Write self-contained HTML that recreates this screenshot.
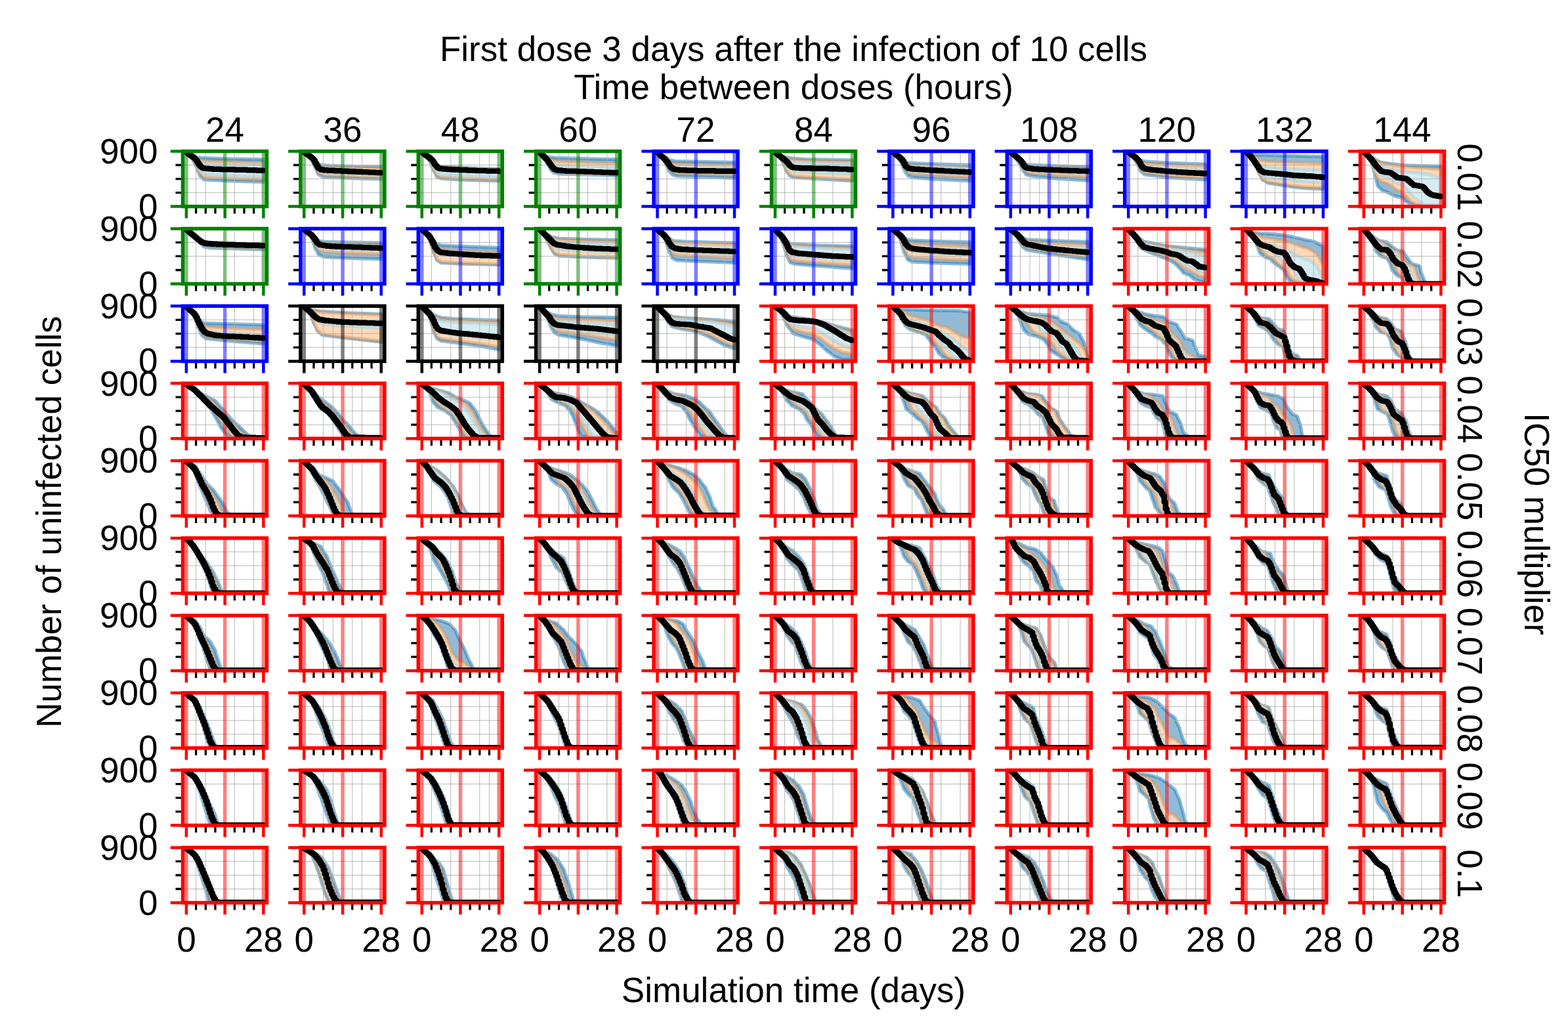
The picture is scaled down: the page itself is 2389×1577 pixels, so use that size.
<!DOCTYPE html>
<html><head><meta charset="utf-8"><title>First dose 3 days after the infection of 10 cells</title>
<style>html,body{margin:0;padding:0;background:#fff;overflow:hidden}svg{display:block}text{font-family:"Liberation Sans",sans-serif;font-size:53px;fill:#000}</style></head><body>
<svg width="2389" height="1577" viewBox="0 0 2389 1577">
<rect width="2389" height="1577" fill="#fff"/>
<g><clipPath id="c0_0"><rect x="278.5" y="230.5" width="128" height="84.1"/></clipPath><g clip-path="url(#c0_0)"><polygon points="283.9,231.5 288.1,235 290.2,236.5 292.3,237.3 293.4,237.6 294.4,238 299.7,239.5 302.8,239.8 303.9,240 304.9,240.1 309.1,240.5 310.2,240.6 311.2,240.6 353.2,242.1 401.4,242.8 401.4,277.3 353.2,275.9 311.2,274 310.2,273.3 309.1,272 304.9,268.5 303.9,266.6 302.8,263 299.7,255.7 294.4,244.1 293.4,242.5 292.3,241.5 290.2,238.1 288.1,235 283.9,231.5" fill="#8fbbd9" stroke="#1f77b4" stroke-opacity="0.5" stroke-width="5.2" stroke-linejoin="round"/><polygon points="283.9,231.5 288.1,235 291.3,237 292.3,237.5 294.4,238.4 300.7,241.5 302.8,242.7 303.9,243.2 304.9,243.6 308.1,244.8 310.2,245.1 311.2,245.3 351.1,246.8 401.4,247.8 401.4,273.5 351.1,272 311.2,270.2 310.2,269.6 308.1,267.7 304.9,265 303.9,263.1 302.8,260 300.7,255.4 294.4,243.1 292.3,240.7 291.3,239.3 288.1,235 283.9,231.5" fill="#ffd9b7" stroke="#dc985d" stroke-opacity="0.5" stroke-width="5.2" stroke-linejoin="round"/><polygon points="283.9,231.5 289.2,235.9 292.3,237.7 294.4,238.7 299.7,242.3 302.8,245.2 303.9,246 304.9,246.8 307,248.4 311.2,249.4 341.6,250.9 401.4,252.2 401.4,269 341.6,267.3 311.2,265.6 307,262.9 304.9,260.7 303.9,259.1 302.8,256.6 299.7,250.3 294.4,241.8 292.3,239.8 289.2,236.2 283.9,231.5" fill="#d6ecf3" stroke="#a5cfde" stroke-opacity="0.5" stroke-width="5.2" stroke-linejoin="round"/><path d="M298.6 230.5V314.6M313.3 230.5V314.6M357.4 230.5V314.6M386.7 230.5V314.6M278.5 293.6H406.5M278.5 272.6H406.5M278.5 251.5H406.5" stroke="#b0b0b0" stroke-width="0.9" fill="none"/><path d="M283.9 230.5V314.6M342.7 230.5V314.6M401.4 230.5V314.6" stroke="#008000" stroke-opacity="0.5" stroke-width="5.5" fill="none"/><path d="M283.9 232.4H286V234.2H288.1V235.9H290.2V237.3H292.3V238.7H294.4V240.1H296.5V242.1H298.6V244.6H300.7V248H302.8V251H304.9V253.6H307V255.4H309.1V256.2H311.2V256.8H317.5V257.3H323.8V257.8H336.4V258.2H357.4V258.7H376.2V259.2H390.9V259.7H401.4V259.9" fill="none" stroke="#000" stroke-width="8.4" stroke-linejoin="round" stroke-linecap="round"/></g><path d="M298.6 314.6v11M313.3 314.6v11M328 314.6v11M357.4 314.6v11M372 314.6v11M386.7 314.6v11M278.5 293.6h-11M278.5 272.6h-11M278.5 251.5h-11" stroke="#000" stroke-width="3.3" fill="none"/><path d="M283.9 314.6v18M342.7 314.6v18M401.4 314.6v18M278.5 314.6h-18.7M278.5 230.5h-18.7" stroke="#008000" stroke-width="4.5" fill="none"/><rect x="278.5" y="230.5" width="128" height="84.1" fill="none" stroke="#008000" stroke-width="5.5"/></g>
<g><clipPath id="c0_1"><rect x="457.9" y="230.5" width="128" height="84.1"/></clipPath><g clip-path="url(#c0_1)"><polygon points="463.3,231.5 467.5,234.5 469.6,236.1 472.8,237.9 473.8,238.5 474.9,239.6 478,242.3 480.1,244.1 483.3,247.4 484.3,248.4 485.4,249.5 486.4,250.5 487.5,251 492.7,251.5 502.2,252.4 545.2,253.5 580.8,254.1 580.8,272.8 545.2,271.9 502.2,270.3 492.7,269.8 487.5,267.3 486.4,266.7 485.4,266.2 484.3,264.7 483.3,261.3 480.1,255.6 478,250.8 474.9,243.8 473.8,242.7 472.8,242 469.6,237.8 467.5,234.5 463.3,231.5" fill="#8fbbd9" stroke="#1f77b4" stroke-opacity="0.5" stroke-width="5.2" stroke-linejoin="round"/><polygon points="463.3,231.5 467.5,234.5 470.7,236.9 472.8,238 474.9,239.7 478,242.5 481.2,246.1 483.3,248.6 484.3,249.9 485.4,251.1 487.5,252.6 492.7,253.4 502.2,254.3 579.8,256.4 580.8,256.4 580.8,270.5 579.8,270.5 502.2,267.7 492.7,267.1 487.5,264.8 485.4,263.7 484.3,262.1 483.3,259.1 481.2,255.4 478,248.8 474.9,242.9 472.8,241.1 470.7,238.6 467.5,234.5 463.3,231.5" fill="#ffd9b7" stroke="#dc985d" stroke-opacity="0.5" stroke-width="5.2" stroke-linejoin="round"/><polygon points="463.3,231.5 467.5,234.5 472.8,238.3 474.9,239.9 478,242.8 479.1,244.1 482.2,249.4 483.3,250.9 484.3,252.5 485.4,254 488.5,255.8 491.7,256.7 504.3,257.7 580.8,260.6 580.8,267.2 504.3,264.2 491.7,263.1 488.5,261.9 485.4,260.1 484.3,258.4 483.3,256 482.2,254.2 479.1,248 478,246.1 474.9,241.5 472.8,239.9 467.5,234.5 463.3,231.5" fill="#d6ecf3" stroke="#a5cfde" stroke-opacity="0.5" stroke-width="5.2" stroke-linejoin="round"/><path d="M492.7 230.5V314.6M507.4 230.5V314.6M536.8 230.5V314.6M551.4 230.5V314.6M457.9 293.6H585.9M457.9 272.6H585.9M457.9 251.5H585.9" stroke="#b0b0b0" stroke-width="0.9" fill="none"/><path d="M463.3 230.5V314.6M522.1 230.5V314.6M580.8 230.5V314.6" stroke="#008000" stroke-opacity="0.5" stroke-width="5.5" fill="none"/><path d="M463.3 232.3H465.4V233.8H467.5V235.3H469.6V236.9H471.7V238.4H473.8V240H475.9V241.9H478V244.5H480.1V248.8H482.2V252.4H484.3V256H486.4V257.3H488.5V258.5H492.7V259.2H499V259.8H509.5V260.2H520V260.7H530.5V261.2H541V261.7H551.4V262.1H561.9V262.6H572.4V263.1H580.8V263.4" fill="none" stroke="#000" stroke-width="8.4" stroke-linejoin="round" stroke-linecap="round"/></g><path d="M478 314.6v11M492.7 314.6v11M507.4 314.6v11M536.8 314.6v11M551.4 314.6v11M566.1 314.6v11M457.9 293.6h-11M457.9 272.6h-11M457.9 251.5h-11" stroke="#000" stroke-width="3.3" fill="none"/><path d="M463.3 314.6v18M522.1 314.6v18M580.8 314.6v18M457.9 314.6h-18.7M457.9 230.5h-18.7" stroke="#008000" stroke-width="4.5" fill="none"/><rect x="457.9" y="230.5" width="128" height="84.1" fill="none" stroke="#008000" stroke-width="5.5"/></g>
<g><clipPath id="c0_2"><rect x="637.3" y="230.5" width="128" height="84.1"/></clipPath><g clip-path="url(#c0_2)"><polygon points="642.8,231.5 646.9,234.8 650.1,237.2 652.2,238.3 653.2,238.9 654.3,240.1 656.4,242 658.5,243.9 659.5,245.1 660.6,246.4 663.7,250.4 664.8,251.7 665.8,252.4 669,252.9 672.1,253.7 706.7,255.5 760.2,257.6 760.2,275.6 706.7,274.1 672.1,272.1 669,270.8 665.8,269.4 664.8,267.7 663.7,265 660.6,260 659.5,257.6 658.5,254.3 656.4,249.1 654.3,244.4 653.2,243.4 652.2,242.4 650.1,239.2 646.9,234.8 642.8,231.5" fill="#8fbbd9" stroke="#1f77b4" stroke-opacity="0.5" stroke-width="5.2" stroke-linejoin="round"/><polygon points="642.8,231.5 646.9,234.8 651.1,237.9 652.2,238.4 654.3,240.1 656.4,242 658.5,243.9 659.5,245.1 660.6,246.5 663.7,250.6 664.8,251.9 665.8,252.7 672.1,254.4 707.8,256.3 760.2,258.3 760.2,273.8 707.8,272.4 672.1,270.3 665.8,267.5 664.8,265.9 663.7,263.4 660.6,258.5 659.5,256.1 658.5,253.1 656.4,248.2 654.3,243.9 652.2,241.9 651.1,240.5 646.9,234.8 642.8,231.5" fill="#ffd9b7" stroke="#dc985d" stroke-opacity="0.5" stroke-width="5.2" stroke-linejoin="round"/><polygon points="642.8,231.5 648,235.7 652.2,238.6 654.3,240.2 657.4,243 659.5,245.1 661.6,248.4 663.7,251.3 664.8,252.5 665.8,253.6 667.9,255.2 672.1,256.5 703.6,258.4 760.2,260.4 760.2,269.8 703.6,268.1 672.1,266.1 667.9,264.5 665.8,263.2 664.8,261.7 663.7,259.6 661.6,256.4 659.5,252.6 657.4,248.2 654.3,242.8 652.2,240.9 648,235.9 642.8,231.5" fill="#d6ecf3" stroke="#a5cfde" stroke-opacity="0.5" stroke-width="5.2" stroke-linejoin="round"/><path d="M657.4 230.5V314.6M686.8 230.5V314.6M730.8 230.5V314.6M745.5 230.5V314.6M637.3 293.6H765.3M637.3 272.6H765.3M637.3 251.5H765.3" stroke="#b0b0b0" stroke-width="0.9" fill="none"/><path d="M642.8 230.5V314.6M701.5 230.5V314.6M760.2 230.5V314.6" stroke="#008000" stroke-opacity="0.5" stroke-width="5.5" fill="none"/><path d="M642.8 232.4H644.8V234H646.9V235.7H649V237.2H651.1V238.7H653.2V240.2H655.3V242H657.4V243.9H659.5V246.8H661.6V250.3H663.7V252.7H665.8V255.2H667.9V256.2H670V257H674.2V257.5H680.5V258H688.9V258.5H699.4V259H712V259.6H724.6V260.1H741.3V260.6H760.2V261.1" fill="none" stroke="#000" stroke-width="8.4" stroke-linejoin="round" stroke-linecap="round"/></g><path d="M657.4 314.6v11M672.1 314.6v11M686.8 314.6v11M716.2 314.6v11M730.8 314.6v11M745.5 314.6v11M637.3 293.6h-11M637.3 272.6h-11M637.3 251.5h-11" stroke="#000" stroke-width="3.3" fill="none"/><path d="M642.8 314.6v18M701.5 314.6v18M760.2 314.6v18M637.3 314.6h-18.7M637.3 230.5h-18.7" stroke="#008000" stroke-width="4.5" fill="none"/><rect x="637.3" y="230.5" width="128" height="84.1" fill="none" stroke="#008000" stroke-width="5.5"/></g>
<g><clipPath id="c0_3"><rect x="816.7" y="230.5" width="128" height="84.1"/></clipPath><g clip-path="url(#c0_3)"><polygon points="822.2,231.5 826.3,236 832.6,238.4 836.8,239.1 838.9,239.5 844.2,240.1 850.5,240.4 895.6,241.9 939.6,242.8 939.6,267.6 895.6,266.1 850.5,264.8 844.2,263.5 838.9,258.7 836.8,253.9 832.6,246.5 826.3,236.2 822.2,231.5" fill="#8fbbd9" stroke="#1f77b4" stroke-opacity="0.5" stroke-width="5.2" stroke-linejoin="round"/><polygon points="822.2,231.5 826.3,236 834.7,240.5 836.8,241.7 838.9,242.8 844.2,245.1 850.5,245.9 898.7,247.7 939.6,248.8 939.6,265.9 898.7,264.5 850.5,262.7 844.2,261 838.9,255.6 836.8,251.5 834.7,248.1 826.3,236.2 822.2,231.5" fill="#ffd9b7" stroke="#dc985d" stroke-opacity="0.5" stroke-width="5.2" stroke-linejoin="round"/><polygon points="822.2,231.5 826.3,236.1 833.7,241.7 838.9,246.6 844.2,250.8 850.5,252.3 874.6,253.5 939.6,255.6 939.6,264.7 874.6,262.3 850.5,261.1 844.2,259.2 838.9,253.2 833.7,245 826.3,236.2 822.2,231.5" fill="#d6ecf3" stroke="#a5cfde" stroke-opacity="0.5" stroke-width="5.2" stroke-linejoin="round"/><path d="M851.5 230.5V314.6M866.2 230.5V314.6M895.6 230.5V314.6M924.9 230.5V314.6M816.7 293.6H944.7M816.7 272.6H944.7M816.7 251.5H944.7" stroke="#b0b0b0" stroke-width="0.9" fill="none"/><path d="M822.2 230.5V314.6M880.9 230.5V314.6M939.6 230.5V314.6" stroke="#008000" stroke-opacity="0.5" stroke-width="5.5" fill="none"/><path d="M822.2 232.7H824.2V235H826.3V237.3H828.4V239.4H830.5V241.5H832.6V243.6H834.7V246.5H836.8V249.4H838.9V252.3H841V254.9H843.1V257.3H845.2V258.2H847.3V259H849.4V259.5H855.7V260.1H862V260.6H878.8V261.1H891.4V261.6H904V262.1H916.5V262.6H929.1V263H939.6V263.4" fill="none" stroke="#000" stroke-width="8.4" stroke-linejoin="round" stroke-linecap="round"/></g><path d="M836.8 314.6v11M851.5 314.6v11M866.2 314.6v11M895.6 314.6v11M910.2 314.6v11M924.9 314.6v11M816.7 293.6h-11M816.7 272.6h-11M816.7 251.5h-11" stroke="#000" stroke-width="3.3" fill="none"/><path d="M822.2 314.6v18M880.9 314.6v18M939.6 314.6v18M816.7 314.6h-18.7M816.7 230.5h-18.7" stroke="#008000" stroke-width="4.5" fill="none"/><rect x="816.7" y="230.5" width="128" height="84.1" fill="none" stroke="#008000" stroke-width="5.5"/></g>
<g><clipPath id="c0_4"><rect x="996.1" y="230.5" width="128" height="84.1"/></clipPath><g clip-path="url(#c0_4)"><polygon points="1001.6,231.5 1005.7,235.9 1011,238 1013.1,239.4 1016.2,241.5 1018.3,242.8 1019.4,243.2 1022.5,244 1023.6,244.3 1026.7,245.3 1030.9,245.6 1093.8,246.8 1119,247.3 1119,271.3 1093.8,270.3 1030.9,268.3 1026.7,267 1023.6,265.6 1022.5,264.1 1019.4,260.8 1018.3,259.3 1016.2,254 1013.1,247.7 1011,244.6 1005.7,236 1001.6,231.5" fill="#8fbbd9" stroke="#1f77b4" stroke-opacity="0.5" stroke-width="5.2" stroke-linejoin="round"/><polygon points="1001.6,231.5 1005.7,236 1012,239.4 1014.1,241.2 1017.3,243.8 1018.3,244.7 1022.5,247.3 1024.6,248.1 1028.8,249.4 1036.2,249.8 1119,251.4 1119,266.7 1036.2,264.3 1028.8,263.5 1024.6,261.8 1022.5,260 1018.3,254.7 1017.3,252.6 1014.1,247 1012,243.9 1005.7,236 1001.6,231.5" fill="#ffd9b7" stroke="#dc985d" stroke-opacity="0.5" stroke-width="5.2" stroke-linejoin="round"/><polygon points="1001.6,231.5 1005.7,236 1013.1,241.3 1017.3,245.7 1021.5,250.2 1022.5,251.2 1027.8,253.8 1037.2,254.7 1119,256.2 1119,263.6 1037.2,261.7 1027.8,260.5 1022.5,257.4 1021.5,256 1017.3,249.8 1013.1,243.7 1005.7,236 1001.6,231.5" fill="#d6ecf3" stroke="#a5cfde" stroke-opacity="0.5" stroke-width="5.2" stroke-linejoin="round"/><path d="M1016.2 230.5V314.6M1045.6 230.5V314.6M1104.3 230.5V314.6M996.1 293.6H1124.1M996.1 272.6H1124.1M996.1 251.5H1124.1" stroke="#b0b0b0" stroke-width="0.9" fill="none"/><path d="M1001.6 230.5V314.6M1060.3 230.5V314.6M1119 230.5V314.6" stroke="#0000ff" stroke-opacity="0.5" stroke-width="5.5" fill="none"/><path d="M1001.6 232.7H1003.6V234.9H1005.7V237.1H1007.8V238.8H1009.9V240.6H1012V242.3H1014.1V244.9H1016.2V247.5H1018.3V250.6H1020.4V253.7H1022.5V255.7H1024.6V257H1026.7V258.2H1030.9V258.8H1035.1V259.3H1045.6V259.8H1060.3V260.3H1089.6V260.7H1119V261.1" fill="none" stroke="#000" stroke-width="8.4" stroke-linejoin="round" stroke-linecap="round"/></g><path d="M1016.2 314.6v11M1030.9 314.6v11M1045.6 314.6v11M1075 314.6v11M1089.6 314.6v11M1104.3 314.6v11M996.1 293.6h-11M996.1 272.6h-11M996.1 251.5h-11" stroke="#000" stroke-width="3.3" fill="none"/><path d="M1001.6 314.6v18M1060.3 314.6v18M1119 314.6v18M996.1 314.6h-18.7M996.1 230.5h-18.7" stroke="#0000ff" stroke-width="4.5" fill="none"/><rect x="996.1" y="230.5" width="128" height="84.1" fill="none" stroke="#0000ff" stroke-width="5.5"/></g>
<g><clipPath id="c0_5"><rect x="1175.5" y="230.5" width="128" height="84.1"/></clipPath><g clip-path="url(#c0_5)"><polygon points="1181,231.5 1185.1,235.3 1186.2,235.9 1192.5,237.9 1195.6,238.7 1197.7,239.2 1198.8,239.5 1201.9,240.2 1203,240.5 1204,240.7 1210.3,241.4 1227.1,242.5 1298.4,243.9 1298.4,275.6 1227.1,271.5 1210.3,270.5 1204,268.4 1203,267.5 1201.9,265.5 1198.8,261.7 1197.7,259.8 1195.6,254 1192.5,247.2 1186.2,236.3 1185.1,235.3 1181,231.5" fill="#8fbbd9" stroke="#1f77b4" stroke-opacity="0.5" stroke-width="5.2" stroke-linejoin="round"/><polygon points="1181,231.5 1185.1,235.3 1186.2,236 1192.5,238.4 1195.6,239.5 1197.7,240.1 1198.8,240.5 1201.9,241.7 1203,242.1 1204,242.5 1210.3,243.5 1227.1,244.6 1298.4,246.1 1298.4,273.5 1227.1,269.7 1210.3,268.7 1204,266.5 1203,265.6 1201.9,263.6 1198.8,259.8 1197.7,258 1195.6,252.8 1192.5,246.5 1186.2,236.3 1185.1,235.3 1181,231.5" fill="#ffd9b7" stroke="#dc985d" stroke-opacity="0.5" stroke-width="5.2" stroke-linejoin="round"/><polygon points="1181,231.5 1186.2,236.1 1193.5,239.7 1198.8,242.2 1203,244.9 1207.2,246.6 1212.4,247.2 1229.2,248.1 1298.4,249.7 1298.4,265.2 1229.2,262.5 1212.4,261.6 1207.2,260.6 1203,257.9 1198.8,252.4 1193.5,244.9 1186.2,236.3 1181,231.5" fill="#d6ecf3" stroke="#a5cfde" stroke-opacity="0.5" stroke-width="5.2" stroke-linejoin="round"/><path d="M1195.6 230.5V314.6M1210.3 230.5V314.6M1269 230.5V314.6M1175.5 293.6H1303.5M1175.5 272.6H1303.5M1175.5 251.5H1303.5" stroke="#b0b0b0" stroke-width="0.9" fill="none"/><path d="M1181 230.5V314.6M1239.7 230.5V314.6M1298.4 230.5V314.6" stroke="#008000" stroke-opacity="0.5" stroke-width="5.5" fill="none"/><path d="M1181 232.5H1183V234.4H1185.1V236.3H1187.2V237.9H1189.3V239.5H1191.4V241.1H1193.5V242.8H1195.6V244.4H1197.7V246.2H1199.8V248.8H1201.9V251.5H1204V253.1H1206.1V254.7H1208.2V255.2H1212.4V255.7H1218.7V256.2H1235.5V256.7H1262.8V257.2H1277.4V257.6H1292.1V258.2H1298.4V258.3" fill="none" stroke="#000" stroke-width="8.4" stroke-linejoin="round" stroke-linecap="round"/></g><path d="M1195.6 314.6v11M1210.3 314.6v11M1225 314.6v11M1254.4 314.6v11M1269 314.6v11M1283.7 314.6v11M1175.5 293.6h-11M1175.5 272.6h-11M1175.5 251.5h-11" stroke="#000" stroke-width="3.3" fill="none"/><path d="M1181 314.6v18M1239.7 314.6v18M1298.4 314.6v18M1175.5 314.6h-18.7M1175.5 230.5h-18.7" stroke="#008000" stroke-width="4.5" fill="none"/><rect x="1175.5" y="230.5" width="128" height="84.1" fill="none" stroke="#008000" stroke-width="5.5"/></g>
<g><clipPath id="c0_6"><rect x="1354.9" y="230.5" width="128" height="84.1"/></clipPath><g clip-path="url(#c0_6)"><polygon points="1360.4,231.5 1364.5,234.9 1365.6,235.8 1367.7,237.4 1370.8,238.7 1371.9,239.2 1372.9,240.1 1375,242.6 1376.1,243.7 1377.1,244.7 1378.2,245.8 1379.2,246.5 1382.4,247.2 1383.4,247.6 1387.6,248.5 1392.9,248.7 1424.3,249.8 1477.8,251.4 1477.8,275.6 1424.3,273.1 1392.9,270.7 1387.6,269.5 1383.4,268 1382.4,266.3 1379.2,262.2 1378.2,260.7 1377.1,258.1 1376.1,254.9 1375,252.6 1372.9,248 1371.9,246.2 1370.8,245 1367.7,239.8 1365.6,236.3 1364.5,234.9 1360.4,231.5" fill="#8fbbd9" stroke="#1f77b4" stroke-opacity="0.5" stroke-width="5.2" stroke-linejoin="round"/><polygon points="1360.4,231.5 1365.6,235.8 1368.7,238 1372.9,240.5 1376.1,244.3 1378.2,247 1379.2,248.1 1383.4,250.1 1385.5,250.8 1393.9,251.5 1430.6,253.1 1477.8,254.7 1477.8,269.7 1430.6,267.4 1393.9,265 1385.5,263.4 1383.4,262.5 1379.2,257.5 1378.2,255.7 1376.1,250.7 1372.9,245.1 1368.7,240.1 1365.6,236 1360.4,231.5" fill="#ffd9b7" stroke="#dc985d" stroke-opacity="0.5" stroke-width="5.2" stroke-linejoin="round"/><polygon points="1360.4,231.5 1365.6,235.8 1370.8,239.3 1372.9,240.8 1376.1,244.6 1379.2,249.1 1383.4,251.7 1384.5,252.3 1396,253.4 1445.3,255.7 1477.8,256.9 1477.8,265.7 1445.3,264.2 1396,261.3 1384.5,259.6 1383.4,258.9 1379.2,254.4 1376.1,247.9 1372.9,243.1 1370.8,241.1 1365.6,235.9 1360.4,231.5" fill="#d6ecf3" stroke="#a5cfde" stroke-opacity="0.5" stroke-width="5.2" stroke-linejoin="round"/><path d="M1389.7 230.5V314.6M1433.8 230.5V314.6M1463.1 230.5V314.6M1354.9 293.6H1482.9M1354.9 272.6H1482.9M1354.9 251.5H1482.9" stroke="#b0b0b0" stroke-width="0.9" fill="none"/><path d="M1360.4 230.5V314.6M1419.1 230.5V314.6M1477.8 230.5V314.6" stroke="#0000ff" stroke-opacity="0.5" stroke-width="5.5" fill="none"/><path d="M1360.4 232.3H1362.4V234H1364.5V235.8H1366.6V237.4H1368.7V239H1370.8V240.6H1372.9V242.8H1375V245.6H1377.1V249.7H1379.2V253.2H1381.3V255H1383.4V256.6H1387.6V257.2H1391.8V257.8H1400.2V258.4H1408.6V258.9H1417V259.5H1427.5V260H1438V260.6H1448.4V261.1H1458.9V261.6H1469.4V262.1H1477.8V262.5" fill="none" stroke="#000" stroke-width="8.4" stroke-linejoin="round" stroke-linecap="round"/></g><path d="M1375 314.6v11M1389.7 314.6v11M1404.4 314.6v11M1433.8 314.6v11M1448.4 314.6v11M1463.1 314.6v11M1354.9 293.6h-11M1354.9 272.6h-11M1354.9 251.5h-11" stroke="#000" stroke-width="3.3" fill="none"/><path d="M1360.4 314.6v18M1419.1 314.6v18M1477.8 314.6v18M1354.9 314.6h-18.7M1354.9 230.5h-18.7" stroke="#0000ff" stroke-width="4.5" fill="none"/><rect x="1354.9" y="230.5" width="128" height="84.1" fill="none" stroke="#0000ff" stroke-width="5.5"/></g>
<g><clipPath id="c0_7"><rect x="1534.3" y="230.5" width="128" height="84.1"/></clipPath><g clip-path="url(#c0_7)"><polygon points="1539.8,231.5 1543.9,234.8 1545,235.7 1548.1,238.2 1550.2,239.2 1551.3,240 1553.4,242.6 1555.5,244.7 1557.6,246.7 1559.7,248 1561.8,248.9 1562.8,249.5 1564.9,250.5 1570.2,251 1602.7,252.5 1657.2,254.1 1657.2,275.1 1602.7,271.6 1570.2,268.1 1564.9,266.6 1562.8,265.6 1561.8,263.7 1559.7,261.1 1557.6,258.3 1555.5,253.8 1553.4,250 1551.3,246.4 1550.2,244.8 1548.1,241.4 1545,236.1 1543.9,234.8 1539.8,231.5" fill="#8fbbd9" stroke="#1f77b4" stroke-opacity="0.5" stroke-width="5.2" stroke-linejoin="round"/><polygon points="1539.8,231.5 1545,235.7 1549.2,238.9 1551.3,240.4 1555.5,244.8 1558.6,248.4 1561.8,250.8 1562.8,251.5 1564.9,252.8 1574.4,253.7 1606.9,255.3 1657.2,256.9 1657.2,269.5 1606.9,266.8 1574.4,264.2 1564.9,262.4 1562.8,261.2 1561.8,259.7 1558.6,255.7 1555.5,250.3 1551.3,244.3 1549.2,241.6 1545,235.9 1539.8,231.5" fill="#ffd9b7" stroke="#dc985d" stroke-opacity="0.5" stroke-width="5.2" stroke-linejoin="round"/><polygon points="1539.8,231.5 1545,235.7 1552.3,241.8 1556.5,246 1559.7,250.4 1561.8,252.3 1564.9,254.4 1577.5,255.9 1626.8,258 1657.2,259 1657.2,264.6 1626.8,263.3 1577.5,260.6 1564.9,258.7 1561.8,256.2 1559.7,253.9 1556.5,248.7 1552.3,243.5 1545,235.8 1539.8,231.5" fill="#d6ecf3" stroke="#a5cfde" stroke-opacity="0.5" stroke-width="5.2" stroke-linejoin="round"/><path d="M1554.4 230.5V314.6M1569.1 230.5V314.6M1583.8 230.5V314.6M1613.2 230.5V314.6M1627.8 230.5V314.6M1534.3 293.6H1662.3M1534.3 272.6H1662.3M1534.3 251.5H1662.3" stroke="#b0b0b0" stroke-width="0.9" fill="none"/><path d="M1539.8 230.5V314.6M1598.5 230.5V314.6M1657.2 230.5V314.6" stroke="#0000ff" stroke-opacity="0.5" stroke-width="5.5" fill="none"/><path d="M1539.8 232.3H1541.8V234H1543.9V235.7H1546V237.4H1548.1V239.2H1550.2V241.1H1552.3V243H1554.4V245.1H1556.5V247.8H1558.6V251.5H1560.7V253.7H1562.8V255.3H1564.9V256.3H1569.1V256.9H1573.3V257.6H1581.7V258.1H1592.2V258.6H1602.7V259.1H1615.3V259.6H1627.8V260.1H1642.5V260.6H1657.2V261.1" fill="none" stroke="#000" stroke-width="8.4" stroke-linejoin="round" stroke-linecap="round"/></g><path d="M1554.4 314.6v11M1569.1 314.6v11M1583.8 314.6v11M1613.2 314.6v11M1627.8 314.6v11M1642.5 314.6v11M1534.3 293.6h-11M1534.3 272.6h-11M1534.3 251.5h-11" stroke="#000" stroke-width="3.3" fill="none"/><path d="M1539.8 314.6v18M1598.5 314.6v18M1657.2 314.6v18M1534.3 314.6h-18.7M1534.3 230.5h-18.7" stroke="#0000ff" stroke-width="4.5" fill="none"/><rect x="1534.3" y="230.5" width="128" height="84.1" fill="none" stroke="#0000ff" stroke-width="5.5"/></g>
<g><clipPath id="c0_8"><rect x="1713.7" y="230.5" width="128" height="84.1"/></clipPath><g clip-path="url(#c0_8)"><polygon points="1719.2,231.5 1724.4,235.6 1726.5,237.2 1729.6,238.5 1731.7,239.8 1734.9,241.9 1737,243.3 1738,243.9 1742.2,245.2 1743.3,245.6 1746.4,246.2 1781,248.2 1836.6,250 1836.6,274 1781,270.7 1746.4,266.4 1743.3,265.7 1742.2,264.4 1738,260.8 1737,259.4 1734.9,253.9 1731.7,247.7 1729.6,244.6 1726.5,239.4 1724.4,235.8 1719.2,231.5" fill="#8fbbd9" stroke="#1f77b4" stroke-opacity="0.5" stroke-width="5.2" stroke-linejoin="round"/><polygon points="1719.2,231.5 1724.4,235.6 1727.5,237.7 1731.7,240.1 1734.9,242.5 1737,244.2 1739.1,245.9 1743.3,247.7 1745.4,248.4 1781,250.8 1836.6,252.9 1836.6,271.1 1781,267.9 1745.4,263.6 1743.3,262.9 1739.1,258.9 1737,256 1734.9,251.3 1731.7,245.7 1727.5,240.2 1724.4,235.7 1719.2,231.5" fill="#ffd9b7" stroke="#dc985d" stroke-opacity="0.5" stroke-width="5.2" stroke-linejoin="round"/><polygon points="1719.2,231.5 1724.4,235.6 1731.7,240.7 1735.9,244.9 1739.1,249.1 1740.1,250.2 1744.3,252.7 1764.2,254.8 1787.3,256.4 1836.6,258.7 1836.6,267.3 1787.3,264.5 1764.2,262.5 1744.3,259.9 1740.1,256.6 1739.1,255.1 1735.9,249.5 1731.7,243.1 1724.4,235.6 1719.2,231.5" fill="#d6ecf3" stroke="#a5cfde" stroke-opacity="0.5" stroke-width="5.2" stroke-linejoin="round"/><path d="M1733.8 230.5V314.6M1763.2 230.5V314.6M1807.2 230.5V314.6M1821.9 230.5V314.6M1713.7 293.6H1841.7M1713.7 272.6H1841.7M1713.7 251.5H1841.7" stroke="#b0b0b0" stroke-width="0.9" fill="none"/><path d="M1719.2 230.5V314.6M1777.9 230.5V314.6M1836.6 230.5V314.6" stroke="#0000ff" stroke-opacity="0.5" stroke-width="5.5" fill="none"/><path d="M1719.2 232.3H1721.2V233.9H1723.3V235.6H1725.4V237.2H1727.5V238.8H1729.6V240.4H1731.7V242.4H1733.8V245.1H1735.9V248.1H1738V252.3H1740.1V254.8H1742.2V256.4H1744.3V257.4H1748.5V258H1752.7V258.7H1756.9V259.1H1763.2V259.8H1769.5V260.4H1775.8V261H1784.2V261.6H1792.6V262.2H1801V262.7H1809.3V263.2H1819.8V263.7H1830.3V264.3H1836.6V264.5" fill="none" stroke="#000" stroke-width="8.4" stroke-linejoin="round" stroke-linecap="round"/></g><path d="M1733.8 314.6v11M1748.5 314.6v11M1763.2 314.6v11M1792.6 314.6v11M1807.2 314.6v11M1821.9 314.6v11M1713.7 293.6h-11M1713.7 272.6h-11M1713.7 251.5h-11" stroke="#000" stroke-width="3.3" fill="none"/><path d="M1719.2 314.6v18M1777.9 314.6v18M1836.6 314.6v18M1713.7 314.6h-18.7M1713.7 230.5h-18.7" stroke="#0000ff" stroke-width="4.5" fill="none"/><rect x="1713.7" y="230.5" width="128" height="84.1" fill="none" stroke="#0000ff" stroke-width="5.5"/></g>
<g><clipPath id="c0_9"><rect x="1893.1" y="230.5" width="128" height="84.1"/></clipPath><g clip-path="url(#c0_9)"><polygon points="1898.6,231.5 1899.6,231.9 1901.7,234 1903.8,234.7 1909,235.2 1910.1,235.4 1912.2,235.6 1913.2,235.7 1915.3,235.9 1916.4,236 1917.4,236 1921.6,236.2 1922.7,236.2 1923.7,236.2 1932.1,236.4 1951,237 1973,237.6 1990.8,238 2016,238.7 2016,288.1 1990.8,287 1973,285.4 1951,281.9 1932.1,278.9 1923.7,274.1 1922.7,272.5 1921.6,269.6 1917.4,262.6 1916.4,260 1915.3,255.9 1913.2,249.3 1912.2,247 1910.1,244.4 1909,242.7 1903.8,236 1901.7,234 1899.6,231.9 1898.6,231.5" fill="#8fbbd9" stroke="#1f77b4" stroke-opacity="0.5" stroke-width="5.2" stroke-linejoin="round"/><polygon points="1898.6,231.5 1899.6,231.9 1901.7,234 1903.8,234.7 1905.9,235 1912.2,238.5 1913.2,239.3 1915.3,240.9 1916.4,241.6 1917.4,242.4 1920.6,244.7 1921.6,244.8 1922.7,244.9 1923.7,245 1932.1,245.9 1944.7,246.7 1969.9,247.4 1990.8,248.1 2016,248.8 2016,286.3 1990.8,285.2 1969.9,283.2 1944.7,279.1 1932.1,277.3 1923.7,272.8 1922.7,271.3 1921.6,268.7 1920.6,267 1917.4,261.9 1916.4,259.4 1915.3,255.5 1913.2,249.2 1912.2,247 1905.9,238.5 1903.8,236 1901.7,234 1899.6,231.9 1898.6,231.5" fill="#ffd9b7" stroke="#dc985d" stroke-opacity="0.5" stroke-width="5.2" stroke-linejoin="round"/><polygon points="1898.6,231.5 1899.6,231.9 1904.8,236.7 1912.2,243.4 1914.3,245.3 1916.4,247.4 1918.5,249.6 1920.6,251.7 1921.6,252.7 1922.7,253.8 1924.8,254.1 1929,254.7 1933.2,255.3 1945.7,256.5 1976.2,258 2016,259.5 2016,278.3 1976.2,275.8 1945.7,271.9 1933.2,270.5 1929,269.4 1924.8,267.8 1922.7,266.1 1921.6,264.4 1920.6,263.3 1918.5,260 1916.4,256.3 1914.3,251.2 1912.2,247 1904.8,237.2 1899.6,231.9 1898.6,231.5" fill="#d6ecf3" stroke="#a5cfde" stroke-opacity="0.5" stroke-width="5.2" stroke-linejoin="round"/><path d="M1927.9 230.5V314.6M1942.6 230.5V314.6M1972 230.5V314.6M2001.3 230.5V314.6M1893.1 293.6H2021.1M1893.1 272.6H2021.1M1893.1 251.5H2021.1" stroke="#b0b0b0" stroke-width="0.9" fill="none"/><path d="M1898.6 230.5V314.6M1957.3 230.5V314.6M2016 230.5V314.6" stroke="#0000ff" stroke-opacity="0.5" stroke-width="5.5" fill="none"/><path d="M1898.6 231.9H1900.6V234H1902.7V236H1904.8V238.5H1906.9V241.3H1909V244.1H1911.1V247H1913.2V250.2H1915.3V253.3H1917.4V256.5H1919.5V259.5H1921.6V260.8H1923.7V262.1H1925.8V263H1932.1V263.6H1938.4V264.1H1944.7V264.7H1951V265.2H1957.3V265.8H1961.5V266.3H1965.7V266.8H1969.9V267.3H1978.3V267.8H1988.7V268.3H1999.2V268.9H2005.5V269.4H2011.8V270H2016V270.2" fill="none" stroke="#000" stroke-width="8.4" stroke-linejoin="round" stroke-linecap="round"/></g><path d="M1913.2 314.6v11M1927.9 314.6v11M1942.6 314.6v11M1972 314.6v11M1986.6 314.6v11M2001.3 314.6v11M1893.1 293.6h-11M1893.1 272.6h-11M1893.1 251.5h-11" stroke="#000" stroke-width="3.3" fill="none"/><path d="M1898.6 314.6v18M1957.3 314.6v18M2016 314.6v18M1893.1 314.6h-18.7M1893.1 230.5h-18.7" stroke="#0000ff" stroke-width="4.5" fill="none"/><rect x="1893.1" y="230.5" width="128" height="84.1" fill="none" stroke="#0000ff" stroke-width="5.5"/></g>
<g><clipPath id="c0_10"><rect x="2072.5" y="230.5" width="128" height="84.1"/></clipPath><g clip-path="url(#c0_10)"><polygon points="2077.9,231.5 2083.2,236 2085.3,238 2087.4,239 2088.4,239.6 2089.5,240.1 2093.7,242.2 2096.8,243.7 2097.9,244.3 2098.9,244.8 2103.1,246.9 2105.2,247.5 2113.6,248.7 2126.2,250.3 2134.6,251.3 2135.6,251.4 2136.7,251.5 2139.8,251.6 2140.9,251.7 2143,251.8 2148.2,252 2168.1,252.6 2195.4,253 2195.4,311.9 2168.1,311.9 2148.2,310.3 2143,307.6 2140.9,306.1 2139.8,304.5 2136.7,301.1 2135.6,300.8 2134.6,300.9 2126.2,299.1 2113.6,292.9 2105.2,289.8 2103.1,287.3 2098.9,283.1 2097.9,279.2 2096.8,274.2 2093.7,261.6 2089.5,246.7 2088.4,244.1 2087.4,243.8 2085.3,239.9 2083.2,236 2077.9,231.5" fill="#8fbbd9" stroke="#1f77b4" stroke-opacity="0.5" stroke-width="5.2" stroke-linejoin="round"/><polygon points="2077.9,231.5 2083.2,236 2085.3,238 2087.4,239.2 2088.4,239.8 2089.5,240.4 2092.6,242.2 2097.9,245.2 2104.2,248.6 2111.5,249.8 2115.7,250.3 2125.1,251.9 2129.3,252.7 2135.6,253.4 2146.1,254.3 2150.3,254.8 2157.7,255.4 2169.2,255.9 2184.9,257.3 2195.4,257.6 2195.4,311.9 2184.9,311.9 2169.2,311.9 2157.7,311.1 2150.3,307.4 2146.1,302.7 2135.6,291.3 2129.3,290.1 2125.1,287.2 2115.7,279.9 2111.5,278.6 2104.2,276.2 2097.9,269.9 2092.6,257.7 2089.5,246.7 2088.4,244.1 2087.4,243.8 2085.3,239.9 2083.2,236 2077.9,231.5" fill="#ffd9b7" stroke="#dc985d" stroke-opacity="0.5" stroke-width="5.2" stroke-linejoin="round"/><polygon points="2077.9,231.5 2083.2,236 2085.3,238 2086.3,239 2087.4,239.9 2088.4,240.9 2089.5,241.8 2090.5,242.8 2094.7,246.6 2095.8,247.5 2097.9,249.3 2104.2,252.5 2111.5,256.1 2115.7,257.1 2125.1,259.3 2135.6,261.8 2143,262.2 2152.4,262.8 2163.9,264 2170.2,264.6 2176.5,265.6 2194.4,270.9 2195.4,270.9 2195.4,311.9 2194.4,311.9 2176.5,311.9 2170.2,311.7 2163.9,307.7 2152.4,299.4 2143,287.7 2135.6,281 2125.1,277.7 2115.7,270.8 2111.5,269.5 2104.2,267.1 2097.9,262.5 2095.8,260.9 2094.7,259.1 2090.5,250.2 2089.5,246.7 2088.4,244.1 2087.4,243.5 2086.3,241.3 2085.3,239.9 2083.2,236 2077.9,231.5" fill="#d6ecf3" stroke="#a5cfde" stroke-opacity="0.5" stroke-width="5.2" stroke-linejoin="round"/><path d="M2092.6 230.5V314.6M2122 230.5V314.6M2166 230.5V314.6M2072.5 293.6H2200.5M2072.5 272.6H2200.5M2072.5 251.5H2200.5" stroke="#b0b0b0" stroke-width="0.9" fill="none"/><path d="M2077.9 230.5V314.6M2136.7 230.5V314.6M2195.4 230.5V314.6" stroke="#ff0000" stroke-opacity="0.5" stroke-width="5.5" fill="none"/><path d="M2077.9 232.3H2080V234.1H2082.1V236H2084.2V238.1H2086.3V240.6H2088.4V243H2090.5V245.6H2092.6V248.4H2094.7V251.2H2096.8V254H2098.9V256.1H2101V258.2H2103.1V260.3H2105.2V261.1H2107.3V261.7H2109.4V262.2H2113.6V262.7H2117.8V263.4H2119.9V264.7H2122V266.1H2124.1V267.5H2126.2V269.1H2128.3V270.7H2132.5V271.3H2136.7V271.8H2140.9V272.3H2143V273.2H2145.1V275.2H2147.2V277.1H2149.3V279H2151.4V280.6H2153.5V282.2H2157.7V282.9H2161.8V283.6H2166V284.3H2168.1V285.7H2170.2V288.1H2172.3V290.6H2174.4V292.8H2176.5V294.4H2178.6V295.9H2180.7V296.6H2182.8V297.3H2184.9V298H2189.1V298.7H2193.3V299.3H2195.4" fill="none" stroke="#000" stroke-width="8.4" stroke-linejoin="round" stroke-linecap="round"/></g><path d="M2092.6 314.6v11M2107.3 314.6v11M2122 314.6v11M2151.4 314.6v11M2166 314.6v11M2180.7 314.6v11M2072.5 293.6h-11M2072.5 272.6h-11M2072.5 251.5h-11" stroke="#000" stroke-width="3.3" fill="none"/><path d="M2077.9 314.6v18M2136.7 314.6v18M2195.4 314.6v18M2072.5 314.6h-18.7M2072.5 230.5h-18.7" stroke="#ff0000" stroke-width="4.5" fill="none"/><rect x="2072.5" y="230.5" width="128" height="84.1" fill="none" stroke="#ff0000" stroke-width="5.5"/></g>
<g><clipPath id="c1_0"><rect x="278.5" y="348.4" width="128" height="84.1"/></clipPath><g clip-path="url(#c1_0)"><polygon points="283.9,349.3 289.2,354.1 292.3,355.7 299.7,361.5 306,366.3 308.1,367.6 311.2,368 319.6,369.3 349,370.9 401.4,372.3 401.4,380.4 349,378.7 319.6,377.8 311.2,376.3 308.1,373.4 306,371.7 299.7,365.5 292.3,357.4 289.2,354.1 283.9,349.3" fill="#8fbbd9" stroke="#1f77b4" stroke-opacity="0.5" stroke-width="5.2" stroke-linejoin="round"/><polygon points="283.9,349.3 290.2,354.8 294.4,357.9 304.9,366 307,367.6 311.2,368.8 319.6,370.1 351.1,371.7 401.4,373 401.4,378 351.1,376.6 319.6,375.4 311.2,374 307,371 304.9,369.3 294.4,359.3 290.2,355 283.9,349.3" fill="#ffd9b7" stroke="#dc985d" stroke-opacity="0.5" stroke-width="5.2" stroke-linejoin="round"/><polygon points="283.9,349.3 290.2,354.9 304.9,366.5 307,368.1 312.3,369.9 326.9,371.4 380.4,373.2 401.4,373.7 401.4,376.1 380.4,375.6 326.9,373.8 312.3,372.5 307,369.7 304.9,368.1 290.2,355 283.9,349.3" fill="#d6ecf3" stroke="#a5cfde" stroke-opacity="0.5" stroke-width="5.2" stroke-linejoin="round"/><path d="M298.6 348.4V432.5M313.3 348.4V432.5M357.4 348.4V432.5M386.7 348.4V432.5M278.5 390.4H406.5M278.5 369.4H406.5" stroke="#b0b0b0" stroke-width="0.9" fill="none"/><path d="M283.9 348.4V432.5M342.7 348.4V432.5M401.4 348.4V432.5" stroke="#008000" stroke-opacity="0.5" stroke-width="5.5" fill="none"/><path d="M283.9 350.3H286V352.2H288.1V354.1H290.2V355.8H292.3V357.6H294.4V359.3H296.5V361H298.6V362.7H300.7V364.4H302.8V366.1H304.9V367.7H307V369H309.1V369.8H311.2V370.7H315.4V371.2H321.7V371.7H330.1V372.2H340.6V372.7H357.4V373.2H374.1V373.7H395.1V374.2H401.4V374.3" fill="none" stroke="#000" stroke-width="8.4" stroke-linejoin="round" stroke-linecap="round"/></g><path d="M298.6 432.5v11M313.3 432.5v11M328 432.5v11M357.4 432.5v11M372 432.5v11M386.7 432.5v11M278.5 411.5h-11M278.5 390.4h-11M278.5 369.4h-11" stroke="#000" stroke-width="3.3" fill="none"/><path d="M283.9 432.5v18M342.7 432.5v18M401.4 432.5v18M278.5 432.5h-18.7M278.5 348.4h-18.7" stroke="#008000" stroke-width="4.5" fill="none"/><rect x="278.5" y="348.4" width="128" height="84.1" fill="none" stroke="#008000" stroke-width="5.5"/></g>
<g><clipPath id="c1_1"><rect x="457.9" y="348.4" width="128" height="84.1"/></clipPath><g clip-path="url(#c1_1)"><polygon points="463.3,349.3 468.6,353.5 471.7,355.6 472.8,356.1 473.8,356.6 474.9,357.4 478,359.6 479.1,360.3 480.1,361 483.3,364.4 484.3,365.5 485.4,366.5 486.4,367 490.6,367.5 492.7,368 504.3,368.5 531.5,369.1 580.8,370 580.8,394.8 531.5,393.5 504.3,392.2 492.7,391.5 490.6,390.3 486.4,388.3 485.4,387.8 484.3,386.4 483.3,383.6 480.1,378.5 479.1,375.9 478,371.7 474.9,362 473.8,360.8 472.8,360.2 471.7,358.5 468.6,353.5 463.3,349.3" fill="#8fbbd9" stroke="#1f77b4" stroke-opacity="0.5" stroke-width="5.2" stroke-linejoin="round"/><polygon points="463.3,349.3 468.6,353.5 472.8,356.3 474.9,357.7 478,360.5 479.1,361.4 481.2,363.8 483.3,366.6 484.3,367.5 485.4,368.5 487.5,369.3 493.8,370.5 524.2,371.9 580.8,373.3 580.8,387.1 524.2,385.5 493.8,383.5 487.5,381.5 485.4,380.2 484.3,379.1 483.3,377.2 481.2,373.8 479.1,370.1 478,367.2 474.9,360.2 472.8,358.5 468.6,353.5 463.3,349.3" fill="#ffd9b7" stroke="#dc985d" stroke-opacity="0.5" stroke-width="5.2" stroke-linejoin="round"/><polygon points="463.3,349.3 469.6,354.2 473.8,357.1 474.9,357.9 478,361.2 481.2,365.1 483.3,368.2 485.4,369.9 487.5,371.1 494.8,372.5 511.6,373.5 580.8,375.7 580.8,382.3 511.6,379.9 494.8,378.6 487.5,376.9 485.4,375.5 483.3,373.2 481.2,369.8 478,364.3 474.9,359.1 473.8,358.2 469.6,354.4 463.3,349.3" fill="#d6ecf3" stroke="#a5cfde" stroke-opacity="0.5" stroke-width="5.2" stroke-linejoin="round"/><path d="M492.7 348.4V432.5M507.4 348.4V432.5M536.8 348.4V432.5M551.4 348.4V432.5M457.9 390.4H585.9M457.9 369.4H585.9" stroke="#b0b0b0" stroke-width="0.9" fill="none"/><path d="M463.3 348.4V432.5M522.1 348.4V432.5M580.8 348.4V432.5" stroke="#0000ff" stroke-opacity="0.5" stroke-width="5.5" fill="none"/><path d="M463.3 350.1H465.4V351.8H467.5V353.5H469.6V355H471.7V356.6H473.8V358.1H475.9V360.6H478V363.2H480.1V366.4H482.2V369.7H484.3V371.4H486.4V373H488.5V373.4H492.7V374.1H496.9V374.7H503.2V375.2H511.6V375.7H520V376.1H536.8V376.6H551.4V377.1H564V377.6H576.6V378H580.8V378.1" fill="none" stroke="#000" stroke-width="8.4" stroke-linejoin="round" stroke-linecap="round"/></g><path d="M478 432.5v11M492.7 432.5v11M507.4 432.5v11M536.8 432.5v11M551.4 432.5v11M566.1 432.5v11M457.9 411.5h-11M457.9 390.4h-11M457.9 369.4h-11" stroke="#000" stroke-width="3.3" fill="none"/><path d="M463.3 432.5v18M522.1 432.5v18M580.8 432.5v18M457.9 432.5h-18.7M457.9 348.4h-18.7" stroke="#0000ff" stroke-width="4.5" fill="none"/><rect x="457.9" y="348.4" width="128" height="84.1" fill="none" stroke="#0000ff" stroke-width="5.5"/></g>
<g><clipPath id="c1_2"><rect x="637.3" y="348.4" width="128" height="84.1"/></clipPath><g clip-path="url(#c1_2)"><polygon points="642.8,349.3 648,353.8 650.1,355.1 652.2,356 653.2,356.7 654.3,358.2 658.5,363.4 659.5,364.7 660.6,365.9 663.7,369.7 664.8,371 665.8,371.7 669,372.5 672.1,373.6 699.4,375.2 760.2,377.3 760.2,403.5 699.4,401.9 672.1,400.5 669,398.5 665.8,396.5 664.8,394.2 663.7,390.9 660.6,384.6 659.5,381.4 658.5,377.4 654.3,363.9 653.2,362.6 652.2,361.6 650.1,357.8 648,354 642.8,349.3" fill="#8fbbd9" stroke="#1f77b4" stroke-opacity="0.5" stroke-width="5.2" stroke-linejoin="round"/><polygon points="642.8,349.3 648,353.8 652.2,357.1 654.3,359.3 658.5,365.4 659.5,367.1 660.6,369 662.7,372.8 663.7,374.1 664.8,375.4 665.8,376.5 670,378.8 672.1,379.6 697.3,381.7 757.1,384.3 760.2,384.4 760.2,402.5 757.1,402.4 697.3,400.6 672.1,399.2 670,397.9 665.8,395.2 664.8,393 663.7,389.8 662.7,387.8 660.6,383.6 659.5,380.4 658.5,376.6 654.3,363.6 652.2,361.3 648,354 642.8,349.3" fill="#ffd9b7" stroke="#dc985d" stroke-opacity="0.5" stroke-width="5.2" stroke-linejoin="round"/><polygon points="642.8,349.3 648,353.8 654.3,359.7 658.5,366.4 660.6,370.4 662.7,374.7 665.8,378.6 667.9,380.4 672.1,382.4 696.2,384.6 743.4,387 760.2,387.6 760.2,392.8 743.4,392.3 696.2,389.9 672.1,387.8 667.9,385.6 665.8,383.6 662.7,378.8 660.6,374.1 658.5,369.2 654.3,360.9 648,353.9 642.8,349.3" fill="#d6ecf3" stroke="#a5cfde" stroke-opacity="0.5" stroke-width="5.2" stroke-linejoin="round"/><path d="M657.4 348.4V432.5M686.8 348.4V432.5M730.8 348.4V432.5M745.5 348.4V432.5M637.3 390.4H765.3M637.3 369.4H765.3" stroke="#b0b0b0" stroke-width="0.9" fill="none"/><path d="M642.8 348.4V432.5M701.5 348.4V432.5M760.2 348.4V432.5" stroke="#0000ff" stroke-opacity="0.5" stroke-width="5.5" fill="none"/><path d="M642.8 350.2H644.8V352H646.9V353.8H649V355.9H651.1V358H653.2V360.1H655.3V363.4H657.4V367.1H659.5V371.5H661.6V376.3H663.7V379H665.8V381.7H667.9V383.1H670V384.2H672.1V384.7H676.3V385.2H680.5V385.7H684.7V386.2H691V386.6H697.3V387.1H705.7V387.7H714.1V388.2H722.5V388.7H732.9V389.2H747.6V389.7H760.2V390.1" fill="none" stroke="#000" stroke-width="8.4" stroke-linejoin="round" stroke-linecap="round"/></g><path d="M657.4 432.5v11M672.1 432.5v11M686.8 432.5v11M716.2 432.5v11M730.8 432.5v11M745.5 432.5v11M637.3 411.5h-11M637.3 390.4h-11M637.3 369.4h-11" stroke="#000" stroke-width="3.3" fill="none"/><path d="M642.8 432.5v18M701.5 432.5v18M760.2 432.5v18M637.3 432.5h-18.7M637.3 348.4h-18.7" stroke="#0000ff" stroke-width="4.5" fill="none"/><rect x="637.3" y="348.4" width="128" height="84.1" fill="none" stroke="#0000ff" stroke-width="5.5"/></g>
<g><clipPath id="c1_3"><rect x="816.7" y="348.4" width="128" height="84.1"/></clipPath><g clip-path="url(#c1_3)"><polygon points="822.2,349.3 826.3,353.3 827.4,354.3 834.7,357.8 836.8,358.9 838.9,359.9 842.1,361.2 844.2,361.7 845.2,361.9 851.5,363.3 891.4,364.6 939.6,365.5 939.6,393.2 891.4,391.8 851.5,389.9 845.2,386.8 844.2,385.7 842.1,382 838.9,377.3 836.8,372.4 834.7,368.2 827.4,354.8 826.3,353.3 822.2,349.3" fill="#8fbbd9" stroke="#1f77b4" stroke-opacity="0.5" stroke-width="5.2" stroke-linejoin="round"/><polygon points="822.2,349.3 826.3,353.3 828.4,354.9 834.7,358.4 836.8,359.6 838.9,360.8 843.1,362.7 844.2,363.1 846.3,363.6 851.5,364.8 889.3,366.5 939.6,367.6 939.6,391.9 889.3,390.4 851.5,388.3 846.3,385.8 844.2,384.3 843.1,382.3 838.9,376.2 836.8,371.6 834.7,367.6 828.4,356.6 826.3,353.3 822.2,349.3" fill="#ffd9b7" stroke="#dc985d" stroke-opacity="0.5" stroke-width="5.2" stroke-linejoin="round"/><polygon points="822.2,349.3 827.4,354.3 836.8,361.3 840,363.7 844.2,366.3 850.5,368.2 876.7,370.5 931.2,372.5 939.6,372.7 939.6,384.6 931.2,384.3 876.7,381.8 850.5,379 844.2,376.2 840,371.2 836.8,366.8 827.4,354.5 822.2,349.3" fill="#d6ecf3" stroke="#a5cfde" stroke-opacity="0.5" stroke-width="5.2" stroke-linejoin="round"/><path d="M851.5 348.4V432.5M866.2 348.4V432.5M895.6 348.4V432.5M924.9 348.4V432.5M816.7 390.4H944.7M816.7 369.4H944.7" stroke="#b0b0b0" stroke-width="0.9" fill="none"/><path d="M822.2 348.4V432.5M880.9 348.4V432.5M939.6 348.4V432.5" stroke="#008000" stroke-opacity="0.5" stroke-width="5.5" fill="none"/><path d="M822.2 350.3H824.2V352.3H826.3V354.3H828.4V356.4H830.5V358.5H832.6V360.6H834.7V362.7H836.8V364.8H838.9V366.9H841V369H843.1V371H845.2V371.8H847.3V372.7H849.4V373.3H853.6V373.9H857.8V374.5H862V375.2H866.2V375.7H870.4V376.1H874.6V376.6H880.9V377.1H889.3V377.7H897.7V378.2H906.1V378.7H916.5V379.1H929.1V379.6H939.6V380" fill="none" stroke="#000" stroke-width="8.4" stroke-linejoin="round" stroke-linecap="round"/></g><path d="M836.8 432.5v11M851.5 432.5v11M866.2 432.5v11M895.6 432.5v11M910.2 432.5v11M924.9 432.5v11M816.7 411.5h-11M816.7 390.4h-11M816.7 369.4h-11" stroke="#000" stroke-width="3.3" fill="none"/><path d="M822.2 432.5v18M880.9 432.5v18M939.6 432.5v18M816.7 432.5h-18.7M816.7 348.4h-18.7" stroke="#008000" stroke-width="4.5" fill="none"/><rect x="816.7" y="348.4" width="128" height="84.1" fill="none" stroke="#008000" stroke-width="5.5"/></g>
<g><clipPath id="c1_4"><rect x="996.1" y="348.4" width="128" height="84.1"/></clipPath><g clip-path="url(#c1_4)"><polygon points="1001.6,349.3 1005.7,353.2 1006.8,354.1 1011,356.1 1012,356.8 1013.1,358 1016.2,360.6 1018.3,362.3 1019.4,363 1022.5,365 1023.6,365.7 1024.6,366.4 1027.8,366.9 1030.9,367.2 1044.5,368 1119,370 1119,400.5 1044.5,397.5 1030.9,396.7 1027.8,395.1 1024.6,393.5 1023.6,392.1 1022.5,389 1019.4,383.2 1018.3,380.7 1016.2,373.5 1013.1,364.7 1012,363.1 1011,362.2 1006.8,354.6 1005.7,353.2 1001.6,349.3" fill="#8fbbd9" stroke="#1f77b4" stroke-opacity="0.5" stroke-width="5.2" stroke-linejoin="round"/><polygon points="1001.6,349.3 1006.8,354.1 1011,356.3 1012,357 1013.1,358.2 1016.2,361.1 1018.3,363.1 1020.4,364.8 1022.5,366.4 1023.6,367.2 1024.6,368 1030.9,369 1043.5,369.8 1119,372 1119,392.8 1043.5,389.7 1030.9,388.7 1024.6,385.9 1023.6,384.5 1022.5,382.2 1020.4,378.9 1018.3,374.8 1016.2,369 1013.1,362.4 1012,360.9 1011,360.1 1006.8,354.4 1001.6,349.3" fill="#ffd9b7" stroke="#dc985d" stroke-opacity="0.5" stroke-width="5.2" stroke-linejoin="round"/><polygon points="1001.6,349.3 1007.8,354.9 1012,357.6 1015.2,361.1 1016.2,362.2 1019.4,366.6 1021.5,368.9 1024.6,372 1030.9,373.7 1041.4,374.7 1119,377.4 1119,387.6 1041.4,384.5 1030.9,383.4 1024.6,380.8 1021.5,376.2 1019.4,373 1016.2,366 1015.2,364.3 1012,359.5 1007.8,355.3 1001.6,349.3" fill="#d6ecf3" stroke="#a5cfde" stroke-opacity="0.5" stroke-width="5.2" stroke-linejoin="round"/><path d="M1016.2 348.4V432.5M1045.6 348.4V432.5M1104.3 348.4V432.5M996.1 390.4H1124.1M996.1 369.4H1124.1" stroke="#b0b0b0" stroke-width="0.9" fill="none"/><path d="M1001.6 348.4V432.5M1060.3 348.4V432.5M1119 348.4V432.5" stroke="#0000ff" stroke-opacity="0.5" stroke-width="5.5" fill="none"/><path d="M1001.6 350.3H1003.6V352.2H1005.7V354.1H1007.8V355.8H1009.9V357.5H1012V359.6H1014.1V362.2H1016.2V365.3H1018.3V369.6H1020.4V372.6H1022.5V375.2H1024.6V376.9H1026.7V377.8H1028.8V378.7H1033V379.5H1037.2V380H1047.7V380.6H1058.2V381.1H1070.8V381.6H1083.4V382.1H1095.9V382.6H1110.6V383.1H1119V383.3" fill="none" stroke="#000" stroke-width="8.4" stroke-linejoin="round" stroke-linecap="round"/></g><path d="M1016.2 432.5v11M1030.9 432.5v11M1045.6 432.5v11M1075 432.5v11M1089.6 432.5v11M1104.3 432.5v11M996.1 411.5h-11M996.1 390.4h-11M996.1 369.4h-11" stroke="#000" stroke-width="3.3" fill="none"/><path d="M1001.6 432.5v18M1060.3 432.5v18M1119 432.5v18M996.1 432.5h-18.7M996.1 348.4h-18.7" stroke="#0000ff" stroke-width="4.5" fill="none"/><rect x="996.1" y="348.4" width="128" height="84.1" fill="none" stroke="#0000ff" stroke-width="5.5"/></g>
<g><clipPath id="c1_5"><rect x="1175.5" y="348.4" width="128" height="84.1"/></clipPath><g clip-path="url(#c1_5)"><polygon points="1181,349.3 1186.2,355 1190.4,357.2 1191.4,358.1 1192.5,359.8 1196.7,364.8 1197.7,365.9 1198.8,366.7 1201.9,369.1 1203,370 1204,370.9 1205.1,371.3 1211.4,371.8 1244.9,373.7 1298.4,375.1 1298.4,409.1 1244.9,405.2 1211.4,402.4 1205.1,400.6 1204,400.2 1203,398.7 1201.9,395.4 1198.8,389.7 1197.7,386.8 1196.7,382.5 1192.5,369.1 1191.4,366.3 1190.4,364.7 1186.2,355.1 1181,349.3" fill="#8fbbd9" stroke="#1f77b4" stroke-opacity="0.5" stroke-width="5.2" stroke-linejoin="round"/><polygon points="1181,349.3 1186.2,355 1190.4,357.5 1191.4,358.5 1193.5,361.5 1196.7,365.3 1197.7,366.6 1198.8,367.6 1201.9,370.6 1203,371.7 1204,372.5 1206.1,373.1 1210.3,373.7 1236.5,375.6 1298.4,377.6 1298.4,403.9 1236.5,399.5 1210.3,397.1 1206.1,395.7 1204,394.7 1203,393.4 1201.9,390.4 1198.8,384.6 1197.7,381.9 1196.7,378.3 1193.5,369.8 1191.4,364.6 1190.4,363.1 1186.2,355.1 1181,349.3" fill="#ffd9b7" stroke="#dc985d" stroke-opacity="0.5" stroke-width="5.2" stroke-linejoin="round"/><polygon points="1181,349.3 1186.2,355 1191.4,358.8 1196.7,365.9 1198.8,368.5 1201.9,372.1 1203,373.3 1205.1,374.7 1208.2,375.4 1220.8,376.7 1263.8,378.9 1298.4,380.1 1298.4,397 1263.8,394.9 1220.8,391.5 1208.2,389.8 1205.1,388 1203,386.3 1201.9,383.8 1198.8,377.7 1196.7,372.7 1191.4,362.2 1186.2,355.1 1181,349.3" fill="#d6ecf3" stroke="#a5cfde" stroke-opacity="0.5" stroke-width="5.2" stroke-linejoin="round"/><path d="M1195.6 348.4V432.5M1210.3 348.4V432.5M1269 348.4V432.5M1175.5 390.4H1303.5M1175.5 369.4H1303.5" stroke="#b0b0b0" stroke-width="0.9" fill="none"/><path d="M1181 348.4V432.5M1239.7 348.4V432.5M1298.4 348.4V432.5" stroke="#0000ff" stroke-opacity="0.5" stroke-width="5.5" fill="none"/><path d="M1181 350.5H1183V352.8H1185.1V355.1H1187.2V357.2H1189.3V359.4H1191.4V361.9H1193.5V365H1195.6V368.4H1197.7V372.6H1199.8V376.8H1201.9V381H1204V382.7H1206.1V384.3H1208.2V384.8H1212.4V385.6H1216.6V386.2H1222.9V386.7H1229.2V387.3H1235.5V387.8H1241.8V388.3H1248.1V388.8H1254.4V389.3H1260.7V389.8H1266.9V390.2H1277.4V390.7H1287.9V391.3H1298.4V391.7" fill="none" stroke="#000" stroke-width="8.4" stroke-linejoin="round" stroke-linecap="round"/></g><path d="M1195.6 432.5v11M1210.3 432.5v11M1225 432.5v11M1254.4 432.5v11M1269 432.5v11M1283.7 432.5v11M1175.5 411.5h-11M1175.5 390.4h-11M1175.5 369.4h-11" stroke="#000" stroke-width="3.3" fill="none"/><path d="M1181 432.5v18M1239.7 432.5v18M1298.4 432.5v18M1175.5 432.5h-18.7M1175.5 348.4h-18.7" stroke="#0000ff" stroke-width="4.5" fill="none"/><rect x="1175.5" y="348.4" width="128" height="84.1" fill="none" stroke="#0000ff" stroke-width="5.5"/></g>
<g><clipPath id="c1_6"><rect x="1354.9" y="348.4" width="128" height="84.1"/></clipPath><g clip-path="url(#c1_6)"><polygon points="1360.4,349.3 1364.5,352.6 1365.6,353.5 1368.7,355.9 1369.8,356.4 1370.8,356.9 1372.9,358.1 1375,360.1 1377.1,361.9 1379.2,363.5 1380.3,363.8 1382.4,364.5 1383.4,364.9 1386.6,366 1388.7,366 1428.5,367.6 1477.8,368.9 1477.8,402.3 1428.5,400.9 1388.7,398.8 1386.6,397.5 1383.4,395.9 1382.4,394.9 1380.3,389.8 1379.2,387.9 1377.1,383.9 1375,376.2 1372.9,369.5 1370.8,363 1369.8,362 1368.7,360.3 1365.6,354 1364.5,352.6 1360.4,349.3" fill="#8fbbd9" stroke="#1f77b4" stroke-opacity="0.5" stroke-width="5.2" stroke-linejoin="round"/><polygon points="1360.4,349.3 1364.5,352.6 1365.6,353.5 1369.8,356.6 1370.8,357.2 1372.9,358.7 1376.1,362.2 1377.1,363.5 1379.2,366.1 1382.4,368.4 1384.5,369.8 1389.7,371.2 1428.5,373.6 1477.8,375.4 1477.8,396.3 1428.5,394.4 1389.7,391.9 1384.5,389.5 1382.4,387.7 1379.2,381.7 1377.1,377.6 1376.1,374.4 1372.9,366.1 1370.8,361.2 1369.8,360.2 1365.6,353.8 1364.5,352.6 1360.4,349.3" fill="#ffd9b7" stroke="#dc985d" stroke-opacity="0.5" stroke-width="5.2" stroke-linejoin="round"/><polygon points="1360.4,349.3 1365.6,353.5 1371.9,358.4 1372.9,359.2 1376.1,363.1 1379.2,368.4 1382.4,371.8 1384.5,373.8 1389.7,375.6 1414.9,377.9 1468.4,380.7 1477.8,381.1 1477.8,388.6 1468.4,388.2 1414.9,385.3 1389.7,382.8 1384.5,380.6 1382.4,378.4 1379.2,373.6 1376.1,367.1 1372.9,361.6 1371.9,360.2 1365.6,353.6 1360.4,349.3" fill="#d6ecf3" stroke="#a5cfde" stroke-opacity="0.5" stroke-width="5.2" stroke-linejoin="round"/><path d="M1389.7 348.4V432.5M1433.8 348.4V432.5M1463.1 348.4V432.5M1354.9 390.4H1482.9M1354.9 369.4H1482.9" stroke="#b0b0b0" stroke-width="0.9" fill="none"/><path d="M1360.4 348.4V432.5M1419.1 348.4V432.5M1477.8 348.4V432.5" stroke="#0000ff" stroke-opacity="0.5" stroke-width="5.5" fill="none"/><path d="M1360.4 350.1H1362.4V351.8H1364.5V353.5H1366.6V355.2H1368.7V356.9H1370.8V358.7H1372.9V361H1375V363.9H1377.1V368H1379.2V371.7H1381.3V374.3H1383.4V376.6H1385.5V377.5H1387.6V378.3H1389.7V379H1393.9V379.5H1398.1V380H1402.3V380.5H1408.6V381H1414.9V381.6H1421.2V382H1429.6V382.6H1438V383.2H1446.3V383.8H1456.8V384.3H1467.3V384.8H1477.8V385.2" fill="none" stroke="#000" stroke-width="8.4" stroke-linejoin="round" stroke-linecap="round"/></g><path d="M1375 432.5v11M1389.7 432.5v11M1404.4 432.5v11M1433.8 432.5v11M1448.4 432.5v11M1463.1 432.5v11M1354.9 411.5h-11M1354.9 390.4h-11M1354.9 369.4h-11" stroke="#000" stroke-width="3.3" fill="none"/><path d="M1360.4 432.5v18M1419.1 432.5v18M1477.8 432.5v18M1354.9 432.5h-18.7M1354.9 348.4h-18.7" stroke="#0000ff" stroke-width="4.5" fill="none"/><rect x="1354.9" y="348.4" width="128" height="84.1" fill="none" stroke="#0000ff" stroke-width="5.5"/></g>
<g><clipPath id="c1_7"><rect x="1534.3" y="348.4" width="128" height="84.1"/></clipPath><g clip-path="url(#c1_7)"><polygon points="1539.8,349.3 1543.9,352.6 1547.1,355 1551.3,356.8 1555.5,360 1557.6,361.5 1563.9,364.4 1566,365.2 1613.2,367.1 1657.2,368.3 1657.2,395.5 1613.2,389 1566,381.1 1563.9,380.6 1557.6,375.9 1555.5,371.6 1551.3,364.8 1547.1,357.8 1543.9,352.6 1539.8,349.3" fill="#8fbbd9" stroke="#1f77b4" stroke-opacity="0.5" stroke-width="5.2" stroke-linejoin="round"/><polygon points="1539.8,349.3 1543.9,352.6 1548.1,355.6 1551.3,357.3 1555.5,361 1557.6,362.9 1560.7,365.1 1564.9,367 1572.3,367.9 1603.7,370.6 1648.8,372.8 1657.2,373.2 1657.2,391.1 1648.8,390.1 1603.7,384.3 1572.3,378.8 1564.9,377.3 1560.7,374.9 1557.6,372 1555.5,368.3 1551.3,362.3 1548.1,358.1 1543.9,352.6 1539.8,349.3" fill="#ffd9b7" stroke="#dc985d" stroke-opacity="0.5" stroke-width="5.2" stroke-linejoin="round"/><polygon points="1539.8,349.3 1545,353.4 1552.3,358.9 1558.6,365.6 1560.7,367.5 1566,369.9 1600.6,374.8 1650.9,378.4 1657.2,378.8 1657.2,387.8 1650.9,387.2 1600.6,381.5 1566,375.1 1560.7,372.4 1558.6,370.3 1552.3,361.6 1545,353.6 1539.8,349.3" fill="#d6ecf3" stroke="#a5cfde" stroke-opacity="0.5" stroke-width="5.2" stroke-linejoin="round"/><path d="M1554.4 348.4V432.5M1569.1 348.4V432.5M1583.8 348.4V432.5M1613.2 348.4V432.5M1627.8 348.4V432.5M1534.3 390.4H1662.3M1534.3 369.4H1662.3" stroke="#b0b0b0" stroke-width="0.9" fill="none"/><path d="M1539.8 348.4V432.5M1598.5 348.4V432.5M1657.2 348.4V432.5" stroke="#0000ff" stroke-opacity="0.5" stroke-width="5.5" fill="none"/><path d="M1539.8 350.1H1541.8V351.7H1543.9V353.4H1546V355.1H1548.1V356.8H1550.2V358.6H1552.3V360.8H1554.4V363.4H1556.5V366.1H1558.6V368.8H1560.7V370.4H1562.8V371.4H1564.9V372.5H1567V372.9H1571.2V373.8H1575.4V374.7H1579.6V375.6H1583.8V376.4H1588V377.2H1592.2V378H1596.4V378.8H1602.7V379.5H1609V380.2H1615.3V380.8H1621.6V381.5H1627.8V382.1H1634.1V382.6H1640.4V383.2H1646.7V383.7H1653V384.3H1657.2V384.5" fill="none" stroke="#000" stroke-width="8.4" stroke-linejoin="round" stroke-linecap="round"/></g><path d="M1554.4 432.5v11M1569.1 432.5v11M1583.8 432.5v11M1613.2 432.5v11M1627.8 432.5v11M1642.5 432.5v11M1534.3 411.5h-11M1534.3 390.4h-11M1534.3 369.4h-11" stroke="#000" stroke-width="3.3" fill="none"/><path d="M1539.8 432.5v18M1598.5 432.5v18M1657.2 432.5v18M1534.3 432.5h-18.7M1534.3 348.4h-18.7" stroke="#0000ff" stroke-width="4.5" fill="none"/><rect x="1534.3" y="348.4" width="128" height="84.1" fill="none" stroke="#0000ff" stroke-width="5.5"/></g>
<g><clipPath id="c1_8"><rect x="1713.7" y="348.4" width="128" height="84.1"/></clipPath><g clip-path="url(#c1_8)"><polygon points="1719.2,349.3 1724.4,354.2 1726.5,356.2 1731.7,359.1 1734.9,361.8 1737,363.5 1738,364.3 1742.2,367.7 1752.7,369.8 1767.4,372.8 1778.9,374.8 1789.4,375.8 1797.8,376.7 1801,377 1803.1,377.2 1810.4,377.9 1812.5,378.1 1818.8,378.7 1828.2,379.6 1836.6,380.3 1836.6,429.9 1828.2,428.6 1818.8,425 1812.5,419.5 1810.4,418.8 1803.1,415.9 1801,412.9 1797.8,409.3 1789.4,400.9 1778.9,394.9 1767.4,390.7 1752.7,384.9 1742.2,379.9 1738,377.8 1737,376.8 1734.9,371.7 1731.7,366.1 1726.5,357.5 1724.4,354.2 1719.2,349.3" fill="#8fbbd9" stroke="#1f77b4" stroke-opacity="0.5" stroke-width="5.2" stroke-linejoin="round"/><polygon points="1719.2,349.3 1724.4,354.2 1727.5,356.9 1731.7,359.7 1734.9,362.6 1737,364.5 1739.1,366.3 1742.2,368.9 1743.3,369.4 1759,372.5 1778.9,376.2 1787.3,377.4 1790.5,377.7 1796.8,378.6 1801,379.3 1803.1,379.7 1810.4,380.8 1812.5,381 1816.7,381.5 1819.8,382.1 1828.2,383.6 1836.6,384.4 1836.6,422.1 1828.2,420.9 1819.8,416.8 1816.7,414.4 1812.5,411.9 1810.4,411.4 1803.1,408.2 1801,405.8 1796.8,401.7 1790.5,397 1787.3,395.5 1778.9,391.2 1759,384.9 1743.3,379.1 1742.2,378.4 1739.1,376.3 1737,374.4 1734.9,370.1 1731.7,364.9 1727.5,358.7 1724.4,354.2 1719.2,349.3" fill="#ffd9b7" stroke="#dc985d" stroke-opacity="0.5" stroke-width="5.2" stroke-linejoin="round"/><polygon points="1719.2,349.3 1725.4,355.3 1731.7,360.4 1735.9,364.7 1737,365.8 1740.1,368.6 1743.3,371.1 1761.1,374.7 1777.9,378 1786.3,379.6 1791.5,380.3 1795.7,380.9 1803.1,383.1 1809.3,384.7 1814.6,385.2 1816.7,385.5 1820.9,386.7 1827.2,388.9 1836.6,389.9 1836.6,415.5 1827.2,414 1820.9,409.9 1816.7,407.1 1814.6,406.1 1809.3,404.8 1803.1,401.6 1795.7,395.4 1791.5,393.4 1786.3,391.4 1777.9,387.6 1761.1,383.3 1743.3,377.9 1740.1,375.3 1737,372.4 1735.9,370.6 1731.7,363.9 1725.4,355.5 1719.2,349.3" fill="#d6ecf3" stroke="#a5cfde" stroke-opacity="0.5" stroke-width="5.2" stroke-linejoin="round"/><path d="M1733.8 348.4V432.5M1763.2 348.4V432.5M1807.2 348.4V432.5M1821.9 348.4V432.5M1713.7 390.4H1841.7M1713.7 369.4H1841.7" stroke="#b0b0b0" stroke-width="0.9" fill="none"/><path d="M1719.2 348.4V432.5M1777.9 348.4V432.5M1836.6 348.4V432.5" stroke="#ff0000" stroke-opacity="0.5" stroke-width="5.5" fill="none"/><path d="M1719.2 350.3H1721.2V352.3H1723.3V354.2H1725.4V356.5H1727.5V359H1729.6V361.4H1731.7V364.1H1733.8V367.1H1735.9V370H1738V372.4H1740.1V374.4H1742.2V376.5H1744.3V377H1746.4V377.5H1748.5V378.1H1750.6V378.6H1752.7V379.1H1756.9V379.9H1761.1V380.7H1765.3V381.4H1769.5V382.2H1771.6V382.7H1773.7V383.2H1775.8V383.7H1777.9V384.5H1780V385.4H1782.1V386.3H1784.2V387H1788.4V387.8H1792.6V388.6H1794.7V389.1H1796.8V390.5H1798.9V391.9H1801V393.4H1803.1V394.6H1805.1V395.7H1807.2V396.9H1809.3V397.6H1815.6V398.5H1817.7V399.9H1819.8V401.4H1821.9V402.8H1824V404.6H1826.1V406.3H1830.3V407H1834.5V407.6H1836.6V407.7" fill="none" stroke="#000" stroke-width="8.4" stroke-linejoin="round" stroke-linecap="round"/></g><path d="M1733.8 432.5v11M1748.5 432.5v11M1763.2 432.5v11M1792.6 432.5v11M1807.2 432.5v11M1821.9 432.5v11M1713.7 411.5h-11M1713.7 390.4h-11M1713.7 369.4h-11" stroke="#000" stroke-width="3.3" fill="none"/><path d="M1719.2 432.5v18M1777.9 432.5v18M1836.6 432.5v18M1713.7 432.5h-18.7M1713.7 348.4h-18.7" stroke="#ff0000" stroke-width="4.5" fill="none"/><rect x="1713.7" y="348.4" width="128" height="84.1" fill="none" stroke="#ff0000" stroke-width="5.5"/></g>
<g><clipPath id="c1_9"><rect x="1893.1" y="348.4" width="128" height="84.1"/></clipPath><g clip-path="url(#c1_9)"><polygon points="1898.6,349.3 1899.6,349.7 1902.7,352.7 1906.9,353.5 1909,353.9 1912.2,354.6 1916.4,355.3 1917.4,355.4 1918.5,355.4 1919.5,355.5 1927.9,355.9 1933.2,356.1 1934.2,356.2 1935.3,356.2 1941.5,356.7 1949.9,357.6 1953.1,357.9 1955.2,358.1 1956.2,358.3 1958.3,358.7 1959.4,358.9 1960.4,359.1 1962.5,359.5 1963.6,359.7 1964.6,359.9 1970.9,361.2 1989.8,365.5 2002.4,368 2010.8,372.6 2015,374.6 2016,374.6 2016,431.5 2015,431.5 2010.8,430.1 2002.4,429.9 1989.8,429.9 1970.9,429.9 1964.6,427.5 1963.6,426.4 1962.5,424.4 1960.4,421.7 1959.4,419.6 1958.3,416.4 1956.2,411.5 1955.2,409.8 1953.1,409.4 1949.9,406.8 1941.5,401 1935.3,394.4 1934.2,393.9 1933.2,393.9 1927.9,392.1 1919.5,385.7 1918.5,383.8 1917.4,380.1 1916.4,377.1 1912.2,367.4 1909,361.5 1906.9,357.7 1902.7,353 1899.6,349.7 1898.6,349.3" fill="#8fbbd9" stroke="#1f77b4" stroke-opacity="0.5" stroke-width="5.2" stroke-linejoin="round"/><polygon points="1898.6,349.3 1899.6,349.7 1902.7,352.7 1906.9,353.5 1910.1,354.5 1915.3,357.2 1917.4,358.5 1919.5,359.8 1922.7,361.7 1924.8,362 1932.1,363.1 1935.3,363.6 1940.5,364.4 1946.8,365.6 1957.3,367.6 1960.4,368.4 1962.5,368.9 1964.6,369.4 1965.7,369.7 1967.8,370.2 1969.9,370.8 1973,372 1978.3,374.1 1985.6,376.9 1992.9,378.8 2004.5,385.6 2010.8,393.9 2011.8,395.7 2015,403.1 2016,403.8 2016,431.5 2015,431.5 2011.8,430.4 2010.8,430.1 2004.5,429.9 1992.9,429.9 1985.6,429.8 1978.3,429.7 1973,427.9 1969.9,426.4 1967.8,424.3 1965.7,421.5 1964.6,419.4 1962.5,414.3 1960.4,410.3 1957.3,408.8 1946.8,401.3 1940.5,394.3 1935.3,392.5 1932.1,389.9 1924.8,384.1 1922.7,381.5 1919.5,376.3 1917.4,374.5 1915.3,371.8 1910.1,362.9 1906.9,357.7 1902.7,353 1899.6,349.7 1898.6,349.3" fill="#ffd9b7" stroke="#dc985d" stroke-opacity="0.5" stroke-width="5.2" stroke-linejoin="round"/><polygon points="1898.6,349.3 1899.6,349.7 1906.9,356.7 1916.4,365.6 1921.6,370.2 1924.8,372.9 1926.9,373.4 1932.1,374 1936.3,374.5 1941.5,375.4 1947.8,376.8 1951,377.6 1956.2,378.8 1964.6,383.4 1969.9,386.4 1972,387.5 1976.2,389.6 1978.3,390.7 1984.5,393.7 1995,396.8 2004.5,403.7 2010.8,414.1 2012.9,418.6 2015,423.6 2016,424.3 2016,431.5 2015,431.5 2012.9,430.8 2010.8,430.1 2004.5,429.9 1995,429.8 1984.5,427 1978.3,424.3 1976.2,421.1 1972,413.1 1969.9,409.8 1964.6,407.6 1956.2,401.2 1951,393.9 1947.8,392.1 1941.5,385.3 1936.3,383.9 1932.1,381.4 1926.9,376.5 1924.8,375.7 1921.6,374.5 1916.4,370.8 1906.9,357.7 1899.6,349.7 1898.6,349.3" fill="#d6ecf3" stroke="#a5cfde" stroke-opacity="0.5" stroke-width="5.2" stroke-linejoin="round"/><path d="M1927.9 348.4V432.5M1942.6 348.4V432.5M1972 348.4V432.5M2001.3 348.4V432.5M1893.1 390.4H2021.1M1893.1 369.4H2021.1" stroke="#b0b0b0" stroke-width="0.9" fill="none"/><path d="M1898.6 348.4V432.5M1957.3 348.4V432.5M2016 348.4V432.5" stroke="#ff0000" stroke-opacity="0.5" stroke-width="5.5" fill="none"/><path d="M1898.6 349.7H1900.6V351.9H1902.7V354.1H1904.8V356.5H1906.9V358.9H1909V361.4H1911.1V363.8H1913.2V366.3H1915.3V368.8H1917.4V371H1919.5V372.1H1921.6V373.1H1923.7V374.1H1925.8V374.7H1927.9V375.2H1930V375.8H1932.1V376.3H1934.2V377.3H1936.3V378.7H1938.4V380.1H1940.5V381.3H1942.6V382.2H1944.7V383H1946.8V383.8H1951V384.5H1955.2V385.1H1957.3V387.8H1959.4V391H1961.5V394.8H1963.6V398.9H1965.7V402.2H1967.8V404H1969.9V405.7H1972V407.3H1974.1V408H1976.2V408.7H1978.3V409.4H1980.4V412.3H1982.5V415.4H1984.5V418.9H1986.6V422.6H1988.7V424.6H1990.8V425.3H1992.9V426H1995V426.6H1999.2V427.5H2003.4V428.4H2007.6V429.4H2009.7V430.1H2011.8V430.8H2013.9V431.5H2016V431.5" fill="none" stroke="#000" stroke-width="8.4" stroke-linejoin="round" stroke-linecap="round"/></g><path d="M1913.2 432.5v11M1927.9 432.5v11M1942.6 432.5v11M1972 432.5v11M1986.6 432.5v11M2001.3 432.5v11M1893.1 411.5h-11M1893.1 390.4h-11M1893.1 369.4h-11" stroke="#000" stroke-width="3.3" fill="none"/><path d="M1898.6 432.5v18M1957.3 432.5v18M2016 432.5v18M1893.1 432.5h-18.7M1893.1 348.4h-18.7" stroke="#ff0000" stroke-width="4.5" fill="none"/><rect x="1893.1" y="348.4" width="128" height="84.1" fill="none" stroke="#ff0000" stroke-width="5.5"/></g>
<g><clipPath id="c1_10"><rect x="2072.5" y="348.4" width="128" height="84.1"/></clipPath><g clip-path="url(#c1_10)"><polygon points="2077.9,349.3 2084.2,356 2087.4,357.9 2089.5,359.2 2093.7,361.8 2094.7,362.4 2095.8,363.1 2096.8,363.7 2101,366.4 2102.1,366.8 2103.1,366.9 2110.5,368.3 2111.5,368.5 2112.6,368.8 2113.6,369.2 2114.7,370.5 2116.8,372.3 2118.9,374 2120.9,375.7 2122,376.4 2126.2,379.6 2127.2,380.4 2129.3,381.6 2132.5,381.8 2134.6,382.1 2135.6,382.2 2137.7,382.5 2138.8,383.6 2139.8,386.4 2146.1,395.4 2148.2,398.2 2149.3,399.6 2151.4,402.3 2152.4,402.6 2153.5,402.4 2161.8,404.8 2162.9,405.5 2163.9,409 2165,414 2168.1,422.4 2171.3,429.8 2172.3,431.3 2173.4,431.1 2174.4,431.4 2175.5,432.4 2195.4,432.5 2195.4,432.5 2175.5,432.5 2174.4,432.5 2173.4,432.5 2172.3,432.5 2171.3,432.5 2168.1,432.5 2165,432.5 2163.9,432.5 2162.9,432.5 2161.8,432.5 2153.5,432.2 2152.4,432 2151.4,431.7 2149.3,431.2 2148.2,429.9 2146.1,429.9 2139.8,429.9 2138.8,429.3 2137.7,426.4 2135.6,422.9 2134.6,421.9 2132.5,421.7 2129.3,420.1 2127.2,418.7 2126.2,417.2 2122,413 2120.9,411.1 2118.9,404.1 2116.8,399.1 2114.7,396.3 2113.6,394.5 2112.6,392.7 2111.5,392.1 2110.5,392.7 2103.1,390 2102.1,389 2101,387.5 2096.8,383.3 2095.8,381.3 2094.7,377.7 2093.7,374.8 2089.5,365.2 2087.4,362 2084.2,356.3 2077.9,349.3" fill="#8fbbd9" stroke="#1f77b4" stroke-opacity="0.5" stroke-width="5.2" stroke-linejoin="round"/><polygon points="2077.9,349.3 2084.2,356.1 2090.5,360.8 2095.8,364.8 2097.9,366.4 2098.9,366.8 2102.1,367.7 2104.2,368.3 2106.3,369 2108.4,371.1 2110.5,373.1 2114.7,376.6 2115.7,377.4 2117.8,379.1 2119.9,380.2 2122,380.8 2125.1,381.7 2128.3,382.2 2129.3,382.4 2130.4,383.1 2131.4,384.6 2133.5,388.3 2136.7,393.4 2137.7,394.9 2138.8,396.1 2140.9,398.6 2141.9,399.9 2143,401.1 2145.1,402.5 2148.2,403.1 2149.3,403.4 2153.5,405.1 2154.5,406.7 2155.6,409.1 2157.7,416 2159.8,421.7 2162.9,429.1 2163.9,430.8 2168.1,432.3 2195.4,432.5 2195.4,432.5 2168.1,432.5 2163.9,432.5 2162.9,432.5 2159.8,432.5 2157.7,432.5 2155.6,432.5 2154.5,432.5 2153.5,432.2 2149.3,431.2 2148.2,429.9 2145.1,429.9 2143,429.8 2141.9,429.1 2140.9,426.5 2138.8,422.7 2137.7,421.9 2136.7,421.6 2133.5,419.3 2131.4,416.3 2130.4,415 2129.3,413.6 2128.3,411.8 2125.1,404.3 2122,401.5 2119.9,398.5 2117.8,396 2115.7,392.7 2114.7,392.5 2110.5,390.7 2108.4,389.1 2106.3,386.2 2104.2,384 2102.1,381.3 2098.9,380.1 2097.9,378.8 2095.8,375.5 2090.5,366.2 2084.2,356.3 2077.9,349.3" fill="#ffd9b7" stroke="#dc985d" stroke-opacity="0.5" stroke-width="5.2" stroke-linejoin="round"/><polygon points="2077.9,349.3 2084.2,356.2 2093.7,365.1 2095.8,366.8 2098.9,368.2 2101,369.5 2102.1,370.8 2106.3,375.1 2108.4,376.8 2112.6,379.9 2114.7,380.4 2117.8,380.9 2118.9,381.2 2120.9,381.9 2123,382.6 2125.1,385 2126.2,386.8 2130.4,394.1 2131.4,395.5 2134.6,398.9 2136.7,401.2 2138.8,402.3 2140.9,402.8 2141.9,403.1 2145.1,404.4 2146.1,405.2 2148.2,408.9 2149.3,411.2 2151.4,417.7 2153.5,423.5 2156.6,430.2 2157.7,431.3 2162.9,432.3 2195.4,432.5 2195.4,432.5 2162.9,432.5 2157.7,432.5 2156.6,432.5 2153.5,432.2 2151.4,431.7 2149.3,431.2 2148.2,429.9 2146.1,429.8 2145.1,428.9 2141.9,422.4 2140.9,421.5 2138.8,418.8 2136.7,414.7 2134.6,410.1 2131.4,404.4 2130.4,403.5 2126.2,401.5 2125.1,400.5 2123,398 2120.9,395.8 2118.9,392.6 2117.8,392.3 2114.7,389.2 2112.6,385.9 2108.4,381.2 2106.3,380.7 2102.1,379.9 2101,379.1 2098.9,376.9 2095.8,373.2 2093.7,370 2084.2,356.3 2077.9,349.3" fill="#d6ecf3" stroke="#a5cfde" stroke-opacity="0.5" stroke-width="5.2" stroke-linejoin="round"/><path d="M2092.6 348.4V432.5M2122 348.4V432.5M2166 348.4V432.5M2072.5 390.4H2200.5M2072.5 369.4H2200.5" stroke="#b0b0b0" stroke-width="0.9" fill="none"/><path d="M2077.9 348.4V432.5M2136.7 348.4V432.5M2195.4 348.4V432.5" stroke="#ff0000" stroke-opacity="0.5" stroke-width="5.5" fill="none"/><path d="M2077.9 350.4H2080V352.7H2082.1V355.1H2084.2V357.7H2086.3V360.5H2088.4V363.3H2090.5V366.1H2092.6V368.9H2094.7V371.7H2096.8V374.4H2098.9V376.1H2101V377.9H2103.1V379.6H2105.2V380.2H2109.4V380.7H2113.6V382.1H2115.7V384.2H2117.8V387H2119.9V391.2H2122V395H2124.1V397.1H2126.2V399.2H2128.3V401.3H2130.4V402.2H2132.5V402.9H2134.6V403.5H2136.7V405.8H2138.8V409H2140.9V413.6H2143V419.9H2145.1V425.5H2147.2V429.7H2149.3V431.4H2151.4V432H2153.5V432.5H2195.4" fill="none" stroke="#000" stroke-width="8.4" stroke-linejoin="round" stroke-linecap="round"/></g><path d="M2092.6 432.5v11M2107.3 432.5v11M2122 432.5v11M2151.4 432.5v11M2166 432.5v11M2180.7 432.5v11M2072.5 411.5h-11M2072.5 390.4h-11M2072.5 369.4h-11" stroke="#000" stroke-width="3.3" fill="none"/><path d="M2077.9 432.5v18M2136.7 432.5v18M2195.4 432.5v18M2072.5 432.5h-18.7M2072.5 348.4h-18.7" stroke="#ff0000" stroke-width="4.5" fill="none"/><rect x="2072.5" y="348.4" width="128" height="84.1" fill="none" stroke="#ff0000" stroke-width="5.5"/></g>
<g><clipPath id="c2_0"><rect x="278.5" y="466.3" width="128" height="84.1"/></clipPath><g clip-path="url(#c2_0)"><polygon points="283.9,467 289.2,471.9 292.3,474 293.4,475.2 294.4,476.1 295.5,477 298.6,479.7 299.7,480.9 300.7,483 301.8,485.1 304.9,490.1 306,490.6 307,490.3 311.2,492.3 313.3,492.4 356.3,493.7 401.4,495 401.4,523.9 356.3,520.2 313.3,516 311.2,513.9 307,510.4 306,508.5 304.9,505.2 301.8,498.9 300.7,496.3 299.7,492.8 298.6,489.3 295.5,480.6 294.4,479.2 293.4,478.6 292.3,476.9 289.2,471.9 283.9,467" fill="#8fbbd9" stroke="#1f77b4" stroke-opacity="0.5" stroke-width="5.2" stroke-linejoin="round"/><polygon points="283.9,467 289.2,471.9 292.3,474.2 293.4,475.3 294.4,476.3 295.5,477.2 298.6,480.4 299.7,481.9 300.7,484 302.8,488.2 304.9,491.8 306,492.9 307,493.4 311.2,496.8 313.3,497.3 319.6,498.4 344.8,500 401.4,502.1 401.4,520.4 344.8,516.5 319.6,513.7 313.3,512.2 311.2,510.4 307,505.9 306,503.9 304.9,501.1 302.8,496.9 300.7,492.2 299.7,489.1 298.6,486.2 295.5,479.3 294.4,478.1 293.4,477.4 292.3,476 289.2,471.9 283.9,467" fill="#ffd9b7" stroke="#dc985d" stroke-opacity="0.5" stroke-width="5.2" stroke-linejoin="round"/><polygon points="283.9,467 290.2,472.8 293.4,475.5 295.5,477.4 298.6,481.1 299.7,482.9 301.8,487.6 304.9,493.7 307,496.9 311.2,501.9 313.3,503 318.6,504.9 332.2,506.7 352.1,507.9 401.4,510.2 401.4,517.8 352.1,514.9 332.2,513.3 318.6,511.3 313.3,509.4 311.2,507.7 307,502.5 304.9,498 301.8,491.6 299.7,486.3 298.6,483.9 295.5,478.4 293.4,476.5 290.2,473 283.9,467" fill="#d6ecf3" stroke="#a5cfde" stroke-opacity="0.5" stroke-width="5.2" stroke-linejoin="round"/><path d="M298.6 466.3V550.4M313.3 466.3V550.4M357.4 466.3V550.4M386.7 466.3V550.4M278.5 529.3H406.5M278.5 508.3H406.5M278.5 487.3H406.5" stroke="#b0b0b0" stroke-width="0.9" fill="none"/><path d="M283.9 466.3V550.4M342.7 466.3V550.4M401.4 466.3V550.4" stroke="#0000ff" stroke-opacity="0.5" stroke-width="5.5" fill="none"/><path d="M283.9 468H286V469.9H288.1V471.9H290.2V473.7H292.3V475.6H294.4V477.5H296.5V480.2H298.6V483.6H300.7V488.4H302.8V492.9H304.9V497.1H307V500.7H309.1V503.6H311.2V506H313.3V507.1H315.4V508.3H317.5V509H321.7V509.9H325.9V510.7H330.1V511.2H334.3V511.6H338.5V512.1H346.9V512.5H357.4V513H367.9V513.5H378.3V514.1H386.7V514.5H395.1V515H401.4V515.2" fill="none" stroke="#000" stroke-width="8.4" stroke-linejoin="round" stroke-linecap="round"/></g><path d="M298.6 550.4v11M313.3 550.4v11M328 550.4v11M357.4 550.4v11M372 550.4v11M386.7 550.4v11M278.5 529.3h-11M278.5 508.3h-11M278.5 487.3h-11" stroke="#000" stroke-width="3.3" fill="none"/><path d="M283.9 550.4v18M342.7 550.4v18M401.4 550.4v18M278.5 550.4h-18.7M278.5 466.3h-18.7" stroke="#0000ff" stroke-width="4.5" fill="none"/><rect x="278.5" y="466.3" width="128" height="84.1" fill="none" stroke="#0000ff" stroke-width="5.5"/></g>
<g><clipPath id="c2_1"><rect x="457.9" y="466.3" width="128" height="84.1"/></clipPath><g clip-path="url(#c2_1)"><polygon points="463.3,467 467.5,470.5 468.6,470.8 469.6,471 471.7,471.4 473.8,471.8 475.9,472.3 478,472.6 480.1,473 482.2,473.3 483.3,473.5 484.3,473.7 488.5,474.3 490.6,474.6 532.6,476.9 580.8,478.7 580.8,521.2 532.6,515.7 490.6,510.3 488.5,508.2 484.3,504.7 483.3,503 482.2,500.2 480.1,496.3 478,492.1 475.9,486 473.8,480.9 471.7,477.4 469.6,473.2 468.6,471.7 467.5,470.8 463.3,467" fill="#8fbbd9" stroke="#1f77b4" stroke-opacity="0.5" stroke-width="5.2" stroke-linejoin="round"/><polygon points="463.3,467 467.5,470.6 468.6,470.8 469.6,471.1 471.7,471.7 473.8,472.2 475.9,472.8 478,473.2 480.1,473.7 482.2,474.2 483.3,474.4 484.3,474.6 490.6,475.6 531.5,478 580.8,479.8 580.8,519.8 531.5,514.4 490.6,509.1 484.3,503.8 483.3,502.1 482.2,499.4 480.1,495.6 478,491.6 475.9,485.7 473.8,480.7 471.7,477.2 469.6,473.2 468.6,471.7 467.5,470.8 463.3,467" fill="#ffd9b7" stroke="#dc985d" stroke-opacity="0.5" stroke-width="5.2" stroke-linejoin="round"/><polygon points="463.3,467 469.6,472.4 474.9,476.6 480.1,481.1 484.3,483.7 487.5,485.1 491.7,485.9 510.5,487.7 532.6,489 580.8,490.8 580.8,500 532.6,497.3 510.5,495.6 491.7,493.5 487.5,492.1 484.3,490.3 480.1,486 474.9,478.9 469.6,472.8 463.3,467" fill="#d6ecf3" stroke="#a5cfde" stroke-opacity="0.5" stroke-width="5.2" stroke-linejoin="round"/><path d="M492.7 466.3V550.4M507.4 466.3V550.4M536.8 466.3V550.4M551.4 466.3V550.4M457.9 529.3H585.9M457.9 508.3H585.9M457.9 487.3H585.9" stroke="#b0b0b0" stroke-width="0.9" fill="none"/><path d="M463.3 466.3V550.4M522.1 466.3V550.4M580.8 466.3V550.4" stroke="#000000" stroke-opacity="0.5" stroke-width="5.5" fill="none"/><path d="M463.3 468H465.4V469.8H467.5V471.7H469.6V473.6H471.7V475.5H473.8V477.4H475.9V479.4H478V481.5H480.1V483.5H482.2V484.8H484.3V486.1H486.4V487H490.6V487.8H494.8V488.5H501.1V489.1H507.4V489.6H513.7V490.2H520V490.7H532.6V491.2H545.2V491.7H557.7V492.1H570.3V492.6H580.8V492.9" fill="none" stroke="#000" stroke-width="8.4" stroke-linejoin="round" stroke-linecap="round"/></g><path d="M478 550.4v11M492.7 550.4v11M507.4 550.4v11M536.8 550.4v11M551.4 550.4v11M566.1 550.4v11M457.9 529.3h-11M457.9 508.3h-11M457.9 487.3h-11" stroke="#000" stroke-width="3.3" fill="none"/><path d="M463.3 550.4v18M522.1 550.4v18M580.8 550.4v18M457.9 550.4h-18.7M457.9 466.3h-18.7" stroke="#000000" stroke-width="4.5" fill="none"/><rect x="457.9" y="466.3" width="128" height="84.1" fill="none" stroke="#000000" stroke-width="5.5"/></g>
<g><clipPath id="c2_2"><rect x="637.3" y="466.3" width="128" height="84.1"/></clipPath><g clip-path="url(#c2_2)"><polygon points="642.8,467 648,471.6 649,472 652.2,473.1 653.2,473.6 654.3,474.4 658.5,477.7 659.5,478.5 660.6,479.3 662.7,480.6 663.7,480.8 664.8,481.2 665.8,481.6 672.1,483.8 689.9,485.5 732.9,487.2 760.2,488.2 760.2,532.6 732.9,527.4 689.9,521.6 672.1,519.4 665.8,515.9 664.8,513.9 663.7,510.9 662.7,509.1 660.6,505.3 659.5,501.7 658.5,497.6 654.3,482.4 653.2,480.1 652.2,479.2 649,472.9 648,471.6 642.8,467" fill="#8fbbd9" stroke="#1f77b4" stroke-opacity="0.5" stroke-width="5.2" stroke-linejoin="round"/><polygon points="642.8,467 648,471.6 649,472 652.2,473.4 653.2,473.9 654.3,474.8 658.5,478.4 660.6,480.2 662.7,481.9 663.7,482.3 664.8,482.8 665.8,483.4 672.1,485.8 689.9,487.6 734,489.6 760.2,490.8 760.2,528.9 734,524.3 689.9,518.6 672.1,516.3 665.8,512.6 664.8,510.6 663.7,507.9 662.7,505.9 660.6,502 658.5,494.9 654.3,481.6 653.2,479.5 652.2,478.6 649,472.9 648,471.6 642.8,467" fill="#ffd9b7" stroke="#dc985d" stroke-opacity="0.5" stroke-width="5.2" stroke-linejoin="round"/><polygon points="642.8,467 648,471.6 653.2,474.5 654.3,475.4 659.5,480.4 662.7,483.8 665.8,486.1 667.9,487.2 672.1,488.8 691,490.9 755,494.4 760.2,494.7 760.2,517.7 755,517.1 691,509.8 672.1,507 667.9,504.6 665.8,502.9 662.7,496.5 659.5,489.2 654.3,479.1 653.2,477.7 648,471.6 642.8,467" fill="#d6ecf3" stroke="#a5cfde" stroke-opacity="0.5" stroke-width="5.2" stroke-linejoin="round"/><path d="M657.4 466.3V550.4M686.8 466.3V550.4M730.8 466.3V550.4M745.5 466.3V550.4M637.3 529.3H765.3M637.3 508.3H765.3M637.3 487.3H765.3" stroke="#b0b0b0" stroke-width="0.9" fill="none"/><path d="M642.8 466.3V550.4M701.5 466.3V550.4M760.2 466.3V550.4" stroke="#000000" stroke-opacity="0.5" stroke-width="5.5" fill="none"/><path d="M642.8 467.9H644.8V469.8H646.9V471.6H649V473.8H651.1V476H653.2V478.3H655.3V481.2H657.4V484.3H659.5V488.5H661.6V493.4H663.7V497.6H665.8V500.8H667.9V502.1H670V503.4H672.1V504H676.3V504.7H680.5V505.4H684.7V506.1H688.9V506.6H693.1V507.2H697.3V507.7H701.5V508.2H707.8V508.8H714.1V509.4H720.4V510H726.6V510.6H732.9V511.2H739.2V511.9H745.5V512.6H751.8V513.2H758.1V513.9H760.2V514" fill="none" stroke="#000" stroke-width="8.4" stroke-linejoin="round" stroke-linecap="round"/></g><path d="M657.4 550.4v11M672.1 550.4v11M686.8 550.4v11M716.2 550.4v11M730.8 550.4v11M745.5 550.4v11M637.3 529.3h-11M637.3 508.3h-11M637.3 487.3h-11" stroke="#000" stroke-width="3.3" fill="none"/><path d="M642.8 550.4v18M701.5 550.4v18M760.2 550.4v18M637.3 550.4h-18.7M637.3 466.3h-18.7" stroke="#000000" stroke-width="4.5" fill="none"/><rect x="637.3" y="466.3" width="128" height="84.1" fill="none" stroke="#000000" stroke-width="5.5"/></g>
<g><clipPath id="c2_3"><rect x="816.7" y="466.3" width="128" height="84.1"/></clipPath><g clip-path="url(#c2_3)"><polygon points="822.2,467 826.3,471.4 827.4,472.4 831.6,474.4 832.6,474.9 833.7,475.4 836.8,477 838.9,478.1 841,479.1 843.1,479.6 844.2,479.8 845.2,480.1 851.5,481.4 884,482.7 917.6,483.3 938.6,483.7 939.6,483.7 939.6,526.6 938.6,526.5 917.6,523.1 884,515.9 851.5,510.4 845.2,507.3 844.2,506.3 843.1,504.2 841,501 838.9,497.7 836.8,491.4 833.7,483.9 832.6,482 831.6,480.7 827.4,473 826.3,471.4 822.2,467" fill="#8fbbd9" stroke="#1f77b4" stroke-opacity="0.5" stroke-width="5.2" stroke-linejoin="round"/><polygon points="822.2,467 826.3,471.4 829.5,473.8 833.7,476.6 836.8,478.5 838.9,480.2 841,481.7 844.2,483 845.2,483.5 851.5,485 891.4,487 939.6,489 939.6,518 891.4,510.4 851.5,504.5 845.2,501.8 844.2,500.8 841,496.4 838.9,493.2 836.8,488.1 833.7,482.3 829.5,476.1 826.3,471.4 822.2,467" fill="#ffd9b7" stroke="#dc985d" stroke-opacity="0.5" stroke-width="5.2" stroke-linejoin="round"/><polygon points="822.2,467 827.4,472.5 836.8,480.4 840,483.9 844.2,486.9 845.2,487.5 850.5,489.1 888.2,492 929.1,494.4 939.6,495.4 939.6,511.5 929.1,509.9 888.2,504.7 850.5,499.8 845.2,497.7 844.2,496.7 840,491.6 836.8,485.6 827.4,472.7 822.2,467" fill="#d6ecf3" stroke="#a5cfde" stroke-opacity="0.5" stroke-width="5.2" stroke-linejoin="round"/><path d="M851.5 466.3V550.4M866.2 466.3V550.4M895.6 466.3V550.4M924.9 466.3V550.4M816.7 529.3H944.7M816.7 508.3H944.7M816.7 487.3H944.7" stroke="#b0b0b0" stroke-width="0.9" fill="none"/><path d="M822.2 466.3V550.4M880.9 466.3V550.4M939.6 466.3V550.4" stroke="#000000" stroke-opacity="0.5" stroke-width="5.5" fill="none"/><path d="M822.2 468.1H824.2V470.3H826.3V472.6H828.4V475.1H830.5V477.6H832.6V479.9H834.7V482H836.8V484.7H838.9V488.2H841V490.6H843.1V492.7H845.2V494H847.3V494.9H849.4V495.5H853.6V496H857.8V496.4H862V496.9H866.2V497.3H870.4V497.9H874.6V498.4H878.8V498.8H885.1V499.3H891.4V499.8H897.7V500.3H904V500.7H910.2V501.3H914.4V501.8H918.6V502.2H922.8V502.7H927V503.2H931.2V503.8H935.4V504.5H939.6V504.9" fill="none" stroke="#000" stroke-width="8.4" stroke-linejoin="round" stroke-linecap="round"/></g><path d="M836.8 550.4v11M851.5 550.4v11M866.2 550.4v11M895.6 550.4v11M910.2 550.4v11M924.9 550.4v11M816.7 529.3h-11M816.7 508.3h-11M816.7 487.3h-11" stroke="#000" stroke-width="3.3" fill="none"/><path d="M822.2 550.4v18M880.9 550.4v18M939.6 550.4v18M816.7 550.4h-18.7M816.7 466.3h-18.7" stroke="#000000" stroke-width="4.5" fill="none"/><rect x="816.7" y="466.3" width="128" height="84.1" fill="none" stroke="#000000" stroke-width="5.5"/></g>
<g><clipPath id="c2_4"><rect x="996.1" y="466.3" width="128" height="84.1"/></clipPath><g clip-path="url(#c2_4)"><polygon points="1001.6,467 1005.7,471.3 1006.8,472.3 1012,474.9 1016.2,477.9 1018.3,479.2 1022.5,481.3 1023.6,481.8 1025.7,482.7 1040.4,484 1059.2,485.4 1076,486.4 1091.7,487.4 1104.3,488.4 1119,490.6 1119,531.1 1104.3,526.5 1091.7,519.4 1076,511.3 1059.2,504.7 1040.4,501.7 1025.7,498.2 1023.6,497.4 1022.5,495.9 1018.3,491.4 1016.2,487.3 1012,480.7 1006.8,473 1005.7,471.3 1001.6,467" fill="#8fbbd9" stroke="#1f77b4" stroke-opacity="0.5" stroke-width="5.2" stroke-linejoin="round"/><polygon points="1001.6,467 1005.7,471.3 1006.8,472.3 1012,475.2 1016.2,478.3 1018.3,479.8 1020.4,481 1023.6,482.7 1025.7,483.6 1039.3,484.9 1059.2,486.4 1078.1,487.8 1087.5,488.7 1104.3,490.7 1116.9,492.9 1119,493.3 1119,527 1116.9,526.4 1104.3,521.9 1087.5,512.8 1078.1,508.5 1059.2,502.1 1039.3,499.3 1025.7,496.4 1023.6,495.5 1020.4,492.1 1018.3,489.5 1016.2,485.7 1012,479.8 1006.8,472.8 1005.7,471.3 1001.6,467" fill="#ffd9b7" stroke="#dc985d" stroke-opacity="0.5" stroke-width="5.2" stroke-linejoin="round"/><polygon points="1001.6,467 1006.8,472.3 1013.1,476.5 1016.2,478.9 1019.4,481.5 1021.5,482.9 1024.6,484.7 1032,485.8 1055,487.6 1064.5,488.6 1083.4,490.3 1106.4,494.7 1112.7,496.2 1119,497.3 1119,520.9 1112.7,519.1 1106.4,516.2 1083.4,504.3 1064.5,499.5 1055,497.5 1032,495.2 1024.6,493.5 1021.5,490.6 1019.4,488.3 1016.2,483.2 1013.1,479.5 1006.8,472.5 1001.6,467" fill="#d6ecf3" stroke="#a5cfde" stroke-opacity="0.5" stroke-width="5.2" stroke-linejoin="round"/><path d="M1016.2 466.3V550.4M1045.6 466.3V550.4M1104.3 466.3V550.4M996.1 529.3H1124.1M996.1 508.3H1124.1M996.1 487.3H1124.1" stroke="#b0b0b0" stroke-width="0.9" fill="none"/><path d="M1001.6 466.3V550.4M1060.3 466.3V550.4M1119 466.3V550.4" stroke="#000000" stroke-opacity="0.5" stroke-width="5.5" fill="none"/><path d="M1001.6 468.1H1003.6V470.2H1005.7V472.3H1007.8V474.4H1009.9V476.5H1012V478.6H1014.1V480.8H1016.2V483.3H1018.3V486.8H1020.4V489.2H1022.5V491H1024.6V492.3H1026.7V492.8H1028.8V493.4H1035.1V493.9H1043.5V494.4H1051.9V495.1H1056.1V495.7H1060.3V496.5H1062.4V496.9H1064.5V497.4H1066.6V497.8H1070.8V498.6H1075V499.3H1079.2V500H1083.4V501.3H1085.5V502.4H1087.5V503.4H1089.6V504.5H1091.7V505.5H1093.8V506.6H1095.9V507.6H1098V508.7H1100.1V509.7H1102.2V510.8H1104.3V511.9H1106.4V513.1H1108.5V514.2H1110.6V515.4H1112.7V516.1H1114.8V516.6H1116.9V517.2H1119V517.5" fill="none" stroke="#000" stroke-width="8.4" stroke-linejoin="round" stroke-linecap="round"/></g><path d="M1016.2 550.4v11M1030.9 550.4v11M1045.6 550.4v11M1075 550.4v11M1089.6 550.4v11M1104.3 550.4v11M996.1 529.3h-11M996.1 508.3h-11M996.1 487.3h-11" stroke="#000" stroke-width="3.3" fill="none"/><path d="M1001.6 550.4v18M1060.3 550.4v18M1119 550.4v18M996.1 550.4h-18.7M996.1 466.3h-18.7" stroke="#000000" stroke-width="4.5" fill="none"/><rect x="996.1" y="466.3" width="128" height="84.1" fill="none" stroke="#000000" stroke-width="5.5"/></g>
<g><clipPath id="c2_5"><rect x="1175.5" y="466.3" width="128" height="84.1"/></clipPath><g clip-path="url(#c2_5)"><polygon points="1181,467 1185.1,469.6 1190.4,473.4 1192.5,474.2 1197.7,477.8 1198.8,478.6 1199.8,479.3 1204,482.3 1206.1,482.8 1207.2,482.9 1208.2,483 1225,485.4 1238.6,487.3 1250.2,489.9 1259.6,492.5 1272.2,496.5 1282.7,499.1 1298.4,503 1298.4,547.8 1282.7,547.7 1272.2,543.5 1259.6,534.4 1250.2,525.7 1238.6,517.1 1225,513.6 1208.2,508 1207.2,506.6 1206.1,504.7 1204,502 1199.8,496.8 1198.8,494.9 1197.7,492.2 1192.5,481.6 1190.4,478.5 1185.1,469.6 1181,467" fill="#8fbbd9" stroke="#1f77b4" stroke-opacity="0.5" stroke-width="5.2" stroke-linejoin="round"/><polygon points="1181,467 1185.1,469.6 1191.4,473.9 1194.6,475.9 1197.7,478.5 1198.8,479.3 1199.8,480.2 1204,483.2 1206.1,483.6 1208.2,483.9 1225,486.1 1238.6,487.8 1250.2,490.5 1258.6,493.1 1262.8,494.7 1272.2,498.1 1282.7,501.5 1294.2,505 1298.4,506.2 1298.4,539 1294.2,538.5 1282.7,536.7 1272.2,531.8 1262.8,525.5 1258.6,522.3 1250.2,515.8 1238.6,508.9 1225,506.2 1208.2,501.8 1206.1,499.4 1204,497.4 1199.8,492.8 1198.8,491.1 1197.7,488.9 1194.6,483.2 1191.4,478.3 1185.1,469.6 1181,467" fill="#ffd9b7" stroke="#dc985d" stroke-opacity="0.5" stroke-width="5.2" stroke-linejoin="round"/><polygon points="1181,467 1185.1,469.6 1191.4,474.1 1194.6,476.3 1199.8,481 1204,484.1 1208.2,484.8 1223.9,486.7 1238.6,488.3 1249.1,490.8 1257.5,493.5 1265.9,497.1 1276.4,501.4 1283.7,504.3 1291.1,507.1 1298.4,509.3 1298.4,530.3 1291.1,528.6 1283.7,526.1 1276.4,522.3 1265.9,516.1 1257.5,510.6 1249.1,505.4 1238.6,500.7 1223.9,498.6 1208.2,495.6 1204,492.8 1199.8,488.8 1194.6,480.7 1191.4,476.6 1185.1,469.6 1181,467" fill="#d6ecf3" stroke="#a5cfde" stroke-opacity="0.5" stroke-width="5.2" stroke-linejoin="round"/><path d="M1195.6 466.3V550.4M1210.3 466.3V550.4M1269 466.3V550.4M1175.5 529.3H1303.5M1175.5 508.3H1303.5M1175.5 487.3H1303.5" stroke="#b0b0b0" stroke-width="0.9" fill="none"/><path d="M1181 466.3V550.4M1239.7 466.3V550.4M1298.4 466.3V550.4" stroke="#ff0000" stroke-opacity="0.5" stroke-width="5.5" fill="none"/><path d="M1181 467.7H1183V469H1185.1V470.3H1187.2V471.8H1189.3V473.6H1191.4V475.3H1193.5V477.3H1195.6V479.8H1197.7V482.4H1199.8V484.3H1201.9V485.9H1204V486.9H1208.2V487.5H1212.4V488H1216.6V488.5H1225V489H1233.4V489.5H1239.7V490.2H1243.9V491.1H1246V491.6H1248.1V492.4H1250.2V493.2H1252.3V494H1254.4V494.8H1256.5V496.1H1258.6V497.3H1260.7V498.5H1262.8V499.7H1264.9V500.9H1266.9V502H1269V503.2H1271.1V504.5H1273.2V505.8H1275.3V507.1H1277.4V508.4H1279.5V509.7H1281.6V511H1283.7V512.3H1285.8V513.6H1287.9V515H1290V515.9H1292.1V516.6H1294.2V517.4H1296.3V518.2H1298.4V518.6" fill="none" stroke="#000" stroke-width="8.4" stroke-linejoin="round" stroke-linecap="round"/></g><path d="M1195.6 550.4v11M1210.3 550.4v11M1225 550.4v11M1254.4 550.4v11M1269 550.4v11M1283.7 550.4v11M1175.5 529.3h-11M1175.5 508.3h-11M1175.5 487.3h-11" stroke="#000" stroke-width="3.3" fill="none"/><path d="M1181 550.4v18M1239.7 550.4v18M1298.4 550.4v18M1175.5 550.4h-18.7M1175.5 466.3h-18.7" stroke="#ff0000" stroke-width="4.5" fill="none"/><rect x="1175.5" y="466.3" width="128" height="84.1" fill="none" stroke="#ff0000" stroke-width="5.5"/></g>
<g><clipPath id="c2_6"><rect x="1354.9" y="466.3" width="128" height="84.1"/></clipPath><g clip-path="url(#c2_6)"><polygon points="1360.4,467 1363.5,469.7 1365.6,470.3 1369.8,470.8 1374,471.2 1377.1,471.3 1379.2,471.4 1386.6,471.7 1402.3,472.2 1408.6,472.5 1409.6,472.5 1410.7,472.5 1425.4,472.9 1428.5,472.9 1429.6,473 1430.6,473 1436.9,473.1 1446.3,473.2 1463.1,473.7 1473.6,475.2 1477.8,475.8 1477.8,549.2 1473.6,548 1463.1,547.8 1446.3,547.8 1436.9,544.2 1430.6,538.7 1429.6,537.1 1428.5,534.9 1425.4,530.3 1410.7,510.6 1409.6,509.7 1408.6,509.5 1402.3,506.9 1386.6,502.1 1379.2,496.3 1377.1,491.9 1374,486.7 1369.8,479 1365.6,471.6 1363.5,469.7 1360.4,467" fill="#8fbbd9" stroke="#1f77b4" stroke-opacity="0.5" stroke-width="5.2" stroke-linejoin="round"/><polygon points="1360.4,467 1363.5,469.7 1365.6,470.3 1370.8,471 1375,473 1378.2,475 1380.3,476.7 1384.5,480.1 1395,483 1407.5,486 1411.7,487 1414.9,488.6 1426.4,494.3 1430.6,496.1 1435.9,497.4 1439,498.2 1443.2,499.2 1445.3,500.4 1452.6,504.7 1466.3,512.9 1473.6,514.7 1477.8,515.6 1477.8,549.2 1473.6,548 1466.3,547.8 1452.6,547.7 1445.3,544.6 1443.2,542.8 1439,538.9 1435.9,534.4 1430.6,528.1 1426.4,522.8 1414.9,509.8 1411.7,508.6 1407.5,506.4 1395,502.5 1384.5,496.7 1380.3,493.7 1378.2,491.5 1375,487 1370.8,479.5 1365.6,471.6 1363.5,469.7 1360.4,467" fill="#ffd9b7" stroke="#dc985d" stroke-opacity="0.5" stroke-width="5.2" stroke-linejoin="round"/><polygon points="1360.4,467 1363.5,469.7 1366.6,470.8 1370.8,473.5 1372.9,475.9 1376.1,479.4 1380.3,483.8 1386.6,487.7 1388.7,489 1399.2,491.6 1405.4,493.2 1413.8,496 1419.1,498.1 1421.2,499.3 1430.6,504.3 1433.8,505.9 1439,508.5 1444.3,511.4 1449.5,515.3 1453.7,518.4 1458.9,522.6 1462.1,525.3 1467.3,529.6 1473.6,533.3 1477.8,535.6 1477.8,549.2 1473.6,548 1467.3,547.8 1462.1,547.7 1458.9,547.1 1453.7,544 1449.5,539.7 1444.3,533.3 1439,528.4 1433.8,522.2 1430.6,519.4 1421.2,510.1 1419.1,509 1413.8,505.8 1405.4,503 1399.2,500.3 1388.7,496.1 1386.6,495.3 1380.3,492.1 1376.1,487 1372.9,481.6 1370.8,478.1 1366.6,472.8 1363.5,469.7 1360.4,467" fill="#d6ecf3" stroke="#a5cfde" stroke-opacity="0.5" stroke-width="5.2" stroke-linejoin="round"/><path d="M1389.7 466.3V550.4M1433.8 466.3V550.4M1463.1 466.3V550.4M1354.9 529.3H1482.9M1354.9 508.3H1482.9M1354.9 487.3H1482.9" stroke="#b0b0b0" stroke-width="0.9" fill="none"/><path d="M1360.4 466.3V550.4M1419.1 466.3V550.4M1477.8 466.3V550.4" stroke="#ff0000" stroke-opacity="0.5" stroke-width="5.5" fill="none"/><path d="M1360.4 467.9H1362.4V469.7H1364.5V471.6H1366.6V473.6H1368.7V475.7H1370.8V477.8H1372.9V480.8H1375V484.5H1377.1V487.6H1379.2V489.7H1381.3V491.8H1383.4V492.8H1385.5V493.5H1387.6V494.1H1389.7V494.7H1391.8V495.2H1393.9V495.8H1396V496.3H1398.1V496.8H1400.2V497.3H1402.3V497.9H1404.4V498.4H1406.5V499H1408.6V499.8H1410.7V500.5H1412.8V501.3H1414.9V502H1417V502.8H1419.1V503.4H1421.2V504.1H1423.3V504.7H1425.4V506.3H1427.5V508.4H1429.6V510.5H1431.7V512.4H1433.8V514.2H1435.9V515.9H1438V517.6H1440.1V519.1H1442.2V520.5H1444.3V521.9H1446.3V524.3H1448.4V526.9H1450.5V528.6H1452.6V530.1H1454.7V531.5H1456.8V533.2H1458.9V535.3H1461V537.4H1463.1V540H1465.2V542.7H1467.3V544.8H1469.4V546.9H1471.5V547.7H1473.6V548.3H1475.7V549H1477.8V549.2" fill="none" stroke="#000" stroke-width="8.4" stroke-linejoin="round" stroke-linecap="round"/></g><path d="M1375 550.4v11M1389.7 550.4v11M1404.4 550.4v11M1433.8 550.4v11M1448.4 550.4v11M1463.1 550.4v11M1354.9 529.3h-11M1354.9 508.3h-11M1354.9 487.3h-11" stroke="#000" stroke-width="3.3" fill="none"/><path d="M1360.4 550.4v18M1419.1 550.4v18M1477.8 550.4v18M1354.9 550.4h-18.7M1354.9 466.3h-18.7" stroke="#ff0000" stroke-width="4.5" fill="none"/><rect x="1354.9" y="466.3" width="128" height="84.1" fill="none" stroke="#ff0000" stroke-width="5.5"/></g>
<g><clipPath id="c2_7"><rect x="1534.3" y="466.3" width="128" height="84.1"/></clipPath><g clip-path="url(#c2_7)"><polygon points="1539.8,467 1543.9,470.3 1546,471.8 1549.2,472.9 1550.2,473.2 1551.3,473.6 1553.4,474.3 1555.5,474.9 1557.6,475.6 1559.7,476.2 1560.7,476.5 1564.9,477.8 1566,478.1 1570.2,478.4 1580.7,479.2 1588,479.7 1589,479.7 1590.1,479.8 1594.3,480.1 1596.4,480.2 1598.5,480.6 1600.6,481.1 1601.6,481.4 1611.1,483.9 1614.2,487.5 1617.4,490.6 1619.5,491.1 1625.7,493.5 1626.8,494 1632,499.6 1636.2,503.5 1640.4,505.9 1643.6,507.9 1644.6,508.6 1645.7,510.4 1646.7,513.1 1650.9,520.1 1652,523.5 1656.2,540.4 1657.2,543.4 1657.2,550.4 1656.2,550.3 1652,550 1650.9,549.9 1646.7,549.5 1645.7,549.4 1644.6,549.3 1643.6,549.3 1640.4,547.8 1636.2,547.8 1632,547.8 1626.8,547.8 1625.7,547.8 1619.5,545.8 1617.4,544.5 1614.2,542.5 1611.1,540.5 1601.6,534.7 1600.6,533.5 1598.5,528.7 1596.4,525.1 1594.3,522.8 1590.1,517.2 1589,516.4 1588,516.3 1580.7,512.8 1570.2,510.1 1566,508.8 1564.9,507.5 1560.7,503.9 1559.7,502.5 1557.6,497.1 1555.5,492.8 1553.4,486.8 1551.3,481.5 1550.2,479.8 1549.2,478.9 1546,473.9 1543.9,470.3 1539.8,467" fill="#8fbbd9" stroke="#1f77b4" stroke-opacity="0.5" stroke-width="5.2" stroke-linejoin="round"/><polygon points="1539.8,467 1543.9,470.3 1546,471.8 1550.2,473.2 1552.3,474 1555.5,475.7 1557.6,476.8 1563.9,479.3 1567,480.6 1572.3,481.6 1574.4,481.9 1577.5,482.3 1579.6,482.5 1586.9,483.6 1591.1,485.3 1596.4,487.5 1597.4,488 1602.7,491 1604.8,492.2 1606.9,493.4 1609,494.6 1610,495.5 1620.5,504.4 1624.7,507.5 1629.9,511.8 1639.4,519.6 1641.5,521.2 1643.6,522.8 1645.7,524.5 1652,532.8 1653,534.9 1656.2,542.9 1657.2,544.8 1657.2,550.4 1656.2,550.3 1653,550 1652,550 1645.7,549.4 1643.6,549.3 1641.5,548.3 1639.4,547.8 1629.9,547.7 1624.7,545.6 1620.5,542.4 1610,534.1 1609,532.4 1606.9,528.1 1604.8,524.6 1602.7,522.6 1597.4,516.6 1596.4,516.3 1591.1,513.2 1586.9,511.6 1579.6,508.9 1577.5,506.9 1574.4,505.1 1572.3,503.2 1567,494.6 1563.9,491 1557.6,487.1 1555.5,484.9 1552.3,480.7 1550.2,478.5 1546,473 1543.9,470.3 1539.8,467" fill="#ffd9b7" stroke="#dc985d" stroke-opacity="0.5" stroke-width="5.2" stroke-linejoin="round"/><polygon points="1539.8,467 1545,471.2 1552.3,475.4 1557.6,478.5 1561.8,480.8 1573.3,483.6 1575.4,484.5 1579.6,486.5 1585.9,488.6 1588,489.3 1593.2,490.8 1595.3,491.6 1600.6,494.7 1602.7,496.7 1606.9,500.7 1609,502.6 1612.1,505.1 1614.2,506 1615.3,506.5 1617.4,507.8 1620.5,510.8 1628.9,519.7 1632,522 1635.2,524.3 1640.4,532 1643.6,538 1646.7,543.9 1648.8,546.6 1652,548.9 1657.2,550 1657.2,550.4 1652,550 1648.8,549.7 1646.7,549.5 1643.6,549.3 1640.4,547.8 1635.2,547.7 1632,546.1 1628.9,543.2 1620.5,534.3 1617.4,528.6 1615.3,525 1614.2,523.8 1612.1,522.2 1609,519.5 1606.9,516.7 1602.7,513.3 1600.6,512 1595.3,509.2 1593.2,507.1 1588,504.7 1585.9,502.7 1579.6,494.7 1575.4,491.4 1573.3,490.7 1561.8,486.9 1557.6,484 1552.3,479 1545,471.4 1539.8,467" fill="#d6ecf3" stroke="#a5cfde" stroke-opacity="0.5" stroke-width="5.2" stroke-linejoin="round"/><path d="M1554.4 466.3V550.4M1569.1 466.3V550.4M1583.8 466.3V550.4M1613.2 466.3V550.4M1627.8 466.3V550.4M1534.3 529.3H1662.3M1534.3 508.3H1662.3M1534.3 487.3H1662.3" stroke="#b0b0b0" stroke-width="0.9" fill="none"/><path d="M1539.8 466.3V550.4M1598.5 466.3V550.4M1657.2 466.3V550.4" stroke="#ff0000" stroke-opacity="0.5" stroke-width="5.5" fill="none"/><path d="M1539.8 467.8H1541.8V469.5H1543.9V471.2H1546V473H1548.1V474.8H1550.2V476.7H1552.3V478.5H1554.4V480.2H1556.5V482H1558.6V483.6H1560.7V484.7H1562.8V485.7H1564.9V486.8H1567V487.3H1569.1V487.8H1571.2V488.4H1573.3V488.9H1575.4V489.3H1579.6V490.2H1583.8V491H1585.9V491.6H1588V492.9H1590.1V494.1H1592.2V495.9H1594.3V498.2H1596.4V500.4H1598.5V502.3H1600.6V504.3H1602.7V505.4H1604.8V506.1H1606.9V506.8H1609V508.2H1611.1V510.8H1613.2V513.6H1615.3V516.7H1617.4V519.8H1619.5V521.2H1621.6V522.6H1623.7V524H1625.7V527.2H1627.8V530.9H1629.9V534.6H1632V538.3H1634.1V541.7H1636.2V544.8H1638.3V547.3H1640.4V548.3H1642.5V549.3H1648.8V549.8H1655.1V550.3H1657.2V550.4" fill="none" stroke="#000" stroke-width="8.4" stroke-linejoin="round" stroke-linecap="round"/></g><path d="M1554.4 550.4v11M1569.1 550.4v11M1583.8 550.4v11M1613.2 550.4v11M1627.8 550.4v11M1642.5 550.4v11M1534.3 529.3h-11M1534.3 508.3h-11M1534.3 487.3h-11" stroke="#000" stroke-width="3.3" fill="none"/><path d="M1539.8 550.4v18M1598.5 550.4v18M1657.2 550.4v18M1534.3 550.4h-18.7M1534.3 466.3h-18.7" stroke="#ff0000" stroke-width="4.5" fill="none"/><rect x="1534.3" y="466.3" width="128" height="84.1" fill="none" stroke="#ff0000" stroke-width="5.5"/></g>
<g><clipPath id="c2_8"><rect x="1713.7" y="466.3" width="128" height="84.1"/></clipPath><g clip-path="url(#c2_8)"><polygon points="1719.2,467 1723.3,470.2 1725.4,471.8 1733.8,474.6 1735.9,475.4 1738,476.2 1744.3,478.3 1753.8,480 1760.1,481.1 1767.4,482 1768.4,482.1 1769.5,482.2 1772.6,482.8 1773.7,484.1 1775.8,486 1776.8,486.9 1778.9,488.8 1780,489.7 1781,490.5 1783.1,491 1784.2,491.3 1785.2,491.6 1791.5,493.5 1792.6,494 1793.6,495.7 1794.7,498.1 1799.9,506.1 1801,508 1805.1,515 1806.2,516.3 1808.3,516 1816.7,518.6 1817.7,519.5 1819.8,526.2 1821.9,530.9 1826.1,541.8 1827.2,542.4 1828.2,541.3 1836.6,544 1836.6,550.4 1828.2,550.4 1827.2,550.4 1826.1,550.4 1821.9,550.4 1819.8,550.4 1817.7,550.4 1816.7,550.4 1808.3,550.4 1806.2,550.1 1805.1,549.7 1801,547.8 1799.9,547.8 1794.7,547.8 1793.6,547.8 1792.6,547.8 1791.5,547.7 1785.2,544.6 1784.2,543.2 1783.1,540.7 1781,537.6 1780,535.2 1778.9,531.7 1776.8,526.1 1775.8,523.9 1773.7,522.6 1772.6,521.2 1769.5,517 1768.4,516.3 1767.4,516.3 1760.1,512.7 1753.8,507.3 1744.3,501.4 1738,495.9 1735.9,493.7 1733.8,489 1725.4,473.6 1723.3,470.2 1719.2,467" fill="#8fbbd9" stroke="#1f77b4" stroke-opacity="0.5" stroke-width="5.2" stroke-linejoin="round"/><polygon points="1719.2,467 1723.3,470.2 1725.4,471.8 1728.6,473.4 1733.8,477 1738,479.4 1741.2,480.7 1744.3,481.9 1753.8,485.2 1762.1,487.7 1766.3,488.9 1770.5,490.2 1772.6,491.6 1776.8,494.4 1777.9,495.6 1780,499.1 1782.1,502.5 1784.2,506 1785.2,507.1 1786.3,508.1 1788.4,510.2 1789.4,511.3 1790.5,512.3 1794.7,516.5 1797.8,519.7 1801,527.5 1802,530.2 1803.1,531.8 1807.2,536 1810.4,538.7 1816.7,542.7 1828.2,547.2 1836.6,549.2 1836.6,550.4 1828.2,550.4 1816.7,550.4 1810.4,550.4 1807.2,550.4 1803.1,548.8 1802,548.4 1801,547.8 1797.8,547.8 1794.7,547.6 1790.5,544.7 1789.4,543.4 1788.4,541.1 1786.3,537.4 1785.2,535 1784.2,532 1782.1,527 1780,524 1777.9,522.4 1776.8,521.2 1772.6,516.4 1770.5,515.4 1766.3,512.4 1762.1,507.7 1753.8,500.7 1744.3,495 1741.2,491.2 1738,489.1 1733.8,484.9 1728.6,476.9 1725.4,472.7 1723.3,470.2 1719.2,467" fill="#ffd9b7" stroke="#dc985d" stroke-opacity="0.5" stroke-width="5.2" stroke-linejoin="round"/><polygon points="1719.2,467 1725.4,471.8 1731.7,476.4 1737,480.2 1742.2,483.3 1747.5,485.8 1752.7,487.8 1762.1,490.9 1764.2,492.4 1769.5,496.4 1773.7,498.7 1775.8,499.8 1776.8,500.5 1780,505.8 1783.1,510.1 1786.3,514.7 1787.3,516.2 1789.4,518.7 1791.5,521.3 1794.7,525.2 1795.7,526.6 1797.8,530.9 1801,535.4 1804.1,539.3 1807.2,542.4 1814.6,547.2 1821.9,550.1 1836.6,550.4 1836.6,550.4 1821.9,550.4 1814.6,550.4 1807.2,550.4 1804.1,549.2 1801,547.8 1797.8,547.4 1795.7,545.1 1794.7,543.6 1791.5,537.2 1789.4,532.2 1787.3,527.6 1786.3,526 1783.1,523.1 1780,520.2 1776.8,516.4 1775.8,515.6 1773.7,513.2 1769.5,506.8 1764.2,500.9 1762.1,499.6 1752.7,495.7 1747.5,491.1 1742.2,489.1 1737,485.8 1731.7,479.1 1725.4,472.2 1719.2,467" fill="#d6ecf3" stroke="#a5cfde" stroke-opacity="0.5" stroke-width="5.2" stroke-linejoin="round"/><path d="M1733.8 466.3V550.4M1763.2 466.3V550.4M1807.2 466.3V550.4M1821.9 466.3V550.4M1713.7 529.3H1841.7M1713.7 508.3H1841.7M1713.7 487.3H1841.7" stroke="#b0b0b0" stroke-width="0.9" fill="none"/><path d="M1719.2 466.3V550.4M1777.9 466.3V550.4M1836.6 466.3V550.4" stroke="#ff0000" stroke-opacity="0.5" stroke-width="5.5" fill="none"/><path d="M1719.2 467.8H1721.2V469.4H1723.3V471H1725.4V472.8H1727.5V474.7H1729.6V476.6H1731.7V478.7H1733.8V481.1H1735.9V483.6H1738V485.8H1740.1V486.8H1742.2V487.9H1744.3V489H1746.4V489.5H1748.5V490H1750.6V490.5H1752.7V491.7H1754.8V493.3H1756.9V494.9H1759V496.2H1761.1V496.9H1763.2V497.5H1765.3V498.2H1767.4V498.9H1769.5V499.6H1771.6V500.3H1773.7V503.7H1775.8V507.4H1777.9V512.5H1780V517.7H1782.1V519.8H1784.2V521.9H1786.3V523.6H1788.4V525.3H1790.5V527.5H1792.6V531.8H1794.7V536.4H1796.8V541.2H1798.9V545.4H1801V548.4H1803.1V549.2H1805.1V550.1H1836.6V550.4" fill="none" stroke="#000" stroke-width="8.4" stroke-linejoin="round" stroke-linecap="round"/></g><path d="M1733.8 550.4v11M1748.5 550.4v11M1763.2 550.4v11M1792.6 550.4v11M1807.2 550.4v11M1821.9 550.4v11M1713.7 529.3h-11M1713.7 508.3h-11M1713.7 487.3h-11" stroke="#000" stroke-width="3.3" fill="none"/><path d="M1719.2 550.4v18M1777.9 550.4v18M1836.6 550.4v18M1713.7 550.4h-18.7M1713.7 466.3h-18.7" stroke="#ff0000" stroke-width="4.5" fill="none"/><rect x="1713.7" y="466.3" width="128" height="84.1" fill="none" stroke="#ff0000" stroke-width="5.5"/></g>
<g><clipPath id="c2_9"><rect x="1893.1" y="466.3" width="128" height="84.1"/></clipPath><g clip-path="url(#c2_9)"><polygon points="1898.6,467 1899.6,467.4 1903.8,471.3 1904.8,472.3 1905.9,473.3 1913.2,477.1 1914.3,478.2 1916.4,480.1 1917.4,481 1921.6,484.7 1922.7,485.1 1925.8,485.2 1931.1,485.7 1932.1,485.8 1933.2,485.9 1934.2,486.5 1935.3,488.2 1937.4,490.3 1939.5,492.4 1945.7,499.8 1946.8,500.9 1947.8,501.4 1949.9,501.8 1951,502.2 1952,502.6 1953.1,503 1955.2,503.8 1956.2,505.2 1957.3,509 1958.3,512.3 1959.4,514.8 1960.4,517.3 1961.5,520.7 1964.6,530.4 1965.7,533.3 1966.7,535 1968.8,539.5 1969.9,540.9 1972,540 1975.1,541.1 1977.2,542.2 1978.3,544.1 1982.5,549.1 1983.5,550 1989.8,550.4 2016,550.4 2016,550.4 1989.8,550.4 1983.5,550.4 1982.5,550.4 1978.3,550.4 1977.2,550.4 1975.1,550.4 1972,549.1 1969.9,548.2 1968.8,547.8 1966.7,547.8 1965.7,547.8 1964.6,547.8 1961.5,547.8 1960.4,547.2 1959.4,544.2 1958.3,542.2 1957.3,539.5 1956.2,535 1955.2,531.6 1953.1,524.8 1952,525.1 1951,526.4 1949.9,525.9 1947.8,524.8 1946.8,524.3 1945.7,523.5 1939.5,516.7 1937.4,512.5 1935.3,509.1 1934.2,507.3 1933.2,505.6 1932.1,504.5 1931.1,504.2 1925.8,500 1922.7,498.6 1921.6,498.1 1917.4,496 1916.4,494.9 1914.3,489.8 1913.2,487.9 1905.9,474.5 1904.8,472.6 1903.8,471.3 1899.6,467.4 1898.6,467" fill="#8fbbd9" stroke="#1f77b4" stroke-opacity="0.5" stroke-width="5.2" stroke-linejoin="round"/><polygon points="1898.6,467 1899.6,467.4 1904.8,472.3 1906.9,474 1910.1,475.9 1913.2,478.5 1916.4,481.8 1919.5,484.9 1921.6,485.2 1925.8,485.8 1926.9,486.2 1930,490 1931.1,491.1 1935.3,493.1 1937.4,494.8 1942.6,500.2 1943.6,501.2 1944.7,501.5 1948.9,503.6 1949.9,504.7 1952,507.9 1953.1,509 1954.1,510.1 1955.2,511.2 1956.2,512.2 1957.3,513.2 1958.3,514.9 1959.4,517.6 1962.5,527.9 1963.6,531.4 1966.7,539.6 1967.8,540.9 1969.9,541.1 1970.9,541.2 1972,542 1975.1,546.7 1979.3,549.7 1981.4,550.2 2016,550.4 2016,550.4 1981.4,550.4 1979.3,550.4 1975.1,550.4 1972,549.1 1970.9,548.6 1969.9,548.2 1967.8,547.8 1966.7,547.8 1963.6,547.7 1962.5,547.1 1959.4,540.1 1958.3,536.1 1957.3,532.3 1956.2,528.7 1955.2,526.6 1954.1,526.4 1953.1,524.8 1952,525.1 1949.9,523.6 1948.9,522.1 1944.7,516.4 1943.6,514.3 1942.6,512.9 1937.4,507.7 1935.3,505.1 1931.1,501.7 1930,500.8 1926.9,498.8 1925.8,498.2 1921.6,495.7 1919.5,493.3 1916.4,490.9 1913.2,485.8 1910.1,480.4 1906.9,475.5 1904.8,472.5 1899.6,467.4 1898.6,467" fill="#ffd9b7" stroke="#dc985d" stroke-opacity="0.5" stroke-width="5.2" stroke-linejoin="round"/><polygon points="1898.6,467 1899.6,467.4 1904.8,472.3 1910.1,476.5 1913.2,479.8 1917.4,484.9 1918.5,485.2 1921.6,486.2 1924.8,490.1 1925.8,491.2 1933.2,493.9 1939.5,499.7 1940.5,500.9 1944.7,503.8 1947.8,507.6 1949.9,509 1954.1,511.9 1955.2,512.6 1957.3,514.4 1958.3,517 1961.5,527.6 1962.5,531.4 1964.6,538 1965.7,540.7 1967.8,541.3 1969.9,544.9 1970.9,546.5 1973,548 1975.1,549.1 1977.2,550.1 2016,550.4 2016,550.4 1977.2,550.4 1975.1,550.4 1973,549.5 1970.9,548.6 1969.9,548.2 1967.8,547.8 1965.7,547.5 1964.6,546.6 1962.5,542.4 1961.5,540 1958.3,528 1957.3,526.5 1955.2,524.4 1954.1,522.5 1949.9,514.1 1947.8,512.4 1944.7,510.3 1940.5,507.5 1939.5,506.5 1933.2,500.1 1925.8,494.7 1924.8,493.7 1921.6,492.4 1918.5,491.2 1917.4,489.7 1913.2,483.5 1910.1,478.6 1904.8,472.4 1899.6,467.4 1898.6,467" fill="#d6ecf3" stroke="#a5cfde" stroke-opacity="0.5" stroke-width="5.2" stroke-linejoin="round"/><path d="M1927.9 466.3V550.4M1942.6 466.3V550.4M1972 466.3V550.4M2001.3 466.3V550.4M1893.1 529.3H2021.1M1893.1 508.3H2021.1M1893.1 487.3H2021.1" stroke="#b0b0b0" stroke-width="0.9" fill="none"/><path d="M1898.6 466.3V550.4M1957.3 466.3V550.4M2016 466.3V550.4" stroke="#ff0000" stroke-opacity="0.5" stroke-width="5.5" fill="none"/><path d="M1898.6 467.4H1900.6V469.3H1902.7V471.3H1904.8V473.3H1906.9V475.4H1909V477.5H1911.1V480H1913.2V483.1H1915.3V486.2H1917.4V488.8H1919.5V491.3H1921.6V491.9H1923.7V492.4H1925.8V492.9H1927.9V493.4H1930V494.8H1932.1V496.6H1934.2V498.3H1936.3V500.4H1938.4V502.8H1940.5V505.3H1942.6V507.4H1944.7V508.5H1946.8V509.5H1948.9V510.6H1951V511.7H1953.1V512.7H1955.2V513.8H1957.3V519.9H1959.4V527.2H1961.5V535.6H1963.6V542.1H1965.7V546.3H1967.8V547.7H1969.9V548.6H1972V549.5H1974.1V550.4H2016" fill="none" stroke="#000" stroke-width="8.4" stroke-linejoin="round" stroke-linecap="round"/></g><path d="M1913.2 550.4v11M1927.9 550.4v11M1942.6 550.4v11M1972 550.4v11M1986.6 550.4v11M2001.3 550.4v11M1893.1 529.3h-11M1893.1 508.3h-11M1893.1 487.3h-11" stroke="#000" stroke-width="3.3" fill="none"/><path d="M1898.6 550.4v18M1957.3 550.4v18M2016 550.4v18M1893.1 550.4h-18.7M1893.1 466.3h-18.7" stroke="#ff0000" stroke-width="4.5" fill="none"/><rect x="1893.1" y="466.3" width="128" height="84.1" fill="none" stroke="#ff0000" stroke-width="5.5"/></g>
<g><clipPath id="c2_10"><rect x="2072.5" y="466.3" width="128" height="84.1"/></clipPath><g clip-path="url(#c2_10)"><polygon points="2077.9,467 2083.2,471.2 2086.3,473.9 2089.5,475.4 2093.7,477.8 2094.7,478.7 2095.8,479.5 2096.8,480.3 2101,483.4 2102.1,483.9 2103.1,484 2110.5,485.4 2111.5,485.6 2112.6,485.8 2113.6,486.4 2114.7,488 2115.7,489.1 2116.8,490.1 2118.9,492.2 2119.9,493.4 2120.9,494.9 2122,496.5 2126.2,502.1 2127.2,502.6 2128.3,502.4 2134.6,504.8 2135.6,505.5 2136.7,508.2 2137.7,512 2138.8,514.3 2140.9,518.9 2146.1,537.6 2147.2,541.3 2148.2,543.4 2149.3,544.5 2151.4,548.5 2152.4,548.6 2153.5,547.8 2162.9,550.4 2195.4,550.4 2195.4,550.4 2162.9,550.4 2153.5,550.4 2152.4,550.4 2151.4,550.4 2149.3,550.4 2148.2,549.5 2147.2,548.3 2146.1,547.8 2140.9,547.8 2138.8,547.6 2137.7,546.5 2136.7,545.7 2135.6,544.9 2134.6,544.1 2128.3,539.9 2127.2,538.7 2126.2,536.6 2122,531 2120.9,528.6 2119.9,524.3 2118.9,520.7 2116.8,514.4 2115.7,512.5 2114.7,511.4 2113.6,509.3 2112.6,507.2 2111.5,506.8 2110.5,507.7 2103.1,505.9 2102.1,505 2101,503.5 2096.8,499.2 2095.8,497.4 2094.7,494.1 2093.7,491.5 2089.5,482.5 2086.3,477.1 2083.2,471.3 2077.9,467" fill="#8fbbd9" stroke="#1f77b4" stroke-opacity="0.5" stroke-width="5.2" stroke-linejoin="round"/><polygon points="2077.9,467 2083.2,471.2 2086.3,473.9 2091.6,477.1 2095.8,480.8 2096.8,481.7 2097.9,482.6 2098.9,483.4 2100,483.9 2101,484.1 2106.3,485.6 2107.3,486 2110.5,489.2 2111.5,490.1 2113.6,492.1 2114.7,492.6 2116.8,493.2 2117.8,493.6 2118.9,495 2120.9,497.9 2123,500.9 2124.1,502.3 2125.1,502.7 2129.3,504.6 2130.4,505.5 2131.4,508.1 2132.5,511.2 2136.7,518.9 2138.8,521.7 2139.8,522.9 2140.9,525.5 2144,535.1 2146.1,542 2147.2,544 2149.3,547.4 2150.3,548.5 2153.5,548.8 2157.7,550.2 2195.4,550.4 2195.4,550.4 2157.7,550.4 2153.5,550.4 2150.3,550.4 2149.3,550.4 2147.2,548.3 2146.1,547.8 2144,547.8 2140.9,547.7 2139.8,547 2138.8,546 2136.7,544.3 2132.5,541 2131.4,540.1 2130.4,538.8 2129.3,536.7 2125.1,530 2124.1,527.1 2123,523.6 2120.9,520 2118.9,515.2 2117.8,513.2 2116.8,511.8 2114.7,508.2 2113.6,507.7 2111.5,506.8 2110.5,507.1 2107.3,506.1 2106.3,505.5 2101,499.2 2100,497.4 2098.9,494.9 2097.9,493.3 2096.8,492.8 2095.8,491.8 2091.6,484.6 2086.3,476.2 2083.2,471.3 2077.9,467" fill="#ffd9b7" stroke="#dc985d" stroke-opacity="0.5" stroke-width="5.2" stroke-linejoin="round"/><polygon points="2077.9,467 2083.2,471.2 2088.4,475.6 2092.6,479.1 2095.8,482.2 2097.9,483.9 2100,484.8 2103.1,486.4 2105.2,488.5 2109.4,492.2 2112.6,493 2115.7,493.6 2117.8,496.1 2119.9,498.8 2122,502.4 2124.1,503.7 2125.1,504.6 2126.2,506.2 2128.3,511.4 2129.3,513.1 2131.4,516.3 2133.5,519.5 2135.6,521.2 2136.7,521.9 2137.7,522.7 2138.8,524.2 2141.9,532.3 2143,535.6 2145.1,542.5 2146.1,544.5 2147.2,546.3 2148.2,547.7 2149.3,548.6 2151.4,549.1 2153.5,550.2 2195.4,550.4 2195.4,550.4 2153.5,550.4 2151.4,550.4 2149.3,550.4 2148.2,549.5 2147.2,548.3 2146.1,547.8 2145.1,547.8 2143,547.5 2141.9,546.3 2138.8,542.9 2137.7,541.6 2136.7,540.4 2135.6,538.6 2133.5,534.1 2131.4,530.1 2129.3,524.6 2128.3,522.7 2126.2,521 2125.1,520.1 2124.1,518.8 2122,515.1 2119.9,512 2117.8,508.2 2115.7,507.3 2112.6,505.5 2109.4,500.5 2105.2,493.9 2103.1,493.1 2100,492.4 2097.9,490.2 2095.8,487.8 2092.6,483.4 2088.4,477.7 2083.2,471.3 2077.9,467" fill="#d6ecf3" stroke="#a5cfde" stroke-opacity="0.5" stroke-width="5.2" stroke-linejoin="round"/><path d="M2092.6 466.3V550.4M2122 466.3V550.4M2166 466.3V550.4M2072.5 529.3H2200.5M2072.5 508.3H2200.5M2072.5 487.3H2200.5" stroke="#b0b0b0" stroke-width="0.9" fill="none"/><path d="M2077.9 466.3V550.4M2136.7 466.3V550.4M2195.4 466.3V550.4" stroke="#ff0000" stroke-opacity="0.5" stroke-width="5.5" fill="none"/><path d="M2077.9 467.8H2080V469.5H2082.1V471.2H2084.2V473.1H2086.3V475.2H2088.4V477.3H2090.5V479.6H2092.6V482H2094.7V484.5H2096.8V486.9H2098.9V488.7H2101V490.4H2103.1V492.1H2105.2V492.6H2109.4V493.2H2113.6V494.8H2115.7V497.5H2117.8V500.9H2119.9V506.1H2122V511H2124.1V513.8H2126.2V516.6H2128.3V519.4H2130.4V520.7H2132.5V521.7H2134.6V522.8H2136.7V526.2H2138.8V530.9H2140.9V536.7H2143V543.8H2145.1V547H2147.2V549.5H2149.3V550.4H2195.4" fill="none" stroke="#000" stroke-width="8.4" stroke-linejoin="round" stroke-linecap="round"/></g><path d="M2092.6 550.4v11M2107.3 550.4v11M2122 550.4v11M2151.4 550.4v11M2166 550.4v11M2180.7 550.4v11M2072.5 529.3h-11M2072.5 508.3h-11M2072.5 487.3h-11" stroke="#000" stroke-width="3.3" fill="none"/><path d="M2077.9 550.4v18M2136.7 550.4v18M2195.4 550.4v18M2072.5 550.4h-18.7M2072.5 466.3h-18.7" stroke="#ff0000" stroke-width="4.5" fill="none"/><rect x="2072.5" y="466.3" width="128" height="84.1" fill="none" stroke="#ff0000" stroke-width="5.5"/></g>
<g><clipPath id="c3_0"><rect x="278.5" y="584.1" width="128" height="84.1"/></clipPath><g clip-path="url(#c3_0)"><polygon points="283.9,585.1 293.4,591.9 297.6,594.9 311.2,602 318.6,605.6 319.6,606.2 320.7,606.7 328,610.5 332.2,615.5 334.3,617.8 336.4,620.1 341.6,625.9 342.7,627.2 345.8,630.9 346.9,632.2 353.2,639.5 365.8,650.9 369.9,655.1 376.2,661.1 384.6,666.9 401.4,667.4 401.4,667.4 384.6,666.9 376.2,666.7 369.9,666.5 365.8,664.8 353.2,664.8 346.9,664.6 345.8,663.1 342.7,660.1 341.6,658.4 336.4,651.3 334.3,646.8 332.2,642.9 328,635.4 320.7,622.7 319.6,621.4 318.6,620.7 311.2,611.9 297.6,595.7 293.4,592.3 283.9,585.1" fill="#8fbbd9" stroke="#1f77b4" stroke-opacity="0.5" stroke-width="5.2" stroke-linejoin="round"/><polygon points="283.9,585.1 294.4,592.6 298.6,595.7 320.7,609.5 322.8,611.3 334.3,623.4 343.7,633.2 350,640.1 354.2,644.3 365.8,656.7 369.9,661 374.1,664.2 378.3,666.4 400.4,667.4 401.4,667.4 401.4,667.4 400.4,667.4 378.3,666.7 374.1,666.6 369.9,666.5 365.8,664.8 354.2,664.5 350,660.6 343.7,652.4 334.3,637.3 322.8,622.7 320.7,620.8 298.6,596.4 294.4,592.9 283.9,585.1" fill="#ffd9b7" stroke="#dc985d" stroke-opacity="0.5" stroke-width="5.2" stroke-linejoin="round"/><polygon points="283.9,585.1 294.4,592.6 297.6,594.9 317.5,610.4 329,622 337.4,630 344.8,637.3 350,643.4 356.3,650.7 358.4,653.3 360.5,655.8 365.8,661.5 367.9,663.4 371,665.1 374.1,666.4 401.4,667.4 401.4,667.4 374.1,666.6 371,666.5 367.9,665.7 365.8,664.8 360.5,664.7 358.4,663.8 356.3,661.9 350,654.2 344.8,646.7 337.4,636.4 329,627.6 317.5,616.1 297.6,595.2 294.4,592.7 283.9,585.1" fill="#d6ecf3" stroke="#a5cfde" stroke-opacity="0.5" stroke-width="5.2" stroke-linejoin="round"/><path d="M298.6 584.1V668.2M313.3 584.1V668.2M357.4 584.1V668.2M386.7 584.1V668.2M278.5 647.2H406.5M278.5 626.2H406.5M278.5 605.2H406.5" stroke="#b0b0b0" stroke-width="0.9" fill="none"/><path d="M283.9 584.1V668.2M342.7 584.1V668.2M401.4 584.1V668.2" stroke="#ff0000" stroke-opacity="0.5" stroke-width="5.5" fill="none"/><path d="M283.9 585.9H286V587.4H288.1V589H290.2V590.5H292.3V591.9H294.4V593.3H296.5V594.9H298.6V597H300.7V599.1H302.8V601.2H304.9V603.3H307V605.4H309.1V607.5H311.2V609.7H313.3V611.7H315.4V613.8H317.5V615.9H319.6V618H321.7V620H323.8V621.8H325.9V623.6H328V625.5H330.1V627.3H332.2V629.2H334.3V631H336.4V632.9H338.5V634.7H340.6V636.8H342.7V639.5H344.8V642.2H346.9V644.9H349V647.7H351.1V650.5H353.2V653.3H355.3V656H357.4V658.4H359.5V660.9H361.6V663.3H363.7V664.3H365.8V665.3H367.9V666.2H374.1V666.6H388.8V667.1H401.4V667.4" fill="none" stroke="#000" stroke-width="8.4" stroke-linejoin="round" stroke-linecap="round"/></g><path d="M298.6 668.2v11M313.3 668.2v11M328 668.2v11M357.4 668.2v11M372 668.2v11M386.7 668.2v11M278.5 647.2h-11M278.5 626.2h-11M278.5 605.2h-11" stroke="#000" stroke-width="3.3" fill="none"/><path d="M283.9 668.2v18M342.7 668.2v18M401.4 668.2v18M278.5 668.2h-18.7M278.5 584.1h-18.7" stroke="#ff0000" stroke-width="4.5" fill="none"/><rect x="278.5" y="584.1" width="128" height="84.1" fill="none" stroke="#ff0000" stroke-width="5.5"/></g>
<g><clipPath id="c3_1"><rect x="457.9" y="584.1" width="128" height="84.1"/></clipPath><g clip-path="url(#c3_1)"><polygon points="463.3,585.1 469.6,590.9 472.8,593.7 474.9,594.9 478,596.9 480.1,599.3 481.2,600.4 483.3,602.5 486.4,605.7 487.5,606.6 488.5,607.2 495.9,612.6 498,614.2 505.3,619.8 514.7,629.6 518.9,635.1 522.1,639 523.1,640.3 525.2,642.2 530.5,647.4 533.6,651 541,660.3 543.1,661.7 549.3,666.3 551.4,666.8 580.8,667.4 580.8,667.4 551.4,666.8 549.3,666.8 543.1,666.7 541,666.6 533.6,666.5 530.5,664.8 525.2,664.8 523.1,664.4 522.1,662.2 518.9,658 514.7,651.6 505.3,637.4 498,629 495.9,627.7 488.5,622.1 487.5,620.4 486.4,618.2 483.3,613.4 481.2,609.9 480.1,607.3 478,603 474.9,596.9 472.8,595.1 469.6,591 463.3,585.1" fill="#8fbbd9" stroke="#1f77b4" stroke-opacity="0.5" stroke-width="5.2" stroke-linejoin="round"/><polygon points="463.3,585.1 469.6,590.9 472.8,593.8 474.9,595.3 477,596.9 483.3,604.5 489.6,610.6 491.7,612.6 500.1,620.3 506.3,625.9 511.6,631.6 518.9,640.8 523.1,645.3 526.3,648.8 530.5,654.3 533.6,658.6 535.7,661.2 543.1,666.4 580.8,667.4 580.8,667.4 543.1,666.7 535.7,666.5 533.6,666.5 530.5,664.8 526.3,664.5 523.1,660.8 518.9,654.8 511.6,644.1 506.3,636.6 500.1,629.5 491.7,623.1 489.6,621.1 483.3,611.8 477,600.2 474.9,596.7 472.8,594.6 469.6,591 463.3,585.1" fill="#ffd9b7" stroke="#dc985d" stroke-opacity="0.5" stroke-width="5.2" stroke-linejoin="round"/><polygon points="463.3,585.1 470.7,591.9 474.9,595.6 477,597.9 483.3,606.5 486.4,610.1 491.7,616.1 498,622.4 503.2,626.4 508.4,631.9 518.9,645 525.2,653 528.4,657.5 530.5,660.5 533.6,663.1 537.8,666.2 557.7,667 580.8,667.4 580.8,667.4 557.7,667 537.8,666.6 533.6,666.5 530.5,664.8 528.4,664.5 525.2,661.5 518.9,652.3 508.4,637.8 503.2,631.5 498,626.5 491.7,621.9 486.4,615.4 483.3,610.5 477,599.7 474.9,596.4 470.7,592 463.3,585.1" fill="#d6ecf3" stroke="#a5cfde" stroke-opacity="0.5" stroke-width="5.2" stroke-linejoin="round"/><path d="M492.7 584.1V668.2M507.4 584.1V668.2M536.8 584.1V668.2M551.4 584.1V668.2M457.9 647.2H585.9M457.9 626.2H585.9M457.9 605.2H585.9" stroke="#b0b0b0" stroke-width="0.9" fill="none"/><path d="M463.3 584.1V668.2M522.1 584.1V668.2M580.8 584.1V668.2" stroke="#ff0000" stroke-opacity="0.5" stroke-width="5.5" fill="none"/><path d="M463.3 586H465.4V587.9H467.5V589.8H469.6V591.9H471.7V594H473.8V596.1H475.9V599.3H478V602.6H480.1V605.9H482.2V609.3H484.3V612.7H486.4V615.7H488.5V618.2H490.6V620.7H492.7V622.4H494.8V623.8H496.9V625.2H499V627H501.1V629.1H503.2V631.2H505.3V633.4H507.4V636.2H509.5V639H511.6V641.8H513.7V644.6H515.8V647.3H517.9V650.1H520V653H522.1V656.2H524.2V659.5H526.3V662H528.4V663.6H530.5V665.2H532.6V666.5H555.6V666.9H578.7V667.4H580.8" fill="none" stroke="#000" stroke-width="8.4" stroke-linejoin="round" stroke-linecap="round"/></g><path d="M478 668.2v11M492.7 668.2v11M507.4 668.2v11M536.8 668.2v11M551.4 668.2v11M566.1 668.2v11M457.9 647.2h-11M457.9 626.2h-11M457.9 605.2h-11" stroke="#000" stroke-width="3.3" fill="none"/><path d="M463.3 668.2v18M522.1 668.2v18M580.8 668.2v18M457.9 668.2h-18.7M457.9 584.1h-18.7" stroke="#ff0000" stroke-width="4.5" fill="none"/><rect x="457.9" y="584.1" width="128" height="84.1" fill="none" stroke="#ff0000" stroke-width="5.5"/></g>
<g><clipPath id="c3_2"><rect x="637.3" y="584.1" width="128" height="84.1"/></clipPath><g clip-path="url(#c3_2)"><polygon points="642.8,585.1 648,588.9 652.2,590.2 654.3,590.7 656.4,591.3 657.4,591.6 658.5,591.8 659.5,592.1 663.7,593.3 664.8,593.6 665.8,594 677.4,597.1 684.7,599 685.7,599.6 686.8,600.4 694.1,604.9 698.3,606.5 700.4,607.3 702.5,608.1 703.6,608.5 704.6,608.9 716.2,614.7 717.2,615.7 718.3,617.7 724.6,625.6 725.6,627.1 727.7,632.2 728.7,634.3 735,646.6 740.3,655 742.4,658.1 745.5,661.9 748.7,665.9 750.8,667.3 760.2,667.4 760.2,667.4 750.8,667.3 748.7,667.2 745.5,667.2 742.4,667.1 740.3,667.1 735,667 728.7,666.9 727.7,666.4 725.6,665.4 724.6,664.9 718.3,664.8 717.2,664.8 716.2,664.8 704.6,664.8 703.6,663.3 702.5,659 700.4,654.5 698.3,651.3 694.1,644.5 686.8,632.3 685.7,631.2 684.7,631 677.4,625.7 665.8,619.9 664.8,618.7 663.7,617 659.5,612.2 658.5,609.9 657.4,606.2 656.4,603.1 654.3,598.3 652.2,595.8 648,588.9 642.8,585.1" fill="#8fbbd9" stroke="#1f77b4" stroke-opacity="0.5" stroke-width="5.2" stroke-linejoin="round"/><polygon points="642.8,585.1 648,588.9 656.4,591.6 662.7,593.6 664.8,594.3 673.2,597 680.5,599.4 683.7,601.6 688.9,605 689.9,605.4 692,606.3 701.5,610.8 704.6,612.4 706.7,613.5 708.8,614.6 709.9,615.5 710.9,616.8 719.3,626.6 724.6,636.9 728.7,645 737.1,657.8 742.4,664.1 745.5,666.6 752.9,667.3 760.2,667.4 760.2,667.4 752.9,667.3 745.5,667.2 742.4,667.1 737.1,667.1 728.7,666.9 724.6,664.9 719.3,664.8 710.9,664.7 709.9,664.1 708.8,662.9 706.7,658.2 704.6,654.6 701.5,650 692,634.6 689.9,631.5 688.9,631 683.7,626.6 680.5,624.5 673.2,620.4 664.8,612.4 662.7,609.6 656.4,598.9 648,588.9 642.8,585.1" fill="#ffd9b7" stroke="#dc985d" stroke-opacity="0.5" stroke-width="5.2" stroke-linejoin="round"/><polygon points="642.8,585.1 649,589.4 657.4,592.4 664.8,595.3 670,597.1 675.3,599.1 680.5,603 684.7,605.6 687.8,607.2 694.1,610.4 701.5,614.6 705.7,618.4 712,624.7 714.1,627.6 716.2,631.7 724.6,646.9 728.7,653.1 731.9,657.5 737.1,663.8 741.3,666.7 760.2,667.4 760.2,667.4 741.3,667.1 737.1,667.1 731.9,667 728.7,666.9 724.6,664.9 716.2,664.6 714.1,662.7 712,659.2 705.7,650.2 701.5,643.8 694.1,631.9 687.8,625.6 684.7,623.5 680.5,620.9 675.3,616.6 670,612.6 664.8,607.2 657.4,598 649,589.8 642.8,585.1" fill="#d6ecf3" stroke="#a5cfde" stroke-opacity="0.5" stroke-width="5.2" stroke-linejoin="round"/><path d="M657.4 584.1V668.2M686.8 584.1V668.2M730.8 584.1V668.2M745.5 584.1V668.2M637.3 647.2H765.3M637.3 626.2H765.3M637.3 605.2H765.3" stroke="#b0b0b0" stroke-width="0.9" fill="none"/><path d="M642.8 584.1V668.2M701.5 584.1V668.2M760.2 584.1V668.2" stroke="#ff0000" stroke-opacity="0.5" stroke-width="5.5" fill="none"/><path d="M642.8 585.8H644.8V587.3H646.9V588.9H649V590.4H651.1V592H653.2V593.6H655.3V595.1H657.4V596.8H659.5V598.9H661.6V600.9H663.7V603H665.8V605.1H667.9V606.8H670V608.4H672.1V609.9H674.2V611.5H676.3V613H678.4V614.3H680.5V615.6H682.6V616.9H684.7V618.3H686.8V619.9H688.9V621.4H691V623H693.1V624.6H695.2V627.4H697.3V630.5H699.4V633.6H701.5V637H703.6V640.5H705.7V644H707.8V647.3H709.9V650.1H712V652.9H714.1V655.6H716.2V658.1H718.3V660.5H720.4V663H722.5V664.3H724.6V665.4H726.6V666.4H728.7V666.9H760.2V667.4" fill="none" stroke="#000" stroke-width="8.4" stroke-linejoin="round" stroke-linecap="round"/></g><path d="M657.4 668.2v11M672.1 668.2v11M686.8 668.2v11M716.2 668.2v11M730.8 668.2v11M745.5 668.2v11M637.3 647.2h-11M637.3 626.2h-11M637.3 605.2h-11" stroke="#000" stroke-width="3.3" fill="none"/><path d="M642.8 668.2v18M701.5 668.2v18M760.2 668.2v18M637.3 668.2h-18.7M637.3 584.1h-18.7" stroke="#ff0000" stroke-width="4.5" fill="none"/><rect x="637.3" y="584.1" width="128" height="84.1" fill="none" stroke="#ff0000" stroke-width="5.5"/></g>
<g><clipPath id="c3_3"><rect x="816.7" y="584.1" width="128" height="84.1"/></clipPath><g clip-path="url(#c3_3)"><polygon points="822.2,585.1 828.4,590 830.5,591.8 837.9,595.2 840,596.3 844.2,598.4 847.3,599.3 858.9,601.2 859.9,601.4 861,601.8 865.1,603.1 867.2,603.7 869.3,604.3 872.5,605.7 878.8,608.8 880.9,610 881.9,610.7 884,611.9 885.1,612.6 886.1,613.2 895.6,618.4 902.9,622.5 909.2,626.5 919.7,636.1 923.9,640.3 926,642.4 933.3,650.9 934.4,652.5 937.5,658.7 938.6,659 939.6,658.2 939.6,667.4 938.6,667.4 937.5,667.3 934.4,667.1 933.3,667 926,666.5 923.9,665 919.7,664.8 909.2,664.8 902.9,664.8 895.6,664.8 886.1,664.5 885.1,663.8 884,661.4 881.9,657.9 880.9,655.8 878.8,649.3 872.5,633.7 869.3,627.8 867.2,624 865.1,622.5 861,617.6 859.9,617.1 858.9,617.1 847.3,612.3 844.2,610.7 840,608.3 837.9,604.3 830.5,593.3 828.4,590.1 822.2,585.1" fill="#8fbbd9" stroke="#1f77b4" stroke-opacity="0.5" stroke-width="5.2" stroke-linejoin="round"/><polygon points="822.2,585.1 828.4,590 831.6,592.3 838.9,596.3 841,597.5 844.2,599.1 855.7,601.6 867.2,605.8 871.4,606.9 873.5,607.8 878.8,610.2 888.2,616 891.4,617.9 895.6,620.3 896.6,621 897.7,621.8 905,627.3 915.5,637.6 922.8,645.4 923.9,646.7 926,649.2 928.1,651.7 932.3,658.6 934.4,659.4 939.6,664.2 939.6,667.4 934.4,667.1 932.3,666.9 928.1,666.6 926,666.5 923.9,665 922.8,664.8 915.5,664.8 905,664.8 897.7,664.7 896.6,664.1 895.6,662.8 891.4,656.6 888.2,650.3 878.8,632.7 873.5,624.5 871.4,622.6 867.2,617.8 855.7,612.3 844.2,606.3 841,605.1 838.9,603 831.6,593.9 828.4,590.1 822.2,585.1" fill="#ffd9b7" stroke="#dc985d" stroke-opacity="0.5" stroke-width="5.2" stroke-linejoin="round"/><polygon points="822.2,585.1 828.4,590 836.8,596.3 840,598.8 843.1,600.3 850.5,603.7 855.7,605.7 865.1,607.1 871.4,609 877.7,612.2 880.9,614.2 887.2,619.8 895.6,628 898.7,631.4 902.9,636.1 905,638.4 917.6,653.1 921.8,658.5 922.8,659.2 923.9,660.3 926,662.3 931.2,666.4 939.6,667.2 939.6,667.4 931.2,666.9 926,666.5 923.9,665 922.8,664.8 921.8,664.8 917.6,664.8 905,664.7 902.9,662.9 898.7,657.5 895.6,652.4 887.2,638.9 880.9,629.3 877.7,624.8 871.4,617.8 865.1,614.3 855.7,609.4 850.5,607.1 843.1,605.3 840,602.9 836.8,599.5 828.4,590.1 822.2,585.1" fill="#d6ecf3" stroke="#a5cfde" stroke-opacity="0.5" stroke-width="5.2" stroke-linejoin="round"/><path d="M851.5 584.1V668.2M866.2 584.1V668.2M895.6 584.1V668.2M924.9 584.1V668.2M816.7 647.2H944.7M816.7 626.2H944.7M816.7 605.2H944.7" stroke="#b0b0b0" stroke-width="0.9" fill="none"/><path d="M822.2 584.1V668.2M880.9 584.1V668.2M939.6 584.1V668.2" stroke="#ff0000" stroke-opacity="0.5" stroke-width="5.5" fill="none"/><path d="M822.2 585.9H824.2V587.5H826.3V589.2H828.4V590.9H830.5V592.6H832.6V594.4H834.7V596.3H836.8V598.4H838.9V600.5H841V602.4H843.1V603.4H845.2V604.5H847.3V605.5H853.6V606.2H859.9V607H862V607.5H864.1V608H866.2V608.6H868.3V609.2H870.4V610.2H872.5V611.3H874.6V612.3H876.7V613.3H878.8V615.6H880.9V618H883V620.5H885.1V622.9H887.2V625.4H889.3V627.8H891.4V630.3H893.5V632.7H895.6V635.2H897.7V637.7H899.8V640.1H901.9V642.6H904V645H906.1V647.5H908.1V649.9H910.2V652.4H912.3V654.8H914.4V657.2H916.5V659.7H918.6V661.8H920.7V663.4H922.8V665H924.9V666.5H931.2V666.9H937.5V667.4H939.6" fill="none" stroke="#000" stroke-width="8.4" stroke-linejoin="round" stroke-linecap="round"/></g><path d="M836.8 668.2v11M851.5 668.2v11M866.2 668.2v11M895.6 668.2v11M910.2 668.2v11M924.9 668.2v11M816.7 647.2h-11M816.7 626.2h-11M816.7 605.2h-11" stroke="#000" stroke-width="3.3" fill="none"/><path d="M822.2 668.2v18M880.9 668.2v18M939.6 668.2v18M816.7 668.2h-18.7M816.7 584.1h-18.7" stroke="#ff0000" stroke-width="4.5" fill="none"/><rect x="816.7" y="584.1" width="128" height="84.1" fill="none" stroke="#ff0000" stroke-width="5.5"/></g>
<g><clipPath id="c3_4"><rect x="996.1" y="584.1" width="128" height="84.1"/></clipPath><g clip-path="url(#c3_4)"><polygon points="1001.6,585.1 1007.8,591.1 1017.3,596.1 1019.4,596.9 1021.5,597.8 1027.8,600.2 1036.2,601.4 1037.2,601.5 1038.3,601.7 1042.5,602.3 1044.5,602.8 1046.6,603.5 1049.8,604.6 1057.1,607.1 1064.5,611.8 1065.5,612.5 1066.6,613.4 1067.6,614.7 1073.9,620.9 1081.3,627.2 1082.3,628.5 1084.4,632.3 1089.6,639.9 1095.9,648.4 1099.1,653.2 1102.2,657.8 1104.3,659.9 1110.6,667.1 1119,667.4 1119,667.4 1110.6,667.2 1104.3,667 1102.2,666.5 1099.1,664.9 1095.9,664.8 1089.6,664.8 1084.4,664.8 1082.3,664.8 1081.3,664.8 1073.9,664.8 1067.6,664.8 1066.6,664.1 1065.5,661.5 1064.5,660 1057.1,649.1 1049.8,636.8 1046.6,630.2 1044.5,626.3 1042.5,624.2 1038.3,618.6 1037.2,618 1036.2,618.3 1027.8,615 1021.5,610.9 1019.4,609.2 1017.3,605.2 1007.8,591.1 1001.6,585.1" fill="#8fbbd9" stroke="#1f77b4" stroke-opacity="0.5" stroke-width="5.2" stroke-linejoin="round"/><polygon points="1001.6,585.1 1007.8,591.1 1015.2,596.1 1019.4,598.3 1022.5,600 1029.9,601.7 1034.1,602.8 1042.5,606.4 1043.5,606.7 1049.8,609.6 1051.9,610.3 1056.1,612 1065.5,618.9 1072.9,625.3 1076,628.8 1077.1,630.4 1084.4,640.6 1098,658.3 1100.1,660.4 1103.3,663.8 1107.5,666.8 1119,667.4 1119,667.4 1107.5,667.1 1103.3,666.9 1100.1,665.5 1098,664.8 1084.4,664.8 1077.1,664.7 1076,664.2 1072.9,659.9 1065.5,650 1056.1,635.8 1051.9,628.5 1049.8,625.6 1043.5,618.6 1042.5,618.2 1034.1,614.9 1029.9,612.4 1022.5,608.9 1019.4,606.2 1015.2,601.1 1007.8,591.1 1001.6,585.1" fill="#ffd9b7" stroke="#dc985d" stroke-opacity="0.5" stroke-width="5.2" stroke-linejoin="round"/><polygon points="1001.6,585.1 1007.8,591.1 1015.2,597.2 1019.4,600.2 1025.7,602.4 1032,606 1036.2,607.7 1041.4,609.5 1048.7,611.5 1056.1,615.8 1061.3,619.2 1067.6,624.8 1071.8,629.6 1080.2,640.8 1084.4,645.9 1086.5,648.5 1093.8,657.6 1099.1,663 1103.3,665.7 1105.4,666.8 1119,667.4 1119,667.4 1105.4,667 1103.3,666.9 1099.1,664.9 1093.8,664.8 1086.5,664.7 1084.4,663.5 1080.2,658.6 1071.8,648.1 1067.6,642.5 1061.3,633.3 1056.1,626 1048.7,618.5 1041.4,615.4 1036.2,612.5 1032,610.7 1025.7,608.9 1019.4,605.1 1015.2,600.3 1007.8,591.1 1001.6,585.1" fill="#d6ecf3" stroke="#a5cfde" stroke-opacity="0.5" stroke-width="5.2" stroke-linejoin="round"/><path d="M1016.2 584.1V668.2M1045.6 584.1V668.2M1104.3 584.1V668.2M996.1 647.2H1124.1M996.1 626.2H1124.1M996.1 605.2H1124.1" stroke="#b0b0b0" stroke-width="0.9" fill="none"/><path d="M1001.6 584.1V668.2M1060.3 584.1V668.2M1119 584.1V668.2" stroke="#ff0000" stroke-opacity="0.5" stroke-width="5.5" fill="none"/><path d="M1001.6 586.1H1003.6V588.1H1005.7V590.1H1007.8V592.3H1009.9V594.8H1012V597.2H1014.1V599.5H1016.2V601.6H1018.3V603.7H1020.4V605.7H1022.5V606.4H1024.6V607.2H1026.7V608H1028.8V608.8H1030.9V609.3H1035.1V610.2H1039.3V611H1041.4V611.6H1043.5V612.7H1045.6V613.7H1047.7V614.8H1049.8V615.8H1051.9V616.9H1054V617.9H1056.1V619.6H1058.2V621.3H1060.3V623.1H1062.4V625.3H1064.5V627.7H1066.6V630.2H1068.7V632.8H1070.8V635.5H1072.9V638.3H1075V641.1H1077.1V643.5H1079.2V646H1081.3V648.4H1083.4V650.9H1085.5V653.3H1087.5V655.7H1089.6V658H1091.7V660.1H1093.8V662.2H1095.9V663.9H1098V664.9H1100.1V666H1102.2V666.9H1116.9V667.4H1119" fill="none" stroke="#000" stroke-width="8.4" stroke-linejoin="round" stroke-linecap="round"/></g><path d="M1016.2 668.2v11M1030.9 668.2v11M1045.6 668.2v11M1075 668.2v11M1089.6 668.2v11M1104.3 668.2v11M996.1 647.2h-11M996.1 626.2h-11M996.1 605.2h-11" stroke="#000" stroke-width="3.3" fill="none"/><path d="M1001.6 668.2v18M1060.3 668.2v18M1119 668.2v18M996.1 668.2h-18.7M996.1 584.1h-18.7" stroke="#ff0000" stroke-width="4.5" fill="none"/><rect x="996.1" y="584.1" width="128" height="84.1" fill="none" stroke="#ff0000" stroke-width="5.5"/></g>
<g><clipPath id="c3_5"><rect x="1175.5" y="584.1" width="128" height="84.1"/></clipPath><g clip-path="url(#c3_5)"><polygon points="1181,585.1 1186.2,589 1188.3,590.7 1192.5,592.4 1195.6,593.6 1197.7,594.4 1198.8,594.7 1204,596.3 1206.1,596.9 1213.5,598.6 1217.7,599.3 1221.9,600 1222.9,600.3 1223.9,601.6 1225,603.4 1227.1,605.8 1228.1,607 1229.2,608.3 1233.4,612.3 1235.5,614.4 1238.6,618.1 1240.7,620.6 1242.8,623 1243.9,624 1244.9,624.6 1252.3,631.2 1256.5,637.2 1265.9,649.9 1271.1,659 1273.2,662.6 1275.3,666.3 1298.4,667.4 1298.4,667.4 1275.3,666.5 1273.2,666.3 1271.1,665.1 1265.9,664.8 1256.5,664.8 1252.3,664.8 1244.9,664.8 1243.9,663.9 1242.8,660.7 1240.7,657.3 1238.6,653 1235.5,646.9 1233.4,644.8 1229.2,639.1 1228.1,637.1 1227.1,634.3 1225,630 1223.9,628.6 1222.9,628.1 1221.9,627.5 1217.7,623.4 1213.5,621.5 1206.1,617.8 1204,615.4 1198.8,610.1 1197.7,608.6 1195.6,604 1192.5,598.4 1188.3,592.4 1186.2,589.2 1181,585.1" fill="#8fbbd9" stroke="#1f77b4" stroke-opacity="0.5" stroke-width="5.2" stroke-linejoin="round"/><polygon points="1181,585.1 1186.2,589 1189.3,591.2 1198.8,595.7 1206.1,598.4 1212.4,599.9 1213.5,600.2 1217.7,604.4 1223.9,608.4 1227.1,610.2 1229.2,611.6 1231.3,613.3 1233.4,615.1 1234.4,616.1 1239.7,621.5 1240.7,622.8 1247,629.8 1249.1,632.8 1251.2,636.2 1252.3,637.9 1255.4,642 1260.7,648.3 1266.9,657.6 1271.1,663 1273.2,665.1 1274.3,666.1 1279.5,666.7 1298.4,667.4 1298.4,667.4 1279.5,666.7 1274.3,666.5 1273.2,666.3 1271.1,665.1 1266.9,664.8 1260.7,664.8 1255.4,664.7 1252.3,664.5 1251.2,663.6 1249.1,660.2 1247,657.4 1240.7,646.8 1239.7,645.6 1234.4,639.4 1233.4,637.5 1231.3,632.8 1229.2,628.9 1227.1,627.2 1223.9,623.5 1217.7,619.8 1213.5,617.2 1212.4,616.1 1206.1,610.7 1198.8,604.5 1189.3,593 1186.2,589.1 1181,585.1" fill="#ffd9b7" stroke="#dc985d" stroke-opacity="0.5" stroke-width="5.2" stroke-linejoin="round"/><polygon points="1181,585.1 1187.2,589.8 1193.5,593.9 1200.9,597.8 1207.2,599.9 1212.4,604.3 1219.8,607.9 1227.1,611.6 1229.2,613.2 1232.3,615.6 1233.4,616.6 1236.5,619.5 1238.6,621.6 1246,631.9 1250.2,639.2 1256.5,646.3 1258.6,649 1263.8,656.4 1269,662.4 1271.1,664.1 1273.2,665.8 1274.3,666.4 1298.4,667.4 1298.4,667.4 1274.3,666.5 1273.2,666.3 1271.1,665.1 1269,664.8 1263.8,664.8 1258.6,664.4 1256.5,662.6 1250.2,654.5 1246,647.9 1238.6,639.4 1236.5,635.2 1233.4,629 1232.3,627.9 1229.2,623.8 1227.1,622 1219.8,616.9 1212.4,611 1207.2,608 1200.9,604.2 1193.5,596.8 1187.2,590.1 1181,585.1" fill="#d6ecf3" stroke="#a5cfde" stroke-opacity="0.5" stroke-width="5.2" stroke-linejoin="round"/><path d="M1195.6 584.1V668.2M1210.3 584.1V668.2M1269 584.1V668.2M1175.5 647.2H1303.5M1175.5 626.2H1303.5M1175.5 605.2H1303.5" stroke="#b0b0b0" stroke-width="0.9" fill="none"/><path d="M1181 584.1V668.2M1239.7 584.1V668.2M1298.4 584.1V668.2" stroke="#ff0000" stroke-opacity="0.5" stroke-width="5.5" fill="none"/><path d="M1181 585.9H1183V587.4H1185.1V589H1187.2V590.7H1189.3V592.5H1191.4V594.4H1193.5V596.2H1195.6V598H1197.7V599.5H1199.8V601.1H1201.9V602.7H1204V604.3H1206.1V605.1H1208.2V605.9H1210.3V606.7H1212.4V607.4H1214.5V608.2H1216.6V609H1218.7V609.8H1220.8V610.6H1222.9V611.5H1225V613H1227.1V614.4H1229.2V615.8H1231.3V617.5H1233.4V619.2H1235.5V620.9H1237.6V624.5H1239.7V628.7H1241.8V632.9H1243.9V637.1H1246V640.5H1248.1V642.6H1250.2V644.7H1252.3V646.9H1254.4V649.7H1256.5V652.5H1258.6V655.3H1260.7V657.4H1262.8V659.5H1264.9V661.6H1266.9V663.2H1269V664.4H1271.1V665.7H1273.2V666.5H1285.8V667H1298.4V667.4" fill="none" stroke="#000" stroke-width="8.4" stroke-linejoin="round" stroke-linecap="round"/></g><path d="M1195.6 668.2v11M1210.3 668.2v11M1225 668.2v11M1254.4 668.2v11M1269 668.2v11M1283.7 668.2v11M1175.5 647.2h-11M1175.5 626.2h-11M1175.5 605.2h-11" stroke="#000" stroke-width="3.3" fill="none"/><path d="M1181 668.2v18M1239.7 668.2v18M1298.4 668.2v18M1175.5 668.2h-18.7M1175.5 584.1h-18.7" stroke="#ff0000" stroke-width="4.5" fill="none"/><rect x="1175.5" y="584.1" width="128" height="84.1" fill="none" stroke="#ff0000" stroke-width="5.5"/></g>
<g><clipPath id="c3_6"><rect x="1354.9" y="584.1" width="128" height="84.1"/></clipPath><g clip-path="url(#c3_6)"><polygon points="1360.4,585.1 1366.6,590.3 1368.7,591.1 1369.8,591.5 1370.8,591.9 1371.9,592.3 1376.1,594.2 1378.2,595.2 1380.3,596.3 1381.3,596.8 1386.6,599.2 1390.8,600 1397.1,601.2 1401.3,602.2 1402.3,602.5 1403.3,602.8 1406.5,603.7 1407.5,605 1410.7,608.4 1412.8,610.5 1414.9,612.1 1415.9,613 1417,613.9 1421.2,617.1 1426.4,620.6 1427.5,622.1 1428.5,624.4 1432.7,630.7 1433.8,632 1436.9,634.6 1440.1,637.8 1441.1,639.6 1442.2,642 1444.3,645.6 1447.4,650.6 1450.5,654.4 1454.7,659.8 1461,667 1463.1,667.4 1477.8,667.4 1477.8,667.4 1463.1,667.4 1461,667.4 1454.7,667.4 1450.5,667.4 1447.4,666.5 1444.3,664.8 1442.2,664.8 1441.1,664.8 1440.1,664.8 1436.9,664.8 1433.8,664.8 1432.7,664.8 1428.5,664.8 1427.5,664.8 1426.4,664.8 1421.2,664.8 1417,664.8 1415.9,663.8 1414.9,660.7 1412.8,657.3 1410.7,652.9 1407.5,646.7 1406.5,645.4 1403.3,641.1 1402.3,640.4 1401.3,640.3 1397.1,637.5 1390.8,631.2 1386.6,627.9 1381.3,624 1380.3,622.6 1378.2,615.3 1376.1,609.9 1371.9,597.2 1370.8,595 1369.8,594.7 1368.7,593.6 1366.6,590.4 1360.4,585.1" fill="#8fbbd9" stroke="#1f77b4" stroke-opacity="0.5" stroke-width="5.2" stroke-linejoin="round"/><polygon points="1360.4,585.1 1366.6,590.3 1369.8,591.7 1370.8,592.1 1372.9,593.1 1376.1,594.8 1378.2,596 1383.4,598.9 1384.5,599.2 1385.5,599.4 1388.7,600.2 1390.8,600.6 1398.1,602.6 1401.3,603.7 1404.4,606.9 1407.5,609.2 1408.6,609.8 1412.8,612.2 1417,615.8 1421.2,618.8 1423.3,620.4 1424.3,621.8 1426.4,625.6 1430.6,631.6 1435.9,636.5 1436.9,637.7 1438,639.6 1439,642 1444.3,650.9 1447.4,654.8 1450.5,658.5 1457.9,666.4 1458.9,667.1 1472.6,667.4 1477.8,667.4 1477.8,667.4 1472.6,667.4 1458.9,667.4 1457.9,667.4 1450.5,667.4 1447.4,666.5 1444.3,664.8 1439,664.8 1438,664.8 1436.9,664.8 1435.9,664.8 1430.6,664.8 1426.4,664.7 1424.3,664.7 1423.3,664.2 1421.2,660.5 1417,654.6 1412.8,646.7 1408.6,640.7 1407.5,640.3 1404.4,637.9 1401.3,634.6 1398.1,631.5 1390.8,625.1 1388.7,622.9 1385.5,615.3 1384.5,613.4 1383.4,612 1378.2,607.8 1376.1,604.4 1372.9,598.4 1370.8,594.9 1369.8,594.4 1366.6,590.4 1360.4,585.1" fill="#ffd9b7" stroke="#dc985d" stroke-opacity="0.5" stroke-width="5.2" stroke-linejoin="round"/><polygon points="1360.4,585.1 1366.6,590.3 1369.8,592.4 1371.9,593.9 1377.1,598 1381.3,600.3 1388.7,604.1 1391.8,606.5 1393.9,607.9 1396,608.6 1398.1,609.3 1400.2,610 1407.5,612.3 1414.9,619.3 1415.9,620.4 1420.1,626.9 1422.2,630 1426.4,634.3 1428.5,636.6 1429.6,638.4 1431.7,643.1 1433.8,647.2 1436.9,652.7 1444.3,659.9 1447.4,663.2 1449.5,665.4 1452.6,667 1475.7,667.4 1477.8,667.4 1477.8,667.4 1475.7,667.4 1452.6,667.4 1449.5,667.2 1447.4,666.5 1444.3,664.8 1436.9,664.8 1433.8,664.7 1431.7,664.3 1429.6,661.6 1428.5,660.2 1426.4,657.8 1422.2,652.8 1420.1,648.6 1415.9,641.2 1414.9,640.3 1407.5,632.5 1400.2,625 1398.1,622.3 1396,618.1 1393.9,614.7 1391.8,612.2 1388.7,610.9 1381.3,607.6 1377.1,603.3 1371.9,596 1369.8,594 1366.6,590.3 1360.4,585.1" fill="#d6ecf3" stroke="#a5cfde" stroke-opacity="0.5" stroke-width="5.2" stroke-linejoin="round"/><path d="M1389.7 584.1V668.2M1433.8 584.1V668.2M1463.1 584.1V668.2M1354.9 647.2H1482.9M1354.9 626.2H1482.9M1354.9 605.2H1482.9" stroke="#b0b0b0" stroke-width="0.9" fill="none"/><path d="M1360.4 584.1V668.2M1419.1 584.1V668.2M1477.8 584.1V668.2" stroke="#ff0000" stroke-opacity="0.5" stroke-width="5.5" fill="none"/><path d="M1360.4 585.9H1362.4V587.6H1364.5V589.3H1366.6V591.3H1368.7V593.4H1370.8V595.5H1372.9V597.6H1375V599.7H1377.1V601.8H1379.2V603.7H1381.3V605.1H1383.4V606.5H1385.5V607.8H1387.6V608.3H1389.7V608.9H1391.8V609.4H1393.9V610H1396V610.5H1398.1V611H1400.2V611.5H1402.3V612H1404.4V613.2H1406.5V615.3H1408.6V617.6H1410.7V620.8H1412.8V623.9H1414.9V627H1417V630.2H1419.1V632.4H1421.2V634.5H1423.3V637H1425.4V641.9H1427.5V646.5H1429.6V650.7H1431.7V654H1433.8V655.7H1435.9V657.5H1438V659.2H1440.1V661.3H1442.2V663.5H1444.3V665.6H1446.3V666.5H1448.4V667.2H1477.8V667.4" fill="none" stroke="#000" stroke-width="8.4" stroke-linejoin="round" stroke-linecap="round"/></g><path d="M1375 668.2v11M1389.7 668.2v11M1404.4 668.2v11M1433.8 668.2v11M1448.4 668.2v11M1463.1 668.2v11M1354.9 647.2h-11M1354.9 626.2h-11M1354.9 605.2h-11" stroke="#000" stroke-width="3.3" fill="none"/><path d="M1360.4 668.2v18M1419.1 668.2v18M1477.8 668.2v18M1354.9 668.2h-18.7M1354.9 584.1h-18.7" stroke="#ff0000" stroke-width="4.5" fill="none"/><rect x="1354.9" y="584.1" width="128" height="84.1" fill="none" stroke="#ff0000" stroke-width="5.5"/></g>
<g><clipPath id="c3_7"><rect x="1534.3" y="584.1" width="128" height="84.1"/></clipPath><g clip-path="url(#c3_7)"><polygon points="1539.8,585.1 1546,591.4 1555.5,596.2 1556.5,596.6 1557.6,597 1562.8,599.1 1566,600.3 1574.4,600.9 1578.6,601.2 1580.7,601.6 1584.8,602.7 1585.9,602.9 1586.9,603.2 1588,603.6 1589,604.9 1590.1,607.1 1592.2,610 1594.3,612.8 1595.3,614.2 1596.4,615.6 1600.6,621.1 1601.6,622.3 1604.8,623.7 1610,627 1611.1,628.5 1613.2,635.1 1615.3,639.6 1616.3,641.1 1617.4,642.4 1618.4,644.1 1622.6,650.8 1627.8,657.5 1628.9,659.1 1631,664 1632,666.1 1633.1,666.8 1657.2,667.4 1657.2,667.4 1633.1,666.8 1632,666.8 1631,666.8 1628.9,666.7 1627.8,666.7 1622.6,666.6 1618.4,666.5 1617.4,665.4 1616.3,664.8 1615.3,664.8 1613.2,664.8 1611.1,664.8 1610,664.8 1604.8,664.8 1601.6,664.8 1600.6,664.7 1596.4,659.1 1595.3,656.2 1594.3,652.2 1592.2,647 1590.1,640.9 1589,638 1588,635.1 1586.9,633.5 1585.9,633.9 1584.8,633.8 1580.7,630.3 1578.6,627.6 1574.4,622.6 1566,616 1562.8,614.7 1557.6,611.7 1556.5,609.7 1555.5,607.2 1546,591.5 1539.8,585.1" fill="#8fbbd9" stroke="#1f77b4" stroke-opacity="0.5" stroke-width="5.2" stroke-linejoin="round"/><polygon points="1539.8,585.1 1546,591.4 1555.5,596.5 1557.6,597.5 1560.7,598.9 1563.9,600.2 1571.2,600.9 1577.5,601.8 1582.7,603.4 1583.8,604.2 1585.9,607.5 1589,610.7 1591.1,612.4 1593.2,615.1 1596.4,619.1 1599.5,622.4 1600.6,622.9 1602.7,624 1605.8,626.1 1606.9,626.8 1607.9,627.8 1609,630.2 1611.1,635.9 1613.2,640.1 1616.3,644.9 1617.4,646.7 1618.4,648.3 1624.7,656.5 1626.8,659.8 1628.9,664.3 1629.9,666.1 1633.1,666.8 1657.2,667.4 1657.2,667.4 1633.1,666.8 1629.9,666.8 1628.9,666.7 1626.8,666.7 1624.7,666.6 1618.4,666.5 1617.4,665.4 1616.3,664.8 1613.2,664.8 1611.1,664.8 1609,664.7 1607.9,664.7 1606.9,664.5 1605.8,663.2 1602.7,658.7 1600.6,653.8 1599.5,651.8 1596.4,646.8 1593.2,639.3 1591.1,634.6 1589,633.5 1585.9,630 1583.8,627.2 1582.7,626.2 1577.5,621.3 1571.2,616.3 1563.9,611.9 1560.7,610.3 1557.6,607.4 1555.5,604.8 1546,591.4 1539.8,585.1" fill="#ffd9b7" stroke="#dc985d" stroke-opacity="0.5" stroke-width="5.2" stroke-linejoin="round"/><polygon points="1539.8,585.1 1546,591.4 1554.4,598.1 1557.6,600.3 1562.8,601.8 1566,603.6 1569.1,607.1 1571.2,608.4 1575.4,610.6 1578.6,611.6 1580.7,612.5 1585.9,618.6 1589,621 1592.2,623.2 1593.2,623.9 1594.3,624.7 1598.5,628.2 1599.5,630.4 1603.7,639.4 1604.8,641.2 1607.9,646.8 1611.1,650.4 1612.1,651.5 1614.2,653.9 1616.3,657.2 1617.4,659 1618.4,660.8 1621.6,665.3 1622.6,666.4 1657.2,667.4 1657.2,667.4 1622.6,666.6 1621.6,666.5 1618.4,666.5 1617.4,665.4 1616.3,664.8 1614.2,664.8 1612.1,664.7 1611.1,663.7 1607.9,659.5 1604.8,653.3 1603.7,651.9 1599.5,646.8 1598.5,644.7 1594.3,635.5 1593.2,633.9 1592.2,633.1 1589,628.3 1585.9,625.4 1580.7,621 1578.6,619.6 1575.4,617 1571.2,613.4 1569.1,612.1 1566,611 1562.8,609.9 1557.6,606.1 1554.4,602.1 1546,591.4 1539.8,585.1" fill="#d6ecf3" stroke="#a5cfde" stroke-opacity="0.5" stroke-width="5.2" stroke-linejoin="round"/><path d="M1554.4 584.1V668.2M1569.1 584.1V668.2M1583.8 584.1V668.2M1613.2 584.1V668.2M1627.8 584.1V668.2M1534.3 647.2H1662.3M1534.3 626.2H1662.3M1534.3 605.2H1662.3" stroke="#b0b0b0" stroke-width="0.9" fill="none"/><path d="M1539.8 584.1V668.2M1598.5 584.1V668.2M1657.2 584.1V668.2" stroke="#ff0000" stroke-opacity="0.5" stroke-width="5.5" fill="none"/><path d="M1539.8 586.1H1541.8V588.2H1543.9V590.2H1546V592.6H1548.1V595H1550.2V597.5H1552.3V599.9H1554.4V602.3H1556.5V604.8H1558.6V606.9H1560.7V608H1562.8V609H1564.9V610.1H1567V610.6H1569.1V611.1H1571.2V611.7H1573.3V612.2H1575.4V614H1577.5V616.7H1579.6V618.7H1581.7V620.1H1583.8V621.5H1585.9V622.9H1588V624.7H1590.1V626.5H1592.2V628.2H1594.3V632.4H1596.4V636.6H1598.5V640.8H1600.6V645H1602.7V647.8H1604.8V649.9H1606.9V652H1609V654.7H1611.1V658.4H1613.2V661.8H1615.3V664.2H1617.4V666.5H1636.2V666.9H1655.1V667.4H1657.2" fill="none" stroke="#000" stroke-width="8.4" stroke-linejoin="round" stroke-linecap="round"/></g><path d="M1554.4 668.2v11M1569.1 668.2v11M1583.8 668.2v11M1613.2 668.2v11M1627.8 668.2v11M1642.5 668.2v11M1534.3 647.2h-11M1534.3 626.2h-11M1534.3 605.2h-11" stroke="#000" stroke-width="3.3" fill="none"/><path d="M1539.8 668.2v18M1598.5 668.2v18M1657.2 668.2v18M1534.3 668.2h-18.7M1534.3 584.1h-18.7" stroke="#ff0000" stroke-width="4.5" fill="none"/><rect x="1534.3" y="584.1" width="128" height="84.1" fill="none" stroke="#ff0000" stroke-width="5.5"/></g>
<g><clipPath id="c3_8"><rect x="1713.7" y="584.1" width="128" height="84.1"/></clipPath><g clip-path="url(#c3_8)"><polygon points="1719.2,585.1 1725.4,591.2 1727.5,593.2 1730.7,595.1 1733.8,596.9 1735.9,597.6 1737,598 1743.3,600.3 1750.6,600.7 1751.7,600.8 1752.7,600.9 1753.8,600.9 1755.9,601.1 1756.9,601.2 1758,601.2 1760.1,601.5 1762.1,601.8 1766.3,602.5 1767.4,602.7 1768.4,602.9 1769.5,603 1771.6,603.4 1772.6,604.7 1773.7,609.1 1774.7,612 1775.8,614.5 1776.8,617 1778.9,621.7 1781,624.6 1783.1,628.2 1784.2,628.8 1785.2,628.3 1786.3,628.8 1791.5,631.4 1792.6,632.2 1793.6,634.4 1794.7,637.3 1798.9,645 1799.9,648 1801,652.2 1803.1,658.5 1804.1,661 1806.2,660.8 1812.5,667.2 1836.6,667.4 1836.6,667.4 1812.5,667.2 1806.2,667.1 1804.1,667.1 1803.1,667.1 1801,667.1 1799.9,667.1 1798.9,667 1794.7,667 1793.6,667 1792.6,667 1791.5,667 1786.3,666.7 1785.2,665.7 1784.2,664.8 1783.1,664.8 1781,664.8 1778.9,664.8 1776.8,664.8 1775.8,664.3 1774.7,659.4 1773.7,654.6 1772.6,651 1771.6,647.3 1769.5,640.4 1768.4,638.5 1767.4,640.2 1766.3,639.8 1762.1,636.7 1760.1,632.8 1758,629.7 1756.9,627.6 1755.9,624.9 1753.8,620.7 1752.7,619.9 1751.7,620.4 1750.6,620.3 1743.3,617.3 1737,612.6 1735.9,611.4 1733.8,605.8 1730.7,599.6 1727.5,594.7 1725.4,591.2 1719.2,585.1" fill="#8fbbd9" stroke="#1f77b4" stroke-opacity="0.5" stroke-width="5.2" stroke-linejoin="round"/><polygon points="1719.2,585.1 1725.4,591.2 1728.6,594.1 1731.7,596.6 1735.9,599 1738,600.2 1743.3,600.9 1746.4,601.3 1749.6,602.2 1753.8,603.7 1755.9,607.3 1758,609.1 1760.1,610.5 1764.2,613.1 1765.3,614.1 1766.3,616.2 1768.4,620.3 1770.5,623.7 1771.6,625.2 1772.6,626.9 1773.7,628.3 1775.8,628.9 1777.9,630 1778.9,630.5 1780,631 1781,631.6 1782.1,632.9 1784.2,637.2 1786.3,641.5 1788.4,646.8 1791.5,657.3 1792.6,660.3 1794.7,662 1798.9,666.4 1801,666.9 1836.6,667.4 1836.6,667.4 1801,667.1 1798.9,667 1794.7,667 1792.6,667 1791.5,667 1788.4,666.9 1786.3,666.7 1784.2,664.8 1782.1,664.8 1781,664.8 1780,664.7 1778.9,664.1 1777.9,661.8 1775.8,653.7 1773.7,646.6 1772.6,643.1 1771.6,640.4 1770.5,640.1 1768.4,638.5 1766.3,636.2 1765.3,634.3 1764.2,632.4 1760.1,628.4 1758,624.6 1755.9,620.9 1753.8,620.2 1749.6,618 1746.4,615 1743.3,612.7 1738,609.2 1735.9,607.2 1731.7,600.1 1728.6,595.7 1725.4,591.2 1719.2,585.1" fill="#ffd9b7" stroke="#dc985d" stroke-opacity="0.5" stroke-width="5.2" stroke-linejoin="round"/><polygon points="1719.2,585.1 1725.4,591.2 1730.7,596.4 1735.9,600.3 1737,600.5 1738,600.8 1742.2,602.3 1744.3,603.3 1747.5,607.7 1749.6,608.8 1753.8,610.9 1755.9,611.8 1756.9,612.3 1760.1,613.9 1762.1,617.8 1765.3,623.2 1767.4,626.4 1768.4,627.9 1769.5,628.7 1772.6,630 1773.7,630.6 1775.8,631.7 1777.9,635.2 1780,639.1 1781,641.7 1782.1,644.5 1784.2,651.5 1786.3,658.3 1787.3,661 1792.6,666.6 1812.5,667.2 1836.6,667.4 1836.6,667.4 1812.5,667.2 1792.6,667 1787.3,666.9 1786.3,666.7 1784.2,664.8 1782.1,664.7 1781,663.8 1780,662.2 1777.9,654.9 1775.8,647.7 1773.7,640.9 1772.6,640 1769.5,635.8 1768.4,633.9 1767.4,632.1 1765.3,630.5 1762.1,628.5 1760.1,625.3 1756.9,620.4 1755.9,620 1753.8,618.3 1749.6,613.5 1747.5,612.6 1744.3,611.3 1742.2,610.2 1738,608.1 1737,607 1735.9,605.4 1730.7,597.8 1725.4,591.2 1719.2,585.1" fill="#d6ecf3" stroke="#a5cfde" stroke-opacity="0.5" stroke-width="5.2" stroke-linejoin="round"/><path d="M1733.8 584.1V668.2M1763.2 584.1V668.2M1807.2 584.1V668.2M1821.9 584.1V668.2M1713.7 647.2H1841.7M1713.7 626.2H1841.7M1713.7 605.2H1841.7" stroke="#b0b0b0" stroke-width="0.9" fill="none"/><path d="M1719.2 584.1V668.2M1777.9 584.1V668.2M1836.6 584.1V668.2" stroke="#ff0000" stroke-opacity="0.5" stroke-width="5.5" fill="none"/><path d="M1719.2 586.1H1721.2V588.1H1723.3V590.1H1725.4V592.4H1727.5V594.8H1729.6V597.3H1731.7V599.9H1733.8V602.7H1735.9V605.4H1738V607.9H1740.1V608.7H1742.2V609.5H1744.3V610.3H1746.4V611.1H1748.5V611.8H1750.6V612.5H1752.7V613.2H1754.8V615.6H1756.9V619.2H1759V622.7H1761.1V625.8H1763.2V628.5H1765.3V629.6H1767.4V630.6H1769.5V631.7H1771.6V635.3H1773.7V639H1775.8V645.4H1777.9V652.4H1780V659.4H1782.1V663.6H1784.2V665.7H1786.3V666.9H1834.5V667.4H1836.6" fill="none" stroke="#000" stroke-width="8.4" stroke-linejoin="round" stroke-linecap="round"/></g><path d="M1733.8 668.2v11M1748.5 668.2v11M1763.2 668.2v11M1792.6 668.2v11M1807.2 668.2v11M1821.9 668.2v11M1713.7 647.2h-11M1713.7 626.2h-11M1713.7 605.2h-11" stroke="#000" stroke-width="3.3" fill="none"/><path d="M1719.2 668.2v18M1777.9 668.2v18M1836.6 668.2v18M1713.7 668.2h-18.7M1713.7 584.1h-18.7" stroke="#ff0000" stroke-width="4.5" fill="none"/><rect x="1713.7" y="584.1" width="128" height="84.1" fill="none" stroke="#ff0000" stroke-width="5.5"/></g>
<g><clipPath id="c3_9"><rect x="1893.1" y="584.1" width="128" height="84.1"/></clipPath><g clip-path="url(#c3_9)"><polygon points="1898.6,585.1 1899.6,585.4 1905.9,591 1908,592.9 1909,593.4 1910.1,594 1912.2,595.2 1914.3,596.1 1915.3,596.4 1918.5,597.6 1919.5,598 1920.6,598.4 1924.8,599.4 1929,600.1 1933.2,600.8 1934.2,601 1935.3,601.2 1937.4,601.6 1939.5,602 1941.5,602.4 1943.6,602.8 1944.7,603 1947.8,603.8 1948.9,604.4 1949.9,605 1951,605.5 1952,606 1953.1,606.6 1955.2,607.6 1956.2,608.6 1958.3,614.4 1961.5,620.6 1962.5,622.7 1963.6,624.1 1964.6,624.9 1968.8,630.4 1969.9,631.4 1973,632.5 1976.2,634 1977.2,635.9 1978.3,640.1 1980.4,645 1981.4,648.7 1982.5,653.5 1983.5,659.8 1984.5,664.2 1985.6,664.3 1986.6,666.4 1987.7,667.4 2016,667.4 2016,667.4 1987.7,667.4 1986.6,667.4 1985.6,667.4 1984.5,667.4 1983.5,667.4 1982.5,667.4 1981.4,667.4 1980.4,667.4 1978.3,667.4 1977.2,667.4 1976.2,667.4 1973,667.4 1969.9,667.4 1968.8,667.4 1964.6,667.4 1963.6,667.3 1962.5,666.1 1961.5,664.9 1958.3,664.8 1956.2,664.8 1955.2,664.8 1953.1,664.7 1952,661.4 1951,655.9 1949.9,652.9 1948.9,652.4 1947.8,653.6 1944.7,651.2 1943.6,649.7 1941.5,644.2 1939.5,639.8 1937.4,633 1935.3,627.2 1934.2,626.6 1933.2,627.8 1929,625.1 1924.8,623.2 1920.6,621.5 1919.5,620.4 1918.5,617.7 1915.3,612.4 1914.3,610 1912.2,602.4 1910.1,596.1 1909,594.4 1908,594.3 1905.9,591 1899.6,585.4 1898.6,585.1" fill="#8fbbd9" stroke="#1f77b4" stroke-opacity="0.5" stroke-width="5.2" stroke-linejoin="round"/><polygon points="1898.6,585.1 1899.6,585.4 1905.9,591 1908,593 1910.1,594.5 1911.1,595.2 1916.4,598.6 1917.4,599.2 1920.6,600.2 1922.7,600.9 1924.8,601.7 1925.8,602.1 1926.9,602.5 1930,604 1933.2,606.7 1934.2,607.6 1935.3,609.1 1937.4,613.4 1940.5,615.9 1942.6,617.2 1945.7,618.1 1946.8,619.7 1948.9,623.1 1951,626 1953.1,629.6 1954.1,631.2 1955.2,631.9 1956.2,632.7 1957.3,633.6 1959.4,636.8 1961.5,640.5 1963.6,642.6 1964.6,643.5 1965.7,645.1 1967.8,651.4 1970.9,662.7 1974.1,667 1980.4,667.3 2016,667.4 2016,667.4 1980.4,667.4 1974.1,667.4 1970.9,667.4 1967.8,667.4 1965.7,667.4 1964.6,667.4 1963.6,667.3 1961.5,664.9 1959.4,664.8 1957.3,664.7 1956.2,664.4 1955.2,661.8 1954.1,657.8 1953.1,654.5 1951,653.1 1948.9,650.6 1946.8,645.6 1945.7,643.6 1942.6,640 1940.5,636 1937.4,628.3 1935.3,627.2 1934.2,626.4 1933.2,625.4 1930,623.3 1926.9,621.4 1925.8,620 1924.8,618.1 1922.7,617.3 1920.6,615.9 1917.4,612.8 1916.4,610.9 1911.1,597.6 1910.1,595.6 1908,593.7 1905.9,591 1899.6,585.4 1898.6,585.1" fill="#ffd9b7" stroke="#dc985d" stroke-opacity="0.5" stroke-width="5.2" stroke-linejoin="round"/><polygon points="1898.6,585.1 1899.6,585.4 1905.9,591 1910.1,594.8 1911.1,595.7 1915.3,599.5 1918.5,601.5 1919.5,602.2 1921.6,603.8 1924.8,607.7 1927.9,613.3 1929,614.1 1930,614.7 1931.1,615.3 1934.2,617 1936.3,617.5 1937.4,617.7 1938.4,617.9 1939.5,618.3 1941.5,621.6 1944.7,626.5 1945.7,628.6 1946.8,630.7 1948.9,633.3 1949.9,634.9 1952,638.1 1954.1,640.9 1955.2,641.7 1957.3,643.2 1958.3,643.9 1959.4,646 1961.5,652 1963.6,658.7 1964.6,661.9 1965.7,664.2 1967.8,666.6 1968.8,667.2 2016,667.4 2016,667.4 1968.8,667.4 1967.8,667.4 1965.7,667.4 1964.6,667.4 1963.6,667.3 1961.5,664.9 1959.4,664.7 1958.3,664 1957.3,661.3 1955.2,654.6 1954.1,653.5 1952,649.9 1949.9,644.7 1948.9,643.5 1946.8,641.9 1945.7,641 1944.7,639.7 1941.5,634.7 1939.5,629.8 1938.4,627.9 1937.4,627.1 1936.3,625.8 1934.2,623.6 1931.1,620.7 1930,619 1929,618 1927.9,617.7 1924.8,617 1921.6,615.1 1919.5,613.7 1918.5,612.3 1915.3,606.1 1911.1,596.8 1910.1,595.4 1905.9,591 1899.6,585.4 1898.6,585.1" fill="#d6ecf3" stroke="#a5cfde" stroke-opacity="0.5" stroke-width="5.2" stroke-linejoin="round"/><path d="M1927.9 584.1V668.2M1942.6 584.1V668.2M1972 584.1V668.2M2001.3 584.1V668.2M1893.1 647.2H2021.1M1893.1 626.2H2021.1M1893.1 605.2H2021.1" stroke="#b0b0b0" stroke-width="0.9" fill="none"/><path d="M1898.6 584.1V668.2M1957.3 584.1V668.2M2016 584.1V668.2" stroke="#ff0000" stroke-opacity="0.5" stroke-width="5.5" fill="none"/><path d="M1898.6 585.4H1900.6V587.2H1902.7V589H1904.8V591H1906.9V593.1H1909V595.2H1911.1V598.1H1913.2V602.3H1915.3V606.3H1917.4V610H1919.5V613.5H1921.6V614.6H1923.7V615.7H1925.8V616.7H1927.9V617.2H1932.1V617.9H1934.2V619.8H1936.3V622.9H1938.4V626.7H1940.5V631.4H1942.6V635.6H1944.7V638.3H1946.8V640.8H1948.9V642.1H1951V643.4H1953.1V646.1H1955.2V651.7H1957.3V657.8H1959.4V663.7H1961.5V666.1H1963.6V667.4H2016" fill="none" stroke="#000" stroke-width="8.4" stroke-linejoin="round" stroke-linecap="round"/></g><path d="M1913.2 668.2v11M1927.9 668.2v11M1942.6 668.2v11M1972 668.2v11M1986.6 668.2v11M2001.3 668.2v11M1893.1 647.2h-11M1893.1 626.2h-11M1893.1 605.2h-11" stroke="#000" stroke-width="3.3" fill="none"/><path d="M1898.6 668.2v18M1957.3 668.2v18M2016 668.2v18M1893.1 668.2h-18.7M1893.1 584.1h-18.7" stroke="#ff0000" stroke-width="4.5" fill="none"/><rect x="1893.1" y="584.1" width="128" height="84.1" fill="none" stroke="#ff0000" stroke-width="5.5"/></g>
<g><clipPath id="c3_10"><rect x="2072.5" y="584.1" width="128" height="84.1"/></clipPath><g clip-path="url(#c3_10)"><polygon points="2077.9,585.1 2082.1,588.2 2085.3,590.8 2087.4,592.9 2088.4,594 2089.5,595 2094.7,597.8 2096.8,598.9 2097.9,599.4 2098.9,599.9 2102.1,601.4 2110.5,603 2111.5,603.2 2112.6,603.4 2113.6,604 2114.7,605.6 2115.7,606.7 2118.9,609.8 2119.9,611.3 2120.9,613.9 2122,616.6 2124.1,620.9 2125.1,623 2126.2,625.1 2127.2,625.7 2128.3,625.2 2135.6,629.9 2136.7,631.6 2137.7,633.9 2141.9,640.2 2143,643.6 2144,648.1 2145.1,651.8 2146.1,655.4 2147.2,659 2148.2,661 2149.3,662.1 2151.4,666.2 2152.4,667.2 2195.4,667.4 2195.4,667.4 2152.4,667.4 2151.4,667.4 2149.3,667.4 2148.2,667.4 2147.2,667.4 2146.1,666.7 2145.1,665.1 2144,664.8 2143,664.8 2141.9,664.8 2137.7,664.8 2136.7,664.8 2135.6,664.8 2128.3,664.8 2127.2,664.8 2126.2,664.8 2125.1,664.2 2124.1,661.2 2122,657.6 2120.9,654.7 2119.9,650.3 2118.9,646.6 2115.7,635.9 2114.7,634 2113.6,631.4 2112.6,628.7 2111.5,628.2 2110.5,629.3 2102.1,625.3 2098.9,623.7 2097.9,621.6 2096.8,617 2094.7,611.5 2089.5,595.7 2088.4,594.9 2087.4,594.9 2085.3,592.1 2082.1,588.2 2077.9,585.1" fill="#8fbbd9" stroke="#1f77b4" stroke-opacity="0.5" stroke-width="5.2" stroke-linejoin="round"/><polygon points="2077.9,585.1 2083.2,589 2087.4,592.9 2089.5,595 2091.6,596.5 2094.7,598.6 2096.8,600 2098.9,601.3 2100,601.6 2101,601.9 2103.1,602.5 2104.2,602.9 2105.2,603.2 2106.3,603.6 2109.4,606.9 2113.6,610.3 2115.7,611.3 2117.8,612.7 2122,620.9 2123,623.1 2124.1,625.2 2126.2,626 2127.2,626.9 2128.3,627.9 2130.4,629.9 2131.4,631.4 2135.6,636.4 2138.8,639.6 2139.8,641.1 2140.9,644.2 2144,655.1 2145.1,658.7 2146.1,661.1 2147.2,662.7 2149.3,666.3 2150.3,667.2 2195.4,667.4 2195.4,667.4 2150.3,667.4 2149.3,667.4 2147.2,667.4 2146.1,666.7 2145.1,665.1 2144,664.8 2140.9,664.8 2139.8,664.8 2138.8,664.8 2135.6,664.8 2131.4,664.6 2130.4,662.9 2128.3,658.3 2127.2,655.6 2126.2,651.8 2124.1,644.6 2123,641.3 2122,639.3 2117.8,633.2 2115.7,629.8 2113.6,629.1 2109.4,626.5 2106.3,624.4 2105.2,623.6 2104.2,621.3 2103.1,617.9 2101,613.1 2100,611.9 2098.9,611.2 2096.8,609.4 2094.7,606.3 2091.6,599.7 2089.5,595.5 2087.4,594.2 2083.2,589.2 2077.9,585.1" fill="#ffd9b7" stroke="#dc985d" stroke-opacity="0.5" stroke-width="5.2" stroke-linejoin="round"/><polygon points="2077.9,585.1 2083.2,589 2088.4,594 2089.5,595 2091.6,596.7 2095.8,600 2098.9,601.9 2101,602.7 2103.1,603.7 2105.2,606.1 2107.3,607.7 2110.5,610.1 2112.6,610.9 2115.7,612.1 2116.8,613.1 2117.8,615 2118.9,616.9 2119.9,618.7 2123,625.3 2125.1,626.8 2127.2,629.2 2129.3,631.9 2130.4,633.1 2134.6,637.2 2136.7,639 2137.7,639.9 2138.8,641.3 2139.8,644.4 2144,658.5 2145.1,661.2 2146.1,663 2147.2,664.8 2148.2,666.4 2149.3,667.2 2195.4,667.4 2195.4,667.4 2149.3,667.4 2148.2,667.4 2147.2,667.4 2146.1,666.7 2145.1,665.1 2144,664.8 2139.8,664.8 2138.8,664.7 2137.7,664.2 2136.7,662.2 2134.6,656.8 2130.4,643.1 2129.3,640.6 2127.2,638.5 2125.1,636.6 2123,634.4 2119.9,631.1 2118.9,629.5 2117.8,629.1 2116.8,628 2115.7,626.9 2112.6,623.6 2110.5,618.4 2107.3,612.7 2105.2,611.7 2103.1,610.9 2101,610.1 2098.9,608.3 2095.8,605.1 2091.6,598.3 2089.5,595.3 2088.4,594.7 2083.2,589.1 2077.9,585.1" fill="#d6ecf3" stroke="#a5cfde" stroke-opacity="0.5" stroke-width="5.2" stroke-linejoin="round"/><path d="M2092.6 584.1V668.2M2122 584.1V668.2M2166 584.1V668.2M2072.5 647.2H2200.5M2072.5 626.2H2200.5M2072.5 605.2H2200.5" stroke="#b0b0b0" stroke-width="0.9" fill="none"/><path d="M2077.9 584.1V668.2M2136.7 584.1V668.2M2195.4 584.1V668.2" stroke="#ff0000" stroke-opacity="0.5" stroke-width="5.5" fill="none"/><path d="M2077.9 585.8H2080V587.4H2082.1V589H2084.2V590.8H2086.3V592.9H2088.4V595H2090.5V597.4H2092.6V600.1H2094.7V602.9H2096.8V605.6H2098.9V607H2101V608.4H2103.1V609.9H2105.2V610.5H2107.3V611.1H2109.4V611.6H2111.5V612.1H2113.6V613.9H2115.7V617H2117.8V620.9H2119.9V626.1H2122V630.8H2124.1V632.6H2126.2V634.3H2128.3V636H2130.4V637.5H2132.5V638.9H2134.6V640.3H2136.7V644.8H2138.8V651.2H2140.9V658.2H2143V663.6H2145.1V666.7H2147.2V667.4H2195.4" fill="none" stroke="#000" stroke-width="8.4" stroke-linejoin="round" stroke-linecap="round"/></g><path d="M2092.6 668.2v11M2107.3 668.2v11M2122 668.2v11M2151.4 668.2v11M2166 668.2v11M2180.7 668.2v11M2072.5 647.2h-11M2072.5 626.2h-11M2072.5 605.2h-11" stroke="#000" stroke-width="3.3" fill="none"/><path d="M2077.9 668.2v18M2136.7 668.2v18M2195.4 668.2v18M2072.5 668.2h-18.7M2072.5 584.1h-18.7" stroke="#ff0000" stroke-width="4.5" fill="none"/><rect x="2072.5" y="584.1" width="128" height="84.1" fill="none" stroke="#ff0000" stroke-width="5.5"/></g>
<g><clipPath id="c4_0"><rect x="278.5" y="702" width="128" height="84.1"/></clipPath><g clip-path="url(#c4_0)"><polygon points="283.9,702.6 288.1,706.2 289.2,707.1 293.4,708.6 294.4,709 295.5,709.3 297.6,710 298.6,710.8 300.7,714.9 304.9,721.2 316.5,738.4 318.6,740 319.6,741.1 320.7,742.1 321.7,743.2 322.8,744.2 323.8,745.3 325.9,747.6 330.1,753.4 335.3,760.8 340.6,768.6 343.7,775.6 345.8,779.8 346.9,780.9 347.9,781.3 351.1,784.9 352.1,785.6 401.4,785.6 401.4,785.6 352.1,785.6 351.1,785.6 347.9,785.6 346.9,785.6 345.8,785.6 343.7,785.6 340.6,785.6 335.3,785.5 330.1,783 325.9,783 323.8,782.9 322.8,782.2 321.7,780.2 320.7,779 319.6,776.8 318.6,773.3 316.5,768.6 304.9,741.7 300.7,731.6 298.6,725.1 297.6,722.2 295.5,716.5 294.4,715 293.4,714.4 289.2,707.4 288.1,706.2 283.9,702.6" fill="#8fbbd9" stroke="#1f77b4" stroke-opacity="0.5" stroke-width="5.2" stroke-linejoin="round"/><polygon points="283.9,702.6 289.2,707.1 294.4,709.7 295.5,710.3 296.5,711.4 299.7,716 303.9,723.1 308.1,730.3 312.3,737.6 316.5,742.6 320.7,748 322.8,751.3 324.9,754.6 325.9,756.2 330.1,763.4 332.2,767.3 335.3,774.6 337.4,778.8 338.5,780.5 339.5,781.4 340.6,782.8 344.8,785.5 401.4,785.6 401.4,785.6 344.8,785.6 340.6,785.6 339.5,785.6 338.5,785.6 337.4,785.6 335.3,785.5 332.2,784 330.1,783 325.9,782.6 324.9,781 322.8,777.4 320.7,772.1 316.5,761.8 312.3,752.5 308.1,743.8 303.9,735 299.7,724.3 296.5,716.8 295.5,715.1 294.4,714.1 289.2,707.3 283.9,702.6" fill="#ffd9b7" stroke="#dc985d" stroke-opacity="0.5" stroke-width="5.2" stroke-linejoin="round"/><polygon points="283.9,702.6 290.2,707.8 294.4,710.8 296.5,713.2 297.6,714.5 302.8,724 307,732.1 310.2,738.3 314.4,744.1 318.6,750.6 323.8,760.1 325.9,764.5 328,769.4 330.1,774.6 333.2,780.7 335.3,783.2 339.5,785.4 401.4,785.6 401.4,785.6 339.5,785.6 335.3,785.5 333.2,784.5 330.1,783 328,782.7 325.9,779.3 323.8,774.9 318.6,761.5 314.4,752.6 310.2,744.6 307,738.8 302.8,729.3 297.6,717.6 296.5,715.6 294.4,713 290.2,708.3 283.9,702.6" fill="#d6ecf3" stroke="#a5cfde" stroke-opacity="0.5" stroke-width="5.2" stroke-linejoin="round"/><path d="M298.6 702V786.1M313.3 702V786.1M357.4 702V786.1M386.7 702V786.1" stroke="#b0b0b0" stroke-width="0.9" fill="none"/><path d="M283.9 702V786.1M342.7 702V786.1M401.4 702V786.1" stroke="#ff0000" stroke-opacity="0.5" stroke-width="5.5" fill="none"/><path d="M283.9 703.5H286V705.3H288.1V707.1H290.2V709.1H292.3V711.2H294.4V713.3H296.5V716.1H298.6V720.3H300.7V724.5H302.8V729H304.9V733.6H307V738.2H309.1V741.8H311.2V745.2H313.3V748.7H315.4V752.7H317.5V757H319.6V761.2H321.7V766.9H323.8V772.7H325.9V777.1H328V781.3H330.1V783.5H332.2V784.5H334.3V785.5H401.4V785.6" fill="none" stroke="#000" stroke-width="8.4" stroke-linejoin="round" stroke-linecap="round"/></g><path d="M298.6 786.1v11M313.3 786.1v11M328 786.1v11M357.4 786.1v11M372 786.1v11M386.7 786.1v11M278.5 765.1h-11M278.5 744.1h-11M278.5 723h-11" stroke="#000" stroke-width="3.3" fill="none"/><path d="M283.9 786.1v18M342.7 786.1v18M401.4 786.1v18M278.5 786.1h-18.7M278.5 702h-18.7" stroke="#ff0000" stroke-width="4.5" fill="none"/><rect x="278.5" y="702" width="128" height="84.1" fill="none" stroke="#ff0000" stroke-width="5.5"/></g>
<g><clipPath id="c4_1"><rect x="457.9" y="702" width="128" height="84.1"/></clipPath><g clip-path="url(#c4_1)"><polygon points="463.3,702.6 468.6,708 471.7,709.6 472.8,710.1 473.8,710.6 477,712.1 478,712.8 479.1,714.3 480.1,716.1 484.3,721.4 486.4,724 487.5,724.7 489.6,725 501.1,729.9 504.3,731.5 506.3,732.5 507.4,733.1 508.4,734.4 509.5,736.3 512.6,740.3 515.8,744.2 520,750.6 529.4,764.8 530.5,767 532.6,773.5 535.7,780.9 537.8,785.4 580.8,785.6 580.8,785.6 537.8,785.6 535.7,785.6 532.6,785.6 530.5,785.6 529.4,785.6 520,785.6 515.8,784.5 512.6,783 509.5,783 508.4,783 507.4,782.6 506.3,780.3 504.3,776.5 501.1,769.7 489.6,746.6 487.5,742.4 486.4,740.3 484.3,737.2 480.1,730.3 479.1,728 478,725 477,722.1 473.8,714.7 472.8,713.4 471.7,712.7 468.6,708 463.3,702.6" fill="#8fbbd9" stroke="#1f77b4" stroke-opacity="0.5" stroke-width="5.2" stroke-linejoin="round"/><polygon points="463.3,702.6 468.6,708 472.8,710.8 473.8,711.5 475.9,713.1 482.2,721.8 484.3,724.5 489.6,727.4 496.9,732.5 499,734.9 505.3,743.5 506.3,745.2 509.5,750.7 510.5,752.5 512.6,756.4 515.8,762.3 517.9,766.5 521,774.9 524.2,781.4 525.2,783.4 527.3,784.9 529.4,785.5 580.8,785.6 580.8,785.6 529.4,785.6 527.3,785.6 525.2,785.6 524.2,785.6 521,785.6 517.9,785.1 515.8,784.5 512.6,783 510.5,782.8 509.5,782.3 506.3,776.4 505.3,774 499,760.1 496.9,755.6 489.6,740.9 484.3,733.2 482.2,730 475.9,717.7 473.8,714.1 472.8,713 468.6,708 463.3,702.6" fill="#ffd9b7" stroke="#dc985d" stroke-opacity="0.5" stroke-width="5.2" stroke-linejoin="round"/><polygon points="463.3,702.6 469.6,708.8 474.9,713.2 477,715.8 482.2,723.6 491.7,732 493.8,734.4 499,741.4 502.2,746.8 506.3,754.8 508.4,759.3 511.6,766.2 512.6,768.9 515.8,776.8 518.9,782.6 520,784 524.2,785.5 580.8,785.6 580.8,785.6 524.2,785.6 520,785.6 518.9,785.4 515.8,784.5 512.6,782.9 511.6,782.8 508.4,777.3 506.3,772.6 502.2,762.8 499,755.5 493.8,744.7 491.7,740.9 482.2,727.4 477,718.5 474.9,714.9 469.6,709.1 463.3,702.6" fill="#d6ecf3" stroke="#a5cfde" stroke-opacity="0.5" stroke-width="5.2" stroke-linejoin="round"/><path d="M492.7 702V786.1M507.4 702V786.1M536.8 702V786.1M551.4 702V786.1" stroke="#b0b0b0" stroke-width="0.9" fill="none"/><path d="M463.3 702V786.1M522.1 702V786.1M580.8 702V786.1" stroke="#ff0000" stroke-opacity="0.5" stroke-width="5.5" fill="none"/><path d="M463.3 703.7H465.4V705.8H467.5V708H469.6V710.1H471.7V712.2H473.8V714.3H475.9V717.4H478V720.8H480.1V724H482.2V726.9H484.3V729.7H486.4V732.5H488.5V735.3H490.6V738.1H492.7V740.9H494.8V744.5H496.9V748.7H499V752.9H501.1V758H503.2V763.3H505.3V768.5H507.4V773.8H509.5V778.2H511.6V781.8H513.7V784.2H515.8V784.8H517.9V785.4H580.8V785.6" fill="none" stroke="#000" stroke-width="8.4" stroke-linejoin="round" stroke-linecap="round"/></g><path d="M478 786.1v11M492.7 786.1v11M507.4 786.1v11M536.8 786.1v11M551.4 786.1v11M566.1 786.1v11M457.9 765.1h-11M457.9 744.1h-11M457.9 723h-11" stroke="#000" stroke-width="3.3" fill="none"/><path d="M463.3 786.1v18M522.1 786.1v18M580.8 786.1v18M457.9 786.1h-18.7M457.9 702h-18.7" stroke="#ff0000" stroke-width="4.5" fill="none"/><rect x="457.9" y="702" width="128" height="84.1" fill="none" stroke="#ff0000" stroke-width="5.5"/></g>
<g><clipPath id="c4_2"><rect x="637.3" y="702" width="128" height="84.1"/></clipPath><g clip-path="url(#c4_2)"><polygon points="642.8,702.6 648,707.6 649,708.1 657.4,711.6 658.5,712 659.5,712.5 660.6,713.1 669,719.2 671.1,720.7 675.3,724.6 676.3,725.6 677.4,726.5 680.5,729.4 682.6,731.4 685.7,735.6 686.8,737 687.8,738.3 688.9,739.6 689.9,740.9 691,742.2 698.3,755 700.4,760.9 703.6,768.5 708.8,778.6 709.9,780.3 712,781.8 715.1,785.4 760.2,785.6 760.2,785.6 715.1,785.6 712,785.6 709.9,785.6 708.8,785.6 703.6,785.5 700.4,784 698.3,783 691,783 689.9,781.4 688.9,777.1 687.8,774.8 686.8,771.8 685.7,767.9 682.6,758.6 680.5,755.7 677.4,749.4 676.3,748.1 675.3,747.4 671.1,741.8 669,740 660.6,732.7 659.5,730.9 658.5,727.8 657.4,725.5 649,708.9 648,707.8 642.8,702.6" fill="#8fbbd9" stroke="#1f77b4" stroke-opacity="0.5" stroke-width="5.2" stroke-linejoin="round"/><polygon points="642.8,702.6 648,707.6 649,708.1 658.5,712.6 660.6,714.3 663.7,716.7 670,721.7 674.2,725.8 678.4,729.7 679.5,730.6 683.7,735.5 684.7,736.8 686.8,739.3 689.9,743.4 692,747.2 693.1,749 694.1,750.7 696.2,754.4 698.3,759.7 702.5,769.7 704.6,773.7 707.8,780 713,785.1 715.1,785.5 760.2,785.6 760.2,785.6 715.1,785.6 713,785.6 707.8,785.6 704.6,785.6 702.5,785 698.3,783 696.2,782.9 694.1,782.8 693.1,781.6 692,778.4 689.9,772.7 686.8,763.6 684.7,758.4 683.7,756.8 679.5,749 678.4,747.8 674.2,742.1 670,738.2 663.7,732.6 660.6,728.7 658.5,725.1 649,708.9 648,707.8 642.8,702.6" fill="#ffd9b7" stroke="#dc985d" stroke-opacity="0.5" stroke-width="5.2" stroke-linejoin="round"/><polygon points="642.8,702.6 648,707.6 649,708.2 657.4,712.7 661.6,716.3 667.9,721.8 675.3,729.1 677.4,730.9 681.6,735.4 686.8,741.5 688.9,744.8 694.1,753.9 695.2,756.1 696.2,758.7 698.3,763.8 701.5,771 703.6,775.3 705.7,779.6 708.8,783.2 712,785.4 760.2,785.6 760.2,785.6 712,785.6 708.8,785.6 705.7,785.6 703.6,785.5 701.5,784.5 698.3,783 696.2,782.8 695.2,781.3 694.1,778.3 688.9,764.2 686.8,759.3 681.6,749.4 677.4,743.4 675.3,740.8 667.9,734.1 661.6,728.3 657.4,722.1 649,708.9 648,707.8 642.8,702.6" fill="#d6ecf3" stroke="#a5cfde" stroke-opacity="0.5" stroke-width="5.2" stroke-linejoin="round"/><path d="M657.4 702V786.1M686.8 702V786.1M730.8 702V786.1M745.5 702V786.1" stroke="#b0b0b0" stroke-width="0.9" fill="none"/><path d="M642.8 702V786.1M701.5 702V786.1M760.2 702V786.1" stroke="#ff0000" stroke-opacity="0.5" stroke-width="5.5" fill="none"/><path d="M642.8 703.6H644.8V705.7H646.9V707.8H649V710.4H651.1V713.6H653.2V716.8H655.3V719.8H657.4V722.6H659.5V725.4H661.6V728.2H663.7V729.8H665.8V731.4H667.9V733H670V734.5H672.1V736.4H674.2V738.5H676.3V740.6H678.4V743.2H680.5V746.6H682.6V749.9H684.7V753.8H686.8V758H688.9V762.2H691V767.4H693.1V772.6H695.2V778.2H697.3V783H699.4V784H701.5V785H703.6V785.6H760.2" fill="none" stroke="#000" stroke-width="8.4" stroke-linejoin="round" stroke-linecap="round"/></g><path d="M657.4 786.1v11M672.1 786.1v11M686.8 786.1v11M716.2 786.1v11M730.8 786.1v11M745.5 786.1v11M637.3 765.1h-11M637.3 744.1h-11M637.3 723h-11" stroke="#000" stroke-width="3.3" fill="none"/><path d="M642.8 786.1v18M701.5 786.1v18M760.2 786.1v18M637.3 786.1h-18.7M637.3 702h-18.7" stroke="#ff0000" stroke-width="4.5" fill="none"/><rect x="637.3" y="702" width="128" height="84.1" fill="none" stroke="#ff0000" stroke-width="5.5"/></g>
<g><clipPath id="c4_3"><rect x="816.7" y="702" width="128" height="84.1"/></clipPath><g clip-path="url(#c4_3)"><polygon points="822.2,702.6 828.4,708.1 831.6,709.5 832.6,710 833.7,710.4 836.8,711.8 837.9,712.2 838.9,712.7 840,713.1 847.3,715.9 854.7,718.1 855.7,718.4 856.8,718.7 861,720.1 862,720.5 863.1,720.9 867.2,722.5 869.3,723.7 872.5,726.3 873.5,727 874.6,727.8 875.6,728.6 876.7,729.4 877.7,730.3 887.2,738.9 895.6,748.8 897.7,753.4 901.9,761.1 909.2,775.8 912.3,779.9 915.5,784.7 916.5,785.6 939.6,785.6 939.6,785.6 916.5,785.6 915.5,785.6 912.3,785.6 909.2,785.6 901.9,785.5 897.7,783.5 895.6,783 887.2,783 877.7,782.9 876.7,781.8 875.6,779.1 874.6,777.6 873.5,775.5 872.5,772.8 869.3,766.5 867.2,761.4 863.1,751.2 862,749.8 861,749.1 856.8,742.8 855.7,741.8 854.7,741.6 847.3,737.3 840,730.9 838.9,729.5 837.9,726.4 836.8,722.7 833.7,715.2 832.6,713.6 831.6,713 828.4,708.3 822.2,702.6" fill="#8fbbd9" stroke="#1f77b4" stroke-opacity="0.5" stroke-width="5.2" stroke-linejoin="round"/><polygon points="822.2,702.6 828.4,708.2 832.6,710.4 834.7,711.6 837.9,713.2 846.3,717 848.4,717.8 856.8,721.5 861,723.3 862,723.8 864.1,725.1 866.2,726.3 868.3,727.4 872.5,730.4 875.6,733.2 880.9,738.2 881.9,739.5 883,740.7 884,742 888.2,747.5 890.3,751.4 896.6,763.8 901.9,774 904,777.2 908.1,783 911.3,785.5 939.6,785.6 939.6,785.6 911.3,785.6 908.1,785.6 904,785.6 901.9,785.5 896.6,783 890.3,782.9 888.2,782.9 884,782.6 883,781.2 881.9,779.2 880.9,777.6 875.6,767.5 872.5,760.6 868.3,751.2 866.2,748.5 864.1,745 862,741.9 861,741.5 856.8,738.6 848.4,731.2 846.3,728.7 837.9,720.9 834.7,715.9 832.6,713.3 828.4,708.3 822.2,702.6" fill="#ffd9b7" stroke="#dc985d" stroke-opacity="0.5" stroke-width="5.2" stroke-linejoin="round"/><polygon points="822.2,702.6 829.5,708.9 835.8,713 840,715.5 852.6,722.1 866.2,728.5 867.2,729.3 871.4,732.9 872.5,733.8 878.8,740.6 881.9,744.9 884,748.2 889.3,758.5 890.3,760.6 896.6,772.7 898.7,776.2 901.9,780.6 904,783.2 908.1,785.5 939.6,785.6 939.6,785.6 908.1,785.6 904,785.6 901.9,785.5 898.7,784 896.6,783 890.3,782.8 889.3,782.2 884,774 881.9,769.9 878.8,763.9 872.5,750.6 871.4,749.1 867.2,741.9 866.2,741.3 852.6,728.5 840,721.5 835.8,716.4 829.5,709.4 822.2,702.6" fill="#d6ecf3" stroke="#a5cfde" stroke-opacity="0.5" stroke-width="5.2" stroke-linejoin="round"/><path d="M851.5 702V786.1M866.2 702V786.1M895.6 702V786.1M924.9 702V786.1" stroke="#b0b0b0" stroke-width="0.9" fill="none"/><path d="M822.2 702V786.1M880.9 702V786.1M939.6 702V786.1" stroke="#ff0000" stroke-opacity="0.5" stroke-width="5.5" fill="none"/><path d="M822.2 703.5H824.2V705.4H826.3V707.3H828.4V709.3H830.5V711.4H832.6V713.5H834.7V715.6H836.8V717.7H838.9V719.8H841V721.6H843.1V722.4H845.2V723.2H847.3V723.9H849.4V724.7H851.5V725.5H853.6V726.3H855.7V727.1H857.8V727.9H859.9V729.2H862V731H864.1V732.7H866.2V734.7H868.3V737.1H870.4V739.6H872.5V742.1H874.6V746.2H876.7V750.4H878.8V754.6H880.9V758.8H883V763H885.1V767H887.2V770.7H889.3V774.5H891.4V777.6H893.5V780.5H895.6V783H897.7V784H899.8V785H901.9V785.6H939.6" fill="none" stroke="#000" stroke-width="8.4" stroke-linejoin="round" stroke-linecap="round"/></g><path d="M836.8 786.1v11M851.5 786.1v11M866.2 786.1v11M895.6 786.1v11M910.2 786.1v11M924.9 786.1v11M816.7 765.1h-11M816.7 744.1h-11M816.7 723h-11" stroke="#000" stroke-width="3.3" fill="none"/><path d="M822.2 786.1v18M880.9 786.1v18M939.6 786.1v18M816.7 786.1h-18.7M816.7 702h-18.7" stroke="#ff0000" stroke-width="4.5" fill="none"/><rect x="816.7" y="702" width="128" height="84.1" fill="none" stroke="#ff0000" stroke-width="5.5"/></g>
<g><clipPath id="c4_4"><rect x="996.1" y="702" width="128" height="84.1"/></clipPath><g clip-path="url(#c4_4)"><polygon points="1001.6,702.6 1004.7,705.9 1008.9,706.7 1011,707.1 1012,707.3 1013.1,707.5 1015.2,707.9 1017.3,708.4 1019.4,708.9 1022.5,709.7 1023.6,710 1024.6,710.2 1030.9,711.9 1033,712.6 1035.1,713.3 1038.3,714.4 1040.4,715.1 1045.6,717.3 1047.7,718.3 1049.8,719.4 1050.8,719.9 1051.9,720.4 1057.1,723.2 1065.5,730.7 1066.6,732 1068.7,735 1075,743 1077.1,748.1 1081.3,756.4 1082.3,759.4 1083.4,763.4 1086.5,772.6 1088.6,774.4 1094.9,784.8 1095.9,785.3 1119,785.6 1119,785.6 1095.9,785.3 1094.9,785.3 1088.6,785.3 1086.5,785.3 1083.4,785.2 1082.3,785.2 1081.3,785.2 1077.1,785.2 1075,785.1 1068.7,784.8 1066.6,783 1065.5,783 1057.1,783 1051.9,783 1050.8,782.3 1049.8,779.3 1047.7,775.8 1045.6,771.5 1040.4,760.8 1038.3,757.7 1035.1,752.4 1033,749.4 1030.9,747.9 1024.6,741.7 1023.6,740 1022.5,737.7 1019.4,732.3 1017.3,728.5 1015.2,722.1 1013.1,716.9 1012,715.1 1011,714 1008.9,710.5 1004.7,705.9 1001.6,702.6" fill="#8fbbd9" stroke="#1f77b4" stroke-opacity="0.5" stroke-width="5.2" stroke-linejoin="round"/><polygon points="1001.6,702.6 1004.7,705.9 1009.9,707.2 1014.1,708.4 1018.3,709.7 1024.6,711.9 1026.7,712.8 1030.9,714.6 1036.2,717.1 1038.3,718.4 1045.6,722.9 1050.8,727.4 1056.1,731.7 1057.1,732.9 1061.3,737.7 1065.5,743.3 1066.6,745.3 1068.7,749.7 1071.8,755.6 1073.9,760.9 1077.1,769.4 1078.1,771.9 1080.2,774.4 1084.4,781.2 1086.5,784.1 1087.5,785 1119,785.6 1119,785.6 1087.5,785.3 1086.5,785.3 1084.4,785.2 1080.2,785.2 1078.1,785.2 1077.1,785.2 1073.9,785.1 1071.8,785.1 1068.7,784.8 1066.6,783 1065.5,783 1061.3,782.9 1057.1,782.8 1056.1,782.1 1050.8,772.6 1045.6,762.1 1038.3,749.8 1036.2,747.8 1030.9,741.9 1026.7,735.2 1024.6,732.9 1018.3,725.4 1014.1,717.9 1009.9,711.9 1004.7,705.9 1001.6,702.6" fill="#ffd9b7" stroke="#dc985d" stroke-opacity="0.5" stroke-width="5.2" stroke-linejoin="round"/><polygon points="1001.6,702.6 1004.7,705.9 1009.9,708.6 1016.2,712.6 1019.4,714.8 1028.8,722.9 1030.9,725 1033,726.5 1036.2,728.6 1042.5,733.1 1045.6,735.8 1049.8,741.3 1052.9,746.2 1058.2,755.4 1060.3,759.9 1061.3,762.3 1065.5,771.1 1066.6,772.9 1068.7,776.1 1071.8,781 1075,784.5 1077.1,785.1 1119,785.6 1119,785.6 1077.1,785.2 1075,785.1 1071.8,785.1 1068.7,784.8 1066.6,783 1065.5,783 1061.3,782.7 1060.3,781.6 1058.2,778.2 1052.9,769 1049.8,762.7 1045.6,755 1042.5,749.8 1036.2,741.9 1033,737.3 1030.9,734.6 1028.8,732.8 1019.4,724.7 1016.2,720.2 1009.9,711.8 1004.7,705.9 1001.6,702.6" fill="#d6ecf3" stroke="#a5cfde" stroke-opacity="0.5" stroke-width="5.2" stroke-linejoin="round"/><path d="M1016.2 702V786.1M1045.6 702V786.1M1104.3 702V786.1" stroke="#b0b0b0" stroke-width="0.9" fill="none"/><path d="M1001.6 702V786.1M1060.3 702V786.1M1119 702V786.1" stroke="#ff0000" stroke-opacity="0.5" stroke-width="5.5" fill="none"/><path d="M1001.6 703.7H1003.6V705.9H1005.7V708.1H1007.8V710.5H1009.9V712.9H1012V715.4H1014.1V717.8H1016.2V720.3H1018.3V722.7H1020.4V725H1022.5V726.3H1024.6V727.6H1026.7V728.9H1028.8V730.3H1030.9V731.6H1033V733H1035.1V734.5H1037.2V736.6H1039.3V739.4H1041.4V742.2H1043.5V745.2H1045.6V748.7H1047.7V752.2H1049.8V755.7H1051.9V759.9H1054V764.2H1056.1V768.4H1058.2V772H1060.3V775.4H1062.4V778.9H1064.5V781.7H1066.6V783.8H1068.7V785.1H1116.9V785.6H1119" fill="none" stroke="#000" stroke-width="8.4" stroke-linejoin="round" stroke-linecap="round"/></g><path d="M1016.2 786.1v11M1030.9 786.1v11M1045.6 786.1v11M1075 786.1v11M1089.6 786.1v11M1104.3 786.1v11M996.1 765.1h-11M996.1 744.1h-11M996.1 723h-11" stroke="#000" stroke-width="3.3" fill="none"/><path d="M1001.6 786.1v18M1060.3 786.1v18M1119 786.1v18M996.1 786.1h-18.7M996.1 702h-18.7" stroke="#ff0000" stroke-width="4.5" fill="none"/><rect x="996.1" y="702" width="128" height="84.1" fill="none" stroke="#ff0000" stroke-width="5.5"/></g>
<g><clipPath id="c4_5"><rect x="1175.5" y="702" width="128" height="84.1"/></clipPath><g clip-path="url(#c4_5)"><polygon points="1181,702.6 1186.2,707 1189.3,710.3 1192.5,712 1195.6,713.8 1197.7,715 1198.8,715.6 1207.2,720.6 1213.5,721.7 1215.6,722 1216.6,722.2 1217.7,722.4 1220.8,723.1 1222.9,725.7 1223.9,726.8 1226,728.9 1227.1,730 1228.1,732 1229.2,734.8 1232.3,740.6 1233.4,742.5 1234.4,744.8 1235.5,747.6 1236.5,750.2 1240.7,760.2 1242.8,767.5 1243.9,771.2 1246,778.3 1247,778.1 1249.1,781 1251.2,784.1 1252.3,785.1 1254.4,785.6 1298.4,785.6 1298.4,785.6 1254.4,785.6 1252.3,785.6 1251.2,785.6 1249.1,785.6 1247,785 1246,784.7 1243.9,783.9 1242.8,783 1240.7,783 1236.5,782.9 1235.5,782.3 1234.4,781.1 1233.4,778.9 1232.3,776.1 1229.2,770.4 1228.1,767.8 1227.1,764.5 1226,761.8 1223.9,757 1222.9,755.5 1220.8,752 1217.7,746.3 1216.6,745.4 1215.6,745.1 1213.5,743 1207.2,737.1 1198.8,730.7 1197.7,729.2 1195.6,723.6 1192.5,717.4 1189.3,712.5 1186.2,707.2 1181,702.6" fill="#8fbbd9" stroke="#1f77b4" stroke-opacity="0.5" stroke-width="5.2" stroke-linejoin="round"/><polygon points="1181,702.6 1186.2,707 1189.3,710.3 1194.6,714 1197.7,716.4 1203,720.4 1211.4,722.7 1212.4,723.3 1214.5,725.6 1218.7,729 1220.8,731.1 1226,737.6 1228.1,740.9 1230.2,744.4 1232.3,748.8 1237.6,760.5 1238.6,763.3 1241.8,772.6 1242.8,775.7 1243.9,778.2 1244.9,778.8 1248.1,783.7 1251.2,785.4 1298.4,785.6 1298.4,785.6 1251.2,785.6 1248.1,785.4 1244.9,784.3 1243.9,783.9 1242.8,783 1241.8,782.9 1238.6,782.4 1237.6,781.1 1232.3,770.3 1230.2,764.8 1228.1,759.9 1226,755.9 1220.8,746.3 1218.7,744.5 1214.5,739.9 1212.4,737.7 1211.4,736.8 1203,730.4 1197.7,724.3 1194.6,719.1 1189.3,711.5 1186.2,707.1 1181,702.6" fill="#ffd9b7" stroke="#dc985d" stroke-opacity="0.5" stroke-width="5.2" stroke-linejoin="round"/><polygon points="1181,702.6 1187.2,708 1190.4,711.3 1195.6,716 1199.8,720.1 1205.1,722.6 1206.1,723.4 1207.2,724.8 1215.6,731 1222.9,738.1 1225,741.1 1228.1,745.9 1232.3,754.5 1235.5,761.2 1237.6,766.3 1240.7,774.8 1241.8,777.3 1242.8,778.6 1243.9,780.3 1246,783.8 1249.1,785.3 1260.7,785.6 1298.4,785.6 1298.4,785.6 1260.7,785.6 1249.1,785.6 1246,784.7 1243.9,783.9 1242.8,783 1241.8,782.9 1240.7,782.3 1237.6,776.7 1235.5,772.1 1232.3,764.3 1228.1,755.7 1225,749.7 1222.9,746 1215.6,737.5 1207.2,731.1 1206.1,730.3 1205.1,729.5 1199.8,725.2 1195.6,719.3 1190.4,712.2 1187.2,708.2 1181,702.6" fill="#d6ecf3" stroke="#a5cfde" stroke-opacity="0.5" stroke-width="5.2" stroke-linejoin="round"/><path d="M1195.6 702V786.1M1210.3 702V786.1M1269 702V786.1" stroke="#b0b0b0" stroke-width="0.9" fill="none"/><path d="M1181 702V786.1M1239.7 702V786.1M1298.4 702V786.1" stroke="#ff0000" stroke-opacity="0.5" stroke-width="5.5" fill="none"/><path d="M1181 703.5H1183V705.3H1185.1V707H1187.2V709.2H1189.3V711.6H1191.4V714.1H1193.5V716.6H1195.6V719.4H1197.7V722.2H1199.8V724.9H1201.9V726.2H1204V727.5H1206.1V728.9H1208.2V730.2H1210.3V731.7H1212.4V733.3H1214.5V734.8H1216.6V736.4H1218.7V738.5H1220.8V741.3H1222.9V744.1H1225V747.1H1227.1V751.3H1229.2V755.5H1231.3V759.7H1233.4V763.9H1235.5V768.9H1237.6V774.1H1239.7V778.4H1241.8V782.1H1243.9V784.3H1246V785H1248.1V785.6H1298.4" fill="none" stroke="#000" stroke-width="8.4" stroke-linejoin="round" stroke-linecap="round"/></g><path d="M1195.6 786.1v11M1210.3 786.1v11M1225 786.1v11M1254.4 786.1v11M1269 786.1v11M1283.7 786.1v11M1175.5 765.1h-11M1175.5 744.1h-11M1175.5 723h-11" stroke="#000" stroke-width="3.3" fill="none"/><path d="M1181 786.1v18M1239.7 786.1v18M1298.4 786.1v18M1175.5 786.1h-18.7M1175.5 702h-18.7" stroke="#ff0000" stroke-width="4.5" fill="none"/><rect x="1175.5" y="702" width="128" height="84.1" fill="none" stroke="#ff0000" stroke-width="5.5"/></g>
<g><clipPath id="c4_6"><rect x="1354.9" y="702" width="128" height="84.1"/></clipPath><g clip-path="url(#c4_6)"><polygon points="1360.4,702.6 1364.5,705.6 1369.8,709.8 1370.8,710.7 1371.9,711.4 1375,713 1376.1,713.5 1377.1,714 1380.3,714.8 1382.4,715.5 1384.5,716.1 1389.7,717.7 1390.8,718.1 1391.8,718.4 1393.9,719.1 1396,719.8 1398.1,720.5 1401.3,721.6 1402.3,722.5 1403.3,724.8 1405.4,727.6 1407.5,730.4 1409.6,733.2 1410.7,734.6 1411.7,736 1412.8,737.4 1423.3,750.6 1424.3,752.2 1425.4,755 1426.4,758.4 1428.5,763.3 1430.6,768.2 1431.7,769.7 1432.7,770.3 1436.9,775.6 1438,777.1 1440.1,782.2 1441.1,784.3 1442.2,785.6 1477.8,785.6 1477.8,785.6 1442.2,785.6 1441.1,785.6 1440.1,785.6 1438,785.6 1436.9,785.6 1432.7,785.6 1431.7,785.3 1430.6,784.4 1428.5,783 1426.4,783 1425.4,783 1424.3,783 1423.3,783 1412.8,783 1411.7,782.2 1410.7,778.5 1409.6,775.7 1407.5,771.1 1405.4,765.3 1403.3,760.1 1402.3,759 1401.3,758.8 1398.1,754.6 1396,751.5 1393.9,746.5 1391.8,742.7 1390.8,742.6 1389.7,742.9 1384.5,740.3 1382.4,738.8 1380.3,734.4 1377.1,729.2 1376.1,726.5 1375,723.2 1371.9,715.7 1370.8,713.9 1369.8,713.1 1364.5,705.6 1360.4,702.6" fill="#8fbbd9" stroke="#1f77b4" stroke-opacity="0.5" stroke-width="5.2" stroke-linejoin="round"/><polygon points="1360.4,702.6 1364.5,705.6 1371.9,711.4 1376.1,714 1381.3,716.2 1386.6,718.5 1388.7,719.5 1393.9,722 1396,724.1 1398.1,726 1401.3,728.8 1404.4,732.8 1406.5,735.4 1410.7,740.8 1414.9,746.3 1415.9,747.8 1417,749.2 1419.1,752.5 1422.2,760.1 1426.4,768.5 1428.5,770.9 1430.6,774 1431.7,775.6 1434.8,781.5 1436.9,784.3 1438,785.4 1477.8,785.6 1477.8,785.6 1438,785.6 1436.9,785.6 1434.8,785.6 1431.7,785.3 1430.6,784.4 1428.5,783 1426.4,783 1422.2,782.9 1419.1,782.8 1417,782.5 1415.9,780.8 1414.9,778.1 1410.7,768.8 1406.5,759.7 1404.4,757.7 1401.3,753 1398.1,746.7 1396,743.2 1393.9,742.6 1388.7,739.2 1386.6,735.9 1381.3,727.8 1376.1,721 1371.9,714 1364.5,705.6 1360.4,702.6" fill="#ffd9b7" stroke="#dc985d" stroke-opacity="0.5" stroke-width="5.2" stroke-linejoin="round"/><polygon points="1360.4,702.6 1365.6,706.4 1372.9,712.2 1377.1,715.2 1383.4,719.3 1386.6,721.1 1395,727 1397.1,728.4 1399.2,730.8 1400.2,732.1 1404.4,737.3 1408.6,742.6 1409.6,744.1 1414.9,752.1 1419.1,761.2 1420.1,763.2 1421.2,765.1 1422.2,766.9 1426.4,773.4 1428.5,777 1430.6,781 1431.7,782.1 1434.8,785.3 1477.8,785.6 1477.8,785.6 1434.8,785.6 1431.7,785.3 1430.6,784.4 1428.5,783 1426.4,782.9 1422.2,782.7 1421.2,781.7 1420.1,780.1 1419.1,777.7 1414.9,769.2 1409.6,759.2 1408.6,758.1 1404.4,750.8 1400.2,743.4 1399.2,743 1397.1,741.3 1395,739.6 1386.6,728.3 1383.4,725.8 1377.1,720 1372.9,714.1 1365.6,706.6 1360.4,702.6" fill="#d6ecf3" stroke="#a5cfde" stroke-opacity="0.5" stroke-width="5.2" stroke-linejoin="round"/><path d="M1389.7 702V786.1M1433.8 702V786.1M1463.1 702V786.1" stroke="#b0b0b0" stroke-width="0.9" fill="none"/><path d="M1360.4 702V786.1M1419.1 702V786.1M1477.8 702V786.1" stroke="#ff0000" stroke-opacity="0.5" stroke-width="5.5" fill="none"/><path d="M1360.4 703.3H1362.4V704.8H1364.5V706.4H1366.6V708.1H1368.7V709.8H1370.8V711.6H1372.9V713.7H1375V716.2H1377.1V718.6H1379.2V720.7H1381.3V722.1H1383.4V723.5H1385.5V724.9H1387.6V725.9H1389.7V727H1391.8V728.1H1393.9V730.3H1396V732.8H1398.1V735.3H1400.2V737.8H1402.3V740.4H1404.4V743.2H1406.5V746.6H1408.6V749.9H1410.7V753.8H1412.8V758H1414.9V762.2H1417V765.6H1419.1V769H1421.2V772.5H1423.3V776.7H1425.4V780.7H1427.5V782.5H1429.6V784.4H1431.7V785.6H1477.8" fill="none" stroke="#000" stroke-width="8.4" stroke-linejoin="round" stroke-linecap="round"/></g><path d="M1375 786.1v11M1389.7 786.1v11M1404.4 786.1v11M1433.8 786.1v11M1448.4 786.1v11M1463.1 786.1v11M1354.9 765.1h-11M1354.9 744.1h-11M1354.9 723h-11" stroke="#000" stroke-width="3.3" fill="none"/><path d="M1360.4 786.1v18M1419.1 786.1v18M1477.8 786.1v18M1354.9 786.1h-18.7M1354.9 702h-18.7" stroke="#ff0000" stroke-width="4.5" fill="none"/><rect x="1354.9" y="702" width="128" height="84.1" fill="none" stroke="#ff0000" stroke-width="5.5"/></g>
<g><clipPath id="c4_7"><rect x="1534.3" y="702" width="128" height="84.1"/></clipPath><g clip-path="url(#c4_7)"><polygon points="1539.8,702.6 1546,708.2 1549.2,710.2 1550.2,710.7 1551.3,711.3 1555.5,713 1557.6,713.7 1560.7,714.6 1564.9,715.9 1569.1,717.9 1571.2,719 1572.3,719.5 1574.4,720.6 1575.4,721.4 1577.5,723.4 1578.6,724.3 1579.6,725.2 1580.7,726 1582.7,727.1 1584.8,728.1 1585.9,728.6 1588,729.7 1589,730.2 1590.1,730.9 1591.1,734.3 1592.2,739.6 1598.5,758.5 1599.5,760.7 1601.6,759.7 1604.8,761.8 1605.8,762.4 1606.9,764.8 1607.9,769.5 1609,772.2 1614.2,785.4 1657.2,785.6 1657.2,785.6 1614.2,785.6 1609,785.4 1607.9,784.8 1606.9,784.3 1605.8,783.7 1604.8,783.1 1601.6,783 1599.5,783 1598.5,783 1592.2,783 1591.1,782.6 1590.1,780.5 1589,778.1 1588,774.4 1585.9,768.6 1584.8,766.5 1582.7,764.6 1580.7,761.4 1579.6,759.3 1578.6,756.6 1577.5,754.5 1575.4,749.9 1574.4,746.9 1572.3,741.5 1571.2,739.6 1569.1,740.1 1564.9,737.3 1560.7,733 1557.6,729.5 1555.5,724.2 1551.3,715.7 1550.2,714.1 1549.2,713.1 1546,708.4 1539.8,702.6" fill="#8fbbd9" stroke="#1f77b4" stroke-opacity="0.5" stroke-width="5.2" stroke-linejoin="round"/><polygon points="1539.8,702.6 1546,708.2 1552.3,712.1 1555.5,713.4 1560.7,715.5 1561.8,715.9 1562.8,716.4 1569.1,720.1 1573.3,723 1574.4,723.7 1575.4,724.5 1576.5,725.2 1583.8,729.6 1584.8,730.3 1585.9,731.8 1586.9,734.5 1588,737.1 1590.1,741.5 1592.2,746.8 1594.3,752.4 1595.3,755.6 1596.4,758.7 1597.4,760.7 1599.5,760.8 1601.6,762.3 1602.7,764.5 1603.7,768.1 1604.8,771.1 1606.9,776.2 1609,780.4 1610,782.2 1612.1,784.8 1613.2,785.5 1657.2,785.6 1657.2,785.6 1613.2,785.6 1612.1,785.6 1610,785.6 1609,785.4 1606.9,784.3 1604.8,783.1 1603.7,783 1602.7,783 1601.6,782.9 1599.5,782.9 1597.4,782.8 1596.4,782.8 1595.3,782.7 1594.3,781.8 1592.2,778.1 1590.1,772.5 1588,767.3 1586.9,765.7 1585.9,764.5 1584.8,762.7 1583.8,760.7 1576.5,743 1575.4,741.1 1574.4,740.2 1573.3,740 1569.1,737.1 1562.8,729.9 1561.8,727.8 1560.7,726.3 1555.5,720.6 1552.3,715.8 1546,708.3 1539.8,702.6" fill="#ffd9b7" stroke="#dc985d" stroke-opacity="0.5" stroke-width="5.2" stroke-linejoin="round"/><polygon points="1539.8,702.6 1548.1,709.9 1553.4,713.3 1556.5,715.1 1564.9,721 1566,721.6 1569.1,723.4 1572.3,725.2 1576.5,727.8 1578.6,729.8 1579.6,731.1 1581.7,735.3 1585.9,740.7 1586.9,742.3 1589,746.8 1590.1,749.2 1591.1,751.7 1593.2,758 1594.3,760.7 1595.3,760.9 1596.4,762.2 1598.5,767.9 1600.6,773.3 1601.6,775.7 1604.8,780.6 1605.8,782 1609,784.3 1611.1,785.5 1657.2,785.6 1657.2,785.6 1611.1,785.6 1609,785.4 1605.8,783.7 1604.8,783.1 1601.6,782.9 1600.6,782.8 1598.5,782.3 1596.4,779.7 1595.3,778.1 1594.3,776.2 1593.2,773.6 1591.1,768.3 1590.1,766.1 1589,764.5 1586.9,759.8 1585.9,756.9 1581.7,746.7 1579.6,742.3 1578.6,740.8 1576.5,739.6 1572.3,735.9 1569.1,731.8 1566,726.9 1564.9,726.1 1556.5,719.8 1553.4,715.9 1548.1,710.4 1539.8,702.6" fill="#d6ecf3" stroke="#a5cfde" stroke-opacity="0.5" stroke-width="5.2" stroke-linejoin="round"/><path d="M1554.4 702V786.1M1569.1 702V786.1M1583.8 702V786.1M1613.2 702V786.1M1627.8 702V786.1" stroke="#b0b0b0" stroke-width="0.9" fill="none"/><path d="M1539.8 702V786.1M1598.5 702V786.1M1657.2 702V786.1" stroke="#ff0000" stroke-opacity="0.5" stroke-width="5.5" fill="none"/><path d="M1539.8 703.5H1541.8V705.4H1543.9V707.3H1546V709.1H1548.1V710.9H1550.2V712.6H1552.3V714.5H1554.4V716.6H1556.5V718.7H1558.6V720.6H1560.7V721.6H1562.8V722.6H1564.9V723.7H1567V724.7H1569.1V725.8H1571.2V726.9H1573.3V729.8H1575.4V733.5H1577.5V736.3H1579.6V738.4H1581.7V740.5H1583.8V743.2H1585.9V747.4H1588V751.9H1590.1V758.2H1592.2V764.5H1594.3V769.8H1596.4V775H1598.5V778.1H1600.6V780.8H1602.7V782.5H1604.8V783.7H1606.9V784.8H1609V785.6H1657.2" fill="none" stroke="#000" stroke-width="8.4" stroke-linejoin="round" stroke-linecap="round"/></g><path d="M1554.4 786.1v11M1569.1 786.1v11M1583.8 786.1v11M1613.2 786.1v11M1627.8 786.1v11M1642.5 786.1v11M1534.3 765.1h-11M1534.3 744.1h-11M1534.3 723h-11" stroke="#000" stroke-width="3.3" fill="none"/><path d="M1539.8 786.1v18M1598.5 786.1v18M1657.2 786.1v18M1534.3 786.1h-18.7M1534.3 702h-18.7" stroke="#ff0000" stroke-width="4.5" fill="none"/><rect x="1534.3" y="702" width="128" height="84.1" fill="none" stroke="#ff0000" stroke-width="5.5"/></g>
<g><clipPath id="c4_8"><rect x="1713.7" y="702" width="128" height="84.1"/></clipPath><g clip-path="url(#c4_8)"><polygon points="1719.2,702.6 1725.4,709.1 1728.6,710.9 1729.6,711.5 1730.7,712.1 1733.8,713.9 1735.9,715 1737,715.4 1745.4,718.7 1748.5,719.7 1750.6,720.1 1751.7,720.3 1755.9,721.2 1758,721.6 1759,721.9 1760.1,722.5 1767.4,726.2 1768.4,727.6 1769.5,729.7 1773.7,735.3 1774.7,738.2 1775.8,743 1778.9,754 1780,756.4 1781,757.3 1783.1,761.4 1784.2,762.4 1785.2,762.5 1789.4,766.7 1790.5,768.5 1792.6,775.6 1794.7,780.6 1795.7,781.8 1796.8,782.2 1798.9,785.1 1801,785.6 1836.6,785.6 1836.6,785.6 1801,785.6 1798.9,785.6 1796.8,785.6 1795.7,785.6 1794.7,785.6 1792.6,785.6 1790.5,785.6 1789.4,785.6 1785.2,785.6 1784.2,785.6 1783.1,785.6 1781,785.6 1780,783.8 1778.9,783 1775.8,783 1774.7,783 1773.7,783 1769.5,783 1768.4,782.8 1767.4,781.8 1760.1,772.7 1759,769.8 1758,765.9 1755.9,760.7 1751.7,747.9 1750.6,745.5 1748.5,745.7 1745.4,742.6 1737,733 1735.9,731.3 1733.8,724.7 1730.7,717.2 1729.6,715.6 1728.6,714.6 1725.4,709.3 1719.2,702.6" fill="#8fbbd9" stroke="#1f77b4" stroke-opacity="0.5" stroke-width="5.2" stroke-linejoin="round"/><polygon points="1719.2,702.6 1725.4,709.2 1729.6,712 1731.7,713.5 1737,716.5 1741.2,718.6 1742.2,719.2 1744.3,719.9 1750.6,721.7 1754.8,724.1 1755.9,724.7 1756.9,725.2 1758,725.6 1760.1,726.8 1762.1,728.4 1764.2,731.4 1765.3,732.9 1766.3,734.3 1767.4,736.1 1770.5,742.9 1771.6,744.6 1772.6,746.2 1773.7,747.9 1776.8,755.5 1777.9,757.3 1778.9,760 1780,762.1 1781,762.8 1783.1,765.9 1784.2,767.8 1785.2,771.5 1786.3,775.5 1787.3,778.5 1788.4,780.9 1790.5,783.4 1791.5,784.9 1792.6,785.5 1836.6,785.6 1836.6,785.6 1792.6,785.6 1791.5,785.6 1790.5,785.6 1788.4,785.6 1787.3,785.6 1786.3,785.6 1785.2,785.6 1784.2,785.6 1783.1,785.6 1781,785.6 1780,783.8 1778.9,783 1777.9,783 1776.8,782.9 1773.7,782.8 1772.6,782.8 1771.6,782 1770.5,780.7 1767.4,775.6 1766.3,773.9 1765.3,771.3 1764.2,767.3 1762.1,760.6 1760.1,753.9 1758,748.9 1756.9,747 1755.9,745.9 1754.8,745.7 1750.6,741.9 1744.3,734.1 1742.2,730.9 1741.2,728.6 1737,724.6 1731.7,717.4 1729.6,714.9 1725.4,709.3 1719.2,702.6" fill="#ffd9b7" stroke="#dc985d" stroke-opacity="0.5" stroke-width="5.2" stroke-linejoin="round"/><polygon points="1719.2,702.6 1725.4,709.2 1734.9,716.5 1740.1,719.7 1745.4,722 1746.4,722.7 1749.6,724.7 1755.9,727.6 1756.9,728.1 1760.1,732.4 1761.1,733.9 1762.1,735.5 1764.2,739.2 1765.3,741.2 1766.3,742.6 1769.5,746.1 1770.5,747.3 1771.6,749 1773.7,753.3 1774.7,755.4 1775.8,758.2 1776.8,761.6 1777.9,763.3 1778.9,765.7 1780,768.6 1781,773.2 1782.1,777.2 1783.1,780.2 1786.3,785.2 1788.4,785.5 1836.6,785.6 1836.6,785.6 1788.4,785.6 1786.3,785.6 1783.1,785.6 1782.1,785.6 1781,785.6 1780,783.8 1778.9,783 1777.9,782.9 1776.8,782.9 1775.8,782.8 1774.7,781.5 1773.7,779.7 1771.6,775.2 1770.5,772.5 1769.5,768.2 1766.3,756 1765.3,753.5 1764.2,751.3 1762.1,747.4 1761.1,746.2 1760.1,745.7 1756.9,743.1 1755.9,742.1 1749.6,733.7 1746.4,728.7 1745.4,727.8 1740.1,724.9 1734.9,719.8 1725.4,709.3 1719.2,702.6" fill="#d6ecf3" stroke="#a5cfde" stroke-opacity="0.5" stroke-width="5.2" stroke-linejoin="round"/><path d="M1733.8 702V786.1M1763.2 702V786.1M1807.2 702V786.1M1821.9 702V786.1" stroke="#b0b0b0" stroke-width="0.9" fill="none"/><path d="M1719.2 702V786.1M1777.9 702V786.1M1836.6 702V786.1" stroke="#ff0000" stroke-opacity="0.5" stroke-width="5.5" fill="none"/><path d="M1719.2 703.7H1721.2V705.9H1723.3V708.2H1725.4V710.3H1727.5V712.4H1729.6V714.5H1731.7V716.6H1733.8V718.5H1735.9V720.1H1738V721.7H1740.1V723.2H1742.2V724.8H1744.3V725.6H1746.4V726.4H1748.5V727.2H1750.6V728H1752.7V730.4H1754.8V733.5H1756.9V736.7H1759V739.8H1761.1V742.5H1763.2V744.2H1765.3V746H1767.4V747.9H1769.5V751.6H1771.6V755.2H1773.7V765H1775.8V775.5H1777.9V781.6H1780V785.6H1836.6" fill="none" stroke="#000" stroke-width="8.4" stroke-linejoin="round" stroke-linecap="round"/></g><path d="M1733.8 786.1v11M1748.5 786.1v11M1763.2 786.1v11M1792.6 786.1v11M1807.2 786.1v11M1821.9 786.1v11M1713.7 765.1h-11M1713.7 744.1h-11M1713.7 723h-11" stroke="#000" stroke-width="3.3" fill="none"/><path d="M1719.2 786.1v18M1777.9 786.1v18M1836.6 786.1v18M1713.7 786.1h-18.7M1713.7 702h-18.7" stroke="#ff0000" stroke-width="4.5" fill="none"/><rect x="1713.7" y="702" width="128" height="84.1" fill="none" stroke="#ff0000" stroke-width="5.5"/></g>
<g><clipPath id="c4_9"><rect x="1893.1" y="702" width="128" height="84.1"/></clipPath><g clip-path="url(#c4_9)"><polygon points="1898.6,702.6 1899.6,703 1905.9,709.2 1908,710.9 1910.1,712.2 1914.3,714.9 1916.4,716.5 1917.4,717.3 1922.7,720.9 1927.9,722.3 1929,722.6 1930,722.9 1931.1,723.2 1933.2,723.9 1934.2,725.7 1935.3,729.6 1937.4,733.8 1939.5,738 1944.7,746.4 1945.7,748.2 1946.8,749.9 1947.8,751.3 1951,755.1 1953.1,757.9 1954.1,760.4 1955.2,764.8 1957.3,771.5 1958.3,774.6 1959.4,777.3 1961.5,782.1 1962.5,784.7 1963.6,785.6 2016,785.6 2016,785.6 1963.6,785.6 1962.5,785.6 1961.5,785.6 1959.4,784.4 1958.3,783.7 1957.3,783.1 1955.2,783 1954.1,783 1953.1,783 1951,783 1947.8,783 1946.8,782.1 1945.7,778 1944.7,775.4 1939.5,764.8 1937.4,758.9 1935.3,753.6 1934.2,750.5 1933.2,747.1 1931.1,740.9 1930,738.8 1929,739.4 1927.9,739.4 1922.7,735 1917.4,730.7 1916.4,729.3 1914.3,723.7 1910.1,715.4 1908,712.5 1905.9,709.2 1899.6,703 1898.6,702.6" fill="#8fbbd9" stroke="#1f77b4" stroke-opacity="0.5" stroke-width="5.2" stroke-linejoin="round"/><polygon points="1898.6,702.6 1899.6,703 1905.9,709.2 1911.1,713.4 1916.4,718.2 1918.5,720.2 1925.8,723.9 1930,728.3 1932.1,729.6 1933.2,730.2 1934.2,731.4 1936.3,735.6 1937.4,737.7 1940.5,743.9 1942.6,748.4 1944.7,752.2 1946.8,755 1947.8,756.2 1949.9,758.7 1951,760.4 1954.1,769.7 1957.3,777.9 1959.4,782.7 1961.5,784.9 1962.5,785.5 2016,785.6 2016,785.6 1962.5,785.6 1961.5,785.6 1959.4,784.4 1957.3,783.1 1954.1,782.9 1951,782.8 1949.9,782.3 1947.8,776.4 1946.8,774 1944.7,769.6 1942.6,765 1940.5,759.6 1937.4,754.1 1936.3,751.5 1934.2,745.1 1933.2,742 1932.1,739.8 1930,738.8 1925.8,734.8 1918.5,727.9 1916.4,725 1911.1,716.2 1905.9,709.2 1899.6,703 1898.6,702.6" fill="#ffd9b7" stroke="#dc985d" stroke-opacity="0.5" stroke-width="5.2" stroke-linejoin="round"/><polygon points="1898.6,702.6 1899.6,703 1906.9,710.2 1911.1,713.8 1916.4,719.5 1918.5,721.3 1921.6,723.5 1924.8,726 1927.9,728.4 1932.1,730.2 1933.2,731.2 1934.2,733.3 1937.4,739.6 1938.4,742.1 1941.5,749.9 1942.6,752.1 1943.6,753.8 1946.8,757.2 1948.9,759.6 1949.9,761.7 1952,767.5 1953.1,770.3 1957.3,780.9 1958.3,782.9 1961.5,785.2 1966.7,785.6 2016,785.6 2016,785.6 1966.7,785.6 1961.5,785.6 1958.3,783.7 1957.3,783.1 1953.1,782.8 1952,781.7 1949.9,775.9 1948.9,773.5 1946.8,768.8 1943.6,761.1 1942.6,759.1 1941.5,757.7 1938.4,753.1 1937.4,750.3 1934.2,740.9 1933.2,739.5 1932.1,738.9 1927.9,733.8 1924.8,730.3 1921.6,728.6 1918.5,725.8 1916.4,723.5 1911.1,715.4 1906.9,710.4 1899.6,703 1898.6,702.6" fill="#d6ecf3" stroke="#a5cfde" stroke-opacity="0.5" stroke-width="5.2" stroke-linejoin="round"/><path d="M1927.9 702V786.1M1942.6 702V786.1M1972 702V786.1M2001.3 702V786.1" stroke="#b0b0b0" stroke-width="0.9" fill="none"/><path d="M1898.6 702V786.1M1957.3 702V786.1M2016 702V786.1" stroke="#ff0000" stroke-opacity="0.5" stroke-width="5.5" fill="none"/><path d="M1898.6 703H1900.6V705H1902.7V707.1H1904.8V709.2H1906.9V711.2H1909V713.3H1911.1V715.7H1913.2V718.5H1915.3V721.3H1917.4V723.9H1919.5V725.3H1921.6V726.7H1923.7V728.1H1925.8V728.9H1927.9V729.6H1930V730.3H1932.1V733.2H1934.2V737.4H1936.3V742.6H1938.4V748.8H1940.5V753.9H1942.6V755.9H1944.7V758H1946.8V760.3H1948.9V765.5H1951V770.8H1953.1V776.1H1955.2V781.4H1957.3V783.7H1959.4V785H1961.5V785.6H2016" fill="none" stroke="#000" stroke-width="8.4" stroke-linejoin="round" stroke-linecap="round"/></g><path d="M1913.2 786.1v11M1927.9 786.1v11M1942.6 786.1v11M1972 786.1v11M1986.6 786.1v11M2001.3 786.1v11M1893.1 765.1h-11M1893.1 744.1h-11M1893.1 723h-11" stroke="#000" stroke-width="3.3" fill="none"/><path d="M1898.6 786.1v18M1957.3 786.1v18M2016 786.1v18M1893.1 786.1h-18.7M1893.1 702h-18.7" stroke="#ff0000" stroke-width="4.5" fill="none"/><rect x="1893.1" y="702" width="128" height="84.1" fill="none" stroke="#ff0000" stroke-width="5.5"/></g>
<g><clipPath id="c4_10"><rect x="2072.5" y="702" width="128" height="84.1"/></clipPath><g clip-path="url(#c4_10)"><polygon points="2077.9,702.6 2083.2,707 2086.3,710.4 2087.4,711 2088.4,711.6 2089.5,712.2 2091.6,714 2092.6,715 2093.7,715.9 2094.7,716.8 2098.9,720.5 2100,721 2101,721.1 2107.3,723.2 2108.4,723.5 2109.4,723.9 2110.5,724.2 2112.6,725 2113.6,727 2114.7,732 2116.8,737.3 2118.9,742.6 2119.9,745.3 2122,751.1 2123,753.9 2125.1,759.5 2126.2,762.3 2127.2,763.2 2128.3,762.5 2134.6,768.7 2135.6,770.2 2136.7,773.4 2137.7,777.3 2138.8,779.9 2139.8,782.6 2140.9,784.2 2143,785.4 2195.4,785.6 2195.4,785.6 2143,785.4 2140.9,784.2 2139.8,783.6 2138.8,783 2137.7,783 2136.7,783 2135.6,783 2134.6,783 2128.3,783 2127.2,783 2126.2,783 2125.1,782.8 2123,780.4 2122,777.8 2119.9,773.8 2118.9,771.5 2116.8,763.9 2114.7,757.6 2113.6,754.5 2112.6,751.3 2110.5,745 2109.4,743.6 2108.4,744.9 2107.3,744.9 2101,741.7 2100,740.6 2098.9,738.4 2094.7,732.8 2093.7,730.5 2092.6,726.2 2091.6,722.5 2089.5,716.2 2088.4,714.8 2087.4,714.3 2086.3,712.5 2083.2,707.2 2077.9,702.6" fill="#8fbbd9" stroke="#1f77b4" stroke-opacity="0.5" stroke-width="5.2" stroke-linejoin="round"/><polygon points="2077.9,702.6 2083.2,707 2086.3,710.5 2088.4,712.2 2089.5,713.2 2094.7,718.9 2096.8,720.9 2097.9,721.3 2101,723 2104.2,724.6 2106.3,726.9 2108.4,729.3 2110.5,731.2 2112.6,732.5 2113.6,733.8 2116.8,740.8 2118.9,746.7 2122,756.2 2123,758.9 2125.1,762.8 2127.2,764.3 2129.3,766.9 2130.4,768.2 2134.6,774.2 2138.8,781.9 2139.8,783.3 2143,785.4 2195.4,785.6 2195.4,785.6 2143,785.4 2139.8,783.6 2138.8,783 2134.6,782.9 2130.4,782.6 2129.3,781.4 2127.2,777.6 2125.1,774.4 2123,771.3 2122,769.4 2118.9,762 2116.8,756.8 2113.6,746.9 2112.6,745 2110.5,744.4 2108.4,742.8 2106.3,740.8 2104.2,737.1 2101,732.6 2097.9,730.3 2096.8,728.9 2094.7,726.1 2089.5,715.7 2088.4,714.6 2086.3,711.7 2083.2,707.1 2077.9,702.6" fill="#ffd9b7" stroke="#dc985d" stroke-opacity="0.5" stroke-width="5.2" stroke-linejoin="round"/><polygon points="2077.9,702.6 2083.2,707 2086.3,710.6 2090.5,715.3 2094.7,720.2 2096.8,721.9 2101,725.2 2103.1,727.3 2106.3,729.9 2109.4,731.6 2111.5,732.5 2112.6,733.4 2113.6,735.7 2114.7,737.9 2115.7,740.1 2116.8,742.6 2118.9,749.3 2120.9,756 2122,758.7 2124.1,762.5 2125.1,763.4 2129.3,769.3 2131.4,771.8 2133.5,774.3 2134.6,775.6 2138.8,782.5 2141.9,784.8 2143,785.4 2195.4,785.6 2195.4,785.6 2143,785.4 2141.9,784.8 2138.8,783 2134.6,782.8 2133.5,781.4 2131.4,778 2129.3,775 2125.1,769.9 2124.1,768.3 2122,764.1 2120.9,762 2118.9,757.7 2116.8,751.2 2115.7,747.7 2114.7,745 2113.6,744.5 2112.6,743.2 2111.5,741.9 2109.4,738.1 2106.3,732.9 2103.1,731.4 2101,730.3 2096.8,726.6 2094.7,723.6 2090.5,716.8 2086.3,711.2 2083.2,707.1 2077.9,702.6" fill="#d6ecf3" stroke="#a5cfde" stroke-opacity="0.5" stroke-width="5.2" stroke-linejoin="round"/><path d="M2092.6 702V786.1M2122 702V786.1M2166 702V786.1" stroke="#b0b0b0" stroke-width="0.9" fill="none"/><path d="M2077.9 702V786.1M2136.7 702V786.1M2195.4 702V786.1" stroke="#ff0000" stroke-opacity="0.5" stroke-width="5.5" fill="none"/><path d="M2077.9 703.4H2080V705.2H2082.1V707H2084.2V709.4H2086.3V712.2H2088.4V715H2090.5V717.8H2092.6V720.6H2094.7V723.4H2096.8V726.1H2098.9V727.5H2101V728.9H2103.1V730.3H2105.2V731.1H2107.3V731.8H2109.4V732.5H2111.5V735.2H2113.6V739.4H2115.7V744.8H2117.8V752.1H2119.9V758.6H2122V762.1H2124.1V765.6H2126.2V769.1H2128.3V771.3H2130.4V773.3H2132.5V775.4H2134.6V778.3H2136.7V781.5H2138.8V783.6H2140.9V784.8H2143V785.6H2195.4" fill="none" stroke="#000" stroke-width="8.4" stroke-linejoin="round" stroke-linecap="round"/></g><path d="M2092.6 786.1v11M2107.3 786.1v11M2122 786.1v11M2151.4 786.1v11M2166 786.1v11M2180.7 786.1v11M2072.5 765.1h-11M2072.5 744.1h-11M2072.5 723h-11" stroke="#000" stroke-width="3.3" fill="none"/><path d="M2077.9 786.1v18M2136.7 786.1v18M2195.4 786.1v18M2072.5 786.1h-18.7M2072.5 702h-18.7" stroke="#ff0000" stroke-width="4.5" fill="none"/><rect x="2072.5" y="702" width="128" height="84.1" fill="none" stroke="#ff0000" stroke-width="5.5"/></g>
<g><clipPath id="c5_0"><rect x="278.5" y="819.9" width="128" height="84.1"/></clipPath><g clip-path="url(#c5_0)"><polygon points="283.9,820.6 288.1,824.3 290.2,826.3 293.4,830.5 295.5,833.2 298.6,836 302.8,841.6 307,846.9 309.1,849.5 314.4,856 315.4,857.3 317.5,860.3 318.6,862.1 319.6,863.7 320.7,865.3 321.7,866.8 322.8,868.4 323.8,870 325.9,873.5 329,880.3 330.1,882.4 332.2,886.6 335.3,894.7 338.5,902.1 339.5,903.7 401.4,903.7 401.4,903.7 339.5,903.7 338.5,903.7 335.3,903.7 332.2,902.8 330.1,902.2 329,901.1 325.9,901.1 323.8,901.1 322.8,899 321.7,894.9 320.7,892.6 319.6,889.4 318.6,885.6 317.5,882.4 315.4,876.2 314.4,874.4 309.1,862.5 307,858.8 302.8,850.4 298.6,842 295.5,835.7 293.4,832.7 290.2,827.4 288.1,824.3 283.9,820.6" fill="#8fbbd9" stroke="#1f77b4" stroke-opacity="0.5" stroke-width="5.2" stroke-linejoin="round"/><polygon points="283.9,820.6 289.2,825.2 291.3,827.7 295.5,833.2 297.6,835.4 311.2,854.4 314.4,858.9 317.5,864.3 320.7,869.6 321.7,871.5 324.9,878.5 325.9,880.8 329,888.3 330.1,891.3 332.2,896.3 334.3,900.7 335.3,902.3 337.4,903.5 357.4,903.7 401.4,903.7 401.4,903.7 357.4,903.7 337.4,903.7 335.3,903.7 334.3,903.4 332.2,902.8 330.1,902.2 329,901.1 325.9,900.9 324.9,899 321.7,890.9 320.7,887.5 317.5,878.1 314.4,870.8 311.2,863.8 297.6,838.3 295.5,834.7 291.3,828.5 289.2,825.5 283.9,820.6" fill="#ffd9b7" stroke="#dc985d" stroke-opacity="0.5" stroke-width="5.2" stroke-linejoin="round"/><polygon points="283.9,820.6 289.2,825.2 291.3,827.7 296.5,834.5 307,850.2 312.3,858.2 315.4,863.9 319.6,871.9 323.8,882 326.9,890.6 328,893.5 329,895.8 330.1,897.8 332.2,901.6 333.2,902.4 336.4,903.6 401.4,903.7 401.4,903.7 336.4,903.7 333.2,903.1 332.2,902.8 330.1,902.2 329,901.1 328,901.1 326.9,899.9 323.8,893.4 319.6,880.7 315.4,870.4 312.3,863.7 307,853.8 296.5,835.5 291.3,828.1 289.2,825.3 283.9,820.6" fill="#d6ecf3" stroke="#a5cfde" stroke-opacity="0.5" stroke-width="5.2" stroke-linejoin="round"/><path d="M298.6 819.9V904M313.3 819.9V904M357.4 819.9V904M386.7 819.9V904M278.5 883H406.5M278.5 862H406.5M278.5 840.9H406.5" stroke="#b0b0b0" stroke-width="0.9" fill="none"/><path d="M283.9 819.9V904M342.7 819.9V904M401.4 819.9V904" stroke="#ff0000" stroke-opacity="0.5" stroke-width="5.5" fill="none"/><path d="M283.9 821.5H286V823.4H288.1V825.2H290.2V827.7H292.3V830.5H294.4V833.3H296.5V836.4H298.6V839.8H300.7V843.3H302.8V846.8H304.9V850.3H307V853.8H309.1V857.3H311.2V861.4H313.3V865.6H315.4V869.9H317.5V875.2H319.6V880.4H321.7V886.7H323.8V893.1H325.9V897.2H328V900.8H330.1V902.5H332.2V903.1H334.3V903.7H401.4" fill="none" stroke="#000" stroke-width="8.4" stroke-linejoin="round" stroke-linecap="round"/></g><path d="M298.6 904v11M313.3 904v11M328 904v11M357.4 904v11M372 904v11M386.7 904v11M278.5 883h-11M278.5 862h-11M278.5 840.9h-11" stroke="#000" stroke-width="3.3" fill="none"/><path d="M283.9 904v18M342.7 904v18M401.4 904v18M278.5 904h-18.7M278.5 819.9h-18.7" stroke="#ff0000" stroke-width="4.5" fill="none"/><rect x="278.5" y="819.9" width="128" height="84.1" fill="none" stroke="#ff0000" stroke-width="5.5"/></g>
<g><clipPath id="c5_1"><rect x="457.9" y="819.9" width="128" height="84.1"/></clipPath><g clip-path="url(#c5_1)"><polygon points="463.3,820.6 467.5,823.5 470.7,825.3 471.7,825.6 472.8,825.9 473.8,826.2 479.1,827.9 482.2,829.5 484.3,830.6 488.5,832.7 489.6,833.6 490.6,835.7 492.7,839.3 496.9,845.6 498,847.2 499,849.6 500.1,852.9 501.1,855.4 512.6,882.4 516.8,892.2 518.9,896.7 521,898.8 524.2,903.5 580.8,903.7 580.8,903.7 524.2,903.7 521,903.7 518.9,903.7 516.8,903.4 512.6,901.1 501.1,901.1 500.1,898.6 499,893.3 498,890.6 496.9,887.9 492.7,875.8 490.6,870.3 489.6,868.7 488.5,867.2 484.3,858.8 482.2,853.3 479.1,845.6 473.8,832.8 472.8,831.4 471.7,830.5 470.7,828.8 467.5,823.5 463.3,820.6" fill="#8fbbd9" stroke="#1f77b4" stroke-opacity="0.5" stroke-width="5.2" stroke-linejoin="round"/><polygon points="463.3,820.6 467.5,823.5 470.7,825.4 474.9,827.1 478,828.9 482.2,831.7 484.3,833.6 487.5,839.5 492.7,848 493.8,850.1 495.9,854.5 502.2,866.7 503.2,868.7 504.3,871.1 505.3,873.6 506.3,876.2 512.6,891.3 514.7,895.8 517.9,900.7 521,903.5 580.8,903.7 580.8,903.7 521,903.7 517.9,903.7 514.7,902.2 512.6,901.1 506.3,901.1 505.3,900 504.3,897.4 503.2,894.1 502.2,891.4 495.9,874.5 493.8,869.5 492.7,867.9 487.5,858.4 484.3,851.9 482.2,847.7 478,838.9 474.9,832.1 470.7,827.1 467.5,823.5 463.3,820.6" fill="#ffd9b7" stroke="#dc985d" stroke-opacity="0.5" stroke-width="5.2" stroke-linejoin="round"/><polygon points="463.3,820.6 468.6,824.2 474.9,827.8 475.9,828.6 479.1,831 481.2,833.3 486.4,843 490.6,849.8 496.9,861.1 501.1,868.5 505.3,878.5 508.4,886.3 509.5,888.8 512.6,895.8 515.8,901 517.9,902.6 518.9,903.4 538.9,903.7 580.8,903.7 580.8,903.7 538.9,903.7 518.9,903.7 517.9,903.7 515.8,902.8 512.6,901.1 509.5,901 508.4,899.4 505.3,891.9 501.1,881.1 496.9,870.4 490.6,859.6 486.4,852.1 481.2,842.8 479.1,838.4 475.9,832 474.9,830.6 468.6,824.4 463.3,820.6" fill="#d6ecf3" stroke="#a5cfde" stroke-opacity="0.5" stroke-width="5.2" stroke-linejoin="round"/><path d="M492.7 819.9V904M507.4 819.9V904M536.8 819.9V904M551.4 819.9V904M457.9 883H585.9M457.9 862H585.9M457.9 840.9H585.9" stroke="#b0b0b0" stroke-width="0.9" fill="none"/><path d="M463.3 819.9V904M522.1 819.9V904M580.8 819.9V904" stroke="#ff0000" stroke-opacity="0.5" stroke-width="5.5" fill="none"/><path d="M463.3 821.3H465.4V822.7H467.5V824.2H469.6V825.8H471.7V827.5H473.8V829.3H475.9V831.7H478V836H480.1V840.2H482.2V843.9H484.3V847.3H486.4V850.6H488.5V853.9H490.6V857.3H492.7V860.6H494.8V864H496.9V867.3H499V871.6H501.1V876.8H503.2V882H505.3V887.3H507.4V892.4H509.5V896.6H511.6V900.8H513.7V902.2H515.8V903.4H580.8V903.7" fill="none" stroke="#000" stroke-width="8.4" stroke-linejoin="round" stroke-linecap="round"/></g><path d="M478 904v11M492.7 904v11M507.4 904v11M536.8 904v11M551.4 904v11M566.1 904v11M457.9 883h-11M457.9 862h-11M457.9 840.9h-11" stroke="#000" stroke-width="3.3" fill="none"/><path d="M463.3 904v18M522.1 904v18M580.8 904v18M457.9 904h-18.7M457.9 819.9h-18.7" stroke="#ff0000" stroke-width="4.5" fill="none"/><rect x="457.9" y="819.9" width="128" height="84.1" fill="none" stroke="#ff0000" stroke-width="5.5"/></g>
<g><clipPath id="c5_2"><rect x="637.3" y="819.9" width="128" height="84.1"/></clipPath><g clip-path="url(#c5_2)"><polygon points="642.8,820.6 648,825 652.2,828.2 654.3,829.2 655.3,829.7 658.5,831.3 659.5,831.8 660.6,832.4 662.7,833.7 664.8,836.3 673.2,844.7 675.3,847.6 681.6,855.4 682.6,857 683.7,859.5 684.7,862.1 685.7,864.2 686.8,866.3 688.9,870.4 689.9,873.4 691,877.3 694.1,886.2 697.3,893.8 699.4,898.8 700.4,899.9 701.5,900.4 703.6,903.3 705.7,903.7 760.2,903.7 760.2,903.7 705.7,903.7 703.6,903.7 701.5,903.7 700.4,903.7 699.4,903.7 697.3,903.7 694.1,901.1 691,901.1 689.9,901.1 688.9,901.1 686.8,901.1 685.7,900.5 684.7,896.8 683.7,893.9 682.6,891.7 681.6,889.5 675.3,877.1 673.2,873.9 664.8,859.7 662.7,856.1 660.6,852.5 659.5,849.7 658.5,845.7 655.3,836.6 654.3,834.2 652.2,832.2 648,825.2 642.8,820.6" fill="#8fbbd9" stroke="#1f77b4" stroke-opacity="0.5" stroke-width="5.2" stroke-linejoin="round"/><polygon points="642.8,820.6 648,825 653.2,828.8 656.4,830.6 660.6,833.2 666.9,840.4 674.2,848.5 677.4,852.3 680.5,857.2 686.8,871.1 687.8,874.1 688.9,877.5 689.9,880.6 694.1,892.3 696.2,898 697.3,899.6 699.4,901.6 700.4,902.9 701.5,903.6 760.2,903.7 760.2,903.7 701.5,903.7 700.4,903.7 699.4,903.7 697.3,903.7 696.2,903.1 694.1,901.1 689.9,900.9 688.9,899.6 687.8,896.8 686.8,893.6 680.5,878.6 677.4,872.2 674.2,866 666.9,852.2 660.6,841.6 656.4,834.1 653.2,830.8 648,825.1 642.8,820.6" fill="#ffd9b7" stroke="#dc985d" stroke-opacity="0.5" stroke-width="5.2" stroke-linejoin="round"/><polygon points="642.8,820.6 651.1,827.5 657.4,831.7 659.5,833.2 663.7,838.4 669,844.3 670,845.4 675.3,851.1 678.4,856.4 682.6,865.4 685.7,873 688.9,882.4 689.9,885.5 691,888.6 692,891.7 694.1,898 695.2,899.6 696.2,900.6 697.3,901.8 698.3,903 699.4,903.6 760.2,903.7 760.2,903.7 699.4,903.7 698.3,903.7 697.3,903.7 696.2,903.1 695.2,901.9 694.1,901.1 692,901 691,899.9 689.9,897.9 688.9,894.5 685.7,885.8 682.6,877.6 678.4,868.2 675.3,861.4 670,851.3 669,849.9 663.7,843.2 659.5,836.9 657.4,833.8 651.1,828 642.8,820.6" fill="#d6ecf3" stroke="#a5cfde" stroke-opacity="0.5" stroke-width="5.2" stroke-linejoin="round"/><path d="M657.4 819.9V904M686.8 819.9V904M730.8 819.9V904M745.5 819.9V904M637.3 883H765.3M637.3 862H765.3M637.3 840.9H765.3" stroke="#b0b0b0" stroke-width="0.9" fill="none"/><path d="M642.8 819.9V904M701.5 819.9V904M760.2 819.9V904" stroke="#ff0000" stroke-opacity="0.5" stroke-width="5.5" fill="none"/><path d="M642.8 821.5H644.8V823.2H646.9V825H649V826.7H651.1V828.3H653.2V829.9H655.3V831.4H657.4V833.2H659.5V836H661.6V838.8H663.7V841.6H665.8V843.8H667.9V845.9H670V848H672.1V850.1H674.2V853.3H676.3V857.5H678.4V861.7H680.5V866.8H682.6V872H684.7V878H686.8V884.2H688.9V890.9H691V897.9H693.1V900.8H695.2V903.1H697.3V903.7H760.2" fill="none" stroke="#000" stroke-width="8.4" stroke-linejoin="round" stroke-linecap="round"/></g><path d="M657.4 904v11M672.1 904v11M686.8 904v11M716.2 904v11M730.8 904v11M745.5 904v11M637.3 883h-11M637.3 862h-11M637.3 840.9h-11" stroke="#000" stroke-width="3.3" fill="none"/><path d="M642.8 904v18M701.5 904v18M760.2 904v18M637.3 904h-18.7M637.3 819.9h-18.7" stroke="#ff0000" stroke-width="4.5" fill="none"/><rect x="637.3" y="819.9" width="128" height="84.1" fill="none" stroke="#ff0000" stroke-width="5.5"/></g>
<g><clipPath id="c5_3"><rect x="816.7" y="819.9" width="128" height="84.1"/></clipPath><g clip-path="url(#c5_3)"><polygon points="822.2,820.6 826.3,824.4 828.4,826.5 831.6,830.4 832.6,831.2 833.7,831.9 836.8,834.2 838.9,835.7 845.2,840.8 846.3,841.7 847.3,842.5 851.5,845.5 853.6,846.8 855.7,848.1 856.8,848.7 858.9,850.1 859.9,852.3 861,856.2 862,858.5 865.1,865.2 866.2,868 868.3,874.7 869.3,877.7 874.6,892.3 876.7,898.1 877.7,900.3 878.8,901.5 879.8,903.2 880.9,903.7 939.6,903.7 939.6,903.7 880.9,903.7 879.8,903.5 878.8,903 877.7,902.5 876.7,902 874.6,901.1 869.3,901 868.3,899.4 866.2,894.8 865.1,892.2 862,885.9 861,883.3 859.9,880.3 858.9,877.8 856.8,872.7 855.7,871.2 853.6,870.6 851.5,868.5 847.3,864.4 846.3,862.7 845.2,860.1 838.9,849 836.8,843.1 833.7,835.6 832.6,833.9 831.6,832.9 828.4,827.7 826.3,824.4 822.2,820.6" fill="#8fbbd9" stroke="#1f77b4" stroke-opacity="0.5" stroke-width="5.2" stroke-linejoin="round"/><polygon points="822.2,820.6 826.3,824.4 828.4,826.5 831.6,830.6 834.7,833.5 840,838.5 846.3,844.2 848.4,845.7 851.5,847.9 853.6,849.5 855.7,851.9 857.8,855.2 858.9,857.4 861,861.7 863.1,866.2 865.1,871.8 870.4,886.6 871.4,889.6 873.5,894.9 875.6,899.6 876.7,901.1 879.8,903.3 881.9,903.7 939.6,903.7 939.6,903.7 881.9,903.7 879.8,903.5 876.7,902 875.6,901.5 873.5,901.1 871.4,900.9 870.4,899.2 865.1,887.6 863.1,882.1 861,876.6 858.9,871.8 857.8,871 855.7,868.7 853.6,866 851.5,863 848.4,856.8 846.3,853.7 840,844.8 834.7,836.3 831.6,832 828.4,827.2 826.3,824.4 822.2,820.6" fill="#ffd9b7" stroke="#dc985d" stroke-opacity="0.5" stroke-width="5.2" stroke-linejoin="round"/><polygon points="822.2,820.6 827.4,825.4 833.7,833 841,840.8 845.2,844.7 851.5,849.6 855.7,854.3 856.8,855.9 859.9,862.2 861,864.4 863.1,869.2 867.2,880.4 870.4,889.7 871.4,892.5 872.5,894.8 873.5,897.1 875.6,901 879.8,903.4 884,903.7 939.6,903.7 939.6,903.7 884,903.7 879.8,903.5 875.6,901.5 873.5,901.1 872.5,900 871.4,898 870.4,895.8 867.2,888.5 863.1,877 861,871.9 859.9,870.7 856.8,865.6 855.7,863.9 851.5,855.8 845.2,848.3 841,843.9 833.7,834.1 827.4,825.5 822.2,820.6" fill="#d6ecf3" stroke="#a5cfde" stroke-opacity="0.5" stroke-width="5.2" stroke-linejoin="round"/><path d="M851.5 819.9V904M866.2 819.9V904M895.6 819.9V904M924.9 819.9V904M816.7 883H944.7M816.7 862H944.7M816.7 840.9H944.7" stroke="#b0b0b0" stroke-width="0.9" fill="none"/><path d="M822.2 819.9V904M880.9 819.9V904M939.6 819.9V904" stroke="#ff0000" stroke-opacity="0.5" stroke-width="5.5" fill="none"/><path d="M822.2 821.5H824.2V823.5H826.3V825.4H828.4V828H830.5V830.8H832.6V833.6H834.7V836.3H836.8V838.7H838.9V841.1H841V843.4H843.1V845.2H845.2V846.9H847.3V848.6H849.4V850.7H851.5V852.8H853.6V854.9H855.7V858.5H857.8V862.7H859.9V866.9H862V872.1H864.1V877.4H866.2V883.5H868.3V889.8H870.4V894.7H872.5V898.9H874.6V901.5H876.7V902.5H878.8V903.5H939.6V903.7" fill="none" stroke="#000" stroke-width="8.4" stroke-linejoin="round" stroke-linecap="round"/></g><path d="M836.8 904v11M851.5 904v11M866.2 904v11M895.6 904v11M910.2 904v11M924.9 904v11M816.7 883h-11M816.7 862h-11M816.7 840.9h-11" stroke="#000" stroke-width="3.3" fill="none"/><path d="M822.2 904v18M880.9 904v18M939.6 904v18M816.7 904h-18.7M816.7 819.9h-18.7" stroke="#ff0000" stroke-width="4.5" fill="none"/><rect x="816.7" y="819.9" width="128" height="84.1" fill="none" stroke="#ff0000" stroke-width="5.5"/></g>
<g><clipPath id="c5_4"><rect x="996.1" y="819.9" width="128" height="84.1"/></clipPath><g clip-path="url(#c5_4)"><polygon points="1001.6,820.6 1005.7,824.3 1006.8,825.2 1011,826.7 1013.1,827.5 1018.3,829.7 1022.5,831.8 1024.6,832.9 1028.8,835.2 1030.9,836.6 1035.1,839.2 1036.2,839.9 1037.2,841.2 1038.3,843.2 1040.4,846 1042.5,848.8 1043.5,850.6 1044.5,853.2 1046.6,857.7 1048.7,861.9 1050.8,866.5 1052.9,871.8 1054,874.2 1057.1,881.4 1060.3,887.2 1063.4,893.4 1066.6,897.6 1070.8,903.7 1119,903.7 1119,903.7 1070.8,903.7 1066.6,903.7 1063.4,903.7 1060.3,903.7 1057.1,902.8 1054,901.1 1052.9,901.1 1050.8,901.1 1048.7,901.1 1046.6,900.7 1044.5,894.2 1043.5,892 1042.5,889.7 1040.4,883.9 1038.3,878.6 1037.2,876.5 1036.2,875 1035.1,873 1030.9,864.9 1028.8,862.9 1024.6,857.3 1022.5,853.5 1018.3,846.4 1013.1,835.8 1011,832.7 1006.8,825.8 1005.7,824.3 1001.6,820.6" fill="#8fbbd9" stroke="#1f77b4" stroke-opacity="0.5" stroke-width="5.2" stroke-linejoin="round"/><polygon points="1001.6,820.6 1006.8,825.2 1014.1,829 1019.4,832.6 1024.6,836.5 1028.8,839.8 1032,844.3 1034.1,846.4 1038.3,851 1040.4,854.7 1043.5,860 1046.6,867.2 1049.8,874.9 1051.9,879.9 1054,884.3 1057.1,891.1 1058.2,893.3 1061.3,898.1 1063.4,901.5 1065.5,903.2 1067.6,903.6 1119,903.7 1119,903.7 1067.6,903.7 1065.5,903.7 1063.4,903.7 1061.3,903.7 1058.2,903.1 1057.1,902.8 1054,901.1 1051.9,901.1 1049.8,900.7 1046.6,893.3 1043.5,885.6 1040.4,877.7 1038.3,873.6 1034.1,864.8 1032,861.9 1028.8,857.4 1024.6,850.9 1019.4,844.9 1014.1,836.3 1006.8,825.6 1001.6,820.6" fill="#ffd9b7" stroke="#dc985d" stroke-opacity="0.5" stroke-width="5.2" stroke-linejoin="round"/><polygon points="1001.6,820.6 1006.8,825.2 1013.1,829.7 1020.4,836.1 1024.6,840.3 1027.8,844.5 1034.1,850.1 1036.2,852.9 1039.3,857.7 1041.4,861.3 1045.6,871.6 1048.7,879.2 1051.9,886.3 1052.9,888.7 1054,891.1 1055,893.5 1057.1,896.9 1060.3,901.9 1063.4,903.6 1119,903.7 1119,903.7 1063.4,903.7 1060.3,903.7 1057.1,902.8 1055,901.7 1054,901.1 1052.9,901.1 1051.9,900.2 1048.7,893.8 1045.6,886.1 1041.4,875.8 1039.3,871.1 1036.2,864.1 1034.1,860.2 1027.8,851.4 1024.6,848.4 1020.4,844.6 1013.1,834 1006.8,825.4 1001.6,820.6" fill="#d6ecf3" stroke="#a5cfde" stroke-opacity="0.5" stroke-width="5.2" stroke-linejoin="round"/><path d="M1016.2 819.9V904M1045.6 819.9V904M1104.3 819.9V904M996.1 883H1124.1M996.1 862H1124.1M996.1 840.9H1124.1" stroke="#b0b0b0" stroke-width="0.9" fill="none"/><path d="M1001.6 819.9V904M1060.3 819.9V904M1119 819.9V904" stroke="#ff0000" stroke-opacity="0.5" stroke-width="5.5" fill="none"/><path d="M1001.6 821.5H1003.6V823.4H1005.7V825.3H1007.8V827.8H1009.9V830.6H1012V833.4H1014.1V836.2H1016.2V839H1018.3V841.8H1020.4V844.4H1022.5V846H1024.6V847.6H1026.7V849.1H1028.8V850.7H1030.9V853.2H1033V856H1035.1V858.8H1037.2V862.9H1039.3V868.2H1041.4V873.5H1043.5V878.7H1045.6V883.9H1047.7V889.2H1049.8V894.3H1051.9V898H1054V901.7H1056.1V902.8H1058.2V903.5H1119V903.7" fill="none" stroke="#000" stroke-width="8.4" stroke-linejoin="round" stroke-linecap="round"/></g><path d="M1016.2 904v11M1030.9 904v11M1045.6 904v11M1075 904v11M1089.6 904v11M1104.3 904v11M996.1 883h-11M996.1 862h-11M996.1 840.9h-11" stroke="#000" stroke-width="3.3" fill="none"/><path d="M1001.6 904v18M1060.3 904v18M1119 904v18M996.1 904h-18.7M996.1 819.9h-18.7" stroke="#ff0000" stroke-width="4.5" fill="none"/><rect x="996.1" y="819.9" width="128" height="84.1" fill="none" stroke="#ff0000" stroke-width="5.5"/></g>
<g><clipPath id="c5_5"><rect x="1175.5" y="819.9" width="128" height="84.1"/></clipPath><g clip-path="url(#c5_5)"><polygon points="1181,820.6 1185.1,824.2 1186.2,825.2 1188.3,827.6 1190.4,828.9 1192.5,830.1 1195.6,831.9 1197.7,833.1 1198.8,833.7 1208.2,839.4 1210.3,841.4 1213.5,844.7 1214.5,845.7 1215.6,846.8 1218.7,850.1 1220.8,853.3 1223.9,857.4 1225,859.1 1226,862.1 1227.1,865.5 1228.1,868 1229.2,870.6 1231.3,876 1233.4,882.4 1236.5,891.3 1239.7,900.6 1240.7,903.3 1242.8,903.7 1298.4,903.7 1298.4,903.7 1242.8,903.7 1240.7,903.3 1239.7,902.8 1236.5,901.3 1233.4,901.1 1231.3,901.1 1229.2,901.1 1228.1,900.6 1227.1,898 1226,896.3 1225,893.6 1223.9,889.3 1220.8,879.6 1218.7,875.1 1215.6,867.5 1214.5,866.4 1213.5,866.7 1210.3,863.7 1208.2,861.6 1198.8,850.9 1197.7,848.9 1195.6,842.4 1192.5,835.1 1190.4,832.5 1188.3,829 1186.2,825.5 1185.1,824.2 1181,820.6" fill="#8fbbd9" stroke="#1f77b4" stroke-opacity="0.5" stroke-width="5.2" stroke-linejoin="round"/><polygon points="1181,820.6 1186.2,825.2 1189.3,828.5 1193.5,831.7 1198.8,835.9 1203,839.4 1208.2,845.4 1214.5,851.2 1217.7,854.6 1218.7,855.7 1219.8,856.8 1221.9,859.2 1223.9,863.3 1227.1,870 1229.2,876 1231.3,882.4 1232.3,885.2 1236.5,896.6 1237.6,899.6 1238.6,901.5 1240.7,903.3 1242.8,903.7 1298.4,903.7 1298.4,903.7 1242.8,903.7 1240.7,903.3 1238.6,902.3 1237.6,901.8 1236.5,901.3 1232.3,901 1231.3,899.8 1229.2,894.9 1227.1,888.6 1223.9,879.6 1221.9,874.2 1219.8,868.8 1218.7,867 1217.7,866.5 1214.5,862.9 1208.2,856 1203,850.9 1198.8,845.7 1193.5,835.8 1189.3,829.8 1186.2,825.3 1181,820.6" fill="#ffd9b7" stroke="#dc985d" stroke-opacity="0.5" stroke-width="5.2" stroke-linejoin="round"/><polygon points="1181,820.6 1187.2,826.1 1189.3,828.6 1194.6,833.7 1199.8,839 1205.1,845.6 1214.5,853.7 1219.8,858.9 1220.8,860.1 1221.9,861.9 1222.9,863.9 1225,867.7 1226,870 1228.1,876.3 1229.2,879.7 1231.3,885.4 1233.4,890.8 1234.4,893.6 1236.5,899.4 1237.6,901.3 1241.8,903.7 1298.4,903.7 1298.4,903.7 1241.8,903.7 1237.6,901.8 1236.5,901.3 1234.4,901.1 1233.4,900.1 1231.3,895.1 1229.2,889.2 1228.1,886.3 1226,880.8 1225,877.6 1222.9,871.5 1221.9,868.9 1220.8,867.1 1219.8,866.1 1214.5,859.4 1205.1,850.6 1199.8,845.6 1194.6,836.9 1189.3,829.4 1187.2,826.4 1181,820.6" fill="#d6ecf3" stroke="#a5cfde" stroke-opacity="0.5" stroke-width="5.2" stroke-linejoin="round"/><path d="M1195.6 819.9V904M1210.3 819.9V904M1269 819.9V904M1175.5 883H1303.5M1175.5 862H1303.5M1175.5 840.9H1303.5" stroke="#b0b0b0" stroke-width="0.9" fill="none"/><path d="M1181 819.9V904M1239.7 819.9V904M1298.4 819.9V904" stroke="#ff0000" stroke-opacity="0.5" stroke-width="5.5" fill="none"/><path d="M1181 821.5H1183V823.3H1185.1V825.2H1187.2V827.6H1189.3V830.4H1191.4V833.2H1193.5V836.1H1195.6V839.3H1197.7V842.4H1199.8V845.4H1201.9V847H1204V848.6H1206.1V850.1H1208.2V851.7H1210.3V853.5H1212.4V855.3H1214.5V857.2H1216.6V859H1218.7V861.4H1220.8V864.7H1222.9V868.1H1225V873.9H1227.1V880.9H1229.2V886.1H1231.3V891.4H1233.4V896.9H1235.5V901.3H1237.6V902.3H1239.7V903.3H1298.4V903.7" fill="none" stroke="#000" stroke-width="8.4" stroke-linejoin="round" stroke-linecap="round"/></g><path d="M1195.6 904v11M1210.3 904v11M1225 904v11M1254.4 904v11M1269 904v11M1283.7 904v11M1175.5 883h-11M1175.5 862h-11M1175.5 840.9h-11" stroke="#000" stroke-width="3.3" fill="none"/><path d="M1181 904v18M1239.7 904v18M1298.4 904v18M1175.5 904h-18.7M1175.5 819.9h-18.7" stroke="#ff0000" stroke-width="4.5" fill="none"/><rect x="1175.5" y="819.9" width="128" height="84.1" fill="none" stroke="#ff0000" stroke-width="5.5"/></g>
<g><clipPath id="c5_6"><rect x="1354.9" y="819.9" width="128" height="84.1"/></clipPath><g clip-path="url(#c5_6)"><polygon points="1360.4,820.6 1365.6,824.5 1366.6,825 1369.8,825.9 1370.8,826.2 1371.9,826.5 1375,827.4 1376.1,827.7 1377.1,828 1382.4,829.3 1387.6,830.7 1388.7,830.9 1389.7,831.2 1395,832.8 1401.3,835.1 1402.3,836.4 1403.3,839.4 1404.4,841.3 1405.4,843 1406.5,844.8 1407.5,846.5 1408.6,848.4 1413.8,859.3 1421.2,874 1422.2,876.5 1424.3,883.4 1427.5,892.1 1428.5,894.1 1429.6,895.3 1432.7,901.7 1433.8,903.4 1436.9,903.7 1477.8,903.7 1477.8,903.7 1436.9,903.7 1433.8,903.7 1432.7,903.7 1429.6,903.6 1428.5,902.5 1427.5,901.3 1424.3,901.1 1422.2,901.1 1421.2,901.1 1413.8,901.1 1408.6,901 1407.5,899.2 1406.5,896.9 1405.4,895.1 1404.4,892.1 1403.3,888.5 1402.3,885.8 1401.3,883.2 1395,868.5 1389.7,858.5 1388.7,858 1387.6,858.5 1382.4,854.8 1377.1,847.8 1376.1,845 1375,841.4 1371.9,833.8 1370.8,831.9 1369.8,830.8 1366.6,825.8 1365.6,824.5 1360.4,820.6" fill="#8fbbd9" stroke="#1f77b4" stroke-opacity="0.5" stroke-width="5.2" stroke-linejoin="round"/><polygon points="1360.4,820.6 1366.6,825.1 1379.2,829.5 1382.4,830.6 1384.5,831.3 1389.7,833.4 1392.9,834.6 1395,835.5 1396,836.1 1398.1,837.7 1401.3,841.8 1403.3,844.5 1407.5,851.9 1408.6,854 1410.7,858.6 1412.8,863.3 1413.8,865.6 1414.9,867.9 1419.1,877.5 1425.4,893 1427.5,897.1 1428.5,899.2 1429.6,900.7 1431.7,903.4 1447.4,903.7 1477.8,903.7 1477.8,903.7 1447.4,903.7 1431.7,903.7 1429.6,903.6 1428.5,902.5 1427.5,901.3 1425.4,901.1 1419.1,901.1 1414.9,901.1 1413.8,900.5 1412.8,898.9 1410.7,894.5 1408.6,888.3 1407.5,885.8 1403.3,876.3 1401.3,871.3 1398.1,864.7 1396,860.3 1395,858.6 1392.9,857.8 1389.7,854.9 1384.5,847.3 1382.4,842.7 1379.2,837.3 1366.6,825.5 1360.4,820.6" fill="#ffd9b7" stroke="#dc985d" stroke-opacity="0.5" stroke-width="5.2" stroke-linejoin="round"/><polygon points="1360.4,820.6 1366.6,825.1 1382.4,831.6 1386.6,833.4 1391.8,835.6 1395,837.1 1397.1,839.1 1399.2,841.4 1400.2,842.6 1401.3,843.8 1402.3,845.3 1406.5,852.3 1409.6,859.4 1414.9,871.7 1417,876.6 1419.1,881.3 1420.1,883.6 1421.2,885.9 1424.3,893.5 1426.4,898.1 1427.5,899.8 1429.6,902.3 1430.6,903.5 1477.8,903.7 1477.8,903.7 1430.6,903.7 1429.6,903.6 1427.5,901.3 1426.4,901.1 1424.3,901.1 1421.2,901.1 1420.1,900.3 1419.1,899 1417,894.3 1414.9,888.7 1409.6,877.3 1406.5,869.8 1402.3,860.3 1401.3,858.5 1400.2,857.8 1399.2,856.4 1397.1,853.1 1395,849.9 1391.8,844.6 1386.6,837.8 1382.4,835.3 1366.6,825.3 1360.4,820.6" fill="#d6ecf3" stroke="#a5cfde" stroke-opacity="0.5" stroke-width="5.2" stroke-linejoin="round"/><path d="M1389.7 819.9V904M1433.8 819.9V904M1463.1 819.9V904M1354.9 883H1482.9M1354.9 862H1482.9M1354.9 840.9H1482.9" stroke="#b0b0b0" stroke-width="0.9" fill="none"/><path d="M1360.4 819.9V904M1419.1 819.9V904M1477.8 819.9V904" stroke="#ff0000" stroke-opacity="0.5" stroke-width="5.5" fill="none"/><path d="M1360.4 821.3H1362.4V822.9H1364.5V824.5H1366.6V825.7H1368.7V826.8H1370.8V827.8H1372.9V828.9H1375V829.9H1377.1V830.9H1379.2V832H1381.3V833H1383.4V834H1385.5V834.8H1387.6V835.6H1389.7V836.4H1391.8V837.2H1393.9V839H1396V841.1H1398.1V843.2H1400.2V846H1402.3V849.4H1404.4V852.7H1406.5V857.7H1408.6V863H1410.7V868.2H1412.8V873.4H1414.9V878.1H1417V882.3H1419.1V886.5H1421.2V891.6H1423.3V896.8H1425.4V900.2H1427.5V902.5H1429.6V903.7H1477.8" fill="none" stroke="#000" stroke-width="8.4" stroke-linejoin="round" stroke-linecap="round"/></g><path d="M1375 904v11M1389.7 904v11M1404.4 904v11M1433.8 904v11M1448.4 904v11M1463.1 904v11M1354.9 883h-11M1354.9 862h-11M1354.9 840.9h-11" stroke="#000" stroke-width="3.3" fill="none"/><path d="M1360.4 904v18M1419.1 904v18M1477.8 904v18M1354.9 904h-18.7M1354.9 819.9h-18.7" stroke="#ff0000" stroke-width="4.5" fill="none"/><rect x="1354.9" y="819.9" width="128" height="84.1" fill="none" stroke="#ff0000" stroke-width="5.5"/></g>
<g><clipPath id="c5_7"><rect x="1534.3" y="819.9" width="128" height="84.1"/></clipPath><g clip-path="url(#c5_7)"><polygon points="1539.8,820.6 1541.8,823.8 1543.9,824.8 1548.1,826.4 1549.2,826.8 1551.3,827.5 1552.3,827.9 1553.4,828.3 1558.6,830.9 1559.7,831.4 1564.9,834 1566,834.4 1567,834.5 1571.2,835.4 1573.3,835.8 1574.4,836 1576.5,836.4 1577.5,836.8 1578.6,837.7 1581.7,839.7 1583.8,841 1585.9,842.5 1588,845.7 1589,847 1595.3,854.7 1600.6,859.7 1603.7,862.9 1604.8,865.1 1605.8,868.2 1610,876.6 1612.1,884.1 1614.2,892.5 1615.3,894.7 1616.3,894.6 1619.5,899.6 1622.6,903.3 1624.7,903.7 1657.2,903.7 1657.2,903.7 1624.7,903.7 1622.6,903.7 1619.5,903.7 1616.3,903.7 1615.3,903.7 1614.2,903.7 1612.1,903.7 1610,903.7 1605.8,903.7 1604.8,903.7 1603.7,903.7 1600.6,903.7 1595.3,901.1 1589,901.1 1588,900.6 1585.9,894.1 1583.8,890 1581.7,888.5 1578.6,884.7 1577.5,881.7 1576.5,876.8 1574.4,870.5 1573.3,868 1571.2,867.2 1567,861.7 1566,861 1564.9,860.8 1559.7,857 1558.6,855.3 1553.4,848 1552.3,845.4 1551.3,841.6 1549.2,836.6 1548.1,835.4 1543.9,827.3 1541.8,823.8 1539.8,820.6" fill="#8fbbd9" stroke="#1f77b4" stroke-opacity="0.5" stroke-width="5.2" stroke-linejoin="round"/><polygon points="1539.8,820.6 1541.8,823.8 1543.9,825.3 1548.1,827.8 1549.2,828.5 1555.5,833.5 1556.5,834.3 1560.7,835.7 1563.9,837.2 1567,839.7 1570.2,842.1 1571.2,843.1 1575.4,847.4 1576.5,848.1 1577.5,848.7 1579.6,849.8 1580.7,850.7 1582.7,852.8 1583.8,853.8 1585.9,855.8 1586.9,857.1 1588,858.5 1589,859.9 1591.1,862.8 1592.2,864.8 1595.3,870.6 1598.5,876.8 1600.6,882.4 1603.7,892.1 1604.8,894.6 1605.8,896.2 1607.9,900.5 1611.1,903.3 1614.2,903.6 1657.2,903.7 1657.2,903.7 1614.2,903.7 1611.1,903.7 1607.9,903.7 1605.8,903.7 1604.8,903.7 1603.7,903.7 1600.6,903.7 1598.5,902.8 1595.3,901.1 1592.2,901.1 1591.1,900.6 1589,894.1 1588,891.5 1586.9,889.6 1585.9,888.6 1583.8,885.5 1582.7,883.2 1580.7,876.9 1579.6,874.2 1577.5,869.5 1576.5,867.9 1575.4,867.3 1571.2,861.4 1570.2,860.8 1567,858 1563.9,853.8 1560.7,850.5 1556.5,847.5 1555.5,846.1 1549.2,836.5 1548.1,835.4 1543.9,827.3 1541.8,823.8 1539.8,820.6" fill="#ffd9b7" stroke="#dc985d" stroke-opacity="0.5" stroke-width="5.2" stroke-linejoin="round"/><polygon points="1539.8,820.6 1541.8,823.8 1543.9,825.8 1548.1,830 1552.3,834.5 1556.5,836.8 1559.7,839.7 1563.9,843.3 1569.1,847.8 1570.2,848.3 1573.3,849.6 1574.4,850.2 1577.5,853 1579.6,854.8 1580.7,855.9 1583.8,860.9 1586.9,866.5 1590.1,871.7 1591.1,873.7 1593.2,878 1594.3,880.5 1596.4,886.1 1600.6,897.6 1601.6,900.4 1602.7,901.6 1605.8,903.5 1657.2,903.7 1657.2,903.7 1605.8,903.7 1602.7,903.7 1601.6,903.7 1600.6,903.7 1596.4,901.5 1594.3,901.1 1593.2,900.4 1591.1,893.2 1590.1,890.5 1586.9,884.9 1583.8,876.9 1580.7,870.2 1579.6,868.5 1577.5,866.1 1574.4,861.1 1573.3,860.1 1570.2,855.6 1569.1,854.4 1563.9,849.7 1559.7,847.9 1556.5,845 1552.3,840.3 1548.1,835.4 1543.9,827.3 1541.8,823.8 1539.8,820.6" fill="#d6ecf3" stroke="#a5cfde" stroke-opacity="0.5" stroke-width="5.2" stroke-linejoin="round"/><path d="M1554.4 819.9V904M1569.1 819.9V904M1583.8 819.9V904M1613.2 819.9V904M1627.8 819.9V904M1534.3 883H1662.3M1534.3 862H1662.3M1534.3 840.9H1662.3" stroke="#b0b0b0" stroke-width="0.9" fill="none"/><path d="M1539.8 819.9V904M1598.5 819.9V904M1657.2 819.9V904" stroke="#ff0000" stroke-opacity="0.5" stroke-width="5.5" fill="none"/><path d="M1539.8 822.1H1541.8V825.4H1543.9V829.4H1546V833.6H1548.1V836.5H1550.2V838.6H1552.3V840.7H1554.4V842.6H1556.5V844.4H1558.6V846.1H1560.7V847.7H1562.8V848.4H1564.9V849.1H1567V849.8H1569.1V851.4H1571.2V853.2H1573.3V854.9H1575.4V858.2H1577.5V862.5H1579.6V866.2H1581.7V869.3H1583.8V872.7H1585.9V876.9H1588V881.3H1590.1V886.6H1592.2V891.8H1594.3V900.2H1596.4V902.1H1598.5V903.4H1657.2V903.7" fill="none" stroke="#000" stroke-width="8.4" stroke-linejoin="round" stroke-linecap="round"/></g><path d="M1554.4 904v11M1569.1 904v11M1583.8 904v11M1613.2 904v11M1627.8 904v11M1642.5 904v11M1534.3 883h-11M1534.3 862h-11M1534.3 840.9h-11" stroke="#000" stroke-width="3.3" fill="none"/><path d="M1539.8 904v18M1598.5 904v18M1657.2 904v18M1534.3 904h-18.7M1534.3 819.9h-18.7" stroke="#ff0000" stroke-width="4.5" fill="none"/><rect x="1534.3" y="819.9" width="128" height="84.1" fill="none" stroke="#ff0000" stroke-width="5.5"/></g>
<g><clipPath id="c5_8"><rect x="1713.7" y="819.9" width="128" height="84.1"/></clipPath><g clip-path="url(#c5_8)"><polygon points="1719.2,820.6 1723.3,824.3 1728.6,825.6 1730.7,826.1 1733.8,826.9 1735.9,827.4 1738,827.9 1744.3,829.2 1748.5,830.1 1749.6,830.4 1750.6,830.6 1751.7,830.8 1755.9,831.8 1758,832.4 1760.1,832.9 1764.2,833.9 1766.3,835 1767.4,836.2 1768.4,837.1 1769.5,838 1771.6,839.7 1772.6,842.8 1773.7,848.1 1778.9,866.5 1781,873.9 1782.1,875.2 1783.1,874 1787.3,878.2 1788.4,879.9 1790.5,885.3 1792.6,889.7 1795.7,898.1 1797.8,902.9 1798.9,903.7 1836.6,903.7 1836.6,903.7 1798.9,903.7 1797.8,903.7 1795.7,903.7 1792.6,903.7 1790.5,903.7 1788.4,903.7 1787.3,903.7 1783.1,903.7 1782.1,903.7 1781,903.7 1778.9,901.1 1773.7,901.1 1772.6,901.1 1771.6,901.1 1769.5,901.1 1768.4,900.6 1767.4,897.7 1766.3,895.7 1764.2,892.1 1760.1,883.1 1758,877.2 1755.9,872 1751.7,859.2 1750.6,857.1 1749.6,857.9 1748.5,858.2 1744.3,855.4 1738,849.9 1735.9,847.6 1733.8,842.2 1730.7,835.9 1728.6,832.8 1723.3,824.4 1719.2,820.6" fill="#8fbbd9" stroke="#1f77b4" stroke-opacity="0.5" stroke-width="5.2" stroke-linejoin="round"/><polygon points="1719.2,820.6 1723.3,824.3 1729.6,826.5 1735.9,828.5 1738,829.1 1740.1,829.8 1747.5,832.1 1749.6,832.8 1750.6,833.1 1751.7,833.5 1752.7,833.8 1753.8,834.2 1756.9,836.3 1760.1,838.1 1762.1,839.2 1763.2,840.2 1764.2,842.3 1767.4,850.8 1769.5,856.4 1770.5,859.2 1771.6,862.1 1773.7,867.1 1776.8,873.8 1777.9,875.2 1778.9,875.4 1781,878 1782.1,880.2 1786.3,891.8 1788.4,898.1 1789.4,900.5 1790.5,902.3 1791.5,903.5 1836.6,903.7 1836.6,903.7 1791.5,903.7 1790.5,903.7 1789.4,903.7 1788.4,903.7 1786.3,903.7 1782.1,903.7 1781,903.7 1778.9,901.1 1777.9,901.1 1776.8,901.1 1773.7,901.1 1771.6,901.1 1770.5,900.6 1769.5,898 1767.4,893.8 1764.2,886.6 1763.2,884.2 1762.1,881.5 1760.1,875.6 1756.9,868.1 1753.8,859.8 1752.7,858.3 1751.7,858.2 1750.6,857.1 1749.6,857.1 1747.5,855.6 1740.1,848.1 1738,843.6 1735.9,839.5 1729.6,832.7 1723.3,824.4 1719.2,820.6" fill="#ffd9b7" stroke="#dc985d" stroke-opacity="0.5" stroke-width="5.2" stroke-linejoin="round"/><polygon points="1719.2,820.6 1723.3,824.3 1730.7,827.8 1737,830.5 1739.1,831.5 1740.1,832 1744.3,833.7 1750.6,837.2 1752.7,838.1 1754.8,838.9 1755.9,839.4 1756.9,840.3 1760.1,846.1 1762.1,850.9 1765.3,858.1 1768.4,865.1 1772.6,872 1774.7,875.3 1775.8,876.8 1776.8,879 1778.9,885.3 1781,892.1 1782.1,895.8 1783.1,898.8 1785.2,902.5 1786.3,903.6 1836.6,903.7 1836.6,903.7 1786.3,903.7 1785.2,903.7 1783.1,903.7 1782.1,903.7 1781,903.7 1778.9,901.1 1776.8,901.1 1775.8,901.1 1774.7,901.1 1772.6,900.7 1768.4,891 1765.3,882.9 1762.1,873.8 1760.1,869.7 1756.9,863 1755.9,860.3 1754.8,858.4 1752.7,857.6 1750.6,855.7 1744.3,848.6 1740.1,840.6 1739.1,839.3 1737,837.9 1730.7,832.6 1723.3,824.4 1719.2,820.6" fill="#d6ecf3" stroke="#a5cfde" stroke-opacity="0.5" stroke-width="5.2" stroke-linejoin="round"/><path d="M1733.8 819.9V904M1763.2 819.9V904M1807.2 819.9V904M1821.9 819.9V904M1713.7 883H1841.7M1713.7 862H1841.7M1713.7 840.9H1841.7" stroke="#b0b0b0" stroke-width="0.9" fill="none"/><path d="M1719.2 819.9V904M1777.9 819.9V904M1836.6 819.9V904" stroke="#ff0000" stroke-opacity="0.5" stroke-width="5.5" fill="none"/><path d="M1719.2 821.5H1721.2V823.4H1723.3V825.3H1725.4V827H1727.5V828.6H1729.6V830.2H1731.7V831.7H1733.8V833.1H1735.9V834.2H1738V835.3H1740.1V836.3H1742.2V837.4H1744.3V838.1H1746.4V838.7H1748.5V839.4H1750.6V842H1752.7V845.1H1754.8V848.8H1756.9V853H1759V857.2H1761.1V861.4H1763.2V865.3H1765.3V868.1H1767.4V870.9H1769.5V873.7H1771.6V880.7H1773.7V888.2H1775.8V896.6H1777.9V901H1780V903.7H1836.6" fill="none" stroke="#000" stroke-width="8.4" stroke-linejoin="round" stroke-linecap="round"/></g><path d="M1733.8 904v11M1748.5 904v11M1763.2 904v11M1792.6 904v11M1807.2 904v11M1821.9 904v11M1713.7 883h-11M1713.7 862h-11M1713.7 840.9h-11" stroke="#000" stroke-width="3.3" fill="none"/><path d="M1719.2 904v18M1777.9 904v18M1836.6 904v18M1713.7 904h-18.7M1713.7 819.9h-18.7" stroke="#ff0000" stroke-width="4.5" fill="none"/><rect x="1713.7" y="819.9" width="128" height="84.1" fill="none" stroke="#ff0000" stroke-width="5.5"/></g>
<g><clipPath id="c5_9"><rect x="1893.1" y="819.9" width="128" height="84.1"/></clipPath><g clip-path="url(#c5_9)"><polygon points="1898.6,820.6 1899.6,820.9 1904.8,826.4 1906.9,827.7 1913.2,831.2 1914.3,832.4 1916.4,834.7 1917.4,835.7 1921.6,839.9 1922.7,840.4 1924.8,840.5 1927.9,841.3 1929,841.6 1930,841.8 1931.1,842.1 1935.3,843.1 1936.3,844.6 1937.4,848.9 1939.5,853.6 1942.6,860.2 1943.6,861.6 1945.7,864.8 1948.9,870.1 1949.9,871.2 1951,871.6 1955.2,875.8 1956.2,877.9 1957.3,883 1961.5,897.6 1962.5,899.5 1963.6,902.1 1964.6,903.7 2016,903.7 2016,903.7 1964.6,903.7 1963.6,903.7 1962.5,903.7 1961.5,903.7 1957.3,902.3 1956.2,901.1 1955.2,901.1 1951,901.1 1949.9,901.1 1948.9,901.1 1945.7,900.9 1943.6,897 1942.6,894.4 1939.5,887.4 1937.4,880.2 1936.3,877.1 1935.3,873.9 1931.1,860.6 1930,858.1 1929,859.4 1927.9,859.8 1924.8,858.2 1922.7,856.7 1921.6,855.3 1917.4,851.1 1916.4,849.5 1914.3,844.1 1913.2,842 1906.9,829.5 1904.8,826.4 1899.6,820.9 1898.6,820.6" fill="#8fbbd9" stroke="#1f77b4" stroke-opacity="0.5" stroke-width="5.2" stroke-linejoin="round"/><polygon points="1898.6,820.6 1899.6,820.9 1904.8,826.4 1909,829.5 1911.1,831.1 1916.4,837.2 1918.5,839.7 1919.5,840.4 1921.6,840.9 1924.8,842.1 1925.8,842.5 1927.9,843.6 1929,845.5 1930,847.5 1931.1,849.2 1932.1,850.6 1933.2,852 1936.3,854.2 1937.4,855.8 1938.4,857.9 1941.5,863.2 1944.7,869.6 1945.7,871.2 1947.8,873.6 1949.9,876.6 1951,878.6 1954.1,886 1956.2,891.6 1957.3,894.4 1958.3,897 1960.4,901.2 1961.5,902.5 1963.6,903.6 2016,903.7 2016,903.7 1963.6,903.7 1961.5,903.7 1960.4,903.4 1958.3,902.7 1957.3,902.3 1956.2,901.1 1954.1,901.1 1951,901.1 1949.9,900.9 1947.8,897.2 1945.7,892.7 1944.7,890.5 1941.5,883.4 1938.4,876.9 1937.4,874.2 1936.3,871.1 1933.2,861.5 1932.1,860 1931.1,859.8 1930,858.1 1929,858.5 1927.9,857.8 1925.8,855.2 1924.8,854.2 1921.6,852.4 1919.5,850.6 1918.5,849.4 1916.4,846.3 1911.1,836.4 1909,832.8 1904.8,826.4 1899.6,820.9 1898.6,820.6" fill="#ffd9b7" stroke="#dc985d" stroke-opacity="0.5" stroke-width="5.2" stroke-linejoin="round"/><polygon points="1898.6,820.6 1899.6,820.9 1904.8,826.4 1910.1,831.5 1916.4,839.8 1917.4,840.5 1921.6,843 1922.7,844.3 1923.7,846.2 1927.9,850.9 1929,851.9 1931.1,853 1934.2,854.6 1935.3,856.3 1938.4,861.8 1939.5,864.1 1941.5,869.1 1944.7,874.9 1951,885.6 1953.1,890.4 1956.2,897.2 1957.3,899.1 1958.3,901.1 1959.4,902.4 1962.5,903.6 2016,903.7 2016,903.7 1962.5,903.7 1959.4,903 1958.3,902.7 1957.3,902.3 1956.2,901.1 1953.1,900.9 1951,897.3 1944.7,884.5 1941.5,879.4 1939.5,875.7 1938.4,872.9 1935.3,863.3 1934.2,860.8 1931.1,858 1929,855.1 1927.9,854.2 1923.7,852.4 1922.7,851.8 1921.6,850.9 1917.4,846.5 1916.4,844.8 1910.1,833.9 1904.8,826.4 1899.6,820.9 1898.6,820.6" fill="#d6ecf3" stroke="#a5cfde" stroke-opacity="0.5" stroke-width="5.2" stroke-linejoin="round"/><path d="M1927.9 819.9V904M1942.6 819.9V904M1972 819.9V904M2001.3 819.9V904M1893.1 883H2021.1M1893.1 862H2021.1M1893.1 840.9H2021.1" stroke="#b0b0b0" stroke-width="0.9" fill="none"/><path d="M1898.6 819.9V904M1957.3 819.9V904M2016 819.9V904" stroke="#ff0000" stroke-opacity="0.5" stroke-width="5.5" fill="none"/><path d="M1898.6 820.9H1900.6V823.1H1902.7V825.2H1904.8V827.8H1906.9V830.6H1909V833.4H1911.1V836.5H1913.2V839.9H1915.3V843.4H1917.4V846.7H1919.5V848.4H1921.6V850.2H1923.7V851.9H1925.8V852.7H1927.9V853.4H1930V854.1H1932.1V856.7H1934.2V860.4H1936.3V865.2H1938.4V871.5H1940.5V876.8H1942.6V879.6H1944.7V882.4H1946.8V885.3H1948.9V889.5H1951V893.7H1953.1V897.4H1955.2V901.1H1957.3V902.7H1959.4V903.4H2016V903.7" fill="none" stroke="#000" stroke-width="8.4" stroke-linejoin="round" stroke-linecap="round"/></g><path d="M1913.2 904v11M1927.9 904v11M1942.6 904v11M1972 904v11M1986.6 904v11M2001.3 904v11M1893.1 883h-11M1893.1 862h-11M1893.1 840.9h-11" stroke="#000" stroke-width="3.3" fill="none"/><path d="M1898.6 904v18M1957.3 904v18M2016 904v18M1893.1 904h-18.7M1893.1 819.9h-18.7" stroke="#ff0000" stroke-width="4.5" fill="none"/><rect x="1893.1" y="819.9" width="128" height="84.1" fill="none" stroke="#ff0000" stroke-width="5.5"/></g>
<g><clipPath id="c5_10"><rect x="2072.5" y="819.9" width="128" height="84.1"/></clipPath><g clip-path="url(#c5_10)"><polygon points="2077.9,820.6 2082.1,824.2 2087.4,829.3 2089.5,831.2 2092.6,833.4 2094.7,835.8 2095.8,836.8 2097.9,838.9 2101,842 2102.1,842.7 2104.2,843.2 2110.5,845.7 2111.5,846.1 2112.6,846.6 2113.6,848.2 2114.7,851.9 2116.8,856.2 2118.9,860.4 2119.9,863.3 2122,870.9 2123,874.6 2124.1,878.3 2125.1,880.9 2126.2,880.8 2134.6,894.4 2136.7,897.9 2137.7,900.2 2138.8,902 2140.9,903.7 2195.4,903.7 2195.4,903.7 2140.9,903.7 2138.8,902 2137.7,901.2 2136.7,901.1 2134.6,901.1 2126.2,901.1 2125.1,900.8 2124.1,898.7 2123,895.6 2122,890.7 2119.9,883.8 2118.9,880 2116.8,871.5 2114.7,863.8 2113.6,860.1 2112.6,856.4 2111.5,854.3 2110.5,856.5 2104.2,853.5 2102.1,852 2101,850.6 2097.9,847.4 2095.8,844.8 2094.7,842.6 2092.6,838.9 2089.5,833.8 2087.4,831.4 2082.1,824.2 2077.9,820.6" fill="#8fbbd9" stroke="#1f77b4" stroke-opacity="0.5" stroke-width="5.2" stroke-linejoin="round"/><polygon points="2077.9,820.6 2083.2,825.1 2090.5,832.1 2094.7,836.7 2097.9,840.3 2100,842.4 2103.1,843.9 2107.3,846.2 2109.4,847.9 2110.5,848.6 2111.5,849.3 2112.6,850 2113.6,850.7 2114.7,852.7 2115.7,855 2117.8,859.7 2118.9,862.4 2122,874 2123,877.7 2124.1,880.8 2125.1,882 2127.2,886.6 2129.3,889.6 2131.4,892.1 2136.7,899.3 2137.7,900.8 2139.8,902.8 2140.9,903.7 2195.4,903.7 2195.4,903.7 2140.9,903.7 2139.8,902.8 2137.7,901.2 2136.7,901.1 2131.4,900.9 2129.3,897.8 2127.2,894.2 2125.1,890.7 2124.1,889 2123,887.4 2122,884 2118.9,872.4 2117.8,868.3 2115.7,860.8 2114.7,857.8 2113.6,856.5 2112.6,856.2 2111.5,854.3 2110.5,854.4 2109.4,853.5 2107.3,850.9 2103.1,848.6 2100,846.4 2097.9,844.1 2094.7,839.9 2090.5,833.8 2083.2,825.4 2077.9,820.6" fill="#ffd9b7" stroke="#dc985d" stroke-opacity="0.5" stroke-width="5.2" stroke-linejoin="round"/><polygon points="2077.9,820.6 2084.2,826.1 2091.6,833.3 2096.8,839.8 2098.9,842.2 2103.1,844.9 2108.4,848.3 2110.5,849.4 2112.6,850.4 2113.6,850.9 2114.7,853.1 2115.7,855.5 2116.8,858 2117.8,860.5 2118.9,863.7 2120.9,871.6 2123,879.2 2124.1,881.5 2126.2,886.9 2129.3,890.7 2134.6,896.9 2137.7,901 2140.9,903.7 2195.4,903.7 2195.4,903.7 2140.9,903.7 2137.7,901.2 2134.6,901 2129.3,893.9 2126.2,890 2124.1,887.4 2123,884.1 2120.9,876.9 2118.9,868.7 2117.8,864.7 2116.8,861.1 2115.7,858.3 2114.7,856.5 2113.6,855.5 2112.6,854.2 2110.5,851 2108.4,850 2103.1,847.6 2098.9,843.9 2096.8,841.8 2091.6,834.4 2084.2,826.3 2077.9,820.6" fill="#d6ecf3" stroke="#a5cfde" stroke-opacity="0.5" stroke-width="5.2" stroke-linejoin="round"/><path d="M2092.6 819.9V904M2122 819.9V904M2166 819.9V904M2072.5 883H2200.5M2072.5 862H2200.5M2072.5 840.9H2200.5" stroke="#b0b0b0" stroke-width="0.9" fill="none"/><path d="M2077.9 819.9V904M2136.7 819.9V904M2195.4 819.9V904" stroke="#ff0000" stroke-opacity="0.5" stroke-width="5.5" fill="none"/><path d="M2077.9 821.4H2080V823.3H2082.1V825.1H2084.2V827.2H2086.3V829.3H2088.4V831.4H2090.5V833.7H2092.6V836.5H2094.7V839.3H2096.8V842.1H2098.9V843.8H2101V845.5H2103.1V847.2H2105.2V848.2H2107.3V849H2109.4V849.8H2111.5V850.6H2113.6V853.5H2115.7V858.8H2117.8V865H2119.9V873.3H2122V880.8H2124.1V887.5H2126.2V889.6H2128.3V891.7H2130.4V893.8H2132.5V896.2H2134.6V898.8H2136.7V901.2H2138.8V902.8H2140.9V903.7H2195.4" fill="none" stroke="#000" stroke-width="8.4" stroke-linejoin="round" stroke-linecap="round"/></g><path d="M2092.6 904v11M2107.3 904v11M2122 904v11M2151.4 904v11M2166 904v11M2180.7 904v11M2072.5 883h-11M2072.5 862h-11M2072.5 840.9h-11" stroke="#000" stroke-width="3.3" fill="none"/><path d="M2077.9 904v18M2136.7 904v18M2195.4 904v18M2072.5 904h-18.7M2072.5 819.9h-18.7" stroke="#ff0000" stroke-width="4.5" fill="none"/><rect x="2072.5" y="819.9" width="128" height="84.1" fill="none" stroke="#ff0000" stroke-width="5.5"/></g>
<g><clipPath id="c6_0"><rect x="278.5" y="937.8" width="128" height="84.1"/></clipPath><g clip-path="url(#c6_0)"><polygon points="283.9,938.6 289.2,943 290.2,943.5 293.4,944.5 294.4,944.9 295.5,945.2 298.6,946.6 299.7,948.3 301.8,951.5 304.9,955.7 306,957.9 307,960.8 308.1,962.9 309.1,965 311.2,969.2 312.3,970.6 314.4,971.7 315.4,972.7 317.5,974.8 319.6,976.9 320.7,977.9 321.7,979.6 322.8,981.9 326.9,989 328,991.3 330.1,998.9 331.1,1002.1 336.4,1017.9 337.4,1020.7 338.5,1021.3 401.4,1021.3 401.4,1021.3 338.5,1021.3 337.4,1021.3 336.4,1021.3 331.1,1021.3 330.1,1020.6 328,1018.9 326.9,1018.7 322.8,1018.7 321.7,1018.7 320.7,1018.7 319.6,1018.2 317.5,1011.4 315.4,1006.7 314.4,1003.5 312.3,996.2 311.2,992.5 309.1,985.4 308.1,983.8 307,981.3 306,978.8 304.9,976.3 301.8,966.6 299.7,960.3 298.6,957.9 295.5,950.4 294.4,949.1 293.4,948.6 290.2,943.9 289.2,943 283.9,938.6" fill="#8fbbd9" stroke="#1f77b4" stroke-opacity="0.5" stroke-width="5.2" stroke-linejoin="round"/><polygon points="283.9,938.6 290.2,943.6 294.4,945.8 295.5,946.6 296.5,947.8 299.7,952.1 301.8,955.5 303.9,960 307,967.2 308.1,969.5 311.2,973.4 314.4,977.8 316.5,981.8 318.6,986 320.7,990.4 321.7,993.1 322.8,996.1 328,1010.3 330.1,1015.7 331.1,1017.8 333.2,1020.4 334.3,1021.2 401.4,1021.3 401.4,1021.3 334.3,1021.3 333.2,1021.3 331.1,1021.3 330.1,1020.6 328,1018.9 322.8,1018.2 321.7,1016.1 320.7,1013.3 318.6,1008.2 316.5,1002.6 314.4,996.3 311.2,987 308.1,980 307,977.7 303.9,969.7 301.8,963.9 299.7,958.5 296.5,951.6 295.5,949.8 294.4,948.8 290.2,943.9 283.9,938.6" fill="#ffd9b7" stroke="#dc985d" stroke-opacity="0.5" stroke-width="5.2" stroke-linejoin="round"/><polygon points="283.9,938.6 290.2,943.7 294.4,947 296.5,949.3 297.6,950.5 300.7,956.1 303.9,963.1 306,968.1 307,970.5 311.2,977.2 313.3,981.2 317.5,990.4 319.6,995.7 323.8,1006.7 324.9,1009.2 326.9,1014.2 328,1016.6 329,1018.2 331.1,1020.2 332.2,1021 345.8,1021.3 401.4,1021.3 401.4,1021.3 345.8,1021.3 332.2,1021.3 331.1,1021.3 329,1019.7 328,1018.9 326.9,1018.7 324.9,1018.1 323.8,1016.3 319.6,1006.3 317.5,1000.7 313.3,989.4 311.2,984.3 307,975.2 306,972.9 303.9,967.7 300.7,959.6 297.6,952.9 296.5,950.8 294.4,948.5 290.2,943.9 283.9,938.6" fill="#d6ecf3" stroke="#a5cfde" stroke-opacity="0.5" stroke-width="5.2" stroke-linejoin="round"/><path d="M298.6 937.8V1021.9M313.3 937.8V1021.9M357.4 937.8V1021.9M386.7 937.8V1021.9" stroke="#b0b0b0" stroke-width="0.9" fill="none"/><path d="M283.9 937.8V1021.9M342.7 937.8V1021.9M401.4 937.8V1021.9" stroke="#ff0000" stroke-opacity="0.5" stroke-width="5.5" fill="none"/><path d="M283.9 939.5H286V941.2H288.1V943H290.2V944.9H292.3V947H294.4V949.1H296.5V952H298.6V956.2H300.7V960.6H302.8V965.8H304.9V971H307V975.2H309.1V979.4H311.2V983.9H313.3V988.9H315.4V993.9H317.5V999.1H319.6V1004.3H321.7V1009.4H323.8V1014.1H325.9V1018H328V1019.7H330.1V1021.3H401.4" fill="none" stroke="#000" stroke-width="8.4" stroke-linejoin="round" stroke-linecap="round"/></g><path d="M298.6 1021.9v11M313.3 1021.9v11M328 1021.9v11M357.4 1021.9v11M372 1021.9v11M386.7 1021.9v11M278.5 1000.9h-11M278.5 979.8h-11M278.5 958.8h-11" stroke="#000" stroke-width="3.3" fill="none"/><path d="M283.9 1021.9v18M342.7 1021.9v18M401.4 1021.9v18M278.5 1021.9h-18.7M278.5 937.8h-18.7" stroke="#ff0000" stroke-width="4.5" fill="none"/><rect x="278.5" y="937.8" width="128" height="84.1" fill="none" stroke="#ff0000" stroke-width="5.5"/></g>
<g><clipPath id="c6_1"><rect x="457.9" y="937.8" width="128" height="84.1"/></clipPath><g clip-path="url(#c6_1)"><polygon points="463.3,938.6 468.6,942.9 470.7,944.2 474.9,945.9 475.9,946.7 478,950.8 480.1,954 483.3,958.7 484.3,960.3 485.4,961.4 486.4,962 490.6,966.1 492.7,968.2 495.9,972.1 498,974.7 500.1,977.3 502.2,980 503.2,981.5 506.3,987.3 509.5,992.6 512.6,999.2 514.7,1003.8 516.8,1009.7 518.9,1014.9 522.1,1021.3 580.8,1021.3 580.8,1021.3 522.1,1021.3 518.9,1021.3 516.8,1021.3 514.7,1021.3 512.6,1021.2 509.5,1018.7 506.3,1018.7 503.2,1018.6 502.2,1016.9 500.1,1008.6 498,1002.9 495.9,998.2 492.7,990.6 490.6,986.5 486.4,978.3 485.4,975.7 484.3,972.7 483.3,970.2 480.1,963 478,959.4 475.9,955.2 474.9,953.2 470.7,946.5 468.6,943 463.3,938.6" fill="#8fbbd9" stroke="#1f77b4" stroke-opacity="0.5" stroke-width="5.2" stroke-linejoin="round"/><polygon points="463.3,938.6 468.6,942.9 472.8,945.8 473.8,946.9 477,951.7 482.2,959.8 486.4,964.9 489.6,968.9 494.8,977 498,982.2 501.1,988.7 504.3,995.4 505.3,997.8 507.4,1002.6 509.5,1008 512.6,1015.4 513.7,1017.5 516.8,1021.1 580.8,1021.3 580.8,1021.3 516.8,1021.3 513.7,1021.3 512.6,1021.2 509.5,1018.7 507.4,1018.6 505.3,1018.1 504.3,1016.2 501.1,1007 498,999.1 494.8,991.6 489.6,980.6 486.4,973.7 482.2,964.9 477,955.6 473.8,950.6 472.8,949.1 468.6,943 463.3,938.6" fill="#ffd9b7" stroke="#dc985d" stroke-opacity="0.5" stroke-width="5.2" stroke-linejoin="round"/><polygon points="463.3,938.6 469.6,943.8 472.8,946.9 477,952.8 483.3,962.3 487.5,968.4 492.7,977.2 495.9,983.2 502.2,997.5 506.3,1007.8 507.4,1010.3 509.5,1015.1 510.5,1017.2 512.6,1019.5 514.7,1021.2 580.8,1021.3 580.8,1021.3 514.7,1021.3 512.6,1021.2 510.5,1019.5 509.5,1018.7 507.4,1018.4 506.3,1017 502.2,1006.5 495.9,991.1 492.7,984.1 487.5,973 483.3,965.2 477,954.6 472.8,948.5 469.6,944 463.3,938.6" fill="#d6ecf3" stroke="#a5cfde" stroke-opacity="0.5" stroke-width="5.2" stroke-linejoin="round"/><path d="M492.7 937.8V1021.9M507.4 937.8V1021.9M536.8 937.8V1021.9M551.4 937.8V1021.9" stroke="#b0b0b0" stroke-width="0.9" fill="none"/><path d="M463.3 937.8V1021.9M522.1 937.8V1021.9M580.8 937.8V1021.9" stroke="#ff0000" stroke-opacity="0.5" stroke-width="5.5" fill="none"/><path d="M463.3 939.5H465.4V941.2H467.5V942.9H469.6V945.2H471.7V947.9H473.8V950.7H475.9V953.7H478V957H480.1V960.4H482.2V963.8H484.3V967.2H486.4V970.5H488.5V974.6H490.6V978.8H492.7V983.1H494.8V988.1H496.9V993.2H499V998.3H501.1V1003.5H503.2V1008.6H505.3V1013.3H507.4V1017.7H509.5V1019.5H511.6V1021.2H580.8V1021.3" fill="none" stroke="#000" stroke-width="8.4" stroke-linejoin="round" stroke-linecap="round"/></g><path d="M478 1021.9v11M492.7 1021.9v11M507.4 1021.9v11M536.8 1021.9v11M551.4 1021.9v11M566.1 1021.9v11M457.9 1000.9h-11M457.9 979.8h-11M457.9 958.8h-11" stroke="#000" stroke-width="3.3" fill="none"/><path d="M463.3 1021.9v18M522.1 1021.9v18M580.8 1021.9v18M457.9 1021.9h-18.7M457.9 937.8h-18.7" stroke="#ff0000" stroke-width="4.5" fill="none"/><rect x="457.9" y="937.8" width="128" height="84.1" fill="none" stroke="#ff0000" stroke-width="5.5"/></g>
<g><clipPath id="c6_2"><rect x="637.3" y="937.8" width="128" height="84.1"/></clipPath><g clip-path="url(#c6_2)"><polygon points="642.8,938.6 645.9,941.1 648,941.7 653.2,942.2 655.3,942.4 659.5,942.7 661.6,943.2 665.8,944.3 667.9,944.8 672.1,945.8 678.4,948.2 679.5,948.6 680.5,949 681.6,949.4 682.6,949.8 684.7,950.7 688.9,955.3 692,958.5 693.1,959.5 694.1,961.2 696.2,966.5 707.8,989.7 712,999.9 714.1,1004.8 718.3,1012.8 721.4,1018.8 723.5,1021.3 760.2,1021.3 760.2,1021.3 723.5,1021.3 721.4,1021.3 718.3,1021.3 714.1,1021.3 712,1021.3 707.8,1021.3 696.2,1021.3 694.1,1021.3 693.1,1021.3 692,1021.1 688.9,1018.7 684.7,1018.7 682.6,1018.6 681.6,1016.3 680.5,1012 679.5,1008.1 678.4,1005.2 672.1,986.8 667.9,977.2 665.8,974.8 661.6,967.9 659.5,963.3 655.3,954.8 653.2,951.3 648,942.8 645.9,941.1 642.8,938.6" fill="#8fbbd9" stroke="#1f77b4" stroke-opacity="0.5" stroke-width="5.2" stroke-linejoin="round"/><polygon points="642.8,938.6 645.9,941.1 648,941.7 654.3,942.4 658.5,943.9 664.8,949.4 667.9,952.5 670,955.4 673.2,959.7 676.3,964 682.6,978.6 683.7,981.1 684.7,983.5 685.7,986 688.9,993.3 689.9,995.7 692,998.6 696.2,1004.2 697.3,1005.2 706.7,1010.1 715.1,1016.5 719.3,1021 725.6,1021.3 760.2,1021.3 760.2,1021.3 725.6,1021.3 719.3,1021.3 715.1,1021.3 706.7,1021.3 697.3,1021.3 696.2,1021.3 692,1021.1 689.9,1019.3 688.9,1018.7 685.7,1018.6 684.7,1017.9 683.7,1015.8 682.6,1012.5 676.3,995.1 673.2,985.9 670,978.5 667.9,975.2 664.8,969.9 658.5,958.4 654.3,951.5 648,942.8 645.9,941.1 642.8,938.6" fill="#ffd9b7" stroke="#dc985d" stroke-opacity="0.5" stroke-width="5.2" stroke-linejoin="round"/><polygon points="642.8,938.6 646.9,941.7 649,942.1 652.2,943.8 656.4,948.1 660.6,952.9 667.9,963.6 671.1,969.4 673.2,973.3 677.4,982.1 682.6,996.1 685.7,1002.3 686.8,1004.3 688.9,1006.9 692,1010.4 697.3,1017.6 701.5,1021.2 760.2,1021.3 760.2,1021.3 701.5,1021.3 697.3,1021.3 692,1021.1 688.9,1018.7 686.8,1018.2 685.7,1016.7 682.6,1008.8 677.4,995.1 673.2,983 671.1,978.4 667.9,972.9 660.6,960.2 656.4,953.4 652.2,947.9 649,943.8 646.9,942 642.8,938.6" fill="#d6ecf3" stroke="#a5cfde" stroke-opacity="0.5" stroke-width="5.2" stroke-linejoin="round"/><path d="M657.4 937.8V1021.9M686.8 937.8V1021.9M730.8 937.8V1021.9M745.5 937.8V1021.9" stroke="#b0b0b0" stroke-width="0.9" fill="none"/><path d="M642.8 937.8V1021.9M701.5 937.8V1021.9M760.2 937.8V1021.9" stroke="#ff0000" stroke-opacity="0.5" stroke-width="5.5" fill="none"/><path d="M642.8 939.5H644.8V941.1H646.9V942.8H649V944.8H651.1V947.3H653.2V949.7H655.3V952.3H657.4V955.4H659.5V958.5H661.6V961.7H663.7V965.2H665.8V968.7H667.9V972.2H670V976.2H672.1V980.4H674.2V985.8H676.3V992H678.4V997.9H680.5V1003.2H682.6V1008.3H684.7V1013H686.8V1017.6H688.9V1019.3H691V1021.1H760.2V1021.3" fill="none" stroke="#000" stroke-width="8.4" stroke-linejoin="round" stroke-linecap="round"/></g><path d="M657.4 1021.9v11M672.1 1021.9v11M686.8 1021.9v11M716.2 1021.9v11M730.8 1021.9v11M745.5 1021.9v11M637.3 1000.9h-11M637.3 979.8h-11M637.3 958.8h-11" stroke="#000" stroke-width="3.3" fill="none"/><path d="M642.8 1021.9v18M701.5 1021.9v18M760.2 1021.9v18M637.3 1021.9h-18.7M637.3 937.8h-18.7" stroke="#ff0000" stroke-width="4.5" fill="none"/><rect x="637.3" y="937.8" width="128" height="84.1" fill="none" stroke="#ff0000" stroke-width="5.5"/></g>
<g><clipPath id="c6_3"><rect x="816.7" y="937.8" width="128" height="84.1"/></clipPath><g clip-path="url(#c6_3)"><polygon points="822.2,938.6 827.4,943.1 829.5,943.8 831.6,944.6 833.7,945.3 836.8,946.3 838.9,946.9 842.1,947.9 845.2,948.8 848.4,950 849.4,951.4 850.5,952.4 855.7,957.1 857.8,959 858.9,960 859.9,961.3 862,964.2 863.1,965.5 864.1,966.8 868.3,971.9 872.5,975.8 873.5,976.9 877.7,981.2 886.1,992.1 887.2,994.9 888.2,998.9 894.5,1014.6 895.6,1016.9 898.7,1021.3 939.6,1021.3 939.6,1021.3 898.7,1021.3 895.6,1021.3 894.5,1021.3 888.2,1021.3 887.2,1021.3 886.1,1021.3 877.7,1021.2 873.5,1019.8 872.5,1018.7 868.3,1018.7 864.1,1018.7 863.1,1017.4 862,1014.5 859.9,1011.2 858.9,1008.6 857.8,1005 855.7,999.6 850.5,983.9 849.4,981.9 848.4,980.8 845.2,974.5 842.1,969.8 838.9,964.5 836.8,958.5 833.7,951.2 831.6,948.8 829.5,945.7 827.4,943.1 822.2,938.6" fill="#8fbbd9" stroke="#1f77b4" stroke-opacity="0.5" stroke-width="5.2" stroke-linejoin="round"/><polygon points="822.2,938.6 827.4,943.1 829.5,943.8 833.7,945.3 836.8,946.3 837.9,946.7 840,948.8 845.2,954 849.4,958.9 852.6,962.6 853.6,963.9 857.8,969 863.1,977.8 864.1,979.5 865.1,981.8 867.2,986.7 869.3,991.6 872.5,998.5 873.5,1000.6 877.7,1009 879.8,1010.7 895.6,1020.9 897.7,1021.3 939.6,1021.3 939.6,1021.3 897.7,1021.3 895.6,1021.3 879.8,1021.3 877.7,1021.2 873.5,1019.8 872.5,1018.7 869.3,1018.6 867.2,1018.2 865.1,1014.1 864.1,1012.4 863.1,1010.3 857.8,996.3 853.6,984.5 852.6,982.2 849.4,976.6 845.2,971.1 840,964.1 837.9,959.5 836.8,957.3 833.7,951.2 829.5,945.7 827.4,943.1 822.2,938.6" fill="#ffd9b7" stroke="#dc985d" stroke-opacity="0.5" stroke-width="5.2" stroke-linejoin="round"/><polygon points="822.2,938.6 827.4,943.1 830.5,944.9 833.7,947 837.9,951.9 841,956 847.3,964.8 852.6,970.6 855.7,974.4 857.8,976.9 858.9,978.5 863.1,988.4 866.2,996 869.3,1003.1 870.4,1005.5 872.5,1009.8 873.5,1011 878.8,1016.4 881.9,1019.7 886.1,1021.3 939.6,1021.3 939.6,1021.3 886.1,1021.3 881.9,1021.3 878.8,1021.3 873.5,1019.8 872.5,1018.7 870.4,1018.6 869.3,1017.3 866.2,1011.4 863.1,1003.4 858.9,992.5 857.8,989.8 855.7,984.3 852.6,977.6 847.3,971.6 841,964.4 837.9,958.6 833.7,951.2 830.5,947.1 827.4,943.1 822.2,938.6" fill="#d6ecf3" stroke="#a5cfde" stroke-opacity="0.5" stroke-width="5.2" stroke-linejoin="round"/><path d="M851.5 937.8V1021.9M866.2 937.8V1021.9M895.6 937.8V1021.9M924.9 937.8V1021.9" stroke="#b0b0b0" stroke-width="0.9" fill="none"/><path d="M822.2 937.8V1021.9M880.9 937.8V1021.9M939.6 937.8V1021.9" stroke="#ff0000" stroke-opacity="0.5" stroke-width="5.5" fill="none"/><path d="M822.2 939.5H824.2V941.3H826.3V943.1H828.4V945.6H830.5V948.4H832.6V951.2H834.7V954.3H836.8V957.8H838.9V961.3H841V964.6H843.1V966.7H845.2V968.8H847.3V970.9H849.4V972.9H851.5V975H853.6V977.1H855.7V981.4H857.8V986.7H859.9V991.9H862V997.1H864.1V1002.4H866.2V1007.6H868.3V1012.5H870.4V1016.2H872.5V1019.8H874.6V1020.5H876.7V1021.2H939.6V1021.3" fill="none" stroke="#000" stroke-width="8.4" stroke-linejoin="round" stroke-linecap="round"/></g><path d="M836.8 1021.9v11M851.5 1021.9v11M866.2 1021.9v11M895.6 1021.9v11M910.2 1021.9v11M924.9 1021.9v11M816.7 1000.9h-11M816.7 979.8h-11M816.7 958.8h-11" stroke="#000" stroke-width="3.3" fill="none"/><path d="M822.2 1021.9v18M880.9 1021.9v18M939.6 1021.9v18M816.7 1021.9h-18.7M816.7 937.8h-18.7" stroke="#ff0000" stroke-width="4.5" fill="none"/><rect x="816.7" y="937.8" width="128" height="84.1" fill="none" stroke="#ff0000" stroke-width="5.5"/></g>
<g><clipPath id="c6_4"><rect x="996.1" y="937.8" width="128" height="84.1"/></clipPath><g clip-path="url(#c6_4)"><polygon points="1001.6,938.6 1005.7,941.9 1006.8,942.1 1009.9,942.6 1011,942.7 1012,942.9 1014.1,943.2 1016.2,943.5 1017.3,943.7 1021.5,944.4 1022.5,944.6 1024.6,944.9 1026.7,945.3 1028.8,945.7 1033,946.7 1036.2,948.3 1038.3,949.4 1040.4,950.4 1041.4,951.6 1042.5,954.3 1043.5,956.3 1044.5,958.1 1048.7,964.8 1054,972.5 1056.1,975.7 1057.1,977.8 1059.2,983.7 1063.4,993.4 1067.6,1001.4 1070.8,1008.1 1073.9,1016.5 1075,1018.9 1077.1,1021.1 1091.7,1021.3 1119,1021.3 1119,1021.3 1091.7,1021.3 1077.1,1021.3 1075,1021.3 1073.9,1021.3 1070.8,1021.3 1067.6,1021.3 1063.4,1021.3 1059.2,1021.3 1057.1,1021 1056.1,1020.1 1054,1018.7 1048.7,1018.7 1044.5,1018.7 1043.5,1018.1 1042.5,1016.8 1041.4,1014.1 1040.4,1010.4 1038.3,1005.7 1036.2,1000.2 1033,992.6 1028.8,985.1 1026.7,983.5 1024.6,981 1022.5,978.1 1021.5,975.9 1017.3,968.8 1016.2,966.6 1014.1,959 1012,952.7 1011,950.3 1009.9,949.4 1006.8,943.1 1005.7,942.1 1001.6,938.6" fill="#8fbbd9" stroke="#1f77b4" stroke-opacity="0.5" stroke-width="5.2" stroke-linejoin="round"/><polygon points="1001.6,938.6 1005.7,941.9 1006.8,942.2 1011,943.1 1012,943.3 1017.3,944.5 1020.4,945.3 1023.6,946.1 1025.7,947.2 1028.8,949.1 1030.9,950.4 1032,951.7 1033,953.5 1034.1,955.3 1037.2,959.8 1040.4,963.3 1042.5,965.7 1044.5,968.3 1045.6,969.7 1046.6,971.1 1047.7,972.9 1049.8,976.7 1054,987.3 1056.1,992.3 1057.1,994.7 1059.2,999.1 1063.4,1009 1066.6,1016.8 1067.6,1018.5 1069.7,1020.7 1071.8,1021.3 1119,1021.3 1119,1021.3 1071.8,1021.3 1069.7,1021.3 1067.6,1021.3 1066.6,1021.3 1063.4,1021.3 1059.2,1021.3 1057.1,1021 1056.1,1020.1 1054,1018.7 1049.8,1018.6 1047.7,1018.2 1046.6,1016.9 1045.6,1014.5 1044.5,1011.5 1042.5,1006.5 1040.4,1000.8 1037.2,992.6 1034.1,986.2 1033,984.5 1032,983.4 1030.9,981.9 1028.8,978.5 1025.7,972.1 1023.6,969 1020.4,964 1017.3,959.9 1012,950.5 1011,949.4 1006.8,943.1 1005.7,942.1 1001.6,938.6" fill="#ffd9b7" stroke="#dc985d" stroke-opacity="0.5" stroke-width="5.2" stroke-linejoin="round"/><polygon points="1001.6,938.6 1005.7,942 1007.8,943 1014.1,946.2 1019.4,951.1 1024.6,957.8 1026.7,960.1 1029.9,962.5 1032,964.1 1035.1,967.4 1037.2,969.6 1038.3,970.9 1040.4,975.1 1045.6,988.1 1049.8,998.9 1050.8,1001.7 1054,1009.9 1056.1,1014.8 1057.1,1017.1 1059.2,1019.3 1061.3,1021 1075,1021.3 1119,1021.3 1119,1021.3 1075,1021.3 1061.3,1021.3 1059.2,1021.3 1057.1,1021 1056.1,1020.1 1054,1018.7 1050.8,1018.2 1049.8,1017.1 1045.6,1007.2 1040.4,992.6 1038.3,987.9 1037.2,985.5 1035.1,981.9 1032,975.4 1029.9,971.1 1026.7,967.2 1024.6,964.6 1019.4,959.8 1014.1,952.4 1007.8,944.2 1005.7,942.1 1001.6,938.6" fill="#d6ecf3" stroke="#a5cfde" stroke-opacity="0.5" stroke-width="5.2" stroke-linejoin="round"/><path d="M1016.2 937.8V1021.9M1045.6 937.8V1021.9M1104.3 937.8V1021.9" stroke="#b0b0b0" stroke-width="0.9" fill="none"/><path d="M1001.6 937.8V1021.9M1060.3 937.8V1021.9M1119 937.8V1021.9" stroke="#ff0000" stroke-opacity="0.5" stroke-width="5.5" fill="none"/><path d="M1001.6 939.5H1003.6V941.3H1005.7V943H1007.8V945.2H1009.9V947.7H1012V950.1H1014.1V952.5H1016.2V955H1018.3V957.4H1020.4V959.7H1022.5V961.2H1024.6V962.6H1026.7V964H1028.8V966H1030.9V968.1H1033V970.2H1035.1V974.3H1037.2V979.5H1039.3V984.7H1041.4V990H1043.5V995.6H1045.6V1001.9H1047.7V1008H1049.8V1012.6H1051.9V1017.3H1054V1019.2H1056.1V1021H1119V1021.3" fill="none" stroke="#000" stroke-width="8.4" stroke-linejoin="round" stroke-linecap="round"/></g><path d="M1016.2 1021.9v11M1030.9 1021.9v11M1045.6 1021.9v11M1075 1021.9v11M1089.6 1021.9v11M1104.3 1021.9v11M996.1 1000.9h-11M996.1 979.8h-11M996.1 958.8h-11" stroke="#000" stroke-width="3.3" fill="none"/><path d="M1001.6 1021.9v18M1060.3 1021.9v18M1119 1021.9v18M996.1 1021.9h-18.7M996.1 937.8h-18.7" stroke="#ff0000" stroke-width="4.5" fill="none"/><rect x="996.1" y="937.8" width="128" height="84.1" fill="none" stroke="#ff0000" stroke-width="5.5"/></g>
<g><clipPath id="c6_5"><rect x="1175.5" y="937.8" width="128" height="84.1"/></clipPath><g clip-path="url(#c6_5)"><polygon points="1181,938.6 1186.2,942.9 1189.3,946.1 1190.4,946.7 1192.5,947.9 1195.6,949.6 1197.7,950.7 1198.8,951.5 1207.2,958.1 1208.2,959.2 1210.3,961.4 1211.4,962.5 1213.5,964.6 1214.5,966.4 1215.6,968.8 1218.7,974.1 1219.8,975.9 1220.8,978.1 1222.9,983.8 1225,988.6 1227.1,993.6 1230.2,1003.6 1232.3,1009.8 1234.4,1014.4 1236.5,1019.4 1237.6,1021.3 1298.4,1021.3 1298.4,1021.3 1237.6,1021.3 1236.5,1021.3 1234.4,1020.4 1232.3,1019.2 1230.2,1018.7 1227.1,1018.7 1225,1018.4 1222.9,1013.8 1220.8,1010.2 1219.8,1007.3 1218.7,1004.1 1215.6,996.5 1214.5,993.4 1213.5,989.9 1211.4,983.7 1210.3,981.3 1208.2,980.8 1207.2,979.6 1198.8,968.5 1197.7,966.4 1195.6,960.1 1192.5,952.7 1190.4,950.1 1189.3,948.4 1186.2,943.1 1181,938.6" fill="#8fbbd9" stroke="#1f77b4" stroke-opacity="0.5" stroke-width="5.2" stroke-linejoin="round"/><polygon points="1181,938.6 1186.2,942.9 1190.4,947 1193.5,949.3 1196.7,951.9 1197.7,953 1203,958.4 1206.1,962.1 1210.3,965.7 1211.4,966.9 1212.4,968.6 1213.5,970.1 1215.6,973.1 1217.7,977.3 1221.9,987.8 1222.9,990.3 1223.9,992.9 1227.1,1002.2 1228.1,1005.3 1229.2,1008.4 1231.3,1013.1 1233.4,1017.7 1234.4,1019.2 1236.5,1021.1 1243.9,1021.3 1298.4,1021.3 1298.4,1021.3 1243.9,1021.3 1236.5,1021.3 1234.4,1020.4 1233.4,1019.8 1231.3,1018.7 1229.2,1018.6 1228.1,1018.6 1227.1,1017.5 1223.9,1011.3 1222.9,1009 1221.9,1005.9 1217.7,994.6 1215.6,988.6 1213.5,982.9 1212.4,981.3 1211.4,980.7 1210.3,979.1 1206.1,972.5 1203,968.5 1197.7,961.1 1196.7,959.1 1193.5,953.1 1190.4,948.8 1186.2,943 1181,938.6" fill="#ffd9b7" stroke="#dc985d" stroke-opacity="0.5" stroke-width="5.2" stroke-linejoin="round"/><polygon points="1181,938.6 1187.2,943.8 1190.4,947.2 1194.6,951 1198.8,956 1199.8,957.2 1203,961.4 1205.1,963.1 1209.3,966.5 1210.3,967.8 1213.5,971.9 1214.5,973.4 1215.6,975.6 1222.9,993.8 1225,999.9 1228.1,1009.2 1229.2,1011.5 1230.2,1013.7 1232.3,1018.1 1234.4,1019.9 1236.5,1021.2 1298.4,1021.3 1298.4,1021.3 1236.5,1021.3 1234.4,1020.4 1232.3,1019.2 1230.2,1018.6 1229.2,1017.9 1228.1,1015.8 1225,1009.5 1222.9,1003.4 1215.6,983.5 1214.5,981.3 1213.5,980 1210.3,973.9 1209.3,972.4 1205.1,967 1203,964.9 1199.8,962.2 1198.8,960.7 1194.6,953.7 1190.4,948.1 1187.2,944.1 1181,938.6" fill="#d6ecf3" stroke="#a5cfde" stroke-opacity="0.5" stroke-width="5.2" stroke-linejoin="round"/><path d="M1195.6 937.8V1021.9M1210.3 937.8V1021.9M1269 937.8V1021.9" stroke="#b0b0b0" stroke-width="0.9" fill="none"/><path d="M1181 937.8V1021.9M1239.7 937.8V1021.9M1298.4 937.8V1021.9" stroke="#ff0000" stroke-opacity="0.5" stroke-width="5.5" fill="none"/><path d="M1181 939.5H1183V941.2H1185.1V942.9H1187.2V945H1189.3V947.5H1191.4V949.9H1193.5V952.6H1195.6V955.7H1197.7V958.9H1199.8V961.9H1201.9V963.3H1204V964.7H1206.1V966.1H1208.2V968.4H1210.3V970.9H1212.4V973.7H1214.5V979H1216.6V984.2H1218.7V989.5H1220.8V994.7H1222.9V1000.8H1225V1007H1227.1V1012.1H1229.2V1016.3H1231.3V1019.2H1233.4V1020.4H1235.5V1021.3H1298.4" fill="none" stroke="#000" stroke-width="8.4" stroke-linejoin="round" stroke-linecap="round"/></g><path d="M1195.6 1021.9v11M1210.3 1021.9v11M1225 1021.9v11M1254.4 1021.9v11M1269 1021.9v11M1283.7 1021.9v11M1175.5 1000.9h-11M1175.5 979.8h-11M1175.5 958.8h-11" stroke="#000" stroke-width="3.3" fill="none"/><path d="M1181 1021.9v18M1239.7 1021.9v18M1298.4 1021.9v18M1175.5 1021.9h-18.7M1175.5 937.8h-18.7" stroke="#ff0000" stroke-width="4.5" fill="none"/><rect x="1175.5" y="937.8" width="128" height="84.1" fill="none" stroke="#ff0000" stroke-width="5.5"/></g>
<g><clipPath id="c6_6"><rect x="1354.9" y="937.8" width="128" height="84.1"/></clipPath><g clip-path="url(#c6_6)"><polygon points="1360.4,938.6 1366.6,944.3 1369.8,946.2 1370.8,946.7 1371.9,947.2 1375,948.8 1377.1,949.9 1380.3,951.9 1382.4,953.2 1383.4,953.9 1387.6,956.2 1388.7,956.7 1389.7,957.3 1393.9,959.4 1395,960.3 1397.1,964.8 1400.2,970 1402.3,973.5 1404.4,977.1 1405.4,978.8 1407.5,982.4 1408.6,984.7 1410.7,991.9 1412.8,997.8 1413.8,1000.7 1417,1007.7 1420.1,1015 1423.3,1020.7 1424.3,1021.3 1477.8,1021.3 1477.8,1021.3 1424.3,1021.3 1423.3,1021.3 1420.1,1021.3 1417,1020.9 1413.8,1019.8 1412.8,1018.7 1410.7,1018.7 1408.6,1018.7 1407.5,1018.7 1405.4,1018.7 1404.4,1017.4 1402.3,1010.6 1400.2,1005.9 1397.1,997.7 1395,992.8 1393.9,991 1389.7,983.1 1388.7,982.2 1387.6,982 1383.4,977.9 1382.4,976.3 1380.3,970.9 1377.1,964.5 1375,959 1371.9,951.4 1370.8,949.7 1369.8,948.9 1366.6,944.4 1360.4,938.6" fill="#8fbbd9" stroke="#1f77b4" stroke-opacity="0.5" stroke-width="5.2" stroke-linejoin="round"/><polygon points="1360.4,938.6 1366.6,944.3 1371.9,948 1377.1,951.9 1384.5,957.7 1385.5,958.5 1387.6,960.2 1389.7,962.6 1391.8,965.2 1392.9,966.3 1397.1,971.2 1399.2,975.2 1401.3,979.4 1404.4,986.1 1407.5,993.9 1408.6,996.4 1412.8,1007 1413.8,1009.9 1415.9,1015 1418,1019.2 1420.1,1020.8 1423.3,1021.3 1477.8,1021.3 1477.8,1021.3 1423.3,1021.3 1420.1,1021.3 1418,1021.2 1415.9,1020.5 1413.8,1019.8 1412.8,1018.7 1408.6,1018.6 1407.5,1016.8 1404.4,1008.1 1401.3,999.6 1399.2,994.8 1397.1,990.7 1392.9,982.8 1391.8,982 1389.7,979.5 1387.6,976.3 1385.5,971.2 1384.5,969.6 1377.1,959.7 1371.9,950.4 1366.6,944.4 1360.4,938.6" fill="#ffd9b7" stroke="#dc985d" stroke-opacity="0.5" stroke-width="5.2" stroke-linejoin="round"/><polygon points="1360.4,938.6 1366.6,944.3 1372.9,949.4 1378.2,954.7 1388.7,964.7 1389.7,965.8 1391.8,967.8 1393.9,969.8 1395,970.9 1396,972.8 1402.3,986.6 1404.4,991.3 1408.6,1000.6 1410.7,1006.6 1412.8,1012.7 1413.8,1015.1 1415.9,1019.5 1419.1,1021 1442.2,1021.3 1477.8,1021.3 1477.8,1021.3 1442.2,1021.3 1419.1,1021.3 1415.9,1020.5 1413.8,1019.8 1412.8,1018.7 1410.7,1018.2 1408.6,1013.2 1404.4,1001 1402.3,996.2 1396,983.7 1395,982.1 1393.9,980.6 1391.8,976.9 1389.7,971.9 1388.7,970.2 1378.2,959.3 1372.9,951.3 1366.6,944.3 1360.4,938.6" fill="#d6ecf3" stroke="#a5cfde" stroke-opacity="0.5" stroke-width="5.2" stroke-linejoin="round"/><path d="M1389.7 937.8V1021.9M1433.8 937.8V1021.9M1463.1 937.8V1021.9" stroke="#b0b0b0" stroke-width="0.9" fill="none"/><path d="M1360.4 937.8V1021.9M1419.1 937.8V1021.9M1477.8 937.8V1021.9" stroke="#ff0000" stroke-opacity="0.5" stroke-width="5.5" fill="none"/><path d="M1360.4 939.5H1362.4V941.4H1364.5V943.3H1366.6V945.3H1368.7V947.4H1370.8V949.5H1372.9V952H1375V954.8H1377.1V957.6H1379.2V960.1H1381.3V961.8H1383.4V963.6H1385.5V965.3H1387.6V967.1H1389.7V968.8H1391.8V970.6H1393.9V975.1H1396V980.3H1398.1V984.9H1400.2V989.1H1402.3V993.3H1404.4V997.5H1406.5V1002.6H1408.6V1009.6H1410.7V1015.1H1412.8V1019.8H1414.9V1020.5H1417V1021.2H1477.8V1021.3" fill="none" stroke="#000" stroke-width="8.4" stroke-linejoin="round" stroke-linecap="round"/></g><path d="M1375 1021.9v11M1389.7 1021.9v11M1404.4 1021.9v11M1433.8 1021.9v11M1448.4 1021.9v11M1463.1 1021.9v11M1354.9 1000.9h-11M1354.9 979.8h-11M1354.9 958.8h-11" stroke="#000" stroke-width="3.3" fill="none"/><path d="M1360.4 1021.9v18M1419.1 1021.9v18M1477.8 1021.9v18M1354.9 1021.9h-18.7M1354.9 937.8h-18.7" stroke="#ff0000" stroke-width="4.5" fill="none"/><rect x="1354.9" y="937.8" width="128" height="84.1" fill="none" stroke="#ff0000" stroke-width="5.5"/></g>
<g><clipPath id="c6_7"><rect x="1534.3" y="937.8" width="128" height="84.1"/></clipPath><g clip-path="url(#c6_7)"><polygon points="1539.8,938.6 1543.9,942.3 1548.1,946.2 1549.2,946.8 1550.2,947.4 1551.3,948 1553.4,949.2 1554.4,949.7 1556.5,950.8 1557.6,951.1 1558.6,951.4 1559.7,951.7 1560.7,952 1564.9,953.3 1567,953.9 1569.1,954.6 1571.2,955.2 1574.4,956.1 1576.5,956.7 1578.6,957.4 1579.6,958.3 1580.7,960.6 1582.7,963.5 1583.8,964.9 1584.8,966.3 1585.9,968.2 1588,974.9 1590.1,980.2 1594.3,993.1 1595.3,995.4 1596.4,995.8 1600.6,1002.5 1601.6,1004.1 1604.8,1007.4 1606.9,1010 1607.9,1012.6 1609,1016.9 1610,1019.8 1611.1,1021.3 1657.2,1021.3 1657.2,1021.3 1611.1,1021.3 1610,1021.3 1609,1021.3 1607.9,1021.3 1606.9,1021.3 1604.8,1021.3 1601.6,1021.3 1600.6,1021.3 1596.4,1020 1595.3,1019.2 1594.3,1018.7 1590.1,1018.7 1588,1018.7 1585.9,1018.7 1584.8,1018.7 1583.8,1018.7 1582.7,1018.2 1580.7,1016 1579.6,1013.4 1578.6,1008.9 1576.5,1003.7 1574.4,997.2 1571.2,988.1 1569.1,986.8 1567,983.7 1564.9,982.1 1560.7,977.8 1559.7,975.7 1558.6,971.1 1557.6,967.3 1556.5,964.2 1554.4,958.4 1553.4,956.2 1551.3,950.9 1550.2,949.5 1549.2,949.3 1548.1,948 1543.9,942.3 1539.8,938.6" fill="#8fbbd9" stroke="#1f77b4" stroke-opacity="0.5" stroke-width="5.2" stroke-linejoin="round"/><polygon points="1539.8,938.6 1543.9,942.3 1548.1,946.2 1549.2,946.9 1551.3,948.2 1554.4,950.1 1557.6,951.4 1559.7,952.1 1560.7,952.5 1561.8,952.8 1562.8,953.2 1563.9,953.6 1568.1,955 1569.1,955.4 1571.2,956.1 1573.3,956.8 1575.4,957.5 1576.5,958.4 1580.7,963.6 1582.7,966.6 1583.8,969.1 1585.9,975.6 1588,981.2 1589,984.3 1593.2,994.8 1594.3,995.8 1596.4,999 1599.5,1004.4 1603.7,1009.8 1604.8,1012.4 1605.8,1016.1 1606.9,1019.1 1607.9,1020.5 1609,1021.3 1657.2,1021.3 1657.2,1021.3 1609,1021.3 1607.9,1021.3 1606.9,1021.3 1605.8,1021.3 1604.8,1021.3 1603.7,1021.3 1599.5,1021.1 1596.4,1020 1594.3,1018.7 1593.2,1018.7 1589,1018.6 1588,1018.6 1585.9,1018.6 1583.8,1016.5 1582.7,1014.6 1580.7,1007.7 1576.5,996 1575.4,993.1 1573.3,988.1 1571.2,986.3 1569.1,983.3 1568.1,982.3 1563.9,977.5 1562.8,974.9 1561.8,970.7 1560.7,967 1559.7,964.1 1557.6,960.3 1554.4,955.9 1551.3,950.5 1549.2,948.8 1548.1,947.6 1543.9,942.3 1539.8,938.6" fill="#ffd9b7" stroke="#dc985d" stroke-opacity="0.5" stroke-width="5.2" stroke-linejoin="round"/><polygon points="1539.8,938.6 1543.9,942.3 1549.2,947 1552.3,949.2 1555.5,951.2 1560.7,953.5 1562.8,954.4 1563.9,954.8 1564.9,955.3 1567,956.2 1568.1,956.6 1571.2,958.1 1572.3,958.9 1574.4,960.8 1576.5,962.7 1577.5,963.7 1578.6,965.2 1579.6,967.3 1581.7,973.8 1583.8,979.5 1585.9,985.2 1586.9,987.3 1588,989.4 1589,991.6 1590.1,993.9 1593.2,999 1594.3,1001.1 1596.4,1005.2 1598.5,1008.6 1599.5,1010.8 1601.6,1016.8 1602.7,1019.4 1604.8,1020.9 1606.9,1021.3 1657.2,1021.3 1657.2,1021.3 1606.9,1021.3 1604.8,1021.3 1602.7,1021.3 1601.6,1021.3 1599.5,1021.1 1598.5,1020.8 1596.4,1020 1594.3,1018.7 1593.2,1018.7 1590.1,1018.6 1589,1018.6 1588,1017.8 1586.9,1016.4 1585.9,1014.2 1583.8,1007.5 1581.7,1001.5 1579.6,996 1578.6,993.4 1577.5,990.9 1576.5,988.8 1574.4,986.5 1572.3,983.3 1571.2,982.1 1568.1,977.7 1567,975.1 1564.9,967.5 1563.9,964.5 1562.8,962.9 1560.7,960.5 1555.5,955.4 1552.3,951.3 1549.2,948.3 1543.9,942.3 1539.8,938.6" fill="#d6ecf3" stroke="#a5cfde" stroke-opacity="0.5" stroke-width="5.2" stroke-linejoin="round"/><path d="M1554.4 937.8V1021.9M1569.1 937.8V1021.9M1583.8 937.8V1021.9M1613.2 937.8V1021.9M1627.8 937.8V1021.9" stroke="#b0b0b0" stroke-width="0.9" fill="none"/><path d="M1539.8 937.8V1021.9M1598.5 937.8V1021.9M1657.2 937.8V1021.9" stroke="#ff0000" stroke-opacity="0.5" stroke-width="5.5" fill="none"/><path d="M1539.8 939.5H1541.8V941.3H1543.9V943.2H1546V945.2H1548.1V947.3H1550.2V949.4H1552.3V951.3H1554.4V953H1556.5V954.8H1558.6V956.3H1560.7V957.4H1562.8V958.5H1564.9V959.5H1567V960.9H1569.1V962.3H1571.2V963.7H1573.3V969.2H1575.4V976H1577.5V981.6H1579.6V986H1581.7V989.1H1583.8V992.6H1585.9V996.8H1588V1001.5H1590.1V1008.4H1592.2V1014.3H1594.3V1019.2H1596.4V1020.4H1598.5V1021.1H1657.2V1021.3" fill="none" stroke="#000" stroke-width="8.4" stroke-linejoin="round" stroke-linecap="round"/></g><path d="M1554.4 1021.9v11M1569.1 1021.9v11M1583.8 1021.9v11M1613.2 1021.9v11M1627.8 1021.9v11M1642.5 1021.9v11M1534.3 1000.9h-11M1534.3 979.8h-11M1534.3 958.8h-11" stroke="#000" stroke-width="3.3" fill="none"/><path d="M1539.8 1021.9v18M1598.5 1021.9v18M1657.2 1021.9v18M1534.3 1021.9h-18.7M1534.3 937.8h-18.7" stroke="#ff0000" stroke-width="4.5" fill="none"/><rect x="1534.3" y="937.8" width="128" height="84.1" fill="none" stroke="#ff0000" stroke-width="5.5"/></g>
<g><clipPath id="c6_8"><rect x="1713.7" y="937.8" width="128" height="84.1"/></clipPath><g clip-path="url(#c6_8)"><polygon points="1719.2,938.6 1723.3,942.2 1728.6,943.8 1730.7,944.3 1733.8,945.2 1735.9,946.7 1738,948 1743.3,951 1747.5,952.1 1748.5,952.5 1749.6,952.8 1751.7,953.4 1753.8,954.1 1754.8,955.1 1755.9,957 1756.9,958.2 1758,959.4 1760.1,961.9 1761.1,963.7 1763.2,968.8 1764.2,970.9 1767.4,977.3 1769.5,983.1 1770.5,985.7 1771.6,988.3 1775.8,1001.1 1776.8,1004.3 1777.9,1007.5 1781,1016.9 1782.1,1017.4 1783.1,1016.7 1787.3,1020.9 1836.6,1021.3 1836.6,1021.3 1787.3,1021 1783.1,1021 1782.1,1021 1781,1021 1777.9,1020.9 1776.8,1020.3 1775.8,1018.9 1771.6,1018.7 1770.5,1018.1 1769.5,1015 1767.4,1010.8 1764.2,1005.4 1763.2,1004.3 1761.1,1001.7 1760.1,1000.3 1758,997.6 1756.9,994.9 1755.9,990.8 1754.8,988.2 1753.8,985.5 1751.7,978.4 1749.6,970 1748.5,970.4 1747.5,971.5 1743.3,969 1738,965.1 1735.9,963.2 1733.8,958.3 1730.7,952.6 1728.6,949.8 1723.3,942.2 1719.2,938.6" fill="#8fbbd9" stroke="#1f77b4" stroke-opacity="0.5" stroke-width="5.2" stroke-linejoin="round"/><polygon points="1719.2,938.6 1723.3,942.2 1730.7,945.6 1737,950.5 1741.2,952.6 1744.3,954.3 1747.5,958.4 1748.5,959.6 1749.6,960.5 1751.7,962.4 1754.8,965.5 1756.9,967.8 1761.1,977.7 1765.3,988.4 1767.4,992.8 1771.6,1001.5 1772.6,1003.7 1773.7,1006.3 1775.8,1012.6 1776.8,1015.4 1777.9,1017.1 1780,1018.3 1782.1,1020.5 1784.2,1020.9 1836.6,1021.3 1836.6,1021.3 1784.2,1021 1782.1,1021 1780,1021 1777.9,1020.9 1776.8,1020.3 1775.8,1018.9 1773.7,1018.6 1772.6,1017.8 1771.6,1015.8 1767.4,1006.4 1765.3,1003.2 1761.1,997 1756.9,988.4 1754.8,982.8 1751.7,973.1 1749.6,970 1748.5,970 1747.5,968.9 1744.3,966.2 1741.2,964.1 1737,960 1730.7,950.7 1723.3,942.2 1719.2,938.6" fill="#ffd9b7" stroke="#dc985d" stroke-opacity="0.5" stroke-width="5.2" stroke-linejoin="round"/><polygon points="1719.2,938.6 1724.4,942.9 1728.6,945.3 1732.8,949 1738,953.1 1740.1,955 1743.3,959.1 1748.5,963.3 1751.7,965.7 1752.7,966.5 1753.8,967.4 1754.8,969.5 1758,977.9 1762.1,988.5 1768.4,999.8 1771.6,1005.8 1772.6,1008.9 1773.7,1012.1 1774.7,1015 1775.8,1016.8 1776.8,1017.5 1777.9,1018.6 1780,1020.7 1836.6,1021.3 1836.6,1021.3 1780,1021 1777.9,1020.9 1776.8,1020.3 1775.8,1018.9 1774.7,1018.6 1773.7,1017.7 1772.6,1016.1 1771.6,1014 1768.4,1005.9 1762.1,995.9 1758,988.5 1754.8,980.3 1753.8,977.3 1752.7,974.1 1751.7,971.6 1748.5,967.5 1743.3,964 1740.1,961.6 1738,959.9 1732.8,952.6 1728.6,947.7 1724.4,943.2 1719.2,938.6" fill="#d6ecf3" stroke="#a5cfde" stroke-opacity="0.5" stroke-width="5.2" stroke-linejoin="round"/><path d="M1733.8 937.8V1021.9M1763.2 937.8V1021.9M1807.2 937.8V1021.9M1821.9 937.8V1021.9" stroke="#b0b0b0" stroke-width="0.9" fill="none"/><path d="M1719.2 937.8V1021.9M1777.9 937.8V1021.9M1836.6 937.8V1021.9" stroke="#ff0000" stroke-opacity="0.5" stroke-width="5.5" fill="none"/><path d="M1719.2 939.5H1721.2V941.3H1723.3V943.1H1725.4V945.1H1727.5V947.2H1729.6V949.3H1731.7V951.7H1733.8V954.4H1735.9V957.2H1738V959.8H1740.1V961.2H1742.2V962.6H1744.3V964H1746.4V965.3H1748.5V966.5H1750.6V968.8H1752.7V975H1754.8V980.7H1756.9V985.9H1759V990.3H1761.1V993.5H1763.2V996.7H1765.3V1000.1H1767.4V1003.4H1769.5V1008.4H1771.6V1014.6H1773.7V1017.6H1775.8V1020.3H1777.9V1021H1836.6V1021.3" fill="none" stroke="#000" stroke-width="8.4" stroke-linejoin="round" stroke-linecap="round"/></g><path d="M1733.8 1021.9v11M1748.5 1021.9v11M1763.2 1021.9v11M1792.6 1021.9v11M1807.2 1021.9v11M1821.9 1021.9v11M1713.7 1000.9h-11M1713.7 979.8h-11M1713.7 958.8h-11" stroke="#000" stroke-width="3.3" fill="none"/><path d="M1719.2 1021.9v18M1777.9 1021.9v18M1836.6 1021.9v18M1713.7 1021.9h-18.7M1713.7 937.8h-18.7" stroke="#ff0000" stroke-width="4.5" fill="none"/><rect x="1713.7" y="937.8" width="128" height="84.1" fill="none" stroke="#ff0000" stroke-width="5.5"/></g>
<g><clipPath id="c6_9"><rect x="1893.1" y="937.8" width="128" height="84.1"/></clipPath><g clip-path="url(#c6_9)"><polygon points="1898.6,938.6 1899.6,939 1904.8,944.1 1908,946 1910.1,947 1911.1,947.6 1913.2,948.8 1914.3,949.8 1916.4,951.7 1917.4,952.7 1918.5,953.6 1919.5,954.5 1922.7,957 1925.8,958.3 1927.9,959.4 1929,959.9 1930,960.4 1931.1,961.1 1932.1,962.8 1933.2,965.1 1935.3,968.2 1937.4,971.3 1938.4,973.3 1939.5,975.9 1941.5,980.3 1943.6,984.5 1944.7,986.4 1946.8,988.4 1951,993.9 1952,996.3 1953.1,1000 1954.1,1003 1955.2,1005.6 1957.3,1012.4 1959.4,1020.7 1960.4,1021.3 2016,1021.3 2016,1021.3 1960.4,1021.3 1959.4,1021.3 1957.3,1020.7 1955.2,1019.9 1954.1,1019 1953.1,1018.7 1952,1018.7 1951,1018.7 1946.8,1018.7 1944.7,1018.7 1943.6,1018.5 1941.5,1013.8 1939.5,1010.3 1938.4,1007.3 1937.4,1003.8 1935.3,998.5 1933.2,992 1932.1,988.9 1931.1,985.8 1930,984 1929,985 1927.9,985.4 1925.8,984.3 1922.7,980.8 1919.5,977.7 1918.5,975.5 1917.4,971.6 1916.4,968.4 1914.3,962.9 1913.2,959.6 1911.1,953.2 1910.1,951 1908,948.3 1904.8,944.1 1899.6,939 1898.6,938.6" fill="#8fbbd9" stroke="#1f77b4" stroke-opacity="0.5" stroke-width="5.2" stroke-linejoin="round"/><polygon points="1898.6,938.6 1899.6,939 1904.8,944.1 1910.1,948.1 1911.1,949.1 1915.3,953.7 1918.5,957 1919.5,957.6 1920.6,958.4 1921.6,959.2 1922.7,960 1923.7,960.9 1926.9,964.7 1927.9,965.7 1929,966.6 1930,967.6 1931.1,968.4 1932.1,969.2 1933.2,970 1934.2,970.9 1935.3,972.6 1937.4,977.6 1941.5,986.9 1943.6,990.3 1945.7,994.2 1949.9,1004.4 1954.1,1013.1 1955.2,1015.7 1956.2,1018.2 1957.3,1020 1959.4,1021.1 2016,1021.3 2016,1021.3 1959.4,1021.3 1957.3,1020.7 1956.2,1020.3 1955.2,1019.9 1954.1,1019 1949.9,1018.7 1945.7,1018.4 1943.6,1014.2 1941.5,1010.6 1937.4,1000.2 1935.3,994.6 1934.2,991.3 1933.2,988.2 1932.1,985.7 1931.1,985.4 1930,984 1929,984.9 1927.9,984.1 1926.9,982.8 1923.7,979 1922.7,977.8 1921.6,975.8 1920.6,972.3 1919.5,970 1918.5,968.4 1915.3,963.4 1911.1,953 1910.1,951 1904.8,944.1 1899.6,939 1898.6,938.6" fill="#ffd9b7" stroke="#dc985d" stroke-opacity="0.5" stroke-width="5.2" stroke-linejoin="round"/><polygon points="1898.6,938.6 1899.6,939 1904.8,944.1 1910.1,949.3 1913.2,953.1 1916.4,957 1920.6,961.2 1922.7,963.7 1923.7,964.6 1924.8,965.4 1925.8,966.2 1926.9,967 1931.1,969.7 1932.1,970.3 1933.2,971.3 1934.2,973.4 1937.4,980.9 1939.5,986.3 1942.6,993.1 1945.7,1000.5 1948.9,1006.8 1953.1,1014.4 1954.1,1016.5 1955.2,1018.7 1956.2,1019.9 1959.4,1021.2 2016,1021.3 2016,1021.3 1959.4,1021.3 1956.2,1020.3 1955.2,1019.9 1954.1,1019 1953.1,1018.7 1948.9,1018.5 1945.7,1012.8 1942.6,1007.1 1939.5,1000.1 1937.4,995 1934.2,985.7 1933.2,985.3 1932.1,984.9 1931.1,983.7 1926.9,977.3 1925.8,974.8 1924.8,971.7 1923.7,970.3 1922.7,969.3 1920.6,967.5 1916.4,963.1 1913.2,956.8 1910.1,951 1904.8,944.1 1899.6,939 1898.6,938.6" fill="#d6ecf3" stroke="#a5cfde" stroke-opacity="0.5" stroke-width="5.2" stroke-linejoin="round"/><path d="M1927.9 937.8V1021.9M1942.6 937.8V1021.9M1972 937.8V1021.9M2001.3 937.8V1021.9" stroke="#b0b0b0" stroke-width="0.9" fill="none"/><path d="M1898.6 937.8V1021.9M1957.3 937.8V1021.9M2016 937.8V1021.9" stroke="#ff0000" stroke-opacity="0.5" stroke-width="5.5" fill="none"/><path d="M1898.6 939H1900.6V941H1902.7V943H1904.8V945.4H1906.9V948.2H1909V951H1911.1V953.9H1913.2V957.1H1915.3V960.2H1917.4V963.1H1919.5V964.5H1921.6V965.9H1923.7V967.3H1925.8V968.4H1927.9V969.5H1930V970.6H1932.1V974.3H1934.2V979.5H1936.3V985.2H1938.4V991.5H1940.5V997.2H1942.6V1001.4H1944.7V1005.4H1946.8V1008.5H1948.9V1011.7H1951V1015.3H1953.1V1019H1955.2V1020.3H1957.3V1021H2016V1021.3" fill="none" stroke="#000" stroke-width="8.4" stroke-linejoin="round" stroke-linecap="round"/></g><path d="M1913.2 1021.9v11M1927.9 1021.9v11M1942.6 1021.9v11M1972 1021.9v11M1986.6 1021.9v11M2001.3 1021.9v11M1893.1 1000.9h-11M1893.1 979.8h-11M1893.1 958.8h-11" stroke="#000" stroke-width="3.3" fill="none"/><path d="M1898.6 1021.9v18M1957.3 1021.9v18M2016 1021.9v18M1893.1 1021.9h-18.7M1893.1 937.8h-18.7" stroke="#ff0000" stroke-width="4.5" fill="none"/><rect x="1893.1" y="937.8" width="128" height="84.1" fill="none" stroke="#ff0000" stroke-width="5.5"/></g>
<g><clipPath id="c6_10"><rect x="2072.5" y="937.8" width="128" height="84.1"/></clipPath><g clip-path="url(#c6_10)"><polygon points="2077.9,938.6 2083.2,942.9 2085.3,945.2 2087.4,947.6 2088.4,948.2 2089.5,948.9 2092.6,951.1 2093.7,952.6 2096.8,956.9 2097.9,958.2 2098.9,959.5 2101,962.1 2102.1,962.8 2104.2,963.1 2106.3,964 2110.5,965.7 2111.5,966.1 2112.6,966.5 2113.6,968.1 2114.7,971.8 2116.8,976.1 2118.9,980.2 2119.9,983.1 2122,990.8 2123,994.5 2124.1,998.2 2125.1,1000.8 2126.2,1000.7 2131.4,1009.6 2134.6,1016.3 2135.6,1018.2 2137.7,1019.8 2144,1021.3 2195.4,1021.3 2195.4,1021.3 2144,1021.3 2137.7,1019.8 2135.6,1018.7 2134.6,1018.7 2131.4,1018.7 2126.2,1018.7 2125.1,1018.7 2124.1,1018.7 2123,1018.7 2122,1018 2119.9,1010.3 2118.9,1007.6 2116.8,1002.3 2114.7,995.7 2113.6,992.6 2112.6,989.4 2111.5,988.3 2110.5,989.7 2106.3,987.1 2104.2,985.2 2102.1,982.9 2101,981.9 2098.9,979.8 2097.9,977.4 2096.8,973.3 2093.7,964.9 2092.6,961.5 2089.5,952 2088.4,950.6 2087.4,950.1 2085.3,946.6 2083.2,943.1 2077.9,938.6" fill="#8fbbd9" stroke="#1f77b4" stroke-opacity="0.5" stroke-width="5.2" stroke-linejoin="round"/><polygon points="2077.9,938.6 2083.2,942.9 2085.3,945.2 2087.4,947.7 2089.5,949.5 2091.6,951.7 2094.7,956.3 2097.9,960.8 2098.9,962.3 2100,962.8 2101,963.3 2102.1,964 2103.1,964.6 2106.3,966.5 2108.4,969.2 2109.4,970.8 2110.5,971.8 2111.5,972.6 2112.6,973.5 2113.6,974.4 2114.7,976.2 2116.8,980.1 2117.8,982.5 2119.9,989.2 2123,998.9 2125.1,1002.4 2126.2,1004.5 2128.3,1008.3 2133.5,1015.9 2136.7,1019.1 2138.8,1020.1 2144,1021.3 2195.4,1021.3 2195.4,1021.3 2144,1021.3 2138.8,1020.1 2136.7,1019.1 2133.5,1018.7 2128.3,1018.6 2126.2,1018.6 2125.1,1017.7 2123,1013.1 2119.9,1006.3 2117.8,1000.7 2116.8,997.6 2114.7,991.5 2113.6,989.8 2112.6,989.4 2111.5,988.3 2110.5,988.2 2109.4,987.4 2108.4,986.4 2106.3,983.7 2103.1,980.1 2102.1,978.2 2101,975.4 2100,973.3 2098.9,972 2097.9,970.5 2094.7,964.6 2091.6,956.7 2089.5,951.7 2087.4,949.5 2085.3,946.2 2083.2,943 2077.9,938.6" fill="#ffd9b7" stroke="#dc985d" stroke-opacity="0.5" stroke-width="5.2" stroke-linejoin="round"/><polygon points="2077.9,938.6 2083.2,942.9 2085.3,945.2 2088.4,948.9 2090.5,951.3 2096.8,960.8 2097.9,962.4 2102.1,965.7 2104.2,967.5 2107.3,971.1 2109.4,972.4 2112.6,974.5 2114.7,978.2 2115.7,980.1 2116.8,982.2 2120.9,995 2123,1000.6 2124.1,1002.4 2126.2,1006.9 2129.3,1011.3 2131.4,1014 2133.5,1016.3 2136.7,1019.1 2138.8,1020.1 2144,1021.3 2195.4,1021.3 2195.4,1021.3 2144,1021.3 2138.8,1020.1 2136.7,1019.1 2133.5,1018.6 2131.4,1018.1 2129.3,1016 2126.2,1011.6 2124.1,1008.6 2123,1007 2120.9,1001.8 2116.8,990 2115.7,989.3 2114.7,987.8 2112.6,984.2 2109.4,979 2107.3,974.8 2104.2,972.4 2102.1,970.9 2097.9,965.9 2096.8,964.6 2090.5,952.8 2088.4,950 2085.3,945.6 2083.2,942.9 2077.9,938.6" fill="#d6ecf3" stroke="#a5cfde" stroke-opacity="0.5" stroke-width="5.2" stroke-linejoin="round"/><path d="M2092.6 937.8V1021.9M2122 937.8V1021.9M2166 937.8V1021.9" stroke="#b0b0b0" stroke-width="0.9" fill="none"/><path d="M2077.9 937.8V1021.9M2136.7 937.8V1021.9M2195.4 937.8V1021.9" stroke="#ff0000" stroke-opacity="0.5" stroke-width="5.5" fill="none"/><path d="M2077.9 939.4H2080V941.1H2082.1V942.9H2084.2V945.2H2086.3V948H2088.4V950.8H2090.5V953.9H2092.6V957.3H2094.7V960.8H2096.8V964.3H2098.9V966.4H2101V968.5H2103.1V970.6H2105.2V971.8H2107.3V972.8H2109.4V973.9H2111.5V976.4H2113.6V980.1H2115.7V984.8H2117.8V991H2119.9V997.1H2122V1002.3H2124.1V1007.4H2126.2V1009.9H2128.3V1012.4H2130.4V1014.8H2132.5V1016.6H2134.6V1018.2H2136.7V1019.8H2138.8V1020.4H2140.9V1021H2195.4V1021.3" fill="none" stroke="#000" stroke-width="8.4" stroke-linejoin="round" stroke-linecap="round"/></g><path d="M2092.6 1021.9v11M2107.3 1021.9v11M2122 1021.9v11M2151.4 1021.9v11M2166 1021.9v11M2180.7 1021.9v11M2072.5 1000.9h-11M2072.5 979.8h-11M2072.5 958.8h-11" stroke="#000" stroke-width="3.3" fill="none"/><path d="M2077.9 1021.9v18M2136.7 1021.9v18M2195.4 1021.9v18M2072.5 1021.9h-18.7M2072.5 937.8h-18.7" stroke="#ff0000" stroke-width="4.5" fill="none"/><rect x="2072.5" y="937.8" width="128" height="84.1" fill="none" stroke="#ff0000" stroke-width="5.5"/></g>
<g><clipPath id="c7_0"><rect x="278.5" y="1055.7" width="128" height="84.1"/></clipPath><g clip-path="url(#c7_0)"><polygon points="283.9,1056.1 290.2,1061.8 293.4,1063.2 294.4,1063.7 295.5,1064.2 296.5,1064.6 298.6,1066 300.7,1070.1 304.9,1076.4 306,1079 307,1082.4 309.1,1087.3 314.4,1099.5 315.4,1101.9 317.5,1106.8 318.6,1109.3 319.6,1112.1 321.7,1118.2 323.8,1123.8 325.9,1129.3 330.1,1139.1 401.4,1139.3 401.4,1139.3 330.1,1139.3 325.9,1138.2 323.8,1136.7 321.7,1136.7 319.6,1136.7 318.6,1135.8 317.5,1131.8 315.4,1127.3 314.4,1124.3 309.1,1105.7 307,1099.8 306,1096.9 304.9,1094 300.7,1081.6 298.6,1075.3 296.5,1069 295.5,1066.4 294.4,1065.5 293.4,1065.5 290.2,1062 283.9,1056.1" fill="#8fbbd9" stroke="#1f77b4" stroke-opacity="0.5" stroke-width="5.2" stroke-linejoin="round"/><polygon points="283.9,1056.1 290.2,1061.9 293.4,1063.7 295.5,1065 296.5,1065.8 297.6,1066.9 302.8,1076.4 308.1,1089.5 311.2,1096.9 315.4,1107.3 317.5,1113.2 320.7,1122.2 321.7,1125.2 323.8,1130.7 325.9,1134.9 326.9,1137.1 328,1138.3 331.1,1139.3 401.4,1139.3 401.4,1139.3 331.1,1139.3 328,1138.8 326.9,1138.5 325.9,1138.2 323.8,1136.7 321.7,1136.3 320.7,1134.3 317.5,1127 315.4,1120.4 311.2,1106.8 308.1,1098.2 302.8,1084.3 297.6,1070.5 296.5,1068 295.5,1066.4 293.4,1065 290.2,1062 283.9,1056.1" fill="#ffd9b7" stroke="#dc985d" stroke-opacity="0.5" stroke-width="5.2" stroke-linejoin="round"/><polygon points="283.9,1056.1 290.2,1061.9 295.5,1065.6 296.5,1066.6 297.6,1068 301.8,1076.3 311.2,1099.4 314.4,1107.6 318.6,1119.8 319.6,1122.9 321.7,1129 322.8,1131.3 325.9,1137.2 326.9,1138.2 330.1,1139.2 401.4,1139.3 401.4,1139.3 330.1,1139.3 326.9,1138.5 325.9,1138.2 322.8,1136 321.7,1133.9 319.6,1129.8 318.6,1126.9 314.4,1113.9 311.2,1104.3 301.8,1080.1 297.6,1069.8 296.5,1067.6 295.5,1066.4 290.2,1062 283.9,1056.1" fill="#d6ecf3" stroke="#a5cfde" stroke-opacity="0.5" stroke-width="5.2" stroke-linejoin="round"/><path d="M298.6 1055.7V1139.8M313.3 1055.7V1139.8M357.4 1055.7V1139.8M386.7 1055.7V1139.8M278.5 1118.7H406.5M278.5 1097.7H406.5M278.5 1076.7H406.5" stroke="#b0b0b0" stroke-width="0.9" fill="none"/><path d="M283.9 1055.7V1139.8M342.7 1055.7V1139.8M401.4 1055.7V1139.8" stroke="#ff0000" stroke-opacity="0.5" stroke-width="5.5" fill="none"/><path d="M283.9 1057.1H286V1059.1H288.1V1061H290.2V1062.9H292.3V1064.6H294.4V1066.4H296.5V1069.2H298.6V1073.9H300.7V1078.8H302.8V1084H304.9V1089.2H307V1094.3H309.1V1099.3H311.2V1104.8H313.3V1111H315.4V1117.3H317.5V1123.6H319.6V1129.9H321.7V1133.6H323.8V1137.3H325.9V1138.5H328V1139.1H401.4V1139.3" fill="none" stroke="#000" stroke-width="8.4" stroke-linejoin="round" stroke-linecap="round"/></g><path d="M298.6 1139.8v11M313.3 1139.8v11M328 1139.8v11M357.4 1139.8v11M372 1139.8v11M386.7 1139.8v11M278.5 1118.7h-11M278.5 1097.7h-11M278.5 1076.7h-11" stroke="#000" stroke-width="3.3" fill="none"/><path d="M283.9 1139.8v18M342.7 1139.8v18M401.4 1139.8v18M278.5 1139.8h-18.7M278.5 1055.7h-18.7" stroke="#ff0000" stroke-width="4.5" fill="none"/><rect x="278.5" y="1055.7" width="128" height="84.1" fill="none" stroke="#ff0000" stroke-width="5.5"/></g>
<g><clipPath id="c7_1"><rect x="457.9" y="1055.7" width="128" height="84.1"/></clipPath><g clip-path="url(#c7_1)"><polygon points="463.3,1056.1 467.5,1060 469.6,1061.8 472.8,1063.2 473.8,1063.6 474.9,1064.1 477,1065 478,1065.7 480.1,1069.4 484.3,1075.2 486.4,1078.1 490.6,1085.8 492.7,1089.4 495.9,1095 496.9,1097.5 498,1100.6 499,1103 500.1,1105.4 502.2,1110.3 504.3,1117.1 507.4,1128.2 508.4,1130.9 509.5,1131.6 512.6,1137.9 513.7,1139.3 580.8,1139.3 580.8,1139.3 513.7,1139.3 512.6,1139.3 509.5,1139.3 508.4,1137.9 507.4,1136.7 504.3,1136.7 502.2,1136.7 500.1,1136.7 499,1135.2 498,1130.9 496.9,1127.9 495.9,1124.1 492.7,1115.3 490.6,1110.4 486.4,1100.5 484.3,1094.1 480.1,1082.3 478,1076.5 477,1073.6 474.9,1068.2 473.8,1067.3 472.8,1067.1 469.6,1062.9 467.5,1060 463.3,1056.1" fill="#8fbbd9" stroke="#1f77b4" stroke-opacity="0.5" stroke-width="5.2" stroke-linejoin="round"/><polygon points="463.3,1056.1 468.6,1060.9 473.8,1064.4 474.9,1065.1 475.9,1066 480.1,1071.9 485.4,1080 487.5,1084.1 490.6,1090 493.8,1096.2 499,1109.2 502.2,1118.9 503.2,1122.1 504.3,1125.2 506.3,1130.9 507.4,1132.3 509.5,1136.1 510.5,1137.9 511.6,1139.2 580.8,1139.3 580.8,1139.3 511.6,1139.3 510.5,1139.3 509.5,1139.3 507.4,1136.7 506.3,1136.7 504.3,1136.7 503.2,1135.7 502.2,1133.6 499,1125.1 493.8,1110.6 490.6,1102.8 487.5,1094.6 485.4,1089.6 480.1,1077.7 475.9,1069.1 474.9,1067.7 473.8,1067.1 468.6,1061.1 463.3,1056.1" fill="#ffd9b7" stroke="#dc985d" stroke-opacity="0.5" stroke-width="5.2" stroke-linejoin="round"/><polygon points="463.3,1056.1 470.7,1062.7 474.9,1066 475.9,1067.2 478,1070 483.3,1078.3 488.5,1088.2 491.7,1094.4 494.8,1102.1 498,1110 502.2,1122.6 504.3,1128.3 505.3,1130.9 506.3,1132.7 507.4,1134.5 509.5,1137.9 510.5,1139.2 580.8,1139.3 580.8,1139.3 510.5,1139.3 509.5,1139.3 507.4,1136.7 506.3,1136.7 505.3,1136 504.3,1134.3 502.2,1129.6 498,1118.2 494.8,1109.3 491.7,1101.4 488.5,1093.6 483.3,1082.2 478,1072.2 475.9,1068.6 474.9,1067.4 470.7,1063.2 463.3,1056.1" fill="#d6ecf3" stroke="#a5cfde" stroke-opacity="0.5" stroke-width="5.2" stroke-linejoin="round"/><path d="M492.7 1055.7V1139.8M507.4 1055.7V1139.8M536.8 1055.7V1139.8M551.4 1055.7V1139.8M457.9 1118.7H585.9M457.9 1097.7H585.9M457.9 1076.7H585.9" stroke="#b0b0b0" stroke-width="0.9" fill="none"/><path d="M463.3 1055.7V1139.8M522.1 1055.7V1139.8M580.8 1055.7V1139.8" stroke="#ff0000" stroke-opacity="0.5" stroke-width="5.5" fill="none"/><path d="M463.3 1057.1H465.4V1059H467.5V1060.9H469.6V1063H471.7V1065H473.8V1067.1H475.9V1069.6H478V1073.1H480.1V1076.6H482.2V1080.1H484.3V1084.3H486.4V1088.5H488.5V1092.7H490.6V1097.5H492.7V1102.6H494.8V1107.7H496.9V1114.1H499V1120.4H501.1V1125.7H503.2V1130.9H505.3V1134.7H507.4V1137.9H509.5V1139.3H580.8" fill="none" stroke="#000" stroke-width="8.4" stroke-linejoin="round" stroke-linecap="round"/></g><path d="M478 1139.8v11M492.7 1139.8v11M507.4 1139.8v11M536.8 1139.8v11M551.4 1139.8v11M566.1 1139.8v11M457.9 1118.7h-11M457.9 1097.7h-11M457.9 1076.7h-11" stroke="#000" stroke-width="3.3" fill="none"/><path d="M463.3 1139.8v18M522.1 1139.8v18M580.8 1139.8v18M457.9 1139.8h-18.7M457.9 1055.7h-18.7" stroke="#ff0000" stroke-width="4.5" fill="none"/><rect x="457.9" y="1055.7" width="128" height="84.1" fill="none" stroke="#ff0000" stroke-width="5.5"/></g>
<g><clipPath id="c7_2"><rect x="637.3" y="1055.7" width="128" height="84.1"/></clipPath><g clip-path="url(#c7_2)"><polygon points="642.8,1056.1 648,1060.8 650.1,1062.3 652.2,1063.2 654.3,1064.2 655.3,1064.6 659.5,1066.6 660.6,1068.3 661.6,1071.3 669,1084.3 674.2,1095 675.3,1097.1 676.3,1100 677.4,1103.6 678.4,1106.4 682.6,1117.8 686.8,1130.4 687.8,1132.5 688.9,1133.6 691,1137.8 692,1139.3 760.2,1139.3 760.2,1139.3 692,1139.3 691,1139.3 688.9,1139.3 687.8,1139.3 686.8,1138.8 682.6,1136.7 678.4,1136.7 677.4,1135.5 676.3,1132.4 675.3,1129.5 674.2,1125.3 669,1110.6 661.6,1090.1 660.6,1087.2 659.5,1084.2 655.3,1072.4 654.3,1070 652.2,1068 650.1,1064.5 648,1061 642.8,1056.1" fill="#8fbbd9" stroke="#1f77b4" stroke-opacity="0.5" stroke-width="5.2" stroke-linejoin="round"/><polygon points="642.8,1056.1 648,1060.8 653.2,1064.5 655.3,1065.8 656.4,1066.6 658.5,1069.6 662.7,1077.9 666.9,1086.5 672.1,1097.1 673.2,1099.8 676.3,1109.1 678.4,1115.1 679.5,1118.1 680.5,1121.3 681.6,1124.4 683.7,1130.2 684.7,1132.6 686.8,1136.5 687.8,1137.7 689.9,1139.2 760.2,1139.3 760.2,1139.3 689.9,1139.3 687.8,1139.3 686.8,1138.8 684.7,1137.7 683.7,1137.1 681.6,1136.7 680.5,1136.1 679.5,1134 678.4,1131.2 676.3,1125 673.2,1116 672.1,1112.9 666.9,1097.9 662.7,1088 658.5,1077.5 656.4,1072.1 655.3,1070.1 653.2,1067.8 648,1060.9 642.8,1056.1" fill="#ffd9b7" stroke="#dc985d" stroke-opacity="0.5" stroke-width="5.2" stroke-linejoin="round"/><polygon points="642.8,1056.1 649,1061.8 655.3,1067.2 656.4,1068.5 658.5,1071.7 662.7,1080.8 667.9,1091.8 670,1096 671.1,1098.3 678.4,1119.9 681.6,1128.8 682.6,1131.4 684.7,1135.9 685.7,1137.3 687.8,1138.7 688.9,1139.2 760.2,1139.3 760.2,1139.3 688.9,1139.3 687.8,1139.3 685.7,1138.2 684.7,1137.7 682.6,1136.7 681.6,1135.8 678.4,1127.8 671.1,1106.3 670,1103.2 667.9,1097.4 662.7,1086 658.5,1075.8 656.4,1071 655.3,1069.5 649,1062 642.8,1056.1" fill="#d6ecf3" stroke="#a5cfde" stroke-opacity="0.5" stroke-width="5.2" stroke-linejoin="round"/><path d="M657.4 1055.7V1139.8M686.8 1055.7V1139.8M730.8 1055.7V1139.8M745.5 1055.7V1139.8M637.3 1118.7H765.3M637.3 1097.7H765.3M637.3 1076.7H765.3" stroke="#b0b0b0" stroke-width="0.9" fill="none"/><path d="M642.8 1055.7V1139.8M701.5 1055.7V1139.8M760.2 1055.7V1139.8" stroke="#ff0000" stroke-opacity="0.5" stroke-width="5.5" fill="none"/><path d="M642.8 1057.1H644.8V1059H646.9V1060.8H649V1063H651.1V1065.4H653.2V1067.7H655.3V1070.1H657.4V1074.3H659.5V1079.3H661.6V1084.3H663.7V1088.6H665.8V1092.8H667.9V1097H670V1102.7H672.1V1109H674.2V1115.3H676.3V1121.6H678.4V1127.5H680.5V1132.7H682.6V1137.1H684.7V1138.2H686.8V1139.3H760.2" fill="none" stroke="#000" stroke-width="8.4" stroke-linejoin="round" stroke-linecap="round"/></g><path d="M657.4 1139.8v11M672.1 1139.8v11M686.8 1139.8v11M716.2 1139.8v11M730.8 1139.8v11M745.5 1139.8v11M637.3 1118.7h-11M637.3 1097.7h-11M637.3 1076.7h-11" stroke="#000" stroke-width="3.3" fill="none"/><path d="M642.8 1139.8v18M701.5 1139.8v18M760.2 1139.8v18M637.3 1139.8h-18.7M637.3 1055.7h-18.7" stroke="#ff0000" stroke-width="4.5" fill="none"/><rect x="637.3" y="1055.7" width="128" height="84.1" fill="none" stroke="#ff0000" stroke-width="5.5"/></g>
<g><clipPath id="c7_3"><rect x="816.7" y="1055.7" width="128" height="84.1"/></clipPath><g clip-path="url(#c7_3)"><polygon points="822.2,1056.1 828.4,1062.2 830.5,1064.3 831.6,1064.9 832.6,1065.5 833.7,1066.2 835.8,1067.4 836.8,1068.5 838.9,1072.2 848.4,1085.4 849.4,1086.9 850.5,1088.4 852.6,1091.4 853.6,1093.6 855.7,1101.2 857.8,1107.1 858.9,1110 859.9,1112.9 861,1115.8 862,1118.8 865.1,1127.2 867.2,1131.8 870.4,1139.3 939.6,1139.3 939.6,1139.3 870.4,1139.3 867.2,1137 865.1,1136.7 862,1136.7 861,1136 859.9,1132.7 858.9,1129.9 857.8,1125.9 855.7,1119.9 853.6,1113.8 852.6,1110.7 850.5,1104.4 849.4,1102.4 848.4,1101.3 838.9,1082.1 836.8,1076.7 835.8,1074.2 833.7,1069.2 832.6,1067.7 831.6,1067 830.5,1065.5 828.4,1062.3 822.2,1056.1" fill="#8fbbd9" stroke="#1f77b4" stroke-opacity="0.5" stroke-width="5.2" stroke-linejoin="round"/><polygon points="822.2,1056.1 829.5,1063.3 833.7,1066.7 835.8,1068.6 842.1,1078.2 848.4,1087.7 851.5,1092.7 852.6,1094.8 853.6,1097.7 855.7,1104.2 862,1122.4 863.1,1125.3 864.1,1128 867.2,1135.5 869.3,1138.2 870.4,1139.3 939.6,1139.3 939.6,1139.3 870.4,1139.3 869.3,1138.7 867.2,1137 864.1,1136.5 863.1,1135.1 862,1132.2 855.7,1113.8 853.6,1107.5 852.6,1104.4 851.5,1102.1 848.4,1095.2 842.1,1083.9 835.8,1071.8 833.7,1068.2 829.5,1063.5 822.2,1056.1" fill="#ffd9b7" stroke="#dc985d" stroke-opacity="0.5" stroke-width="5.2" stroke-linejoin="round"/><polygon points="822.2,1056.1 830.5,1064.3 834.7,1068 849.4,1090.6 850.5,1092.3 852.6,1096.4 853.6,1099.5 862,1124.3 864.1,1129.7 865.1,1132.5 866.2,1135 867.2,1136.5 870.4,1139.3 939.6,1139.3 939.6,1139.3 870.4,1139.3 867.2,1137 866.2,1136.7 865.1,1136.3 864.1,1134.8 862,1129.1 853.6,1104.3 852.6,1101.7 850.5,1096.5 849.4,1094.4 834.7,1069.1 830.5,1064.6 822.2,1056.1" fill="#d6ecf3" stroke="#a5cfde" stroke-opacity="0.5" stroke-width="5.2" stroke-linejoin="round"/><path d="M851.5 1055.7V1139.8M866.2 1055.7V1139.8M895.6 1055.7V1139.8M924.9 1055.7V1139.8M816.7 1118.7H944.7M816.7 1097.7H944.7M816.7 1076.7H944.7" stroke="#b0b0b0" stroke-width="0.9" fill="none"/><path d="M822.2 1055.7V1139.8M880.9 1055.7V1139.8M939.6 1055.7V1139.8" stroke="#ff0000" stroke-opacity="0.5" stroke-width="5.5" fill="none"/><path d="M822.2 1057.1H824.2V1059.2H826.3V1061.2H828.4V1063.3H830.5V1065.4H832.6V1067.5H834.7V1070.2H836.8V1073.5H838.9V1076.8H841V1080.2H843.1V1083.6H845.2V1086.9H847.3V1090.3H849.4V1093.6H851.5V1098H853.6V1104.3H855.7V1110.6H857.8V1116.9H859.9V1123.2H862V1128.9H864.1V1134.6H866.2V1137H868.3V1138.7H870.4V1139.3H939.6" fill="none" stroke="#000" stroke-width="8.4" stroke-linejoin="round" stroke-linecap="round"/></g><path d="M836.8 1139.8v11M851.5 1139.8v11M866.2 1139.8v11M895.6 1139.8v11M910.2 1139.8v11M924.9 1139.8v11M816.7 1118.7h-11M816.7 1097.7h-11M816.7 1076.7h-11" stroke="#000" stroke-width="3.3" fill="none"/><path d="M822.2 1139.8v18M880.9 1139.8v18M939.6 1139.8v18M816.7 1139.8h-18.7M816.7 1055.7h-18.7" stroke="#ff0000" stroke-width="4.5" fill="none"/><rect x="816.7" y="1055.7" width="128" height="84.1" fill="none" stroke="#ff0000" stroke-width="5.5"/></g>
<g><clipPath id="c7_4"><rect x="996.1" y="1055.7" width="128" height="84.1"/></clipPath><g clip-path="url(#c7_4)"><polygon points="1001.6,1056.1 1005.7,1060.1 1007.8,1061.9 1011,1063.3 1013.1,1064.3 1017.3,1066.2 1019.4,1067.3 1028.8,1073 1030.9,1075 1033,1077.3 1038.3,1082.5 1039.3,1084.5 1040.4,1087.6 1041.4,1089.8 1043.5,1094 1044.5,1096.1 1045.6,1098.8 1047.7,1105.9 1049.8,1112.2 1050.8,1114.3 1051.9,1115.4 1055,1121.7 1056.1,1124.2 1059.2,1132.8 1060.3,1135.2 1062.4,1138.8 1063.4,1139.3 1119,1139.3 1119,1139.3 1063.4,1139.3 1062.4,1139.3 1060.3,1139.3 1059.2,1139.3 1056.1,1139.3 1055,1139.2 1051.9,1138 1050.8,1136.7 1049.8,1136.7 1047.7,1136.7 1045.6,1136.5 1044.5,1134.6 1043.5,1132.1 1041.4,1128.7 1040.4,1125.8 1039.3,1122.3 1038.3,1119.7 1033,1107 1030.9,1102.4 1028.8,1100 1019.4,1084.4 1017.3,1080.2 1013.1,1071.6 1011,1068.5 1007.8,1063.3 1005.7,1060.1 1001.6,1056.1" fill="#8fbbd9" stroke="#1f77b4" stroke-opacity="0.5" stroke-width="5.2" stroke-linejoin="round"/><polygon points="1001.6,1056.1 1006.8,1061.1 1014.1,1065.7 1020.4,1070.3 1024.6,1073.8 1028.8,1078.6 1032,1081.7 1034.1,1084.3 1037.2,1089.9 1039.3,1093.4 1041.4,1098.1 1043.5,1104.1 1046.6,1113.3 1047.7,1115.2 1050.8,1122.8 1051.9,1125.9 1052.9,1128.9 1055,1133.7 1057.1,1137.5 1059.2,1139.1 1119,1139.3 1119,1139.3 1059.2,1139.3 1057.1,1139.3 1055,1139.2 1052.9,1138.4 1051.9,1138 1050.8,1136.7 1047.7,1136.4 1046.6,1134.5 1043.5,1128.3 1041.4,1121.8 1039.3,1116.1 1037.2,1110.6 1034.1,1102.8 1032,1099.5 1028.8,1093.7 1024.6,1087.2 1020.4,1081.1 1014.1,1071.1 1006.8,1061.3 1001.6,1056.1" fill="#ffd9b7" stroke="#dc985d" stroke-opacity="0.5" stroke-width="5.2" stroke-linejoin="round"/><polygon points="1001.6,1056.1 1007.8,1062 1014.1,1066.9 1020.4,1073 1025.7,1079.1 1030.9,1084.7 1033,1087.9 1036.2,1092.5 1037.2,1094.3 1040.4,1102.2 1043.5,1111.3 1044.5,1114.2 1045.6,1116.7 1048.7,1125.9 1049.8,1129.1 1050.8,1131.6 1051.9,1133.5 1054,1137.3 1055,1138.3 1057.1,1139.2 1119,1139.3 1119,1139.3 1057.1,1139.3 1055,1139.2 1054,1138.8 1051.9,1138 1050.8,1136.7 1049.8,1136.7 1048.7,1135.3 1045.6,1129.4 1044.5,1126.5 1043.5,1123 1040.4,1113.7 1037.2,1105 1036.2,1102.5 1033,1096.1 1030.9,1092.3 1025.7,1084.9 1020.4,1078.6 1014.1,1069.6 1007.8,1062.4 1001.6,1056.1" fill="#d6ecf3" stroke="#a5cfde" stroke-opacity="0.5" stroke-width="5.2" stroke-linejoin="round"/><path d="M1016.2 1055.7V1139.8M1045.6 1055.7V1139.8M1104.3 1055.7V1139.8M996.1 1118.7H1124.1M996.1 1097.7H1124.1M996.1 1076.7H1124.1" stroke="#b0b0b0" stroke-width="0.9" fill="none"/><path d="M1001.6 1055.7V1139.8M1060.3 1055.7V1139.8M1119 1055.7V1139.8" stroke="#ff0000" stroke-opacity="0.5" stroke-width="5.5" fill="none"/><path d="M1001.6 1057.1H1003.6V1059.1H1005.7V1061.1H1007.8V1063.2H1009.9V1065.3H1012V1067.4H1014.1V1069.7H1016.2V1072.5H1018.3V1075.3H1020.4V1078H1022.5V1080.1H1024.6V1082.2H1026.7V1084.3H1028.8V1087H1030.9V1089.8H1033V1092.6H1035.1V1096.9H1037.2V1102.2H1039.3V1107.9H1041.4V1114.2H1043.5V1120.8H1045.6V1127.8H1047.7V1132.5H1049.8V1136.2H1051.9V1138.4H1054V1139.2H1119V1139.3" fill="none" stroke="#000" stroke-width="8.4" stroke-linejoin="round" stroke-linecap="round"/></g><path d="M1016.2 1139.8v11M1030.9 1139.8v11M1045.6 1139.8v11M1075 1139.8v11M1089.6 1139.8v11M1104.3 1139.8v11M996.1 1118.7h-11M996.1 1097.7h-11M996.1 1076.7h-11" stroke="#000" stroke-width="3.3" fill="none"/><path d="M1001.6 1139.8v18M1060.3 1139.8v18M1119 1139.8v18M996.1 1139.8h-18.7M996.1 1055.7h-18.7" stroke="#ff0000" stroke-width="4.5" fill="none"/><rect x="996.1" y="1055.7" width="128" height="84.1" fill="none" stroke="#ff0000" stroke-width="5.5"/></g>
<g><clipPath id="c7_5"><rect x="1175.5" y="1055.7" width="128" height="84.1"/></clipPath><g clip-path="url(#c7_5)"><polygon points="1181,1056.1 1186.2,1061 1188.3,1062.3 1195.6,1065.6 1197.7,1066.6 1201.9,1067.6 1204,1068.2 1207.2,1069 1209.3,1069.5 1212.4,1070.4 1213.5,1070.9 1214.5,1071.3 1219.8,1073.3 1220.8,1073.7 1221.9,1074.2 1222.9,1074.8 1226,1079 1229.2,1082.7 1230.2,1084.4 1231.3,1086.7 1234.4,1091.9 1235.5,1093.7 1236.5,1096 1238.6,1103.3 1242.8,1115.2 1246,1127.8 1247,1128.8 1248.1,1130.5 1251.2,1136.6 1253.3,1139.3 1298.4,1139.3 1298.4,1139.3 1253.3,1139.3 1251.2,1139.3 1248.1,1139.3 1247,1139.3 1246,1139.3 1242.8,1139.3 1238.6,1139.3 1236.5,1139.3 1235.5,1139.3 1234.4,1139.3 1231.3,1138.4 1230.2,1137.9 1229.2,1136.7 1226,1136.7 1222.9,1136.7 1221.9,1136.5 1220.8,1134 1219.8,1130.3 1214.5,1119.9 1213.5,1116.9 1212.4,1112.9 1209.3,1103.7 1207.2,1100.7 1204,1094.4 1201.9,1091.3 1197.7,1084.3 1195.6,1080.1 1188.3,1065.2 1186.2,1061 1181,1056.1" fill="#8fbbd9" stroke="#1f77b4" stroke-opacity="0.5" stroke-width="5.2" stroke-linejoin="round"/><polygon points="1181,1056.1 1186.2,1061 1189.3,1062.9 1197.7,1066.9 1203,1068.4 1207.2,1069.6 1211.4,1071.2 1212.4,1071.6 1215.6,1073 1217.7,1073.9 1218.7,1074.5 1220.8,1077.1 1223.9,1080.8 1225,1082 1227.1,1085 1229.2,1088.8 1230.2,1090.5 1232.3,1094.1 1233.4,1096.7 1235.5,1103.6 1239.7,1115.6 1242.8,1127.8 1243.9,1129 1248.1,1136.7 1250.2,1139.1 1298.4,1139.3 1298.4,1139.3 1250.2,1139.3 1248.1,1139.3 1243.9,1139.3 1242.8,1139.3 1239.7,1139.3 1235.5,1139.3 1233.4,1139.2 1232.3,1138.8 1230.2,1137.9 1229.2,1136.7 1227.1,1136.7 1225,1136.5 1223.9,1134.5 1220.8,1127.1 1218.7,1122.1 1217.7,1119.5 1215.6,1112.8 1212.4,1103.6 1211.4,1101.8 1207.2,1093.2 1203,1086.6 1197.7,1079.4 1189.3,1065.7 1186.2,1061 1181,1056.1" fill="#ffd9b7" stroke="#dc985d" stroke-opacity="0.5" stroke-width="5.2" stroke-linejoin="round"/><polygon points="1181,1056.1 1187.2,1061.9 1194.6,1066.3 1198.8,1067.9 1205.1,1070.3 1210.3,1073.2 1212.4,1074.5 1214.5,1077.1 1216.6,1079.6 1220.8,1084 1223.9,1089.3 1227.1,1094.8 1229.2,1100.8 1230.2,1103.9 1234.4,1116.2 1237.6,1127.7 1239.7,1131.3 1242.8,1137 1243.9,1138.2 1246,1139.2 1298.4,1139.3 1298.4,1139.3 1246,1139.3 1243.9,1139.3 1242.8,1139.3 1239.7,1139.3 1237.6,1139.3 1234.4,1139.3 1230.2,1137.9 1229.2,1136.7 1227.1,1136.4 1223.9,1129.9 1220.8,1121.5 1216.6,1108.7 1214.5,1103 1212.4,1098.4 1210.3,1093.7 1205.1,1085.3 1198.8,1078.4 1194.6,1072.2 1187.2,1062.2 1181,1056.1" fill="#d6ecf3" stroke="#a5cfde" stroke-opacity="0.5" stroke-width="5.2" stroke-linejoin="round"/><path d="M1195.6 1055.7V1139.8M1210.3 1055.7V1139.8M1269 1055.7V1139.8M1175.5 1118.7H1303.5M1175.5 1097.7H1303.5M1175.5 1076.7H1303.5" stroke="#b0b0b0" stroke-width="0.9" fill="none"/><path d="M1181 1055.7V1139.8M1239.7 1055.7V1139.8M1298.4 1055.7V1139.8" stroke="#ff0000" stroke-opacity="0.5" stroke-width="5.5" fill="none"/><path d="M1181 1057.1H1183V1059H1185.1V1061H1187.2V1063.2H1189.3V1065.7H1191.4V1068.1H1193.5V1070.7H1195.6V1073.4H1197.7V1076.2H1199.8V1078.9H1201.9V1080.7H1204V1082.5H1206.1V1084.2H1208.2V1087.3H1210.3V1090.6H1212.4V1094.1H1214.5V1099.4H1216.6V1104.7H1218.7V1110.9H1220.8V1117.3H1222.9V1124.1H1225V1130.6H1227.1V1134.2H1229.2V1137.9H1231.3V1138.8H1233.4V1139.3H1298.4" fill="none" stroke="#000" stroke-width="8.4" stroke-linejoin="round" stroke-linecap="round"/></g><path d="M1195.6 1139.8v11M1210.3 1139.8v11M1225 1139.8v11M1254.4 1139.8v11M1269 1139.8v11M1283.7 1139.8v11M1175.5 1118.7h-11M1175.5 1097.7h-11M1175.5 1076.7h-11" stroke="#000" stroke-width="3.3" fill="none"/><path d="M1181 1139.8v18M1239.7 1139.8v18M1298.4 1139.8v18M1175.5 1139.8h-18.7M1175.5 1055.7h-18.7" stroke="#ff0000" stroke-width="4.5" fill="none"/><rect x="1175.5" y="1055.7" width="128" height="84.1" fill="none" stroke="#ff0000" stroke-width="5.5"/></g>
<g><clipPath id="c7_6"><rect x="1354.9" y="1055.7" width="128" height="84.1"/></clipPath><g clip-path="url(#c7_6)"><polygon points="1360.4,1056.1 1364.5,1059.3 1369.8,1060 1370.8,1060.1 1371.9,1060.3 1375,1060.7 1376.1,1060.8 1377.1,1061 1382.4,1061.9 1383.4,1062 1385.5,1062.4 1387.6,1062.8 1388.7,1062.9 1389.7,1063.1 1397.1,1065.9 1398.1,1066.3 1399.2,1066.7 1401.3,1067.5 1402.3,1068.7 1403.3,1071.3 1408.6,1079.3 1409.6,1080.7 1413.8,1086.6 1417,1090.8 1423.3,1097.8 1424.3,1099.6 1426.4,1108.3 1429.6,1119.3 1432.7,1131.9 1433.8,1134.8 1435.9,1139.3 1477.8,1139.3 1477.8,1139.3 1435.9,1139.3 1433.8,1139.3 1432.7,1139.3 1429.6,1139.3 1426.4,1139.3 1424.3,1139.3 1423.3,1139.3 1417,1139.3 1413.8,1139.3 1409.6,1138.1 1408.6,1137 1403.3,1136.7 1402.3,1135.3 1401.3,1131.1 1399.2,1126.8 1398.1,1123.8 1397.1,1119.9 1389.7,1097.9 1388.7,1096.2 1387.6,1096 1385.5,1092.7 1383.4,1089.7 1382.4,1089 1377.1,1083.8 1376.1,1081 1375,1077.2 1371.9,1069.7 1370.8,1068 1369.8,1067.1 1364.5,1059.5 1360.4,1056.1" fill="#8fbbd9" stroke="#1f77b4" stroke-opacity="0.5" stroke-width="5.2" stroke-linejoin="round"/><polygon points="1360.4,1056.1 1364.5,1059.3 1371.9,1060.3 1376.1,1061.4 1377.1,1061.7 1381.3,1065.8 1387.6,1072.3 1391.8,1077.6 1395,1081.6 1396,1083.4 1399.2,1090.7 1401.3,1095.5 1404.4,1102.9 1405.4,1105.3 1406.5,1107.8 1408.6,1112.7 1409.6,1114.8 1413.8,1121.8 1415.9,1125.3 1425.4,1130.3 1433.8,1138.8 1435.9,1139.3 1477.8,1139.3 1477.8,1139.3 1435.9,1139.3 1433.8,1139.3 1425.4,1139.3 1415.9,1139.3 1413.8,1139.3 1409.6,1138.1 1408.6,1137 1406.5,1136.7 1405.4,1136 1404.4,1133.9 1401.3,1126.5 1399.2,1119.8 1396,1110.4 1395,1107.3 1391.8,1097.7 1387.6,1090.3 1381.3,1083.6 1377.1,1077.1 1376.1,1075.2 1371.9,1067.9 1364.5,1059.5 1360.4,1056.1" fill="#ffd9b7" stroke="#dc985d" stroke-opacity="0.5" stroke-width="5.2" stroke-linejoin="round"/><polygon points="1360.4,1056.1 1364.5,1059.3 1368.7,1060.8 1371.9,1063.2 1374,1065.2 1377.1,1068.6 1380.3,1072.8 1384.5,1078.5 1389.7,1084.4 1390.8,1085.9 1391.8,1087.4 1392.9,1088.9 1393.9,1090.4 1395,1092.6 1401.3,1110.3 1403.3,1115.8 1406.5,1123.3 1407.5,1125.5 1408.6,1126.8 1409.6,1128 1411.7,1130.3 1414.9,1134.8 1417,1137.6 1419.1,1138.7 1422.2,1139.2 1477.8,1139.3 1477.8,1139.3 1422.2,1139.3 1419.1,1139.3 1417,1139.3 1414.9,1139.3 1411.7,1138.7 1409.6,1138.1 1408.6,1137 1407.5,1136.7 1406.5,1135.6 1403.3,1129.2 1401.3,1123.1 1395,1104.1 1393.9,1100.8 1392.9,1097.5 1391.8,1095.4 1390.8,1092.8 1389.7,1090.6 1384.5,1084.7 1380.3,1079.8 1377.1,1075.4 1374,1070.2 1371.9,1067.2 1368.7,1063.9 1364.5,1059.5 1360.4,1056.1" fill="#d6ecf3" stroke="#a5cfde" stroke-opacity="0.5" stroke-width="5.2" stroke-linejoin="round"/><path d="M1389.7 1055.7V1139.8M1433.8 1055.7V1139.8M1463.1 1055.7V1139.8M1354.9 1118.7H1482.9M1354.9 1097.7H1482.9M1354.9 1076.7H1482.9" stroke="#b0b0b0" stroke-width="0.9" fill="none"/><path d="M1360.4 1055.7V1139.8M1419.1 1055.7V1139.8M1477.8 1055.7V1139.8" stroke="#ff0000" stroke-opacity="0.5" stroke-width="5.5" fill="none"/><path d="M1360.4 1056.9H1362.4V1058.6H1364.5V1060.4H1366.6V1062.4H1368.7V1064.5H1370.8V1066.6H1372.9V1069.2H1375V1072.4H1377.1V1075.5H1379.2V1078.3H1381.3V1080.4H1383.4V1082.5H1385.5V1084.6H1387.6V1087.2H1389.7V1089.7H1391.8V1093.7H1393.9V1100.8H1396V1107.3H1398.1V1113.5H1400.2V1119.8H1402.3V1126.1H1404.4V1131.4H1406.5V1135.1H1408.6V1138.1H1410.7V1138.7H1412.8V1139.3H1477.8" fill="none" stroke="#000" stroke-width="8.4" stroke-linejoin="round" stroke-linecap="round"/></g><path d="M1375 1139.8v11M1389.7 1139.8v11M1404.4 1139.8v11M1433.8 1139.8v11M1448.4 1139.8v11M1463.1 1139.8v11M1354.9 1118.7h-11M1354.9 1097.7h-11M1354.9 1076.7h-11" stroke="#000" stroke-width="3.3" fill="none"/><path d="M1360.4 1139.8v18M1419.1 1139.8v18M1477.8 1139.8v18M1354.9 1139.8h-18.7M1354.9 1055.7h-18.7" stroke="#ff0000" stroke-width="4.5" fill="none"/><rect x="1354.9" y="1055.7" width="128" height="84.1" fill="none" stroke="#ff0000" stroke-width="5.5"/></g>
<g><clipPath id="c7_7"><rect x="1534.3" y="1055.7" width="128" height="84.1"/></clipPath><g clip-path="url(#c7_7)"><polygon points="1539.8,1056.1 1543.9,1060.2 1547.1,1063.5 1549.2,1064.8 1550.2,1065.4 1551.3,1066.1 1553.4,1067.3 1554.4,1068 1555.5,1068.6 1559.7,1070.7 1560.7,1071.2 1562.8,1072.2 1566,1073.8 1567,1074.3 1568.1,1074.8 1572.3,1076.9 1573.3,1077.5 1574.4,1078.5 1575.4,1082.4 1576.5,1087.3 1577.5,1090.5 1579.6,1096.5 1580.7,1098.3 1581.7,1100.8 1588,1116.3 1589,1119.1 1591.1,1125.7 1593.2,1132 1595.3,1138.6 1596.4,1139.3 1657.2,1139.3 1657.2,1139.3 1596.4,1139.3 1595.3,1139.3 1593.2,1139.2 1591.1,1137 1589,1136.7 1588,1136.7 1581.7,1136.7 1580.7,1135.1 1579.6,1131 1577.5,1126.7 1576.5,1123.6 1575.4,1119.7 1574.4,1116.6 1573.3,1113.4 1572.3,1110.2 1568.1,1100.5 1567,1099.8 1566,1100.1 1562.8,1097 1560.7,1094.5 1559.7,1092.5 1555.5,1085.2 1554.4,1081.6 1553.4,1077.5 1551.3,1071.2 1550.2,1069 1549.2,1068.7 1547.1,1065.4 1543.9,1060.2 1539.8,1056.1" fill="#8fbbd9" stroke="#1f77b4" stroke-opacity="0.5" stroke-width="5.2" stroke-linejoin="round"/><polygon points="1539.8,1056.1 1543.9,1060.2 1548.1,1064.4 1549.2,1065.2 1551.3,1066.9 1555.5,1070 1558.6,1072.3 1561.8,1074.6 1564.9,1076.9 1567,1079 1568.1,1080.2 1570.2,1082.6 1574.4,1088.3 1575.4,1090.6 1577.5,1096.9 1579.6,1102.1 1581.7,1107.3 1582.7,1109.9 1583.8,1112.6 1586.9,1120.7 1590.1,1130.3 1591.1,1133.5 1592.2,1135.7 1593.2,1137.4 1594.3,1138.9 1598.5,1139.3 1657.2,1139.3 1657.2,1139.3 1598.5,1139.3 1594.3,1139.3 1593.2,1139.2 1592.2,1138.1 1591.1,1137 1590.1,1136.7 1586.9,1136.7 1583.8,1136.4 1582.7,1134.9 1581.7,1131.3 1579.6,1126.3 1577.5,1119.6 1575.4,1113.6 1574.4,1110.6 1570.2,1100.6 1568.1,1099.6 1567,1098.3 1564.9,1095.7 1561.8,1089.7 1558.6,1085.2 1555.5,1079.5 1551.3,1070.2 1549.2,1067.9 1548.1,1066.4 1543.9,1060.2 1539.8,1056.1" fill="#ffd9b7" stroke="#dc985d" stroke-opacity="0.5" stroke-width="5.2" stroke-linejoin="round"/><polygon points="1539.8,1056.1 1545,1061.3 1550.2,1066.6 1552.3,1068.5 1557.6,1073.3 1566,1081.3 1568.1,1083.1 1569.1,1084.1 1571.2,1086.3 1573.3,1088.5 1574.4,1090.6 1577.5,1100.1 1581.7,1110.7 1585.9,1121.4 1586.9,1124.4 1588,1127.7 1590.1,1134.2 1591.1,1135.9 1593.2,1138.5 1594.3,1139.2 1657.2,1139.3 1657.2,1139.3 1594.3,1139.3 1593.2,1139.2 1591.1,1137 1590.1,1136.7 1588,1136.6 1586.9,1135.4 1585.9,1133 1581.7,1120.6 1577.5,1109.6 1574.4,1101.8 1573.3,1100.1 1571.2,1096.4 1569.1,1091.2 1568.1,1089.1 1566,1086.8 1557.6,1078.7 1552.3,1070.5 1550.2,1068 1545,1061.4 1539.8,1056.1" fill="#d6ecf3" stroke="#a5cfde" stroke-opacity="0.5" stroke-width="5.2" stroke-linejoin="round"/><path d="M1554.4 1055.7V1139.8M1569.1 1055.7V1139.8M1583.8 1055.7V1139.8M1613.2 1055.7V1139.8M1627.8 1055.7V1139.8M1534.3 1118.7H1662.3M1534.3 1097.7H1662.3M1534.3 1076.7H1662.3" stroke="#b0b0b0" stroke-width="0.9" fill="none"/><path d="M1539.8 1055.7V1139.8M1598.5 1055.7V1139.8M1657.2 1055.7V1139.8" stroke="#ff0000" stroke-opacity="0.5" stroke-width="5.5" fill="none"/><path d="M1539.8 1057.1H1541.8V1059.2H1543.9V1061.3H1546V1063.6H1548.1V1066.1H1550.2V1068.5H1552.3V1071.1H1554.4V1073.9H1556.5V1076.7H1558.6V1079.1H1560.7V1080.6H1562.8V1082H1564.9V1083.4H1567V1085.1H1569.1V1086.9H1571.2V1088.6H1573.3V1094.1H1575.4V1100.9H1577.5V1106.2H1579.6V1111.5H1581.7V1116.7H1583.8V1122H1585.9V1128.5H1588V1134.8H1590.1V1137H1592.2V1139.2H1657.2" fill="none" stroke="#000" stroke-width="8.4" stroke-linejoin="round" stroke-linecap="round"/></g><path d="M1554.4 1139.8v11M1569.1 1139.8v11M1583.8 1139.8v11M1613.2 1139.8v11M1627.8 1139.8v11M1642.5 1139.8v11M1534.3 1118.7h-11M1534.3 1097.7h-11M1534.3 1076.7h-11" stroke="#000" stroke-width="3.3" fill="none"/><path d="M1539.8 1139.8v18M1598.5 1139.8v18M1657.2 1139.8v18M1534.3 1139.8h-18.7M1534.3 1055.7h-18.7" stroke="#ff0000" stroke-width="4.5" fill="none"/><rect x="1534.3" y="1055.7" width="128" height="84.1" fill="none" stroke="#ff0000" stroke-width="5.5"/></g>
<g><clipPath id="c7_8"><rect x="1713.7" y="1055.7" width="128" height="84.1"/></clipPath><g clip-path="url(#c7_8)"><polygon points="1719.2,1056.1 1722.3,1059.1 1724.4,1059.4 1728.6,1060 1729.6,1060.1 1730.7,1060.2 1733.8,1060.6 1735.9,1060.9 1737,1061.1 1742.2,1061.8 1744.3,1062.2 1747.5,1062.6 1749.6,1062.9 1752.7,1063.7 1754.8,1064.8 1756.9,1065.9 1759,1066.9 1761.1,1068 1762.1,1068.5 1763.2,1069.2 1769.5,1075.8 1771.6,1077.9 1781,1087.3 1789.4,1093.4 1790.5,1094.7 1792.6,1100.3 1796.8,1108.6 1797.8,1111.9 1798.9,1115.8 1802,1125.3 1805.1,1132.6 1806.2,1134.8 1808.3,1135.6 1811.4,1139.3 1836.6,1139.3 1836.6,1139.3 1811.4,1139.3 1808.3,1139.3 1806.2,1139.3 1805.1,1139.3 1802,1139.3 1798.9,1139.3 1797.8,1139.3 1796.8,1139.3 1792.6,1139.3 1790.5,1139.3 1789.4,1139.3 1781,1139.3 1771.6,1139.2 1769.5,1137 1763.2,1136.4 1762.1,1133.7 1761.1,1130.3 1759,1126 1756.9,1120.1 1754.8,1114.9 1752.7,1108 1749.6,1097 1747.5,1096.9 1744.3,1093.1 1742.2,1091.6 1737,1087.1 1735.9,1085.6 1733.8,1078.8 1730.7,1071.2 1729.6,1069.6 1728.6,1068.6 1724.4,1061.6 1722.3,1059.1 1719.2,1056.1" fill="#8fbbd9" stroke="#1f77b4" stroke-opacity="0.5" stroke-width="5.2" stroke-linejoin="round"/><polygon points="1719.2,1056.1 1722.3,1059.1 1724.4,1059.4 1727.5,1060 1729.6,1061 1731.7,1061.9 1735.9,1063.9 1738,1064.9 1740.1,1065.9 1741.2,1066.4 1745.4,1068.5 1747.5,1069.6 1749.6,1070.6 1750.6,1071.4 1751.7,1072.4 1755.9,1076.6 1759,1079.7 1761.1,1083.7 1762.1,1085.9 1764.2,1090.1 1765.3,1092.2 1769.5,1100.5 1771.6,1104.7 1774.7,1111.7 1778.9,1121.5 1780,1123.3 1788.4,1125.4 1797.8,1132.3 1804.1,1138.7 1805.1,1139.3 1836.6,1139.3 1836.6,1139.3 1805.1,1139.3 1804.1,1139.3 1797.8,1139.3 1788.4,1139.3 1780,1139.3 1778.9,1139.3 1774.7,1139.3 1771.6,1139.2 1769.5,1137 1765.3,1136.6 1764.2,1135.2 1762.1,1129.7 1761.1,1127.5 1759,1122.1 1755.9,1113.1 1751.7,1098.8 1750.6,1096.9 1749.6,1096.7 1747.5,1093.5 1745.4,1091.3 1741.2,1086.4 1740.1,1084.2 1738,1078.9 1735.9,1076.5 1731.7,1070.8 1729.6,1068.7 1727.5,1065.8 1724.4,1061.4 1722.3,1059.1 1719.2,1056.1" fill="#ffd9b7" stroke="#dc985d" stroke-opacity="0.5" stroke-width="5.2" stroke-linejoin="round"/><polygon points="1719.2,1056.1 1722.3,1059.1 1725.4,1060.6 1730.7,1064.3 1739.1,1070.3 1743.3,1073.6 1744.3,1074.4 1747.5,1076.6 1750.6,1078.5 1751.7,1079.5 1753.8,1083.1 1755.9,1087.3 1760.1,1099.6 1762.1,1105.4 1765.3,1114.4 1766.3,1117.5 1767.4,1120.6 1768.4,1123.2 1769.5,1123.9 1771.6,1125.3 1776.8,1132.4 1778.9,1135.4 1782.1,1138.6 1783.1,1139.2 1836.6,1139.3 1836.6,1139.3 1783.1,1139.3 1782.1,1139.3 1778.9,1139.3 1776.8,1139.3 1771.6,1139.2 1769.5,1137 1768.4,1136.7 1767.4,1136.5 1766.3,1135.3 1765.3,1133.3 1762.1,1125.6 1760.1,1119.5 1755.9,1106 1753.8,1098.7 1751.7,1094.5 1750.6,1092.3 1747.5,1086.6 1744.3,1080.2 1743.3,1078.6 1739.1,1075.9 1730.7,1068.4 1725.4,1062.4 1722.3,1059.1 1719.2,1056.1" fill="#d6ecf3" stroke="#a5cfde" stroke-opacity="0.5" stroke-width="5.2" stroke-linejoin="round"/><path d="M1733.8 1055.7V1139.8M1763.2 1055.7V1139.8M1807.2 1055.7V1139.8M1821.9 1055.7V1139.8M1713.7 1118.7H1841.7M1713.7 1097.7H1841.7M1713.7 1076.7H1841.7" stroke="#b0b0b0" stroke-width="0.9" fill="none"/><path d="M1719.2 1055.7V1139.8M1777.9 1055.7V1139.8M1836.6 1055.7V1139.8" stroke="#ff0000" stroke-opacity="0.5" stroke-width="5.5" fill="none"/><path d="M1719.2 1057.1H1721.2V1059.1H1723.3V1061.1H1725.4V1063.2H1727.5V1065.3H1729.6V1067.4H1731.7V1069.3H1733.8V1070.9H1735.9V1072.5H1738V1074H1740.1V1075.6H1742.2V1076.6H1744.3V1077.6H1746.4V1078.6H1748.5V1081.8H1750.6V1085.5H1752.7V1092.3H1754.8V1100.7H1756.9V1107.6H1759V1114.6H1761.1V1121.7H1763.2V1127.3H1765.3V1132.5H1767.4V1135.9H1769.5V1138.1H1771.6V1139.3H1836.6" fill="none" stroke="#000" stroke-width="8.4" stroke-linejoin="round" stroke-linecap="round"/></g><path d="M1733.8 1139.8v11M1748.5 1139.8v11M1763.2 1139.8v11M1792.6 1139.8v11M1807.2 1139.8v11M1821.9 1139.8v11M1713.7 1118.7h-11M1713.7 1097.7h-11M1713.7 1076.7h-11" stroke="#000" stroke-width="3.3" fill="none"/><path d="M1719.2 1139.8v18M1777.9 1139.8v18M1836.6 1139.8v18M1713.7 1139.8h-18.7M1713.7 1055.7h-18.7" stroke="#ff0000" stroke-width="4.5" fill="none"/><rect x="1713.7" y="1055.7" width="128" height="84.1" fill="none" stroke="#ff0000" stroke-width="5.5"/></g>
<g><clipPath id="c7_9"><rect x="1893.1" y="1055.7" width="128" height="84.1"/></clipPath><g clip-path="url(#c7_9)"><polygon points="1898.6,1056.1 1899.6,1056.5 1903.8,1060.1 1906.9,1063.3 1908,1063.9 1909,1064.5 1910.1,1065.1 1913.2,1066.9 1914.3,1068 1916.4,1069.9 1917.4,1070.8 1921.6,1074.5 1922.7,1075 1923.7,1075 1927.9,1076.3 1929,1076.6 1930,1076.9 1931.1,1077.3 1933.2,1078 1934.2,1080.6 1935.3,1085.9 1937.4,1091.5 1938.4,1094.3 1939.5,1097.1 1940.5,1099.4 1941.5,1101 1943.6,1104.8 1951,1119.6 1952,1121.7 1953.1,1124.6 1954.1,1128.6 1957.3,1138.1 1958.3,1139.3 2016,1139.3 2016,1139.3 1958.3,1139.3 1957.3,1139.3 1954.1,1139 1953.1,1138.1 1952,1137.3 1951,1136.7 1943.6,1136.5 1941.5,1132 1940.5,1130.4 1939.5,1128.5 1938.4,1125.5 1937.4,1122 1935.3,1116.7 1934.2,1113.3 1933.2,1109.7 1931.1,1102.4 1930,1099.4 1929,1101.1 1927.9,1101.7 1923.7,1100.3 1922.7,1098.8 1921.6,1095.8 1917.4,1088.8 1916.4,1086.4 1914.3,1079.6 1913.2,1076.8 1910.1,1068.5 1909,1067.1 1908,1066.5 1906.9,1064.8 1903.8,1060.1 1899.6,1056.5 1898.6,1056.1" fill="#8fbbd9" stroke="#1f77b4" stroke-opacity="0.5" stroke-width="5.2" stroke-linejoin="round"/><polygon points="1898.6,1056.1 1899.6,1056.5 1903.8,1060.1 1906.9,1063.3 1910.1,1065.2 1912.2,1066.5 1915.3,1069.5 1916.4,1070.5 1920.6,1074.4 1922.7,1075.1 1926.9,1076.6 1927.9,1076.9 1929,1077.3 1930,1077.7 1931.1,1078.7 1933.2,1083.7 1934.2,1086 1935.3,1087.8 1937.4,1093.2 1939.5,1098.5 1941.5,1102.4 1943.6,1106.8 1945.7,1111.2 1946.8,1113.5 1951,1122.5 1953.1,1129.1 1954.1,1131.9 1956.2,1137.2 1957.3,1138.8 1958.3,1139.3 2016,1139.3 2016,1139.3 1958.3,1139.3 1957.3,1139.3 1956.2,1139.3 1954.1,1139 1953.1,1138.1 1951,1136.7 1946.8,1136.5 1945.7,1135.2 1943.6,1131.2 1941.5,1127.3 1939.5,1121.4 1937.4,1115.9 1935.3,1108.9 1934.2,1105.2 1933.2,1102.2 1931.1,1101.5 1930,1099.4 1929,1100.4 1927.9,1098.8 1926.9,1095.9 1922.7,1087.8 1920.6,1085.7 1916.4,1080.5 1915.3,1078.7 1912.2,1071.9 1910.1,1067.9 1906.9,1064.2 1903.8,1060.1 1899.6,1056.5 1898.6,1056.1" fill="#ffd9b7" stroke="#dc985d" stroke-opacity="0.5" stroke-width="5.2" stroke-linejoin="round"/><polygon points="1898.6,1056.1 1899.6,1056.5 1904.8,1061 1906.9,1063.4 1911.1,1066.3 1916.4,1071.7 1917.4,1072.9 1919.5,1074.9 1924.8,1077 1926.9,1078.3 1927.9,1080.3 1931.1,1084.6 1932.1,1085.8 1933.2,1086.8 1934.2,1088 1935.3,1090.4 1938.4,1098.7 1939.5,1100.8 1943.6,1110.6 1947.8,1120.4 1948.9,1122.9 1951,1128.9 1954.1,1136 1956.2,1138.7 1958.3,1139.3 2016,1139.3 2016,1139.3 1958.3,1139.3 1956.2,1139.3 1954.1,1139 1951,1136.7 1948.9,1136.5 1947.8,1135.4 1943.6,1127.8 1939.5,1117 1938.4,1113.7 1935.3,1102.7 1934.2,1101.7 1933.2,1100.9 1932.1,1099.4 1931.1,1096.6 1927.9,1089.3 1926.9,1087.7 1924.8,1086.2 1919.5,1082.1 1917.4,1080.3 1916.4,1078.7 1911.1,1068.9 1906.9,1063.8 1904.8,1061.2 1899.6,1056.5 1898.6,1056.1" fill="#d6ecf3" stroke="#a5cfde" stroke-opacity="0.5" stroke-width="5.2" stroke-linejoin="round"/><path d="M1927.9 1055.7V1139.8M1942.6 1055.7V1139.8M1972 1055.7V1139.8M2001.3 1055.7V1139.8M1893.1 1118.7H2021.1M1893.1 1097.7H2021.1M1893.1 1076.7H2021.1" stroke="#b0b0b0" stroke-width="0.9" fill="none"/><path d="M1898.6 1055.7V1139.8M1957.3 1055.7V1139.8M2016 1055.7V1139.8" stroke="#ff0000" stroke-opacity="0.5" stroke-width="5.5" fill="none"/><path d="M1898.6 1056.5H1900.6V1058.3H1902.7V1060.1H1904.8V1062.3H1906.9V1064.7H1909V1067.1H1911.1V1070H1913.2V1073.5H1915.3V1077H1917.4V1080.2H1919.5V1081.6H1921.6V1083H1923.7V1084.4H1925.8V1085.5H1927.9V1086.5H1930V1087.6H1932.1V1091.6H1934.2V1097.3H1936.3V1103.8H1938.4V1111.2H1940.5V1118H1942.6V1123.2H1944.7V1128.2H1946.8V1131.9H1948.9V1135.5H1951V1137.3H1953.1V1139H2016V1139.3" fill="none" stroke="#000" stroke-width="8.4" stroke-linejoin="round" stroke-linecap="round"/></g><path d="M1913.2 1139.8v11M1927.9 1139.8v11M1942.6 1139.8v11M1972 1139.8v11M1986.6 1139.8v11M2001.3 1139.8v11M1893.1 1118.7h-11M1893.1 1097.7h-11M1893.1 1076.7h-11" stroke="#000" stroke-width="3.3" fill="none"/><path d="M1898.6 1139.8v18M1957.3 1139.8v18M2016 1139.8v18M1893.1 1139.8h-18.7M1893.1 1055.7h-18.7" stroke="#ff0000" stroke-width="4.5" fill="none"/><rect x="1893.1" y="1055.7" width="128" height="84.1" fill="none" stroke="#ff0000" stroke-width="5.5"/></g>
<g><clipPath id="c7_10"><rect x="2072.5" y="1055.7" width="128" height="84.1"/></clipPath><g clip-path="url(#c7_10)"><polygon points="2077.9,1056.1 2082.1,1060 2086.3,1064.1 2087.4,1064.7 2088.4,1065.4 2089.5,1066 2091.6,1067.3 2093.7,1069.2 2096.8,1072.6 2097.9,1073.6 2098.9,1074.7 2101,1076.8 2102.1,1077.4 2105.2,1078.3 2109.4,1080 2110.5,1080.4 2111.5,1080.8 2112.6,1081.2 2113.6,1083.4 2114.7,1088.6 2117.8,1096.9 2118.9,1100.2 2119.9,1103.7 2120.9,1107.9 2122,1112.1 2124.1,1120.1 2125.1,1121.6 2128.3,1129.2 2131.4,1135 2133.5,1139.2 2195.4,1139.3 2195.4,1139.3 2133.5,1139.3 2131.4,1139 2128.3,1136.7 2125.1,1136.7 2124.1,1136.7 2122,1136.7 2120.9,1135.9 2119.9,1130.8 2118.9,1126.5 2117.8,1123 2114.7,1110.3 2113.6,1106.1 2112.6,1101.9 2111.5,1098.4 2110.5,1100.9 2109.4,1100.5 2105.2,1097.7 2102.1,1094.3 2101,1093.2 2098.9,1091.1 2097.9,1089.2 2096.8,1086.1 2093.7,1079.4 2091.6,1073.6 2089.5,1068.6 2088.4,1067.6 2087.4,1067.2 2086.3,1065.8 2082.1,1060 2077.9,1056.1" fill="#8fbbd9" stroke="#1f77b4" stroke-opacity="0.5" stroke-width="5.2" stroke-linejoin="round"/><polygon points="2077.9,1056.1 2082.1,1060 2087.4,1064.9 2089.5,1066.5 2091.6,1068.2 2094.7,1071.9 2098.9,1076.6 2102.1,1078.4 2103.1,1079 2104.2,1079.6 2107.3,1081.3 2110.5,1084.7 2111.5,1085.6 2112.6,1086.6 2113.6,1089.2 2114.7,1091.9 2116.8,1097.3 2117.8,1101 2119.9,1109.7 2120.9,1114.2 2122,1118.3 2123,1121.3 2124.1,1124.4 2125.1,1127.3 2127.2,1131.6 2128.3,1133.4 2129.3,1135.3 2131.4,1137.9 2132.5,1139 2144,1139.3 2195.4,1139.3 2195.4,1139.3 2144,1139.3 2132.5,1139.3 2131.4,1139 2129.3,1137.3 2128.3,1136.7 2127.2,1136.7 2125.1,1136.7 2124.1,1136.3 2123,1134.5 2122,1131.5 2120.9,1128.7 2119.9,1125.1 2117.8,1117 2116.8,1112.7 2114.7,1103.8 2113.6,1101.1 2112.6,1100.8 2111.5,1098.4 2110.5,1098.8 2107.3,1094.7 2104.2,1090.2 2103.1,1087.7 2102.1,1086.1 2098.9,1083.1 2094.7,1077.3 2091.6,1071.3 2089.5,1068.1 2087.4,1066.2 2082.1,1060 2077.9,1056.1" fill="#ffd9b7" stroke="#dc985d" stroke-opacity="0.5" stroke-width="5.2" stroke-linejoin="round"/><polygon points="2077.9,1056.1 2084.2,1062 2090.5,1067.7 2096.8,1075.3 2098.9,1077.5 2102.1,1079.6 2105.2,1081.8 2107.3,1083.7 2108.4,1084.4 2111.5,1086.4 2112.6,1088.1 2114.7,1093.5 2115.7,1096.1 2116.8,1099.5 2118.9,1108.4 2120.9,1117.4 2122,1121.1 2124.1,1127.7 2125.1,1129.9 2126.2,1131.7 2128.3,1135.4 2131.4,1138.5 2132.5,1139.2 2195.4,1139.3 2195.4,1139.3 2132.5,1139.3 2131.4,1139 2128.3,1136.7 2126.2,1136.4 2125.1,1135.2 2124.1,1132.9 2122,1128.4 2120.9,1124.9 2118.9,1116.7 2116.8,1107.6 2115.7,1103 2114.7,1100.8 2112.6,1097.6 2111.5,1095.7 2108.4,1090 2107.3,1087.4 2105.2,1085.6 2102.1,1083.5 2098.9,1080.4 2096.8,1078.2 2090.5,1068.8 2084.2,1062.2 2077.9,1056.1" fill="#d6ecf3" stroke="#a5cfde" stroke-opacity="0.5" stroke-width="5.2" stroke-linejoin="round"/><path d="M2092.6 1055.7V1139.8M2122 1055.7V1139.8M2166 1055.7V1139.8M2072.5 1118.7H2200.5M2072.5 1097.7H2200.5M2072.5 1076.7H2200.5" stroke="#b0b0b0" stroke-width="0.9" fill="none"/><path d="M2077.9 1055.7V1139.8M2136.7 1055.7V1139.8M2195.4 1055.7V1139.8" stroke="#ff0000" stroke-opacity="0.5" stroke-width="5.5" fill="none"/><path d="M2077.9 1057H2080V1059H2082.1V1061H2084.2V1063H2086.3V1065.1H2088.4V1067.2H2090.5V1069.5H2092.6V1072.3H2094.7V1075.1H2096.8V1077.8H2098.9V1079.6H2101V1081.3H2103.1V1083.1H2105.2V1084.3H2107.3V1085.3H2109.4V1086.3H2111.5V1089.7H2113.6V1095H2115.7V1102.1H2117.8V1111.9H2119.9V1120.6H2122V1128.2H2124.1V1131.9H2126.2V1135.6H2128.3V1137.3H2130.4V1139H2195.4V1139.3" fill="none" stroke="#000" stroke-width="8.4" stroke-linejoin="round" stroke-linecap="round"/></g><path d="M2092.6 1139.8v11M2107.3 1139.8v11M2122 1139.8v11M2151.4 1139.8v11M2166 1139.8v11M2180.7 1139.8v11M2072.5 1118.7h-11M2072.5 1097.7h-11M2072.5 1076.7h-11" stroke="#000" stroke-width="3.3" fill="none"/><path d="M2077.9 1139.8v18M2136.7 1139.8v18M2195.4 1139.8v18M2072.5 1139.8h-18.7M2072.5 1055.7h-18.7" stroke="#ff0000" stroke-width="4.5" fill="none"/><rect x="2072.5" y="1055.7" width="128" height="84.1" fill="none" stroke="#ff0000" stroke-width="5.5"/></g>
<g><clipPath id="c8_0"><rect x="278.5" y="1173.5" width="128" height="84.1"/></clipPath><g clip-path="url(#c8_0)"><polygon points="283.9,1173.8 290.2,1179 293.4,1180.5 294.4,1180.9 295.5,1181.3 297.6,1182.2 298.6,1183 300.7,1187.1 306,1195 307,1196.6 308.1,1198.6 310.2,1203.4 314.4,1211.9 317.5,1219.7 318.6,1222.1 319.6,1224.6 321.7,1229.1 324.9,1235 326.9,1239.2 328,1241.7 330.1,1248.9 331.1,1252.1 332.2,1255.2 333.2,1257.3 401.4,1257.3 401.4,1257.3 333.2,1257.3 332.2,1257.3 331.1,1257.3 330.1,1256.7 328,1255.4 326.9,1254.7 324.9,1254.7 321.7,1254.7 319.6,1254.7 318.6,1253.3 317.5,1247.8 314.4,1238.4 310.2,1225.7 308.1,1218.4 307,1214.7 306,1211 300.7,1196.6 298.6,1192.1 297.6,1189.5 295.5,1184.6 294.4,1183.5 293.4,1183.2 290.2,1179 283.9,1173.8" fill="#8fbbd9" stroke="#1f77b4" stroke-opacity="0.5" stroke-width="5.2" stroke-linejoin="round"/><polygon points="283.9,1173.8 291.3,1179.7 294.4,1181.4 295.5,1182 296.5,1182.8 298.6,1185.5 302.8,1192.1 306,1197.5 309.1,1204.1 312.3,1210.9 317.5,1224 319.6,1229.3 322.8,1236.6 323.8,1239.1 324.9,1241.9 325.9,1245.3 326.9,1248.1 329,1253.2 330.1,1255.3 331.1,1256.3 332.2,1257.3 401.4,1257.3 401.4,1257.3 332.2,1257.3 331.1,1257.3 330.1,1256.7 329,1256 326.9,1254.7 325.9,1254.7 324.9,1254.6 323.8,1254.5 322.8,1253.5 319.6,1244.9 317.5,1238.7 312.3,1222.7 309.1,1213.3 306,1205 302.8,1197.6 298.6,1189.3 296.5,1185.3 295.5,1184 294.4,1183.3 291.3,1180.1 283.9,1173.8" fill="#ffd9b7" stroke="#dc985d" stroke-opacity="0.5" stroke-width="5.2" stroke-linejoin="round"/><polygon points="283.9,1173.8 292.3,1180.5 296.5,1183.6 298.6,1186.5 302.8,1193.1 306,1199 309.1,1205.6 312.3,1212.8 315.4,1220.8 320.7,1234.8 323.8,1243.6 324.9,1246.5 325.9,1249 326.9,1251.3 328,1253.6 329,1255.3 331.1,1256.9 334.3,1257.3 401.4,1257.3 401.4,1257.3 334.3,1257.3 331.1,1257.3 329,1256 328,1255.4 326.9,1254.7 325.9,1254.6 324.9,1253.7 323.8,1251.3 320.7,1243.5 315.4,1227.8 312.3,1218.3 309.1,1210.1 306,1202.6 302.8,1195.9 298.6,1188.3 296.5,1184.8 292.3,1181 283.9,1173.8" fill="#d6ecf3" stroke="#a5cfde" stroke-opacity="0.5" stroke-width="5.2" stroke-linejoin="round"/><path d="M298.6 1173.5V1257.6M313.3 1173.5V1257.6M357.4 1173.5V1257.6M386.7 1173.5V1257.6M278.5 1194.6H406.5" stroke="#b0b0b0" stroke-width="0.9" fill="none"/><path d="M283.9 1173.5V1257.6M342.7 1173.5V1257.6M401.4 1173.5V1257.6" stroke="#ff0000" stroke-opacity="0.5" stroke-width="5.5" fill="none"/><path d="M283.9 1174.7H286V1176.4H288.1V1178.2H290.2V1179.9H292.3V1181.7H294.4V1183.4H296.5V1185.8H298.6V1189.1H300.7V1192.4H302.8V1196.3H304.9V1200.6H307V1204.8H309.1V1209.8H311.2V1214.8H313.3V1220.2H315.4V1226.4H317.5V1232.7H319.6V1239H321.7V1245.2H323.8V1249.7H325.9V1253.9H328V1256H330.1V1257.3H401.4" fill="none" stroke="#000" stroke-width="8.4" stroke-linejoin="round" stroke-linecap="round"/></g><path d="M298.6 1257.6v11M313.3 1257.6v11M328 1257.6v11M357.4 1257.6v11M372 1257.6v11M386.7 1257.6v11M278.5 1236.6h-11M278.5 1215.6h-11M278.5 1194.6h-11" stroke="#000" stroke-width="3.3" fill="none"/><path d="M283.9 1257.6v18M342.7 1257.6v18M401.4 1257.6v18M278.5 1257.6h-18.7M278.5 1173.5h-18.7" stroke="#ff0000" stroke-width="4.5" fill="none"/><rect x="278.5" y="1173.5" width="128" height="84.1" fill="none" stroke="#ff0000" stroke-width="5.5"/></g>
<g><clipPath id="c8_1"><rect x="457.9" y="1173.5" width="128" height="84.1"/></clipPath><g clip-path="url(#c8_1)"><polygon points="463.3,1173.8 467.5,1176.5 471.7,1179.3 472.8,1179.7 474.9,1180.4 478,1181.5 480.1,1183.7 481.2,1184.6 489.6,1192.3 495.9,1200.6 496.9,1201.9 498,1203.2 499,1205.7 500.1,1209.4 502.2,1214.5 503.2,1217 505.3,1223.7 509.5,1238.3 510.5,1241.4 512.6,1247.8 513.7,1250.8 515.8,1255.4 516.8,1257.3 580.8,1257.3 580.8,1257.3 516.8,1257.3 515.8,1257.3 513.7,1257.3 512.6,1257.2 510.5,1254.7 509.5,1254.7 505.3,1254.7 503.2,1254.6 502.2,1253.5 500.1,1246.7 499,1244.4 498,1242 496.9,1239 495.9,1235.5 489.6,1217.8 481.2,1194.3 480.1,1192.1 478,1188.9 474.9,1182.9 472.8,1181.8 471.7,1180.8 467.5,1176.5 463.3,1173.8" fill="#8fbbd9" stroke="#1f77b4" stroke-opacity="0.5" stroke-width="5.2" stroke-linejoin="round"/><polygon points="463.3,1173.8 468.6,1177.1 472.8,1179.8 475.9,1181.2 479.1,1183.9 482.2,1187.3 486.4,1192 491.7,1199.7 493.8,1202.7 494.8,1204.7 499,1214.6 501.1,1220.6 503.2,1227.3 505.3,1234 506.3,1237.4 510.5,1249.2 511.6,1251.8 512.6,1253.8 514.7,1257.1 580.8,1257.3 580.8,1257.3 514.7,1257.3 512.6,1257.2 511.6,1255.7 510.5,1254.7 506.3,1254.3 505.3,1252.7 503.2,1246.9 501.1,1241.9 499,1235.5 494.8,1223.4 493.8,1220.4 491.7,1214.4 486.4,1201.9 482.2,1193.1 479.1,1188.1 475.9,1183.1 472.8,1180.9 468.6,1177.3 463.3,1173.8" fill="#ffd9b7" stroke="#dc985d" stroke-opacity="0.5" stroke-width="5.2" stroke-linejoin="round"/><polygon points="463.3,1173.8 471.7,1179.3 477,1182.5 480.1,1185.9 483.3,1189.8 486.4,1194.2 489.6,1199.1 492.7,1204.3 493.8,1206.5 496.9,1213.4 499,1219.2 503.2,1232.1 506.3,1241.6 507.4,1244.4 508.4,1247.2 510.5,1252.3 512.6,1255.7 513.7,1257.1 580.8,1257.3 580.8,1257.3 513.7,1257.3 512.6,1257.2 510.5,1254.7 508.4,1254.1 507.4,1252.4 506.3,1249.7 503.2,1241.8 499,1229.4 496.9,1223.2 493.8,1214.1 492.7,1211.7 489.6,1204.9 486.4,1198.8 483.3,1193 480.1,1188.2 477,1183.6 471.7,1179.6 463.3,1173.8" fill="#d6ecf3" stroke="#a5cfde" stroke-opacity="0.5" stroke-width="5.2" stroke-linejoin="round"/><path d="M492.7 1173.5V1257.6M507.4 1173.5V1257.6M536.8 1173.5V1257.6M551.4 1173.5V1257.6M457.9 1194.6H585.9" stroke="#b0b0b0" stroke-width="0.9" fill="none"/><path d="M463.3 1173.5V1257.6M522.1 1173.5V1257.6M580.8 1173.5V1257.6" stroke="#ff0000" stroke-opacity="0.5" stroke-width="5.5" fill="none"/><path d="M463.3 1174.5H465.4V1175.8H467.5V1177.1H469.6V1178.6H471.7V1180.1H473.8V1181.6H475.9V1183.1H478V1185.6H480.1V1188.6H482.2V1191.5H484.3V1195H486.4V1198.5H488.5V1201.9H490.6V1206H492.7V1210.2H494.8V1214.6H496.9V1220.9H499V1227.2H501.1V1233.5H503.2V1239.8H505.3V1245.3H507.4V1250.5H509.5V1254.3H511.6V1257.2H580.8V1257.3" fill="none" stroke="#000" stroke-width="8.4" stroke-linejoin="round" stroke-linecap="round"/></g><path d="M478 1257.6v11M492.7 1257.6v11M507.4 1257.6v11M536.8 1257.6v11M551.4 1257.6v11M566.1 1257.6v11M457.9 1236.6h-11M457.9 1215.6h-11M457.9 1194.6h-11" stroke="#000" stroke-width="3.3" fill="none"/><path d="M463.3 1257.6v18M522.1 1257.6v18M580.8 1257.6v18M457.9 1257.6h-18.7M457.9 1173.5h-18.7" stroke="#ff0000" stroke-width="4.5" fill="none"/><rect x="457.9" y="1173.5" width="128" height="84.1" fill="none" stroke="#ff0000" stroke-width="5.5"/></g>
<g><clipPath id="c8_2"><rect x="637.3" y="1173.5" width="128" height="84.1"/></clipPath><g clip-path="url(#c8_2)"><polygon points="642.8,1173.8 649,1178.8 651.1,1180.7 652.2,1181.2 654.3,1182.2 656.4,1183.2 659.5,1184.7 660.6,1186.2 661.6,1188.7 663.7,1191.8 665.8,1195 669,1199.9 672.1,1206.8 675.3,1213.1 676.3,1216 677.4,1219.9 678.4,1223 679.5,1225.9 681.6,1231.9 684.7,1242.6 686.8,1249.7 687.8,1251.4 689.9,1256.6 691,1257.2 760.2,1257.3 760.2,1257.3 691,1257.2 689.9,1256.9 687.8,1256.2 686.8,1254.7 684.7,1254.7 681.6,1254.7 679.5,1254.5 678.4,1251.6 677.4,1246.4 676.3,1243.6 675.3,1240.4 672.1,1231 669,1222 665.8,1213.3 663.7,1208.8 661.6,1203.8 660.6,1201.3 659.5,1198.8 656.4,1191.2 654.3,1186.5 652.2,1183.9 651.1,1182.1 649,1178.8 642.8,1173.8" fill="#8fbbd9" stroke="#1f77b4" stroke-opacity="0.5" stroke-width="5.2" stroke-linejoin="round"/><polygon points="642.8,1173.8 649,1178.8 652.2,1181.4 655.3,1183.5 657.4,1184.9 658.5,1186.2 661.6,1191.3 665.8,1198 669,1204.4 673.2,1213.1 678.4,1227.6 680.5,1233.9 681.6,1237.3 682.6,1240.8 683.7,1244.4 684.7,1247.8 685.7,1250.2 686.8,1252.1 687.8,1254.3 688.9,1256.2 691,1257.2 760.2,1257.3 760.2,1257.3 691,1257.2 688.9,1256.5 687.8,1256.2 686.8,1254.7 685.7,1254.7 684.7,1254.6 683.7,1254.6 682.6,1253.4 681.6,1251 680.5,1248.1 678.4,1241.5 673.2,1225.6 669,1214.5 665.8,1207.4 661.6,1198.2 658.5,1191.9 657.4,1189.9 655.3,1186.3 652.2,1182.7 649,1178.8 642.8,1173.8" fill="#ffd9b7" stroke="#dc985d" stroke-opacity="0.5" stroke-width="5.2" stroke-linejoin="round"/><polygon points="642.8,1173.8 649,1178.8 656.4,1185 658.5,1187.6 661.6,1192.7 664.8,1197.9 670,1208.5 673.2,1215.7 676.3,1223.9 680.5,1236.5 682.6,1243.6 683.7,1247 684.7,1249.6 685.7,1251.4 686.8,1253.4 687.8,1255.3 688.9,1256.4 692,1257.3 760.2,1257.3 760.2,1257.3 692,1257.3 688.9,1256.5 687.8,1256.2 686.8,1254.7 685.7,1254.6 684.7,1254 683.7,1252 682.6,1249.8 680.5,1243.8 676.3,1230.6 673.2,1221.6 670,1213.8 664.8,1202.4 661.6,1195.8 658.5,1190.4 656.4,1186.9 649,1178.8 642.8,1173.8" fill="#d6ecf3" stroke="#a5cfde" stroke-opacity="0.5" stroke-width="5.2" stroke-linejoin="round"/><path d="M657.4 1173.5V1257.6M686.8 1173.5V1257.6M730.8 1173.5V1257.6M745.5 1173.5V1257.6M637.3 1194.6H765.3" stroke="#b0b0b0" stroke-width="0.9" fill="none"/><path d="M642.8 1173.5V1257.6M701.5 1173.5V1257.6M760.2 1173.5V1257.6" stroke="#ff0000" stroke-opacity="0.5" stroke-width="5.5" fill="none"/><path d="M642.8 1174.7H644.8V1176.3H646.9V1178H649V1179.9H651.1V1182H653.2V1184.1H655.3V1186.1H657.4V1189.1H659.5V1192.4H661.6V1195.7H663.7V1199.9H665.8V1204.1H667.9V1208.3H670V1213.1H672.1V1218.1H674.2V1223.2H676.3V1229.5H678.4V1235.8H680.5V1242.7H682.6V1249H684.7V1252.6H686.8V1256.2H688.9V1256.9H760.2V1257.3" fill="none" stroke="#000" stroke-width="8.4" stroke-linejoin="round" stroke-linecap="round"/></g><path d="M657.4 1257.6v11M672.1 1257.6v11M686.8 1257.6v11M716.2 1257.6v11M730.8 1257.6v11M745.5 1257.6v11M637.3 1236.6h-11M637.3 1215.6h-11M637.3 1194.6h-11" stroke="#000" stroke-width="3.3" fill="none"/><path d="M642.8 1257.6v18M701.5 1257.6v18M760.2 1257.6v18M637.3 1257.6h-18.7M637.3 1173.5h-18.7" stroke="#ff0000" stroke-width="4.5" fill="none"/><rect x="637.3" y="1173.5" width="128" height="84.1" fill="none" stroke="#ff0000" stroke-width="5.5"/></g>
<g><clipPath id="c8_3"><rect x="816.7" y="1173.5" width="128" height="84.1"/></clipPath><g clip-path="url(#c8_3)"><polygon points="822.2,1173.8 828.4,1179.2 831.6,1180.5 832.6,1181 833.7,1181.4 835.8,1182.3 836.8,1183.1 838.9,1186.3 843.1,1191.3 845.2,1193.8 847.3,1196.3 848.4,1198.1 849.4,1200.4 850.5,1202.2 854.7,1209.4 855.7,1211.4 857.8,1217.1 858.9,1219.5 859.9,1221.9 861,1224.4 862,1226.8 863.1,1229.7 865.1,1236.2 868.3,1245.1 870.4,1251.3 872.5,1257.3 939.6,1257.3 939.6,1257.3 872.5,1257.3 870.4,1255.8 868.3,1254.7 865.1,1254.7 863.1,1254.7 862,1254.7 861,1253.6 859.9,1248.8 858.9,1245.6 857.8,1242.9 855.7,1237.4 854.7,1234.3 850.5,1222.6 849.4,1220.8 848.4,1219.4 847.3,1217.3 845.2,1213.1 843.1,1207.7 838.9,1197.6 836.8,1193.4 835.8,1191.1 833.7,1186.5 832.6,1184.9 831.6,1184 828.4,1179.3 822.2,1173.8" fill="#8fbbd9" stroke="#1f77b4" stroke-opacity="0.5" stroke-width="5.2" stroke-linejoin="round"/><polygon points="822.2,1173.8 828.4,1179.2 833.7,1182.4 836.8,1185.9 842.1,1192.5 845.2,1196.7 851.5,1207.3 852.6,1209.2 854.7,1213.6 859.9,1227.1 862,1233.4 864.1,1239.5 865.1,1242.5 868.3,1250.7 869.3,1253.3 871.4,1256.1 872.5,1257.3 939.6,1257.3 939.6,1257.3 872.5,1257.3 871.4,1256.6 869.3,1255.1 868.3,1254.7 865.1,1254.5 864.1,1253.6 862,1247.6 859.9,1242.2 854.7,1227.1 852.6,1221.5 851.5,1219.6 845.2,1205.7 842.1,1199.6 836.8,1190.5 833.7,1185.4 828.4,1179.3 822.2,1173.8" fill="#ffd9b7" stroke="#dc985d" stroke-opacity="0.5" stroke-width="5.2" stroke-linejoin="round"/><polygon points="822.2,1173.8 829.5,1180 833.7,1183.4 838.9,1189.8 844.2,1196.8 847.3,1201.8 850.5,1207.1 852.6,1211.2 854.7,1215.7 858.9,1227.2 862,1236.6 864.1,1242.8 866.2,1247.9 867.2,1250.5 868.3,1252.9 869.3,1254.5 872.5,1257.3 939.6,1257.3 939.6,1257.3 872.5,1257.3 869.3,1255.1 868.3,1254.7 867.2,1254.6 866.2,1253.7 864.1,1248.7 862,1243.6 858.9,1234.6 854.7,1222.3 852.6,1217.1 850.5,1212.6 847.3,1206 844.2,1200.6 838.9,1192.3 833.7,1184.9 829.5,1180.4 822.2,1173.8" fill="#d6ecf3" stroke="#a5cfde" stroke-opacity="0.5" stroke-width="5.2" stroke-linejoin="round"/><path d="M851.5 1173.5V1257.6M866.2 1173.5V1257.6M895.6 1173.5V1257.6M924.9 1173.5V1257.6M816.7 1194.6H944.7" stroke="#b0b0b0" stroke-width="0.9" fill="none"/><path d="M822.2 1173.5V1257.6M880.9 1173.5V1257.6M939.6 1173.5V1257.6" stroke="#ff0000" stroke-opacity="0.5" stroke-width="5.5" fill="none"/><path d="M822.2 1174.7H824.2V1176.5H826.3V1178.3H828.4V1180.3H830.5V1182.4H832.6V1184.6H834.7V1187H836.8V1189.7H838.9V1192.5H841V1195.4H843.1V1198.6H845.2V1201.7H847.3V1204.9H849.4V1209H851.5V1213.2H853.6V1217.9H855.7V1224.2H857.8V1230.5H859.9V1236.7H862V1243H864.1V1247.9H866.2V1252.7H868.3V1255.1H870.4V1256.6H872.5V1257.3H939.6" fill="none" stroke="#000" stroke-width="8.4" stroke-linejoin="round" stroke-linecap="round"/></g><path d="M836.8 1257.6v11M851.5 1257.6v11M866.2 1257.6v11M895.6 1257.6v11M910.2 1257.6v11M924.9 1257.6v11M816.7 1236.6h-11M816.7 1215.6h-11M816.7 1194.6h-11" stroke="#000" stroke-width="3.3" fill="none"/><path d="M822.2 1257.6v18M880.9 1257.6v18M939.6 1257.6v18M816.7 1257.6h-18.7M816.7 1173.5h-18.7" stroke="#ff0000" stroke-width="4.5" fill="none"/><rect x="816.7" y="1173.5" width="128" height="84.1" fill="none" stroke="#ff0000" stroke-width="5.5"/></g>
<g><clipPath id="c8_4"><rect x="996.1" y="1173.5" width="128" height="84.1"/></clipPath><g clip-path="url(#c8_4)"><polygon points="1001.6,1173.8 1005.7,1178 1006.8,1178.3 1015.2,1181.1 1017.3,1182.2 1023.6,1185.9 1026.7,1187.7 1027.8,1188.4 1028.8,1189 1036.2,1194.5 1037.2,1195.2 1038.3,1196 1039.3,1197.3 1040.4,1199.2 1044.5,1204.8 1045.6,1206.6 1047.7,1211.5 1048.7,1213.6 1051.9,1219.9 1052.9,1223.1 1054,1227 1057.1,1236.5 1059.2,1240.7 1062.4,1248.1 1063.4,1249.5 1064.5,1250.5 1068.7,1257 1073.9,1257.3 1119,1257.3 1119,1257.3 1073.9,1257.3 1068.7,1257.3 1064.5,1257.3 1063.4,1257.3 1062.4,1257.3 1059.2,1257.3 1057.1,1257.3 1054,1257.3 1052.9,1257.3 1051.9,1257.3 1048.7,1257.3 1047.7,1256.5 1045.6,1254.7 1044.5,1254.7 1040.4,1254.7 1039.3,1253.2 1038.3,1249.1 1037.2,1245.9 1036.2,1242 1028.8,1220.1 1027.8,1218.3 1026.7,1217.1 1023.6,1210.8 1017.3,1200.6 1015.2,1196.5 1006.8,1179.5 1005.7,1178.2 1001.6,1173.8" fill="#8fbbd9" stroke="#1f77b4" stroke-opacity="0.5" stroke-width="5.2" stroke-linejoin="round"/><polygon points="1001.6,1173.8 1005.7,1178 1006.8,1178.5 1013.1,1181.4 1017.3,1184.6 1024.6,1190.5 1029.9,1195.3 1032,1197.9 1038.3,1206.9 1041.4,1213.1 1042.5,1215 1043.5,1217.1 1044.5,1219.3 1045.6,1222.1 1048.7,1231.7 1050.8,1237.6 1055,1247.5 1056.1,1249.4 1060.3,1255.5 1061.3,1256.7 1062.4,1257.3 1119,1257.3 1119,1257.3 1062.4,1257.3 1061.3,1257.3 1060.3,1257.3 1056.1,1257.3 1055,1257.3 1050.8,1257.3 1048.7,1257.3 1045.6,1254.7 1044.5,1254.6 1043.5,1254.6 1042.5,1253.9 1041.4,1252.1 1038.3,1243.1 1032,1224.6 1029.9,1219.2 1024.6,1209.8 1017.3,1198.8 1013.1,1191.3 1006.8,1179.5 1005.7,1178.2 1001.6,1173.8" fill="#ffd9b7" stroke="#dc985d" stroke-opacity="0.5" stroke-width="5.2" stroke-linejoin="round"/><polygon points="1001.6,1173.8 1005.7,1178 1006.8,1178.7 1011,1181.7 1018.3,1189.4 1024.6,1196.8 1028.8,1202.7 1030.9,1205.6 1034.1,1210.9 1037.2,1216.4 1039.3,1221.3 1042.5,1230.3 1043.5,1233.4 1044.5,1236.5 1045.6,1239.2 1048.7,1247 1050.8,1251.1 1051.9,1252.9 1055,1256.6 1056.1,1257.3 1119,1257.3 1119,1257.3 1056.1,1257.3 1055,1257.3 1051.9,1257.3 1050.8,1257.3 1048.7,1257.3 1045.6,1254.7 1044.5,1254.5 1043.5,1253.6 1042.5,1251.8 1039.3,1243.5 1037.2,1237.4 1034.1,1228.1 1030.9,1219.8 1028.8,1215.5 1024.6,1208.6 1018.3,1199.6 1011,1187.2 1006.8,1179.5 1005.7,1178.2 1001.6,1173.8" fill="#d6ecf3" stroke="#a5cfde" stroke-opacity="0.5" stroke-width="5.2" stroke-linejoin="round"/><path d="M1016.2 1173.5V1257.6M1045.6 1173.5V1257.6M1104.3 1173.5V1257.6M996.1 1194.6H1124.1" stroke="#b0b0b0" stroke-width="0.9" fill="none"/><path d="M1001.6 1173.5V1257.6M1060.3 1173.5V1257.6M1119 1173.5V1257.6" stroke="#ff0000" stroke-opacity="0.5" stroke-width="5.5" fill="none"/><path d="M1001.6 1174.9H1003.6V1177.1H1005.7V1179.5H1007.8V1183.3H1009.9V1187H1012V1190.6H1014.1V1194H1016.2V1197.4H1018.3V1200.3H1020.4V1203.1H1022.5V1205.9H1024.6V1209H1026.7V1212.3H1028.8V1215.7H1030.9V1220.6H1033V1225.8H1035.1V1231.7H1037.2V1238H1039.3V1243.8H1041.4V1249H1043.5V1253.3H1045.6V1255.4H1047.7V1257.3H1119" fill="none" stroke="#000" stroke-width="8.4" stroke-linejoin="round" stroke-linecap="round"/></g><path d="M1016.2 1257.6v11M1030.9 1257.6v11M1045.6 1257.6v11M1075 1257.6v11M1089.6 1257.6v11M1104.3 1257.6v11M996.1 1236.6h-11M996.1 1215.6h-11M996.1 1194.6h-11" stroke="#000" stroke-width="3.3" fill="none"/><path d="M1001.6 1257.6v18M1060.3 1257.6v18M1119 1257.6v18M996.1 1257.6h-18.7M996.1 1173.5h-18.7" stroke="#ff0000" stroke-width="4.5" fill="none"/><rect x="996.1" y="1173.5" width="128" height="84.1" fill="none" stroke="#ff0000" stroke-width="5.5"/></g>
<g><clipPath id="c8_5"><rect x="1175.5" y="1173.5" width="128" height="84.1"/></clipPath><g clip-path="url(#c8_5)"><polygon points="1181,1173.8 1187.2,1178.8 1189.3,1179.5 1191.4,1180.3 1194.6,1181.4 1196.7,1182.1 1197.7,1182.5 1201.9,1185.1 1203,1185.7 1204,1186.4 1207.2,1188.3 1209.3,1189.6 1216.6,1197.2 1217.7,1198.3 1218.7,1199.9 1219.8,1202.2 1220.8,1204.1 1223.9,1209.3 1225,1211.7 1226,1216.1 1228.1,1223.5 1230.2,1230.8 1234.4,1243.5 1238.6,1252.9 1239.7,1253.6 1240.7,1253.8 1243.9,1257.3 1298.4,1257.3 1298.4,1257.3 1243.9,1257.3 1240.7,1257.3 1239.7,1257.3 1238.6,1257.3 1234.4,1257.3 1230.2,1257.2 1228.1,1255.1 1226,1254.7 1225,1254.7 1223.9,1254.7 1220.8,1254.6 1219.8,1252.4 1218.7,1248.6 1217.7,1245.1 1216.6,1241.4 1209.3,1219.6 1207.2,1216.6 1204,1210.3 1203,1209 1201.9,1208.3 1197.7,1202.8 1196.7,1200.8 1194.6,1194.4 1191.4,1186.9 1189.3,1183.2 1187.2,1179 1181,1173.8" fill="#8fbbd9" stroke="#1f77b4" stroke-opacity="0.5" stroke-width="5.2" stroke-linejoin="round"/><polygon points="1181,1173.8 1187.2,1178.8 1192.5,1181.4 1195.6,1183.2 1197.7,1184.8 1200.9,1187.2 1204,1189.9 1206.1,1192.6 1208.2,1195.1 1211.4,1198.8 1214.5,1203.2 1218.7,1209.8 1219.8,1211.8 1220.8,1214.7 1221.9,1218.3 1222.9,1221.7 1223.9,1225.2 1227.1,1235.1 1228.1,1238.3 1230.2,1244.5 1233.4,1252.4 1234.4,1253.5 1235.5,1254.1 1237.6,1256.4 1238.6,1257.2 1298.4,1257.3 1298.4,1257.3 1238.6,1257.3 1237.6,1257.3 1235.5,1257.3 1234.4,1257.3 1233.4,1257.3 1230.2,1257.2 1228.1,1255.1 1227.1,1254.7 1223.9,1254.5 1222.9,1253.7 1221.9,1251.3 1220.8,1247.8 1219.8,1244.4 1218.7,1240.8 1214.5,1228.2 1211.4,1219.2 1208.2,1213 1206.1,1209.4 1204,1206.9 1200.9,1202.9 1197.7,1198 1195.6,1193.4 1192.5,1187 1187.2,1179 1181,1173.8" fill="#ffd9b7" stroke="#dc985d" stroke-opacity="0.5" stroke-width="5.2" stroke-linejoin="round"/><polygon points="1181,1173.8 1187.2,1178.9 1193.5,1183.1 1199.8,1189 1206.1,1197.5 1209.3,1201.3 1211.4,1203.8 1213.5,1206.8 1216.6,1212.1 1217.7,1214.5 1221.9,1227.8 1223.9,1234.3 1225,1237.4 1226,1240.6 1228.1,1246.7 1230.2,1252.4 1234.4,1256.7 1235.5,1257.2 1298.4,1257.3 1298.4,1257.3 1235.5,1257.3 1234.4,1257.3 1230.2,1257.2 1228.1,1255.1 1226,1254.6 1225,1253.9 1223.9,1252.2 1221.9,1245.6 1217.7,1232.5 1216.6,1229.4 1213.5,1220 1211.4,1214.9 1209.3,1211.1 1206.1,1206.5 1199.8,1198.9 1193.5,1187.5 1187.2,1179 1181,1173.8" fill="#d6ecf3" stroke="#a5cfde" stroke-opacity="0.5" stroke-width="5.2" stroke-linejoin="round"/><path d="M1195.6 1173.5V1257.6M1210.3 1173.5V1257.6M1269 1173.5V1257.6M1175.5 1194.6H1303.5" stroke="#b0b0b0" stroke-width="0.9" fill="none"/><path d="M1181 1173.5V1257.6M1239.7 1173.5V1257.6M1298.4 1173.5V1257.6" stroke="#ff0000" stroke-opacity="0.5" stroke-width="5.5" fill="none"/><path d="M1181 1174.7H1183V1176.4H1185.1V1178.1H1187.2V1180.2H1189.3V1182.7H1191.4V1185.1H1193.5V1187.9H1195.6V1191.4H1197.7V1194.9H1199.8V1198.3H1201.9V1200.4H1204V1202.5H1206.1V1204.7H1208.2V1207.8H1210.3V1211.1H1212.4V1214.7H1214.5V1221H1216.6V1227.4H1218.7V1233.7H1220.8V1240H1222.9V1246.8H1225V1253H1227.1V1255.1H1229.2V1257.2H1298.4" fill="none" stroke="#000" stroke-width="8.4" stroke-linejoin="round" stroke-linecap="round"/></g><path d="M1195.6 1257.6v11M1210.3 1257.6v11M1225 1257.6v11M1254.4 1257.6v11M1269 1257.6v11M1283.7 1257.6v11M1175.5 1236.6h-11M1175.5 1215.6h-11M1175.5 1194.6h-11" stroke="#000" stroke-width="3.3" fill="none"/><path d="M1181 1257.6v18M1239.7 1257.6v18M1298.4 1257.6v18M1175.5 1257.6h-18.7M1175.5 1173.5h-18.7" stroke="#ff0000" stroke-width="4.5" fill="none"/><rect x="1175.5" y="1173.5" width="128" height="84.1" fill="none" stroke="#ff0000" stroke-width="5.5"/></g>
<g><clipPath id="c8_6"><rect x="1354.9" y="1173.5" width="128" height="84.1"/></clipPath><g clip-path="url(#c8_6)"><polygon points="1360.4,1173.8 1364.5,1176.7 1366.6,1178.1 1369.8,1179 1370.8,1179.2 1371.9,1179.5 1375,1180.3 1376.1,1180.6 1377.1,1180.9 1380.3,1182 1383.4,1183.7 1387.6,1185.8 1388.7,1186.3 1389.7,1186.8 1390.8,1187.6 1396,1193.2 1397.1,1194.3 1398.1,1195.3 1399.2,1196.4 1401.3,1199.5 1402.3,1200.9 1403.3,1202.3 1404.4,1203.7 1405.4,1205.1 1406.5,1207.1 1408.6,1213.2 1412.8,1223.1 1413.8,1226.4 1417,1236.2 1418,1239.2 1420.1,1243.4 1423.3,1250.7 1426.4,1256.6 1427.5,1257.3 1477.8,1257.3 1477.8,1257.3 1427.5,1257.3 1426.4,1257.3 1423.3,1257.3 1420.1,1257.3 1418,1257.3 1417,1257.1 1413.8,1254.7 1412.8,1254.7 1408.6,1254.7 1406.5,1254.7 1405.4,1254.7 1404.4,1254.7 1403.3,1254 1402.3,1250.9 1401.3,1247.1 1399.2,1242.4 1398.1,1239.4 1397.1,1235.7 1396,1232.6 1390.8,1216.9 1389.7,1213.8 1388.7,1213 1387.6,1213.9 1383.4,1209.7 1380.3,1205.8 1377.1,1201.8 1376.1,1199.1 1375,1195.4 1371.9,1187.9 1370.8,1186 1369.8,1184.8 1366.6,1179.8 1364.5,1176.7 1360.4,1173.8" fill="#8fbbd9" stroke="#1f77b4" stroke-opacity="0.5" stroke-width="5.2" stroke-linejoin="round"/><polygon points="1360.4,1173.8 1365.6,1177.4 1367.7,1178.4 1377.1,1181.2 1380.3,1182.7 1381.3,1183.2 1384.5,1184.8 1388.7,1187.1 1391.8,1190.1 1393.9,1192 1398.1,1196.3 1401.3,1201 1402.3,1202.5 1404.4,1205.7 1405.4,1208.2 1406.5,1211.3 1407.5,1214.1 1410.7,1221.6 1412.8,1227.7 1413.8,1231.2 1415.9,1237.7 1417,1240.2 1421.2,1250.2 1423.3,1254 1425.4,1256.9 1428.5,1257.3 1477.8,1257.3 1477.8,1257.3 1428.5,1257.3 1425.4,1257.3 1423.3,1257.3 1421.2,1257.3 1417,1257.1 1415.9,1256.3 1413.8,1254.7 1412.8,1254.7 1410.7,1254.6 1407.5,1254.2 1406.5,1252.9 1405.4,1249.8 1404.4,1246.4 1402.3,1240.7 1401.3,1237 1398.1,1226.7 1393.9,1214.9 1391.8,1213.2 1388.7,1208.9 1384.5,1202.1 1381.3,1194.4 1380.3,1192.8 1377.1,1189.1 1367.7,1179.8 1365.6,1177.7 1360.4,1173.8" fill="#ffd9b7" stroke="#dc985d" stroke-opacity="0.5" stroke-width="5.2" stroke-linejoin="round"/><polygon points="1360.4,1173.8 1366.6,1178.1 1377.1,1181.7 1385.5,1186.3 1386.6,1186.9 1390.8,1190.4 1395,1194.2 1397.1,1196.8 1401.3,1203.4 1402.3,1205.2 1403.3,1207.6 1405.4,1213.7 1408.6,1221.4 1409.6,1224.1 1410.7,1227.2 1413.8,1237.6 1417,1245.7 1419.1,1251 1420.1,1253.1 1423.3,1256.9 1425.4,1257.3 1477.8,1257.3 1477.8,1257.3 1425.4,1257.3 1423.3,1257.3 1420.1,1257.3 1419.1,1257.3 1417,1257.1 1413.8,1254.7 1410.7,1254.4 1409.6,1253.4 1408.6,1251.5 1405.4,1241.8 1403.3,1234.2 1402.3,1230.4 1401.3,1226.9 1397.1,1215.7 1395,1212.3 1390.8,1203.9 1386.6,1194.9 1385.5,1193.2 1377.1,1186.3 1366.6,1178.4 1360.4,1173.8" fill="#d6ecf3" stroke="#a5cfde" stroke-opacity="0.5" stroke-width="5.2" stroke-linejoin="round"/><path d="M1389.7 1173.5V1257.6M1433.8 1173.5V1257.6M1463.1 1173.5V1257.6M1354.9 1194.6H1482.9" stroke="#b0b0b0" stroke-width="0.9" fill="none"/><path d="M1360.4 1173.5V1257.6M1419.1 1173.5V1257.6M1477.8 1173.5V1257.6" stroke="#ff0000" stroke-opacity="0.5" stroke-width="5.5" fill="none"/><path d="M1360.4 1174.5H1362.4V1176H1364.5V1177.4H1366.6V1178.8H1368.7V1180.1H1370.8V1181.4H1372.9V1182.7H1375V1184H1377.1V1185.3H1379.2V1186.6H1381.3V1187.9H1383.4V1189.2H1385.5V1190.7H1387.6V1192.1H1389.7V1193.5H1391.8V1197.3H1393.9V1201.5H1396V1207.2H1398.1V1213.5H1400.2V1219.2H1402.3V1224.5H1404.4V1230.9H1406.5V1239.4H1408.6V1246.6H1410.7V1252.9H1412.8V1254.6H1414.9V1256.3H1417V1257.3H1477.8" fill="none" stroke="#000" stroke-width="8.4" stroke-linejoin="round" stroke-linecap="round"/></g><path d="M1375 1257.6v11M1389.7 1257.6v11M1404.4 1257.6v11M1433.8 1257.6v11M1448.4 1257.6v11M1463.1 1257.6v11M1354.9 1236.6h-11M1354.9 1215.6h-11M1354.9 1194.6h-11" stroke="#000" stroke-width="3.3" fill="none"/><path d="M1360.4 1257.6v18M1419.1 1257.6v18M1477.8 1257.6v18M1354.9 1257.6h-18.7M1354.9 1173.5h-18.7" stroke="#ff0000" stroke-width="4.5" fill="none"/><rect x="1354.9" y="1173.5" width="128" height="84.1" fill="none" stroke="#ff0000" stroke-width="5.5"/></g>
<g><clipPath id="c8_7"><rect x="1534.3" y="1173.5" width="128" height="84.1"/></clipPath><g clip-path="url(#c8_7)"><polygon points="1539.8,1173.8 1546,1179.5 1549.2,1182.8 1550.2,1183.4 1551.3,1184.1 1553.4,1185.4 1555.5,1186.7 1558.6,1188.3 1560.7,1189.3 1561.8,1189.9 1566,1192.1 1567,1193 1568.1,1193.8 1570.2,1195.4 1571.2,1196.2 1572.3,1197 1573.3,1197.8 1574.4,1199.1 1575.4,1203 1576.5,1207.7 1578.6,1214 1579.6,1216.5 1580.7,1217.4 1581.7,1219.4 1583.8,1223.6 1584.8,1226.6 1585.9,1230.5 1589,1241 1591.1,1247.3 1594.3,1256.4 1595.3,1257.1 1657.2,1257.3 1657.2,1257.3 1595.3,1257.1 1594.3,1256.4 1591.1,1254.7 1589,1254.7 1585.9,1254.7 1584.8,1254.7 1583.8,1254.7 1581.7,1254.7 1580.7,1254.1 1579.6,1251 1578.6,1247.2 1576.5,1242.5 1575.4,1239.2 1574.4,1235.6 1573.3,1232.1 1572.3,1228.6 1571.2,1225.8 1570.2,1223.7 1568.1,1218.7 1567,1218 1566,1218.3 1561.8,1214.1 1560.7,1212.4 1558.6,1207.2 1555.5,1200.7 1553.4,1193.4 1551.3,1187.1 1550.2,1185 1549.2,1184.6 1546,1179.5 1539.8,1173.8" fill="#8fbbd9" stroke="#1f77b4" stroke-opacity="0.5" stroke-width="5.2" stroke-linejoin="round"/><polygon points="1539.8,1173.8 1546,1179.5 1549.2,1182.9 1550.2,1183.8 1552.3,1185.5 1556.5,1188.5 1560.7,1191.3 1562.8,1193 1564.9,1194.6 1568.1,1196.9 1569.1,1197.6 1570.2,1198.5 1571.2,1199.5 1573.3,1201.8 1574.4,1203.9 1575.4,1207.7 1577.5,1214.2 1578.6,1216.5 1579.6,1218 1581.7,1222.2 1582.7,1224.8 1583.8,1228.2 1588,1242.2 1590.1,1248.1 1592.2,1253.2 1593.2,1255.3 1595.3,1257.1 1657.2,1257.3 1657.2,1257.3 1595.3,1257.1 1593.2,1255.7 1592.2,1255.1 1590.1,1254.7 1588,1254.6 1583.8,1254.4 1582.7,1252.4 1581.7,1249.4 1579.6,1244 1578.6,1241.1 1577.5,1237.6 1575.4,1230.6 1574.4,1227.3 1573.3,1224.7 1571.2,1219.9 1570.2,1218.5 1569.1,1218.3 1568.1,1217.2 1564.9,1213.2 1562.8,1207.9 1560.7,1203.3 1556.5,1196.5 1552.3,1188.5 1550.2,1184.9 1549.2,1184.2 1546,1179.5 1539.8,1173.8" fill="#ffd9b7" stroke="#dc985d" stroke-opacity="0.5" stroke-width="5.2" stroke-linejoin="round"/><polygon points="1539.8,1173.8 1546,1179.5 1550.2,1184 1555.5,1188.6 1559.7,1192 1563.9,1195.4 1564.9,1196.1 1566,1196.8 1569.1,1199.1 1570.2,1200 1572.3,1201.7 1573.3,1203 1574.4,1205.9 1576.5,1212.8 1577.5,1215.5 1580.7,1221.5 1581.7,1223.9 1583.8,1230.8 1585.9,1237.8 1586.9,1241.2 1588,1244.5 1589,1247.3 1591.1,1251.9 1592.2,1254.2 1593.2,1255.6 1595.3,1257.1 1657.2,1257.3 1657.2,1257.3 1595.3,1257.1 1593.2,1255.7 1592.2,1255.1 1591.1,1254.7 1589,1254.6 1588,1254.6 1586.9,1254.3 1585.9,1252.2 1583.8,1247 1581.7,1241.4 1580.7,1237.9 1577.5,1227.6 1576.5,1224.7 1574.4,1219.8 1573.3,1218.4 1572.3,1217.6 1570.2,1214.7 1569.1,1212.7 1566,1204.1 1564.9,1202.2 1563.9,1201.2 1559.7,1196.9 1555.5,1192 1550.2,1184.8 1546,1179.5 1539.8,1173.8" fill="#d6ecf3" stroke="#a5cfde" stroke-opacity="0.5" stroke-width="5.2" stroke-linejoin="round"/><path d="M1554.4 1173.5V1257.6M1569.1 1173.5V1257.6M1583.8 1173.5V1257.6M1613.2 1173.5V1257.6M1627.8 1173.5V1257.6M1534.3 1194.6H1662.3" stroke="#b0b0b0" stroke-width="0.9" fill="none"/><path d="M1539.8 1173.5V1257.6M1598.5 1173.5V1257.6M1657.2 1173.5V1257.6" stroke="#ff0000" stroke-opacity="0.5" stroke-width="5.5" fill="none"/><path d="M1539.8 1174.7H1541.8V1176.5H1543.9V1178.4H1546V1180.7H1548.1V1183.1H1550.2V1185.5H1552.3V1187.8H1554.4V1189.9H1556.5V1192H1558.6V1193.9H1560.7V1195.4H1562.8V1196.8H1564.9V1198.2H1567V1199.6H1569.1V1200.9H1571.2V1202.3H1573.3V1207.8H1575.4V1214.5H1577.5V1218.7H1579.6V1222.9H1581.7V1229.7H1583.8V1236.7H1585.9V1243.6H1588V1248.7H1590.1V1253H1592.2V1255.7H1594.3V1257.1H1657.2V1257.3" fill="none" stroke="#000" stroke-width="8.4" stroke-linejoin="round" stroke-linecap="round"/></g><path d="M1554.4 1257.6v11M1569.1 1257.6v11M1583.8 1257.6v11M1613.2 1257.6v11M1627.8 1257.6v11M1642.5 1257.6v11M1534.3 1236.6h-11M1534.3 1215.6h-11M1534.3 1194.6h-11" stroke="#000" stroke-width="3.3" fill="none"/><path d="M1539.8 1257.6v18M1598.5 1257.6v18M1657.2 1257.6v18M1534.3 1257.6h-18.7M1534.3 1173.5h-18.7" stroke="#ff0000" stroke-width="4.5" fill="none"/><rect x="1534.3" y="1173.5" width="128" height="84.1" fill="none" stroke="#ff0000" stroke-width="5.5"/></g>
<g><clipPath id="c8_8"><rect x="1713.7" y="1173.5" width="128" height="84.1"/></clipPath><g clip-path="url(#c8_8)"><polygon points="1719.2,1173.8 1722.3,1176.5 1724.4,1177.2 1728.6,1177.8 1729.6,1177.9 1730.7,1178.1 1733.8,1178.5 1735.9,1178.8 1737,1179 1742.2,1179.7 1744.3,1180 1747.5,1180.5 1748.5,1180.6 1749.6,1180.8 1751.7,1181.1 1752.7,1181.2 1755.9,1182 1756.9,1182.4 1758,1182.7 1760.1,1183.4 1761.1,1183.8 1762.1,1184.1 1768.4,1186.5 1774.7,1191.1 1776.8,1192.6 1777.9,1193.3 1789.4,1202.5 1790.5,1203.9 1792.6,1209.4 1796.8,1217.7 1803.1,1240.5 1805.1,1248.9 1806.2,1251.7 1807.2,1252.4 1809.3,1256.6 1810.4,1257.3 1836.6,1257.3 1836.6,1257.3 1810.4,1257.3 1809.3,1257.3 1807.2,1257.3 1806.2,1257.3 1805.1,1257.3 1803.1,1257.3 1796.8,1257.3 1792.6,1257.3 1790.5,1257.3 1789.4,1257.3 1777.9,1257.3 1776.8,1256.7 1774.7,1254.7 1768.4,1254.7 1762.1,1254.6 1761.1,1253 1760.1,1250.5 1758,1247.3 1756.9,1244 1755.9,1239.5 1752.7,1230 1751.7,1225.7 1749.6,1215.9 1748.5,1214.2 1747.5,1215.1 1744.3,1211.3 1742.2,1209.8 1737,1205.3 1735.9,1203.5 1733.8,1195.4 1730.7,1186.6 1729.6,1185.4 1728.6,1185.6 1724.4,1180 1722.3,1176.5 1719.2,1173.8" fill="#8fbbd9" stroke="#1f77b4" stroke-opacity="0.5" stroke-width="5.2" stroke-linejoin="round"/><polygon points="1719.2,1173.8 1722.3,1176.5 1724.4,1177.2 1729.6,1178.3 1730.7,1178.8 1731.7,1179.2 1734.9,1180.6 1739.1,1182.3 1740.1,1182.7 1742.2,1183.4 1743.3,1183.8 1748.5,1185.5 1750.6,1186.2 1751.7,1186.6 1752.7,1187.2 1755.9,1191.2 1758,1193.8 1760.1,1196.4 1761.1,1197.7 1762.1,1199.6 1764.2,1203.8 1765.3,1205.9 1766.3,1208 1768.4,1212.4 1772.6,1224.9 1774.7,1229.3 1776.8,1233.4 1777.9,1235.5 1778.9,1237.6 1780,1239.1 1788.4,1241.3 1793.6,1246.3 1803.1,1256.8 1805.1,1257.3 1836.6,1257.3 1836.6,1257.3 1805.1,1257.3 1803.1,1257.3 1793.6,1257.3 1788.4,1257.3 1780,1257.3 1778.9,1257.3 1777.9,1257.3 1776.8,1256.7 1774.7,1254.7 1772.6,1254.7 1768.4,1254.6 1766.3,1254.3 1765.3,1252.9 1764.2,1250.7 1762.1,1247.1 1761.1,1244.4 1760.1,1241.2 1758,1235.6 1755.9,1229.3 1752.7,1217.3 1751.7,1215.1 1750.6,1214.6 1748.5,1211.5 1743.3,1205.7 1742.2,1204 1740.1,1197.6 1739.1,1195.1 1734.9,1189.7 1731.7,1186 1730.7,1185.6 1729.6,1184.7 1724.4,1179 1722.3,1176.5 1719.2,1173.8" fill="#ffd9b7" stroke="#dc985d" stroke-opacity="0.5" stroke-width="5.2" stroke-linejoin="round"/><polygon points="1719.2,1173.8 1723.3,1177.1 1726.5,1178.5 1731.7,1181.7 1734.9,1183.4 1742.2,1187.4 1744.3,1189 1745.4,1189.8 1747.5,1191.3 1751.7,1194.6 1752.7,1195.4 1753.8,1196.9 1754.8,1198.9 1759,1208.8 1761.1,1214.5 1765.3,1226.8 1768.4,1234.7 1769.5,1236.9 1770.5,1238.9 1774.7,1242 1776.8,1245.1 1777.9,1246.7 1782.1,1253 1785.2,1256.4 1786.3,1257.1 1836.6,1257.3 1836.6,1257.3 1786.3,1257.3 1785.2,1257.3 1782.1,1257.3 1777.9,1257.3 1776.8,1256.7 1774.7,1254.7 1770.5,1254.5 1769.5,1253.6 1768.4,1252.2 1765.3,1246 1761.1,1236.1 1759,1230.3 1754.8,1216.1 1753.8,1214.9 1752.7,1212.9 1751.7,1210.9 1747.5,1204.3 1745.4,1198.5 1744.3,1196 1742.2,1193.9 1734.9,1187.4 1731.7,1185.2 1726.5,1180.6 1723.3,1177.5 1719.2,1173.8" fill="#d6ecf3" stroke="#a5cfde" stroke-opacity="0.5" stroke-width="5.2" stroke-linejoin="round"/><path d="M1733.8 1173.5V1257.6M1763.2 1173.5V1257.6M1807.2 1173.5V1257.6M1821.9 1173.5V1257.6M1713.7 1194.6H1841.7" stroke="#b0b0b0" stroke-width="0.9" fill="none"/><path d="M1719.2 1173.5V1257.6M1777.9 1173.5V1257.6M1836.6 1173.5V1257.6" stroke="#ff0000" stroke-opacity="0.5" stroke-width="5.5" fill="none"/><path d="M1719.2 1174.7H1721.2V1176.5H1723.3V1178.3H1725.4V1179.9H1727.5V1181.5H1729.6V1183H1731.7V1184.6H1733.8V1186.1H1735.9V1187.4H1738V1188.7H1740.1V1190.1H1742.2V1191.4H1744.3V1192.8H1746.4V1194.1H1748.5V1195.5H1750.6V1199.8H1752.7V1205.1H1754.8V1210.9H1756.9V1217.2H1759V1223.4H1761.1V1229.8H1763.2V1235.6H1765.3V1239.8H1767.4V1244H1769.5V1248.1H1771.6V1252.3H1773.7V1254.6H1775.8V1256.7H1777.9V1257.3H1836.6" fill="none" stroke="#000" stroke-width="8.4" stroke-linejoin="round" stroke-linecap="round"/></g><path d="M1733.8 1257.6v11M1748.5 1257.6v11M1763.2 1257.6v11M1792.6 1257.6v11M1807.2 1257.6v11M1821.9 1257.6v11M1713.7 1236.6h-11M1713.7 1215.6h-11M1713.7 1194.6h-11" stroke="#000" stroke-width="3.3" fill="none"/><path d="M1719.2 1257.6v18M1777.9 1257.6v18M1836.6 1257.6v18M1713.7 1257.6h-18.7M1713.7 1173.5h-18.7" stroke="#ff0000" stroke-width="4.5" fill="none"/><rect x="1713.7" y="1173.5" width="128" height="84.1" fill="none" stroke="#ff0000" stroke-width="5.5"/></g>
<g><clipPath id="c8_9"><rect x="1893.1" y="1173.5" width="128" height="84.1"/></clipPath><g clip-path="url(#c8_9)"><polygon points="1898.6,1173.8 1899.6,1174.2 1905.9,1180.4 1910.1,1183.2 1914.3,1185.9 1916.4,1187.5 1918.5,1189.1 1921.6,1191.5 1922.7,1192 1923.7,1192.3 1927.9,1193.9 1929,1194.4 1930,1194.8 1933.2,1196.1 1934.2,1198.5 1935.3,1203.1 1937.4,1208.2 1938.4,1210.7 1939.5,1214.2 1941.5,1221.3 1943.6,1228.6 1944.7,1231.7 1945.7,1233.3 1949.9,1243.5 1951,1246.3 1953.1,1251.5 1954.1,1253.6 1956.2,1256.3 1957.3,1257.3 2016,1257.3 2016,1257.3 1957.3,1257.3 1956.2,1257.3 1954.1,1257 1953.1,1256.2 1951,1254.7 1949.9,1254.7 1945.7,1254.7 1944.7,1254.7 1943.6,1254.3 1941.5,1248.2 1939.5,1243.7 1938.4,1240.1 1937.4,1236.5 1935.3,1230.2 1934.2,1227 1933.2,1223.4 1930,1212.8 1929,1214 1927.9,1214.4 1923.7,1211.6 1922.7,1210.3 1921.6,1208.3 1918.5,1204.1 1916.4,1200.9 1914.3,1195.9 1910.1,1187.5 1905.9,1180.4 1899.6,1174.2 1898.6,1173.8" fill="#8fbbd9" stroke="#1f77b4" stroke-opacity="0.5" stroke-width="5.2" stroke-linejoin="round"/><polygon points="1898.6,1173.8 1899.6,1174.2 1905.9,1180.4 1912.2,1185.7 1916.4,1189.7 1918.5,1191.6 1921.6,1193.5 1925.8,1196.1 1926.9,1197.4 1927.9,1198.7 1929,1200.2 1931.1,1202.9 1932.1,1204 1933.2,1205.1 1934.2,1206.5 1936.3,1211.8 1939.5,1221.4 1941.5,1228.2 1942.6,1231.4 1944.7,1236.5 1946.8,1242.1 1947.8,1244.9 1951,1251.7 1952,1253.7 1954.1,1255.7 1956.2,1257.3 2016,1257.3 2016,1257.3 1956.2,1257.3 1954.1,1257 1952,1255.4 1951,1254.7 1947.8,1254.5 1946.8,1253.9 1944.7,1249.4 1942.6,1244.9 1941.5,1242 1939.5,1235.3 1936.3,1225.8 1934.2,1219.1 1933.2,1215.9 1932.1,1214.4 1931.1,1214.1 1929,1211.8 1927.9,1210.1 1926.9,1207.8 1925.8,1206.2 1921.6,1202.3 1918.5,1198.6 1916.4,1196 1912.2,1189.4 1905.9,1180.4 1899.6,1174.2 1898.6,1173.8" fill="#ffd9b7" stroke="#dc985d" stroke-opacity="0.5" stroke-width="5.2" stroke-linejoin="round"/><polygon points="1898.6,1173.8 1899.6,1174.2 1905.9,1180.4 1912.2,1186.6 1917.4,1192.2 1923.7,1197.7 1927.9,1201.9 1929,1202.8 1931.1,1204.6 1932.1,1205.4 1933.2,1206.8 1934.2,1209.4 1938.4,1221.5 1941.5,1231.2 1943.6,1236.9 1944.7,1239.8 1946.8,1245.7 1947.8,1247.9 1948.9,1249.8 1951,1253.7 1954.1,1256.4 1955.2,1257.1 2016,1257.3 2016,1257.3 1955.2,1257.3 1954.1,1257 1951,1254.7 1948.9,1254.3 1947.8,1252.8 1946.8,1250.8 1944.7,1246.8 1943.6,1244.3 1941.5,1238 1938.4,1228.5 1934.2,1215.8 1933.2,1214.3 1932.1,1212.9 1931.1,1211.1 1929,1206.6 1927.9,1205.4 1923.7,1202.2 1917.4,1196.1 1912.2,1188.6 1905.9,1180.4 1899.6,1174.2 1898.6,1173.8" fill="#d6ecf3" stroke="#a5cfde" stroke-opacity="0.5" stroke-width="5.2" stroke-linejoin="round"/><path d="M1927.9 1173.5V1257.6M1942.6 1173.5V1257.6M1972 1173.5V1257.6M2001.3 1173.5V1257.6M1893.1 1194.6H2021.1" stroke="#b0b0b0" stroke-width="0.9" fill="none"/><path d="M1898.6 1173.5V1257.6M1957.3 1173.5V1257.6M2016 1173.5V1257.6" stroke="#ff0000" stroke-opacity="0.5" stroke-width="5.5" fill="none"/><path d="M1898.6 1174.2H1900.6V1176.2H1902.7V1178.2H1904.8V1180.4H1906.9V1182.9H1909V1185.3H1911.1V1187.9H1913.2V1190.7H1915.3V1193.5H1917.4V1196.1H1919.5V1197.9H1921.6V1199.6H1923.7V1201.4H1925.8V1202.8H1927.9V1204.2H1930V1205.6H1932.1V1209.8H1934.2V1215.6H1936.3V1221.6H1938.4V1227.9H1940.5V1234.2H1942.6V1240.5H1944.7V1246.4H1946.8V1250.1H1948.9V1253.8H1951V1255.4H1953.1V1257H2016V1257.3" fill="none" stroke="#000" stroke-width="8.4" stroke-linejoin="round" stroke-linecap="round"/></g><path d="M1913.2 1257.6v11M1927.9 1257.6v11M1942.6 1257.6v11M1972 1257.6v11M1986.6 1257.6v11M2001.3 1257.6v11M1893.1 1236.6h-11M1893.1 1215.6h-11M1893.1 1194.6h-11" stroke="#000" stroke-width="3.3" fill="none"/><path d="M1898.6 1257.6v18M1957.3 1257.6v18M2016 1257.6v18M1893.1 1257.6h-18.7M1893.1 1173.5h-18.7" stroke="#ff0000" stroke-width="4.5" fill="none"/><rect x="1893.1" y="1173.5" width="128" height="84.1" fill="none" stroke="#ff0000" stroke-width="5.5"/></g>
<g><clipPath id="c8_10"><rect x="2072.5" y="1173.5" width="128" height="84.1"/></clipPath><g clip-path="url(#c8_10)"><polygon points="2077.9,1173.8 2084.2,1179 2086.3,1181.4 2087.4,1182 2088.4,1182.6 2089.5,1183.2 2093.7,1185.4 2096.8,1187 2097.9,1187.5 2098.9,1188 2105.2,1190.8 2110.5,1192.9 2111.5,1193.3 2112.6,1193.8 2113.6,1195.7 2114.7,1200.2 2116.8,1205.2 2118.9,1210 2120.9,1215 2133.5,1244.1 2135.6,1247.9 2137.7,1252.2 2138.8,1254.3 2139.8,1256.4 2140.9,1257.3 2195.4,1257.3 2195.4,1257.3 2140.9,1257.3 2139.8,1257.3 2138.8,1257.3 2137.7,1256.3 2135.6,1254.7 2133.5,1254.7 2120.9,1254.4 2118.9,1250.2 2116.8,1246.9 2114.7,1242.1 2113.6,1240 2112.6,1237.9 2111.5,1236.8 2110.5,1236.7 2105.2,1231.4 2098.9,1222.7 2097.9,1218.7 2096.8,1214 2093.7,1201.5 2089.5,1186.5 2088.4,1184.3 2087.4,1184.2 2086.3,1182.4 2084.2,1179 2077.9,1173.8" fill="#8fbbd9" stroke="#1f77b4" stroke-opacity="0.5" stroke-width="5.2" stroke-linejoin="round"/><polygon points="2077.9,1173.8 2084.2,1179 2086.3,1181.4 2087.4,1182.2 2089.5,1183.8 2094.7,1187.5 2100,1190.9 2102.1,1192.2 2103.1,1192.8 2105.2,1194.4 2107.3,1196.8 2108.4,1198 2109.4,1199.2 2113.6,1203 2117.8,1213 2118.9,1215.7 2124.1,1229.1 2128.3,1238.1 2131.4,1244.5 2135.6,1251.9 2137.7,1254.9 2138.8,1256.3 2139.8,1257.3 2195.4,1257.3 2195.4,1257.3 2139.8,1257.3 2138.8,1257.3 2137.7,1256.3 2135.6,1254.7 2131.4,1254.6 2128.3,1254.3 2124.1,1247.6 2118.9,1237.6 2117.8,1236.7 2113.6,1231.2 2109.4,1223.7 2108.4,1221 2107.3,1217.4 2105.2,1210.5 2103.1,1204 2102.1,1202.2 2100,1200.3 2094.7,1194.6 2089.5,1185.6 2087.4,1183.3 2086.3,1181.9 2084.2,1179 2077.9,1173.8" fill="#ffd9b7" stroke="#dc985d" stroke-opacity="0.5" stroke-width="5.2" stroke-linejoin="round"/><polygon points="2077.9,1173.8 2084.2,1179 2087.4,1182.4 2092.6,1187.1 2096.8,1190.6 2103.1,1196 2107.3,1199.5 2108.4,1200.2 2112.6,1203 2114.7,1208.1 2116.8,1213.3 2119.9,1222 2122,1227.6 2123,1230 2127.2,1238.7 2130.4,1244.6 2132.5,1248.2 2133.5,1250 2135.6,1253.3 2137.7,1255.7 2138.8,1256.8 2140.9,1257.3 2195.4,1257.3 2195.4,1257.3 2140.9,1257.3 2138.8,1257.3 2137.7,1256.3 2135.6,1254.7 2133.5,1254.6 2132.5,1254 2130.4,1251.1 2127.2,1245.9 2123,1238.1 2122,1236.6 2119.9,1233.1 2116.8,1227.2 2114.7,1222.2 2112.6,1215.6 2108.4,1203.9 2107.3,1202.4 2103.1,1199.8 2096.8,1195 2092.6,1189.5 2087.4,1182.9 2084.2,1179 2077.9,1173.8" fill="#d6ecf3" stroke="#a5cfde" stroke-opacity="0.5" stroke-width="5.2" stroke-linejoin="round"/><path d="M2092.6 1173.5V1257.6M2122 1173.5V1257.6M2166 1173.5V1257.6M2072.5 1194.6H2200.5" stroke="#b0b0b0" stroke-width="0.9" fill="none"/><path d="M2077.9 1173.5V1257.6M2136.7 1173.5V1257.6M2195.4 1173.5V1257.6" stroke="#ff0000" stroke-opacity="0.5" stroke-width="5.5" fill="none"/><path d="M2077.9 1174.6H2080V1176.3H2082.1V1178.1H2084.2V1180.2H2086.3V1182.7H2088.4V1185.1H2090.5V1187.6H2092.6V1190H2094.7V1192.5H2096.8V1194.8H2098.9V1196.2H2101V1197.7H2103.1V1199.1H2105.2V1200.2H2107.3V1201.2H2109.4V1202.2H2111.5V1205.7H2113.6V1210.9H2115.7V1216.6H2117.8V1222.9H2119.9V1228.7H2122V1232.9H2124.1V1237.1H2126.2V1241.3H2128.3V1244.8H2130.4V1248.2H2132.5V1251.7H2134.6V1254.2H2136.7V1256.3H2138.8V1257.3H2195.4" fill="none" stroke="#000" stroke-width="8.4" stroke-linejoin="round" stroke-linecap="round"/></g><path d="M2092.6 1257.6v11M2107.3 1257.6v11M2122 1257.6v11M2151.4 1257.6v11M2166 1257.6v11M2180.7 1257.6v11M2072.5 1236.6h-11M2072.5 1215.6h-11M2072.5 1194.6h-11" stroke="#000" stroke-width="3.3" fill="none"/><path d="M2077.9 1257.6v18M2136.7 1257.6v18M2195.4 1257.6v18M2072.5 1257.6h-18.7M2072.5 1173.5h-18.7" stroke="#ff0000" stroke-width="4.5" fill="none"/><rect x="2072.5" y="1173.5" width="128" height="84.1" fill="none" stroke="#ff0000" stroke-width="5.5"/></g>
<g><clipPath id="c9_0"><rect x="278.5" y="1291.4" width="128" height="84.1"/></clipPath><g clip-path="url(#c9_0)"><polygon points="283.9,1292.5 288.1,1295.6 291.3,1298 293.4,1298.8 294.4,1299.2 295.5,1299.6 297.6,1300.4 298.6,1301.2 300.7,1306.3 308.1,1319.4 312.3,1328 315.4,1334.3 316.5,1336.5 317.5,1339.6 318.6,1343.1 324.9,1360.2 328,1369 329,1371.6 330.1,1373.2 331.1,1374.2 333.2,1375 401.4,1375 401.4,1375 333.2,1375 331.1,1374.2 330.1,1373.7 329,1373.3 328,1372.4 324.9,1372.4 318.6,1372.4 317.5,1371.9 316.5,1368 315.4,1363.2 312.3,1353.7 308.1,1340.4 300.7,1317 298.6,1311.8 297.6,1309 295.5,1303.8 294.4,1302.7 293.4,1302.6 291.3,1299.8 288.1,1295.6 283.9,1292.5" fill="#8fbbd9" stroke="#1f77b4" stroke-opacity="0.5" stroke-width="5.2" stroke-linejoin="round"/><polygon points="283.9,1292.5 289.2,1296.4 292.3,1298.6 294.4,1299.7 295.5,1300.2 296.5,1301 297.6,1302.2 300.7,1307.7 303.9,1313.2 308.1,1322.1 314.4,1335.9 318.6,1346.9 321.7,1354.9 323.8,1360.5 326.9,1368.2 328,1370.6 329,1372.5 330.1,1373.6 333.2,1375 401.4,1375 401.4,1375 333.2,1375 330.1,1373.7 329,1373.3 328,1372.4 326.9,1372.4 323.8,1372.2 321.7,1371.8 318.6,1362.7 314.4,1351 308.1,1333.2 303.9,1321.4 300.7,1313 297.6,1306.4 296.5,1304.3 295.5,1302.9 294.4,1302.3 292.3,1300 289.2,1296.7 283.9,1292.5" fill="#ffd9b7" stroke="#dc985d" stroke-opacity="0.5" stroke-width="5.2" stroke-linejoin="round"/><polygon points="283.9,1292.5 290.2,1297.2 296.5,1301.8 298.6,1304.8 301.8,1310 303.9,1314 314.4,1338.2 322.8,1359.3 324.9,1364.5 326.9,1369.1 328,1371.3 329,1372.9 332.2,1374.6 334.3,1375 401.4,1375 401.4,1375 334.3,1375 332.2,1374.6 329,1373.3 328,1372.4 326.9,1372.3 324.9,1371.8 322.8,1367 314.4,1345.2 303.9,1318 301.8,1312.8 298.6,1306.9 296.5,1303.3 290.2,1297.5 283.9,1292.5" fill="#d6ecf3" stroke="#a5cfde" stroke-opacity="0.5" stroke-width="5.2" stroke-linejoin="round"/><path d="M298.6 1291.4V1375.5M313.3 1291.4V1375.5M357.4 1291.4V1375.5M386.7 1291.4V1375.5M278.5 1354.5H406.5M278.5 1333.5H406.5M278.5 1312.4H406.5" stroke="#b0b0b0" stroke-width="0.9" fill="none"/><path d="M283.9 1291.4V1375.5M342.7 1291.4V1375.5M401.4 1291.4V1375.5" stroke="#ff0000" stroke-opacity="0.5" stroke-width="5.5" fill="none"/><path d="M283.9 1293.3H286V1294.9H288.1V1296.4H290.2V1298.1H292.3V1299.8H294.4V1301.6H296.5V1303.9H298.6V1307.3H300.7V1310.6H302.8V1315H304.9V1320.1H307V1325.1H309.1V1330.2H311.2V1335.2H313.3V1340.3H315.4V1345.3H317.5V1350.3H319.6V1355.5H321.7V1360.7H323.8V1365.6H325.9V1369.8H328V1373.3H330.1V1374.2H332.2V1375H401.4" fill="none" stroke="#000" stroke-width="8.4" stroke-linejoin="round" stroke-linecap="round"/></g><path d="M298.6 1375.5v11M313.3 1375.5v11M328 1375.5v11M357.4 1375.5v11M372 1375.5v11M386.7 1375.5v11M278.5 1354.5h-11M278.5 1333.5h-11M278.5 1312.4h-11" stroke="#000" stroke-width="3.3" fill="none"/><path d="M283.9 1375.5v18M342.7 1375.5v18M401.4 1375.5v18M278.5 1375.5h-18.7M278.5 1291.4h-18.7" stroke="#ff0000" stroke-width="4.5" fill="none"/><rect x="278.5" y="1291.4" width="128" height="84.1" fill="none" stroke="#ff0000" stroke-width="5.5"/></g>
<g><clipPath id="c9_1"><rect x="457.9" y="1291.4" width="128" height="84.1"/></clipPath><g clip-path="url(#c9_1)"><polygon points="463.3,1292.5 468.6,1295.4 472.8,1297.6 473.8,1297.9 474.9,1298.2 480.1,1299.5 483.3,1301.8 485.4,1303.3 490.6,1307 491.7,1308 493.8,1311.9 494.8,1313.4 495.9,1315 498,1318.1 499,1319.7 500.1,1321.3 501.1,1323.5 503.2,1329.5 507.4,1339.5 510.5,1348.9 511.6,1351.9 513.7,1357.8 514.7,1360.9 518.9,1373.5 520,1375 580.8,1375 580.8,1375 520,1375 518.9,1375 514.7,1374.7 513.7,1373.8 511.6,1372.4 510.5,1372.4 507.4,1372.4 503.2,1372.4 501.1,1372.4 500.1,1372.4 499,1371.1 498,1367.2 495.9,1363.3 494.8,1360.3 493.8,1356.2 491.7,1349.8 490.6,1346.7 485.4,1328.8 483.3,1323 480.1,1314.5 474.9,1302.8 473.8,1301.7 472.8,1301.2 468.6,1295.5 463.3,1292.5" fill="#8fbbd9" stroke="#1f77b4" stroke-opacity="0.5" stroke-width="5.2" stroke-linejoin="round"/><polygon points="463.3,1292.5 468.6,1295.4 472.8,1297.7 475.9,1298.7 479.1,1300.1 483.3,1303.3 486.4,1305.9 488.5,1307.8 492.7,1314.5 495.9,1319.5 496.9,1321.2 498,1323.6 500.1,1329.7 501.1,1332.4 502.2,1335.1 504.3,1341.1 507.4,1350.9 511.6,1362.3 513.7,1367.5 514.7,1370.1 516.8,1373.7 517.9,1374.8 580.8,1375 580.8,1375 517.9,1375 516.8,1375 514.7,1374.7 513.7,1373.8 511.6,1372.4 507.4,1372.3 504.3,1372.2 502.2,1372 501.1,1370.4 500.1,1367.2 498,1363.1 496.9,1360.2 495.9,1356.6 492.7,1347.2 488.5,1332.9 486.4,1326.4 483.3,1317.9 479.1,1309 475.9,1302.9 472.8,1300 468.6,1295.5 463.3,1292.5" fill="#ffd9b7" stroke="#dc985d" stroke-opacity="0.5" stroke-width="5.2" stroke-linejoin="round"/><polygon points="463.3,1292.5 469.6,1296 474.9,1298.7 477,1299.7 481.2,1302.8 485.4,1306.9 487.5,1309.4 490.6,1314.6 493.8,1319.7 494.8,1321.7 496.9,1327.6 500.1,1336.6 501.1,1339.9 503.2,1346.9 504.3,1350.2 505.3,1353 506.3,1355.7 509.5,1363.6 511.6,1368.3 512.6,1370.6 514.7,1373.2 516.8,1374.9 580.8,1375 580.8,1375 516.8,1375 514.7,1374.7 512.6,1372.9 511.6,1372.4 509.5,1372.3 506.3,1372.2 505.3,1371.6 504.3,1369.7 503.2,1367.1 501.1,1362.9 500.1,1360.2 496.9,1351.2 494.8,1344.5 493.8,1340.9 490.6,1330.3 487.5,1321.3 485.4,1316.7 481.2,1308.8 477,1302.5 474.9,1300.8 469.6,1296.3 463.3,1292.5" fill="#d6ecf3" stroke="#a5cfde" stroke-opacity="0.5" stroke-width="5.2" stroke-linejoin="round"/><path d="M492.7 1291.4V1375.5M507.4 1291.4V1375.5M536.8 1291.4V1375.5M551.4 1291.4V1375.5M457.9 1354.5H585.9M457.9 1333.5H585.9M457.9 1312.4H585.9" stroke="#b0b0b0" stroke-width="0.9" fill="none"/><path d="M463.3 1291.4V1375.5M522.1 1291.4V1375.5M580.8 1291.4V1375.5" stroke="#ff0000" stroke-opacity="0.5" stroke-width="5.5" fill="none"/><path d="M463.3 1293.1H465.4V1294.2H467.5V1295.4H469.6V1296.6H471.7V1297.9H473.8V1299.2H475.9V1300.6H478V1302.1H480.1V1304.5H482.2V1307H484.3V1309.5H486.4V1312.9H488.5V1316.4H490.6V1319.9H492.7V1325.4H494.8V1331.7H496.9V1338.5H499V1345.8H501.1V1352.4H503.2V1357.6H505.3V1362.6H507.4V1366.9H509.5V1371H511.6V1372.9H513.7V1374.7H580.8V1375" fill="none" stroke="#000" stroke-width="8.4" stroke-linejoin="round" stroke-linecap="round"/></g><path d="M478 1375.5v11M492.7 1375.5v11M507.4 1375.5v11M536.8 1375.5v11M551.4 1375.5v11M566.1 1375.5v11M457.9 1354.5h-11M457.9 1333.5h-11M457.9 1312.4h-11" stroke="#000" stroke-width="3.3" fill="none"/><path d="M463.3 1375.5v18M522.1 1375.5v18M580.8 1375.5v18M457.9 1375.5h-18.7M457.9 1291.4h-18.7" stroke="#ff0000" stroke-width="4.5" fill="none"/><rect x="457.9" y="1291.4" width="128" height="84.1" fill="none" stroke="#ff0000" stroke-width="5.5"/></g>
<g><clipPath id="c9_2"><rect x="637.3" y="1291.4" width="128" height="84.1"/></clipPath><g clip-path="url(#c9_2)"><polygon points="642.8,1292.5 649,1298.1 652.2,1301.2 654.3,1303 655.3,1303.7 659.5,1306.4 663.7,1310.2 669,1314.9 672.1,1319.6 673.2,1321 674.2,1322.4 675.3,1323.8 676.3,1327.4 677.4,1332.1 681.6,1346.8 683.7,1354.2 685.7,1361.4 689.9,1373.8 691,1375 760.2,1375 760.2,1375 691,1375 689.9,1375 685.7,1374.7 683.7,1374.4 681.6,1372.4 677.4,1372.4 676.3,1372.4 675.3,1371.5 674.2,1367.9 673.2,1364.9 672.1,1360.6 669,1351.1 663.7,1335.3 659.5,1320.7 655.3,1308.7 654.3,1306.3 652.2,1303.7 649,1298.1 642.8,1292.5" fill="#8fbbd9" stroke="#1f77b4" stroke-opacity="0.5" stroke-width="5.2" stroke-linejoin="round"/><polygon points="642.8,1292.5 649,1298.1 654.3,1303.1 655.3,1303.9 659.5,1307.6 660.6,1308.8 664.8,1313.3 666.9,1316.1 670,1321.4 671.1,1323.2 672.1,1325.8 676.3,1340 678.4,1347.5 679.5,1351.4 681.6,1358.8 683.7,1365.5 686.8,1373 687.8,1374.4 691,1375 760.2,1375 760.2,1375 691,1375 687.8,1375 686.8,1374.8 683.7,1374.4 681.6,1372.4 679.5,1372.2 678.4,1371.4 676.3,1366.5 672.1,1352.8 671.1,1349.2 670,1345.6 666.9,1335.6 664.8,1328.9 660.6,1316.9 659.5,1314.5 655.3,1306 654.3,1304.7 649,1298.1 642.8,1292.5" fill="#ffd9b7" stroke="#dc985d" stroke-opacity="0.5" stroke-width="5.2" stroke-linejoin="round"/><polygon points="642.8,1292.5 650.1,1299.2 655.3,1304.1 658.5,1307.5 661.6,1311.7 664.8,1316.1 669,1324.9 671.1,1331.2 674.2,1341.3 677.4,1353.1 679.5,1360.4 680.5,1363.8 681.6,1366.8 683.7,1371.1 684.7,1373.2 685.7,1374.3 691,1375 760.2,1375 760.2,1375 691,1375 685.7,1374.7 684.7,1374.5 683.7,1374.4 681.6,1372.3 680.5,1372.2 679.5,1370.4 677.4,1366 674.2,1355.6 671.1,1344.2 669,1337.3 664.8,1324.8 661.6,1316.5 658.5,1310.6 655.3,1305.2 650.1,1299.3 642.8,1292.5" fill="#d6ecf3" stroke="#a5cfde" stroke-opacity="0.5" stroke-width="5.2" stroke-linejoin="round"/><path d="M657.4 1291.4V1375.5M686.8 1291.4V1375.5M730.8 1291.4V1375.5M745.5 1291.4V1375.5M637.3 1354.5H765.3M637.3 1333.5H765.3M637.3 1312.4H765.3" stroke="#b0b0b0" stroke-width="0.9" fill="none"/><path d="M642.8 1291.4V1375.5M701.5 1291.4V1375.5M760.2 1291.4V1375.5" stroke="#ff0000" stroke-opacity="0.5" stroke-width="5.5" fill="none"/><path d="M642.8 1293.5H644.8V1295.3H646.9V1297.2H649V1299.2H651.1V1301.2H653.2V1303.3H655.3V1305.7H657.4V1309.2H659.5V1312.7H661.6V1316.2H663.7V1321.4H665.8V1326.7H667.9V1332.8H670V1339.1H672.1V1346.6H674.2V1355H676.3V1362H678.4V1367.8H680.5V1371.4H682.6V1374.4H686.8V1375H760.2" fill="none" stroke="#000" stroke-width="8.4" stroke-linejoin="round" stroke-linecap="round"/></g><path d="M657.4 1375.5v11M672.1 1375.5v11M686.8 1375.5v11M716.2 1375.5v11M730.8 1375.5v11M745.5 1375.5v11M637.3 1354.5h-11M637.3 1333.5h-11M637.3 1312.4h-11" stroke="#000" stroke-width="3.3" fill="none"/><path d="M642.8 1375.5v18M701.5 1375.5v18M760.2 1375.5v18M637.3 1375.5h-18.7M637.3 1291.4h-18.7" stroke="#ff0000" stroke-width="4.5" fill="none"/><rect x="637.3" y="1291.4" width="128" height="84.1" fill="none" stroke="#ff0000" stroke-width="5.5"/></g>
<g><clipPath id="c9_3"><rect x="816.7" y="1291.4" width="128" height="84.1"/></clipPath><g clip-path="url(#c9_3)"><polygon points="822.2,1292.5 826.3,1296.5 828.4,1297.3 831.6,1298.3 833.7,1299 838.9,1300.9 844.2,1305.3 848.4,1308.7 850.5,1310.9 852.6,1314.7 853.6,1316.3 855.7,1319.5 856.8,1321 857.8,1322.6 858.9,1324.3 859.9,1327.3 861,1331.3 863.1,1336.9 865.1,1342.4 867.2,1348.9 871.4,1363.5 874.6,1372.9 875.6,1375 939.6,1375 939.6,1375 875.6,1375 874.6,1375 871.4,1375 867.2,1375 865.1,1374.6 863.1,1372.8 861,1372.4 859.9,1372.4 858.9,1372.4 857.8,1372.4 856.8,1371.9 855.7,1368.8 853.6,1363.6 852.6,1359.8 850.5,1353.2 848.4,1346.9 844.2,1332.2 838.9,1317.5 833.7,1305.8 831.6,1303.3 828.4,1298.7 826.3,1296.5 822.2,1292.5" fill="#8fbbd9" stroke="#1f77b4" stroke-opacity="0.5" stroke-width="5.2" stroke-linejoin="round"/><polygon points="822.2,1292.5 826.3,1296.5 828.4,1297.6 833.7,1300.3 836.8,1303.4 840,1306.6 843.1,1310 845.2,1313.5 849.4,1320.5 851.5,1324.5 855.7,1336.2 858.9,1345.2 859.9,1348.4 863.1,1358.5 865.1,1364.7 867.2,1370.4 869.3,1373.5 870.4,1374.7 876.7,1375 939.6,1375 939.6,1375 876.7,1375 870.4,1375 869.3,1375 867.2,1375 865.1,1374.6 863.1,1372.8 859.9,1372.2 858.9,1371.2 855.7,1363.3 851.5,1350.6 849.4,1344 845.2,1330.8 843.1,1325.4 840,1317.5 836.8,1311.6 833.7,1305.8 828.4,1298.7 826.3,1296.5 822.2,1292.5" fill="#ffd9b7" stroke="#dc985d" stroke-opacity="0.5" stroke-width="5.2" stroke-linejoin="round"/><polygon points="822.2,1292.5 827.4,1297.3 832.6,1301.3 835.8,1305 840,1310.3 842.1,1313.8 845.2,1319.1 847.3,1323.4 850.5,1331.4 855.7,1346.6 859.9,1359.5 861,1362.4 863.1,1367.9 864.1,1370.7 865.1,1372 867.2,1374.1 868.3,1374.9 939.6,1375 939.6,1375 868.3,1375 867.2,1375 865.1,1374.6 864.1,1373.7 863.1,1372.8 861,1372.1 859.9,1371 855.7,1360.3 850.5,1344.4 847.3,1334.7 845.2,1328.9 842.1,1321.1 840,1316.6 835.8,1309.2 832.6,1304.4 827.4,1297.5 822.2,1292.5" fill="#d6ecf3" stroke="#a5cfde" stroke-opacity="0.5" stroke-width="5.2" stroke-linejoin="round"/><path d="M851.5 1291.4V1375.5M866.2 1291.4V1375.5M895.6 1291.4V1375.5M924.9 1291.4V1375.5M816.7 1354.5H944.7M816.7 1333.5H944.7M816.7 1312.4H944.7" stroke="#b0b0b0" stroke-width="0.9" fill="none"/><path d="M822.2 1291.4V1375.5M880.9 1291.4V1375.5M939.6 1291.4V1375.5" stroke="#ff0000" stroke-opacity="0.5" stroke-width="5.5" fill="none"/><path d="M822.2 1293.5H824.2V1295.5H826.3V1297.5H828.4V1300.1H830.5V1303H832.6V1305.8H834.7V1308.9H836.8V1312.4H838.9V1315.8H841V1319.6H843.1V1324.7H845.2V1329.7H847.3V1335.4H849.4V1341.6H851.5V1347.9H853.6V1354.2H855.7V1360.4H857.8V1365.7H859.9V1370.9H862V1372.8H864.1V1374.6H939.6V1375" fill="none" stroke="#000" stroke-width="8.4" stroke-linejoin="round" stroke-linecap="round"/></g><path d="M836.8 1375.5v11M851.5 1375.5v11M866.2 1375.5v11M895.6 1375.5v11M910.2 1375.5v11M924.9 1375.5v11M816.7 1354.5h-11M816.7 1333.5h-11M816.7 1312.4h-11" stroke="#000" stroke-width="3.3" fill="none"/><path d="M822.2 1375.5v18M880.9 1375.5v18M939.6 1375.5v18M816.7 1375.5h-18.7M816.7 1291.4h-18.7" stroke="#ff0000" stroke-width="4.5" fill="none"/><rect x="816.7" y="1291.4" width="128" height="84.1" fill="none" stroke="#ff0000" stroke-width="5.5"/></g>
<g><clipPath id="c9_4"><rect x="996.1" y="1291.4" width="128" height="84.1"/></clipPath><g clip-path="url(#c9_4)"><polygon points="1001.6,1292.5 1005.7,1296.5 1007.8,1298.2 1011,1299.7 1012,1300.1 1013.1,1300.6 1016.2,1302.3 1018.3,1305 1022.5,1309.6 1024.6,1311.9 1027.8,1315.7 1029.9,1319.2 1033,1324 1034.1,1325.5 1035.1,1327.1 1036.2,1328.8 1037.2,1331.4 1038.3,1334.9 1039.3,1337.5 1041.4,1342.5 1048.7,1364.8 1050.8,1371 1051.9,1373.2 1052.9,1373.9 1054,1375 1119,1375 1119,1375 1054,1375 1052.9,1374.9 1051.9,1374.2 1050.8,1373.6 1048.7,1372.4 1041.4,1372.4 1039.3,1372.4 1038.3,1370.9 1037.2,1365.8 1036.2,1363.3 1035.1,1360.8 1034.1,1357.8 1033,1354.3 1029.9,1344.8 1027.8,1340.4 1024.6,1332.9 1022.5,1329.1 1018.3,1320.5 1016.2,1314.9 1013.1,1307.4 1012,1305.8 1011,1304.9 1007.8,1299.7 1005.7,1296.5 1001.6,1292.5" fill="#8fbbd9" stroke="#1f77b4" stroke-opacity="0.5" stroke-width="5.2" stroke-linejoin="round"/><polygon points="1001.6,1292.5 1005.7,1296.5 1009.9,1299.7 1013.1,1302 1019.4,1309.7 1024.6,1316.3 1026.7,1319.4 1032,1327.1 1034.1,1331.3 1037.2,1338.9 1039.3,1344.1 1041.4,1350.2 1042.5,1353.3 1045.6,1362.5 1048.7,1369.6 1049.8,1371.7 1050.8,1373 1052.9,1374.5 1055,1375 1119,1375 1119,1375 1055,1375 1052.9,1374.9 1050.8,1373.6 1049.8,1372.9 1048.7,1372.4 1045.6,1372.3 1042.5,1372.2 1041.4,1371.3 1039.3,1365.3 1037.2,1360.5 1034.1,1350.9 1032,1344.8 1026.7,1332.8 1024.6,1328.9 1019.4,1319 1013.1,1306.8 1009.9,1302.5 1005.7,1296.5 1001.6,1292.5" fill="#ffd9b7" stroke="#dc985d" stroke-opacity="0.5" stroke-width="5.2" stroke-linejoin="round"/><polygon points="1001.6,1292.5 1006.8,1297.4 1012,1302.3 1015.2,1306.4 1023.6,1317.3 1025.7,1320.2 1029.9,1326.1 1033,1332.5 1035.1,1337.1 1039.3,1347.6 1043.5,1360.2 1044.5,1362.8 1045.6,1364.9 1048.7,1371.2 1049.8,1372.5 1052.9,1374.7 1119,1375 1119,1375 1052.9,1374.9 1049.8,1372.9 1048.7,1372.4 1045.6,1372.2 1044.5,1371.7 1043.5,1369.7 1039.3,1360.2 1035.1,1347.5 1033,1342.2 1029.9,1335 1025.7,1326.6 1023.6,1323.1 1015.2,1309.5 1012,1305 1006.8,1297.6 1001.6,1292.5" fill="#d6ecf3" stroke="#a5cfde" stroke-opacity="0.5" stroke-width="5.2" stroke-linejoin="round"/><path d="M1016.2 1291.4V1375.5M1045.6 1291.4V1375.5M1104.3 1291.4V1375.5M996.1 1354.5H1124.1M996.1 1333.5H1124.1M996.1 1312.4H1124.1" stroke="#b0b0b0" stroke-width="0.9" fill="none"/><path d="M1001.6 1291.4V1375.5M1060.3 1291.4V1375.5M1119 1291.4V1375.5" stroke="#ff0000" stroke-opacity="0.5" stroke-width="5.5" fill="none"/><path d="M1001.6 1293.5H1003.6V1295.5H1005.7V1297.4H1007.8V1299.9H1009.9V1302.8H1012V1305.6H1014.1V1308.4H1016.2V1311.2H1018.3V1314H1020.4V1316.8H1022.5V1319.5H1024.6V1322.3H1026.7V1325.1H1028.8V1329.1H1030.9V1333.4H1033V1337.8H1035.1V1343H1037.2V1348.1H1039.3V1354.5H1041.4V1360.8H1043.5V1365H1045.6V1368.8H1047.7V1372.2H1049.8V1373.6H1051.9V1374.9H1119V1375" fill="none" stroke="#000" stroke-width="8.4" stroke-linejoin="round" stroke-linecap="round"/></g><path d="M1016.2 1375.5v11M1030.9 1375.5v11M1045.6 1375.5v11M1075 1375.5v11M1089.6 1375.5v11M1104.3 1375.5v11M996.1 1354.5h-11M996.1 1333.5h-11M996.1 1312.4h-11" stroke="#000" stroke-width="3.3" fill="none"/><path d="M1001.6 1375.5v18M1060.3 1375.5v18M1119 1375.5v18M996.1 1375.5h-18.7M996.1 1291.4h-18.7" stroke="#ff0000" stroke-width="4.5" fill="none"/><rect x="996.1" y="1291.4" width="128" height="84.1" fill="none" stroke="#ff0000" stroke-width="5.5"/></g>
<g><clipPath id="c9_5"><rect x="1175.5" y="1291.4" width="128" height="84.1"/></clipPath><g clip-path="url(#c9_5)"><polygon points="1181,1292.5 1184.1,1295.4 1187.2,1296.2 1190.4,1296.8 1191.4,1297 1192.5,1297.1 1195.6,1297.7 1197.7,1298 1198.8,1298.2 1200.9,1298.8 1205.1,1301.5 1208.2,1303.4 1210.3,1304.7 1211.4,1305.4 1214.5,1309.9 1218.7,1315.2 1219.8,1316.5 1220.8,1318.3 1222.9,1323.4 1227.1,1331.8 1229.2,1337.1 1232.3,1344.5 1233.4,1346.9 1234.4,1349.9 1236.5,1356.6 1238.6,1362.8 1242.8,1372.9 1243.9,1375 1298.4,1375 1298.4,1375 1243.9,1375 1242.8,1375 1238.6,1375 1236.5,1375 1234.4,1375 1233.4,1375 1232.3,1374.9 1229.2,1373.6 1227.1,1372.4 1222.9,1372.4 1220.8,1372.2 1219.8,1369.2 1218.7,1364 1214.5,1352.1 1211.4,1342.7 1210.3,1339.8 1208.2,1336.9 1205.1,1330.7 1200.9,1324 1198.8,1320.5 1197.7,1318.2 1195.6,1312.3 1192.5,1305 1191.4,1303.8 1190.4,1303 1187.2,1298.3 1184.1,1295.4 1181,1292.5" fill="#8fbbd9" stroke="#1f77b4" stroke-opacity="0.5" stroke-width="5.2" stroke-linejoin="round"/><polygon points="1181,1292.5 1184.1,1295.4 1188.3,1296.5 1193.5,1297.5 1195.6,1297.9 1198.8,1298.7 1200.9,1300.2 1205.1,1302.9 1209.3,1305.8 1213.5,1311.6 1215.6,1314.3 1217.7,1317.1 1220.8,1323.1 1221.9,1325.2 1222.9,1327.3 1223.9,1329.3 1225,1331.5 1227.1,1336.7 1229.2,1341.8 1231.3,1346.8 1232.3,1349.8 1235.5,1359.6 1237.6,1365.4 1240.7,1373.1 1241.8,1374.5 1243.9,1375 1298.4,1375 1298.4,1375 1243.9,1375 1241.8,1375 1240.7,1375 1237.6,1375 1235.5,1375 1232.3,1374.9 1231.3,1374.5 1229.2,1373.6 1227.1,1372.4 1225,1372.2 1223.9,1371.2 1222.9,1367.6 1221.9,1363.6 1220.8,1360.4 1217.7,1351.2 1215.6,1345 1213.5,1339.2 1209.3,1330.6 1205.1,1323.3 1200.9,1317.6 1198.8,1313.9 1195.6,1308 1193.5,1304.8 1188.3,1299.4 1184.1,1295.4 1181,1292.5" fill="#ffd9b7" stroke="#dc985d" stroke-opacity="0.5" stroke-width="5.2" stroke-linejoin="round"/><polygon points="1181,1292.5 1184.1,1295.4 1192.5,1297.7 1195.6,1298.5 1201.9,1302.7 1206.1,1305.8 1208.2,1308.9 1213.5,1315.9 1215.6,1318.8 1218.7,1324.1 1222.9,1332.6 1225,1337.9 1226,1340.5 1227.1,1343.2 1228.1,1345.8 1230.2,1351.9 1233.4,1361.5 1237.6,1372.7 1239.7,1374.7 1298.4,1375 1298.4,1375 1239.7,1375 1237.6,1375 1233.4,1375 1230.2,1374.1 1228.1,1373.2 1227.1,1372.3 1226,1372.2 1225,1369 1222.9,1361.7 1218.7,1349.3 1215.6,1339.9 1213.5,1334.8 1208.2,1324.6 1206.1,1321.7 1201.9,1316.8 1195.6,1306.6 1192.5,1303.3 1184.1,1295.4 1181,1292.5" fill="#d6ecf3" stroke="#a5cfde" stroke-opacity="0.5" stroke-width="5.2" stroke-linejoin="round"/><path d="M1195.6 1291.4V1375.5M1210.3 1291.4V1375.5M1269 1291.4V1375.5M1175.5 1354.5H1303.5M1175.5 1333.5H1303.5M1175.5 1312.4H1303.5" stroke="#b0b0b0" stroke-width="0.9" fill="none"/><path d="M1181 1291.4V1375.5M1239.7 1291.4V1375.5M1298.4 1291.4V1375.5" stroke="#ff0000" stroke-opacity="0.5" stroke-width="5.5" fill="none"/><path d="M1181 1293.5H1183V1295.4H1185.1V1297.3H1187.2V1299.2H1189.3V1301H1191.4V1302.9H1193.5V1304.7H1195.6V1306.8H1197.7V1310H1199.8V1313.2H1201.9V1316.3H1204V1318.4H1206.1V1320.5H1208.2V1322.6H1210.3V1326.3H1212.4V1330.5H1214.5V1334.7H1216.6V1341H1218.7V1347.3H1220.8V1353.5H1222.9V1359.8H1225V1366.6H1227.1V1373.2H1229.2V1374.1H1231.3V1374.9H1298.4V1375" fill="none" stroke="#000" stroke-width="8.4" stroke-linejoin="round" stroke-linecap="round"/></g><path d="M1195.6 1375.5v11M1210.3 1375.5v11M1225 1375.5v11M1254.4 1375.5v11M1269 1375.5v11M1283.7 1375.5v11M1175.5 1354.5h-11M1175.5 1333.5h-11M1175.5 1312.4h-11" stroke="#000" stroke-width="3.3" fill="none"/><path d="M1181 1375.5v18M1239.7 1375.5v18M1298.4 1375.5v18M1175.5 1375.5h-18.7M1175.5 1291.4h-18.7" stroke="#ff0000" stroke-width="4.5" fill="none"/><rect x="1175.5" y="1291.4" width="128" height="84.1" fill="none" stroke="#ff0000" stroke-width="5.5"/></g>
<g><clipPath id="c9_6"><rect x="1354.9" y="1291.4" width="128" height="84.1"/></clipPath><g clip-path="url(#c9_6)"><polygon points="1360.4,1292.5 1364.5,1295.8 1369.8,1297 1370.8,1297.3 1371.9,1297.5 1375,1298.1 1376.1,1298.3 1377.1,1298.5 1382.4,1300.1 1386.6,1301.4 1387.6,1301.7 1388.7,1302.5 1389.7,1304.3 1396,1311.4 1397.1,1312.7 1398.1,1314.6 1400.2,1318.6 1401.3,1320.3 1402.3,1322.1 1403.3,1323.8 1404.4,1326.2 1406.5,1331.8 1410.7,1341.7 1413.8,1351.2 1414.9,1354.1 1421.2,1372.4 1423.3,1374.9 1477.8,1375 1477.8,1375 1423.3,1375 1421.2,1375 1414.9,1375 1413.8,1374.3 1410.7,1372.4 1406.5,1372.4 1404.4,1372.4 1403.3,1372.4 1402.3,1372.4 1401.3,1371.4 1400.2,1367.5 1398.1,1363.5 1397.1,1360.7 1396,1356.6 1389.7,1337.6 1388.7,1334.4 1387.6,1333 1386.6,1333.8 1382.4,1328.5 1377.1,1319.6 1376.1,1316.8 1375,1313.5 1371.9,1306 1370.8,1304.3 1369.8,1303.5 1364.5,1295.8 1360.4,1292.5" fill="#8fbbd9" stroke="#1f77b4" stroke-opacity="0.5" stroke-width="5.2" stroke-linejoin="round"/><polygon points="1360.4,1292.5 1364.5,1295.8 1370.8,1297.6 1372.9,1298.2 1379.2,1300.5 1381.3,1301.3 1383.4,1302.4 1386.6,1306.3 1388.7,1308.5 1389.7,1309.7 1390.8,1310.8 1391.8,1311.9 1395,1316 1398.1,1320.8 1400.2,1324.2 1402.3,1329.5 1403.3,1332.1 1404.4,1334.6 1407.5,1342.7 1410.7,1352.1 1414.9,1364.1 1417,1369.8 1418,1372.3 1420.1,1374.3 1421.2,1374.9 1477.8,1375 1477.8,1375 1421.2,1375 1420.1,1375 1418,1375 1417,1375 1414.9,1375 1410.7,1372.4 1407.5,1372.3 1404.4,1371.9 1403.3,1369.7 1402.3,1366.8 1400.2,1362.4 1398.1,1355.6 1395,1346.1 1391.8,1336.7 1390.8,1334.2 1389.7,1333.7 1388.7,1332.6 1386.6,1329.5 1383.4,1323.7 1381.3,1320.5 1379.2,1316.6 1372.9,1306.2 1370.8,1303.7 1364.5,1295.8 1360.4,1292.5" fill="#ffd9b7" stroke="#dc985d" stroke-opacity="0.5" stroke-width="5.2" stroke-linejoin="round"/><polygon points="1360.4,1292.5 1364.5,1295.8 1374,1299.6 1378.2,1301.7 1380.3,1303.8 1383.4,1307.2 1387.6,1311.5 1389.7,1313.7 1392.9,1317.5 1393.9,1318.9 1395,1320.4 1397.1,1323.4 1398.1,1325.7 1403.3,1339.1 1407.5,1351.4 1408.6,1354.4 1410.7,1360.6 1414.9,1371.3 1415.9,1372.7 1419.1,1374.9 1477.8,1375 1477.8,1375 1419.1,1375 1415.9,1375 1414.9,1375 1410.7,1372.4 1408.6,1372.2 1407.5,1371.5 1403.3,1361.8 1398.1,1345.9 1397.1,1342.8 1395,1336.6 1393.9,1334 1392.9,1332.7 1389.7,1326.3 1387.6,1322.3 1383.4,1316.5 1380.3,1313.1 1378.2,1310.9 1374,1305.9 1364.5,1295.8 1360.4,1292.5" fill="#d6ecf3" stroke="#a5cfde" stroke-opacity="0.5" stroke-width="5.2" stroke-linejoin="round"/><path d="M1389.7 1291.4V1375.5M1433.8 1291.4V1375.5M1463.1 1291.4V1375.5M1354.9 1354.5H1482.9M1354.9 1333.5H1482.9M1354.9 1312.4H1482.9" stroke="#b0b0b0" stroke-width="0.9" fill="none"/><path d="M1360.4 1291.4V1375.5M1419.1 1291.4V1375.5M1477.8 1291.4V1375.5" stroke="#ff0000" stroke-opacity="0.5" stroke-width="5.5" fill="none"/><path d="M1360.4 1293.3H1362.4V1295H1364.5V1296.7H1366.6V1298.7H1368.7V1300.8H1370.8V1302.9H1372.9V1305H1375V1307.1H1377.1V1309.2H1379.2V1311.2H1381.3V1312.9H1383.4V1314.7H1385.5V1316.5H1387.6V1319H1389.7V1321.5H1391.8V1325H1393.9V1330.3H1396V1335.7H1398.1V1341.9H1400.2V1348.1H1402.3V1354.5H1404.4V1360.8H1406.5V1365.8H1408.6V1370.5H1410.7V1373H1412.8V1374.3H1414.9V1375H1477.8" fill="none" stroke="#000" stroke-width="8.4" stroke-linejoin="round" stroke-linecap="round"/></g><path d="M1375 1375.5v11M1389.7 1375.5v11M1404.4 1375.5v11M1433.8 1375.5v11M1448.4 1375.5v11M1463.1 1375.5v11M1354.9 1354.5h-11M1354.9 1333.5h-11M1354.9 1312.4h-11" stroke="#000" stroke-width="3.3" fill="none"/><path d="M1360.4 1375.5v18M1419.1 1375.5v18M1477.8 1375.5v18M1354.9 1375.5h-18.7M1354.9 1291.4h-18.7" stroke="#ff0000" stroke-width="4.5" fill="none"/><rect x="1354.9" y="1291.4" width="128" height="84.1" fill="none" stroke="#ff0000" stroke-width="5.5"/></g>
<g><clipPath id="c9_7"><rect x="1534.3" y="1291.4" width="128" height="84.1"/></clipPath><g clip-path="url(#c9_7)"><polygon points="1539.8,1292.5 1545,1297.4 1547.1,1298.2 1549.2,1299.1 1550.2,1299.5 1551.3,1299.9 1554.4,1301.2 1555.5,1301.6 1556.5,1302 1558.6,1302.8 1561.8,1304.1 1562.8,1304.5 1563.9,1304.9 1567,1306.1 1568.1,1306.8 1569.1,1308 1574.4,1312.6 1576.5,1314.5 1577.5,1316.3 1578.6,1318.8 1581.7,1324 1582.7,1325.8 1583.8,1328 1584.8,1331 1588,1338.6 1590.1,1343.6 1592.2,1350.4 1593.2,1353.6 1594.3,1356.7 1595.3,1359.3 1596.4,1360.4 1600.6,1368.3 1603.7,1372.1 1605.8,1375 1657.2,1375 1657.2,1375 1605.8,1375 1603.7,1375 1600.6,1375 1596.4,1375 1595.3,1375 1594.3,1374.8 1593.2,1373.3 1592.2,1372.4 1590.1,1372.4 1588,1372.4 1584.8,1372.3 1583.8,1371.7 1582.7,1369.4 1581.7,1366.5 1578.6,1360.9 1577.5,1358.3 1576.5,1354.9 1574.4,1349.5 1569.1,1333.8 1568.1,1332.6 1567,1332.2 1563.9,1327.1 1562.8,1326 1561.8,1325.4 1558.6,1322.4 1556.5,1319.9 1555.5,1316.9 1554.4,1313.2 1551.3,1305.6 1550.2,1304 1549.2,1303.4 1547.1,1300.4 1545,1297.6 1539.8,1292.5" fill="#8fbbd9" stroke="#1f77b4" stroke-opacity="0.5" stroke-width="5.2" stroke-linejoin="round"/><polygon points="1539.8,1292.5 1545,1297.5 1550.2,1300.2 1552.3,1301.3 1558.6,1304.6 1559.7,1305.1 1561.8,1306.2 1566,1309.8 1567,1310.6 1570.2,1313.1 1571.2,1313.9 1572.3,1315.2 1577.5,1324.3 1579.6,1329 1581.7,1334.4 1585.9,1344.8 1586.9,1347.8 1588,1350.8 1591.1,1359.2 1592.2,1360.9 1593.2,1363 1594.3,1365.3 1595.3,1367.5 1597.4,1370.5 1600.6,1374.7 1657.2,1375 1657.2,1375 1600.6,1375 1597.4,1375 1595.3,1375 1594.3,1374.8 1593.2,1373.3 1592.2,1372.4 1591.1,1372.3 1588,1372.2 1586.9,1371.4 1585.9,1369.5 1581.7,1360.5 1579.6,1354.8 1577.5,1349.5 1572.3,1334.9 1571.2,1332.9 1570.2,1331.9 1567,1326.2 1566,1325.2 1561.8,1319.9 1559.7,1315.2 1558.6,1313.3 1552.3,1305.3 1550.2,1303.4 1545,1297.6 1539.8,1292.5" fill="#ffd9b7" stroke="#dc985d" stroke-opacity="0.5" stroke-width="5.2" stroke-linejoin="round"/><polygon points="1539.8,1292.5 1545,1297.5 1556.5,1304.8 1560.7,1307.8 1562.8,1309.6 1566,1311.9 1569.1,1314.3 1570.2,1315.9 1572.3,1319.5 1573.3,1321.2 1575.4,1325 1583.8,1345.9 1588,1357 1590.1,1361.7 1592.2,1366.5 1593.2,1368.6 1594.3,1370.1 1597.4,1374.4 1598.5,1374.9 1657.2,1375 1657.2,1375 1598.5,1375 1597.4,1375 1594.3,1374.8 1593.2,1373.3 1592.2,1372.4 1590.1,1372.2 1588,1369.2 1583.8,1359.6 1575.4,1337.8 1573.3,1332.7 1572.3,1331 1570.2,1326.6 1569.1,1325 1566,1320.3 1562.8,1314.5 1560.7,1312.5 1556.5,1308.7 1545,1297.6 1539.8,1292.5" fill="#d6ecf3" stroke="#a5cfde" stroke-opacity="0.5" stroke-width="5.2" stroke-linejoin="round"/><path d="M1554.4 1291.4V1375.5M1569.1 1291.4V1375.5M1583.8 1291.4V1375.5M1613.2 1291.4V1375.5M1627.8 1291.4V1375.5M1534.3 1354.5H1662.3M1534.3 1333.5H1662.3M1534.3 1312.4H1662.3" stroke="#b0b0b0" stroke-width="0.9" fill="none"/><path d="M1539.8 1291.4V1375.5M1598.5 1291.4V1375.5M1657.2 1291.4V1375.5" stroke="#ff0000" stroke-opacity="0.5" stroke-width="5.5" fill="none"/><path d="M1539.8 1293.5H1541.8V1295.6H1543.9V1297.6H1546V1299.4H1548.1V1301.2H1550.2V1302.9H1552.3V1304.7H1554.4V1306.4H1556.5V1308.2H1558.6V1309.9H1560.7V1311.3H1562.8V1312.7H1564.9V1314.1H1567V1317.4H1569.1V1320.7H1571.2V1324.6H1573.3V1329.8H1575.4V1335.1H1577.5V1340.3H1579.6V1345.6H1581.7V1350.8H1583.8V1356H1585.9V1361.3H1588V1366.5H1590.1V1370.4H1592.2V1373.3H1594.3V1375H1657.2" fill="none" stroke="#000" stroke-width="8.4" stroke-linejoin="round" stroke-linecap="round"/></g><path d="M1554.4 1375.5v11M1569.1 1375.5v11M1583.8 1375.5v11M1613.2 1375.5v11M1627.8 1375.5v11M1642.5 1375.5v11M1534.3 1354.5h-11M1534.3 1333.5h-11M1534.3 1312.4h-11" stroke="#000" stroke-width="3.3" fill="none"/><path d="M1539.8 1375.5v18M1598.5 1375.5v18M1657.2 1375.5v18M1534.3 1375.5h-18.7M1534.3 1291.4h-18.7" stroke="#ff0000" stroke-width="4.5" fill="none"/><rect x="1534.3" y="1291.4" width="128" height="84.1" fill="none" stroke="#ff0000" stroke-width="5.5"/></g>
<g><clipPath id="c9_8"><rect x="1713.7" y="1291.4" width="128" height="84.1"/></clipPath><g clip-path="url(#c9_8)"><polygon points="1719.2,1292.5 1723.3,1296.5 1724.4,1297.4 1728.6,1299.1 1729.6,1299.5 1730.7,1299.9 1733.8,1301.1 1735.9,1301.9 1737,1302.4 1744.3,1305.3 1747.5,1306.7 1749.6,1308.8 1750.6,1309.7 1752.7,1311.6 1753.8,1312.5 1754.8,1313.4 1755.9,1314.3 1756.9,1316.9 1758,1321.4 1759,1324 1760.1,1326.6 1761.1,1328.6 1762.1,1329.5 1764.2,1332.5 1766.3,1336.3 1768.4,1343.9 1771.6,1353.2 1772.6,1355.3 1774.7,1360.5 1778.9,1374 1780,1375 1836.6,1375 1836.6,1375 1780,1375 1778.9,1375 1774.7,1374.6 1772.6,1373.9 1771.6,1372.4 1768.4,1372.4 1766.3,1372.4 1764.2,1372.3 1762.1,1369.3 1761.1,1368.1 1760.1,1366.9 1759,1365.6 1758,1363.4 1756.9,1360.5 1755.9,1358.4 1754.8,1356.3 1753.8,1353.3 1752.7,1349.3 1750.6,1343 1749.6,1340.4 1747.5,1340 1744.3,1336.3 1737,1325.6 1735.9,1323.4 1733.8,1315.8 1730.7,1307 1729.6,1305.4 1728.6,1305 1724.4,1298 1723.3,1296.5 1719.2,1292.5" fill="#8fbbd9" stroke="#1f77b4" stroke-opacity="0.5" stroke-width="5.2" stroke-linejoin="round"/><polygon points="1719.2,1292.5 1724.4,1297.4 1729.6,1299.8 1730.7,1300.2 1732.8,1301.2 1735.9,1302.6 1739.1,1304.1 1744.3,1306.6 1749.6,1311.6 1750.6,1312.6 1752.7,1314.7 1754.8,1318.3 1755.9,1321.2 1758,1325.7 1759,1327.9 1761.1,1330.8 1763.2,1334.6 1764.2,1337.2 1766.3,1344.2 1767.4,1347.2 1769.5,1352.9 1771.6,1357.5 1772.6,1360 1775.8,1368.7 1777.9,1374.2 1780,1375 1836.6,1375 1836.6,1375 1780,1375 1777.9,1375 1775.8,1374.7 1772.6,1373.9 1771.6,1372.4 1769.5,1372.3 1767.4,1372 1766.3,1370.4 1764.2,1367.4 1763.2,1365.9 1761.1,1361.4 1759,1357.1 1758,1354.7 1755.9,1349.2 1754.8,1346.5 1752.7,1340.9 1750.6,1339 1749.6,1337.4 1744.3,1327.3 1739.1,1318.1 1735.9,1314.4 1732.8,1309.1 1730.7,1305.8 1729.6,1304.9 1724.4,1297.7 1719.2,1292.5" fill="#ffd9b7" stroke="#dc985d" stroke-opacity="0.5" stroke-width="5.2" stroke-linejoin="round"/><polygon points="1719.2,1292.5 1724.4,1297.4 1733.8,1302.7 1737,1304.4 1740.1,1306.3 1743.3,1309.4 1747.5,1313.6 1748.5,1314.6 1751.7,1318.2 1753.8,1322 1754.8,1323.7 1756.9,1328.1 1759,1331.8 1761.1,1336.5 1764.2,1345.9 1766.3,1351.3 1769.5,1358.2 1771.6,1363.2 1772.6,1365.8 1775.8,1373.2 1776.8,1374.4 1780,1375 1836.6,1375 1836.6,1375 1780,1375 1776.8,1374.9 1775.8,1374.7 1772.6,1373.9 1771.6,1372.4 1769.5,1371.7 1766.3,1366.7 1764.2,1362.7 1761.1,1356.2 1759,1351.6 1756.9,1346.6 1754.8,1341.3 1753.8,1339.9 1751.7,1335.5 1748.5,1327.6 1747.5,1325.4 1743.3,1319.3 1740.1,1316.4 1737,1313.6 1733.8,1309.3 1724.4,1297.6 1719.2,1292.5" fill="#d6ecf3" stroke="#a5cfde" stroke-opacity="0.5" stroke-width="5.2" stroke-linejoin="round"/><path d="M1733.8 1291.4V1375.5M1763.2 1291.4V1375.5M1807.2 1291.4V1375.5M1821.9 1291.4V1375.5M1713.7 1354.5H1841.7M1713.7 1333.5H1841.7M1713.7 1312.4H1841.7" stroke="#b0b0b0" stroke-width="0.9" fill="none"/><path d="M1719.2 1291.4V1375.5M1777.9 1291.4V1375.5M1836.6 1291.4V1375.5" stroke="#ff0000" stroke-opacity="0.5" stroke-width="5.5" fill="none"/><path d="M1719.2 1293.5H1721.2V1295.5H1723.3V1297.5H1725.4V1299.8H1727.5V1302.2H1729.6V1304.7H1731.7V1307.1H1733.8V1309.6H1735.9V1312.1H1738V1314.3H1740.1V1315.7H1742.2V1317.1H1744.3V1318.5H1746.4V1320.9H1748.5V1323.4H1750.6V1326.8H1752.7V1333.9H1754.8V1339.8H1756.9V1345H1759V1349.8H1761.1V1354.1H1763.2V1358.3H1765.3V1362.5H1767.4V1366.7H1769.5V1370.3H1771.6V1373.9H1773.7V1374.6H1836.6V1375" fill="none" stroke="#000" stroke-width="8.4" stroke-linejoin="round" stroke-linecap="round"/></g><path d="M1733.8 1375.5v11M1748.5 1375.5v11M1763.2 1375.5v11M1792.6 1375.5v11M1807.2 1375.5v11M1821.9 1375.5v11M1713.7 1354.5h-11M1713.7 1333.5h-11M1713.7 1312.4h-11" stroke="#000" stroke-width="3.3" fill="none"/><path d="M1719.2 1375.5v18M1777.9 1375.5v18M1836.6 1375.5v18M1713.7 1375.5h-18.7M1713.7 1291.4h-18.7" stroke="#ff0000" stroke-width="4.5" fill="none"/><rect x="1713.7" y="1291.4" width="128" height="84.1" fill="none" stroke="#ff0000" stroke-width="5.5"/></g>
<g><clipPath id="c9_9"><rect x="1893.1" y="1291.4" width="128" height="84.1"/></clipPath><g clip-path="url(#c9_9)"><polygon points="1898.6,1292.5 1899.6,1292.9 1903.8,1296.1 1905.9,1296.5 1908,1297 1909,1297.2 1910.1,1297.4 1913.2,1298 1915.3,1298.4 1917.4,1298.7 1919.5,1298.9 1920.6,1299 1922.7,1299.2 1925.8,1299.5 1926.9,1299.7 1927.9,1300.4 1929,1301.1 1932.1,1303.1 1935.3,1305.1 1936.3,1306.3 1937.4,1308.3 1940.5,1312.5 1941.5,1313.9 1942.6,1315.5 1944.7,1319.4 1948.9,1326.4 1949.9,1329 1951,1332.6 1953.1,1337.9 1955.2,1344.6 1959.4,1359 1964.6,1375 2016,1375 2016,1375 1964.6,1375 1959.4,1375 1955.2,1372.5 1953.1,1372.4 1951,1372.4 1949.9,1372.4 1948.9,1372.4 1944.7,1372.4 1942.6,1371.9 1941.5,1368 1940.5,1363.4 1937.4,1354.5 1936.3,1351.4 1935.3,1347.8 1932.1,1336.9 1929,1327.3 1927.9,1324.8 1926.9,1325.3 1925.8,1325.9 1922.7,1323.8 1920.6,1322 1919.5,1320.3 1917.4,1317.7 1915.3,1314.8 1913.2,1309.7 1910.1,1303.5 1909,1302.1 1908,1301.3 1905.9,1298.4 1903.8,1296.4 1899.6,1292.9 1898.6,1292.5" fill="#8fbbd9" stroke="#1f77b4" stroke-opacity="0.5" stroke-width="5.2" stroke-linejoin="round"/><polygon points="1898.6,1292.5 1899.6,1292.9 1903.8,1296.1 1910.1,1297.7 1915.3,1298.7 1919.5,1299.3 1922.7,1300.1 1924.8,1301.6 1925.8,1302.3 1929,1304.5 1931.1,1306.4 1932.1,1308.1 1935.3,1311.4 1937.4,1313.5 1940.5,1317.3 1945.7,1327.2 1946.8,1330.1 1947.8,1333.4 1949.9,1339.1 1955.2,1354.9 1958.3,1364.2 1959.4,1366.9 1961.5,1372.1 1962.5,1373.8 1963.6,1374.9 2016,1375 2016,1375 1963.6,1375 1962.5,1375 1961.5,1375 1959.4,1375 1958.3,1374.5 1955.2,1372.5 1949.9,1372.3 1947.8,1372.1 1946.8,1370.5 1945.7,1367.8 1940.5,1353.5 1937.4,1345.1 1935.3,1338.6 1932.1,1328.9 1931.1,1326.5 1929,1325.4 1925.8,1322.1 1924.8,1320.2 1922.7,1317.2 1919.5,1313.8 1915.3,1309.7 1910.1,1302.6 1903.8,1296.4 1899.6,1292.9 1898.6,1292.5" fill="#ffd9b7" stroke="#dc985d" stroke-opacity="0.5" stroke-width="5.2" stroke-linejoin="round"/><polygon points="1898.6,1292.5 1899.6,1292.9 1903.8,1296.2 1911.1,1298.5 1916.4,1299.4 1918.5,1300.5 1923.7,1304.5 1925.8,1306.5 1926.9,1307.9 1927.9,1309.2 1930,1310.8 1932.1,1312.3 1933.2,1313.2 1935.3,1315.1 1937.4,1317.2 1938.4,1318.9 1940.5,1323.3 1942.6,1328 1947.8,1343.3 1951,1351.5 1953.1,1357.3 1955.2,1363.1 1958.3,1370.3 1959.4,1372.3 1961.5,1374.5 1963.6,1374.9 2016,1375 2016,1375 1963.6,1375 1961.5,1375 1959.4,1375 1958.3,1374.5 1955.2,1372.5 1953.1,1372.3 1951,1371.8 1947.8,1365.4 1942.6,1352.2 1940.5,1347.4 1938.4,1342.2 1937.4,1338.9 1935.3,1332.5 1933.2,1326.6 1932.1,1325.8 1930,1322.8 1927.9,1318.4 1926.9,1317.1 1925.8,1316.2 1923.7,1314.5 1918.5,1310.7 1916.4,1309.2 1911.1,1303.1 1903.8,1296.4 1899.6,1292.9 1898.6,1292.5" fill="#d6ecf3" stroke="#a5cfde" stroke-opacity="0.5" stroke-width="5.2" stroke-linejoin="round"/><path d="M1927.9 1291.4V1375.5M1942.6 1291.4V1375.5M1972 1291.4V1375.5M2001.3 1291.4V1375.5M1893.1 1354.5H2021.1M1893.1 1333.5H2021.1M1893.1 1312.4H2021.1" stroke="#b0b0b0" stroke-width="0.9" fill="none"/><path d="M1898.6 1291.4V1375.5M1957.3 1291.4V1375.5M2016 1291.4V1375.5" stroke="#ff0000" stroke-opacity="0.5" stroke-width="5.5" fill="none"/><path d="M1898.6 1292.9H1900.6V1294.6H1902.7V1296.4H1904.8V1298.1H1906.9V1299.9H1909V1301.6H1911.1V1303.5H1913.2V1305.6H1915.3V1307.7H1917.4V1309.7H1919.5V1310.7H1921.6V1311.8H1923.7V1312.8H1925.8V1314.2H1927.9V1315.6H1930V1317H1932.1V1321.2H1934.2V1326.9H1936.3V1332.9H1938.4V1339.2H1940.5V1344.9H1942.6V1349.1H1944.7V1353.5H1946.8V1358.7H1948.9V1363.9H1951V1367.6H1953.1V1371.3H1955.2V1373.1H1957.3V1374.5H1959.4V1375H2016" fill="none" stroke="#000" stroke-width="8.4" stroke-linejoin="round" stroke-linecap="round"/></g><path d="M1913.2 1375.5v11M1927.9 1375.5v11M1942.6 1375.5v11M1972 1375.5v11M1986.6 1375.5v11M2001.3 1375.5v11M1893.1 1354.5h-11M1893.1 1333.5h-11M1893.1 1312.4h-11" stroke="#000" stroke-width="3.3" fill="none"/><path d="M1898.6 1375.5v18M1957.3 1375.5v18M2016 1375.5v18M1893.1 1375.5h-18.7M1893.1 1291.4h-18.7" stroke="#ff0000" stroke-width="4.5" fill="none"/><rect x="1893.1" y="1291.4" width="128" height="84.1" fill="none" stroke="#ff0000" stroke-width="5.5"/></g>
<g><clipPath id="c9_10"><rect x="2072.5" y="1291.4" width="128" height="84.1"/></clipPath><g clip-path="url(#c9_10)"><polygon points="2077.9,1292.5 2085.3,1299.3 2088.4,1301.8 2090.5,1303.1 2092.6,1304.4 2094.7,1306.8 2096.8,1308.9 2100,1312 2102.1,1314.1 2107.3,1318.8 2108.4,1319.8 2109.4,1320.7 2110.5,1321.6 2112.6,1323.5 2113.6,1325.9 2114.7,1330.1 2117.8,1337.7 2118.9,1340.6 2119.9,1344.1 2123,1353.5 2124.1,1354.7 2125.1,1355.1 2128.3,1360.2 2133.5,1371 2134.6,1373.4 2135.6,1374.4 2140.9,1375 2195.4,1375 2195.4,1375 2140.9,1375 2135.6,1374.4 2134.6,1373.5 2133.5,1372.4 2128.3,1372.4 2125.1,1372.4 2124.1,1371.3 2123,1366.4 2119.9,1356.2 2118.9,1352.1 2117.8,1347.9 2114.7,1335.3 2113.6,1331.2 2112.6,1329.4 2110.5,1324.1 2109.4,1323.1 2108.4,1323.9 2107.3,1323.7 2102.1,1320.7 2100,1318.3 2096.8,1315.2 2094.7,1312.7 2092.6,1308.8 2090.5,1305.4 2088.4,1302.7 2085.3,1299.4 2077.9,1292.5" fill="#8fbbd9" stroke="#1f77b4" stroke-opacity="0.5" stroke-width="5.2" stroke-linejoin="round"/><polygon points="2077.9,1292.5 2086.3,1300.4 2090.5,1303.6 2093.7,1307 2096.8,1310.6 2100,1314.2 2106.3,1319 2108.4,1320.6 2109.4,1321.4 2111.5,1323 2112.6,1324.7 2114.7,1330.7 2117.8,1338.9 2120.9,1348.3 2123,1353.8 2124.1,1355 2128.3,1362.7 2129.3,1364.7 2133.5,1371.7 2134.6,1373.4 2135.6,1374.4 2140.9,1375 2195.4,1375 2195.4,1375 2140.9,1375 2135.6,1374.4 2134.6,1373.5 2133.5,1372.4 2129.3,1372.2 2128.3,1370.9 2124.1,1362 2123,1359.7 2120.9,1353.6 2117.8,1343.5 2114.7,1332.9 2112.6,1327.8 2111.5,1325.1 2109.4,1323.1 2108.4,1322.9 2106.3,1321.6 2100,1316.7 2096.8,1314.2 2093.7,1309.5 2090.5,1305 2086.3,1300.5 2077.9,1292.5" fill="#ffd9b7" stroke="#dc985d" stroke-opacity="0.5" stroke-width="5.2" stroke-linejoin="round"/><polygon points="2077.9,1292.5 2086.3,1300.4 2090.5,1304.1 2096.8,1311.7 2098.9,1314.2 2111.5,1323.3 2112.6,1325.4 2114.7,1331.1 2117.8,1339.5 2120.9,1348.8 2123,1354.1 2124.1,1355.9 2126.2,1360.3 2130.4,1367.4 2131.4,1369 2133.5,1372 2134.6,1373.4 2135.6,1374.4 2140.9,1375 2195.4,1375 2195.4,1375 2140.9,1375 2135.6,1374.4 2134.6,1373.5 2133.5,1372.4 2131.4,1372.2 2130.4,1370.9 2126.2,1363.6 2124.1,1359.7 2123,1357 2120.9,1351.2 2117.8,1341.7 2114.7,1332.1 2112.6,1327 2111.5,1324.3 2098.9,1315.3 2096.8,1313.5 2090.5,1304.8 2086.3,1300.4 2077.9,1292.5" fill="#d6ecf3" stroke="#a5cfde" stroke-opacity="0.5" stroke-width="5.2" stroke-linejoin="round"/><path d="M2092.6 1291.4V1375.5M2122 1291.4V1375.5M2166 1291.4V1375.5M2072.5 1354.5H2200.5M2072.5 1333.5H2200.5M2072.5 1312.4H2200.5" stroke="#b0b0b0" stroke-width="0.9" fill="none"/><path d="M2077.9 1291.4V1375.5M2136.7 1291.4V1375.5M2195.4 1291.4V1375.5" stroke="#ff0000" stroke-opacity="0.5" stroke-width="5.5" fill="none"/><path d="M2077.9 1293.4H2080V1295.3H2082.1V1297.3H2084.2V1299.3H2086.3V1301.4H2088.4V1303.5H2090.5V1305.9H2092.6V1308.7H2094.7V1311.5H2096.8V1314.2H2098.9V1315.6H2101V1317H2103.1V1318.4H2105.2V1319.8H2107.3V1321.2H2109.4V1322.6H2111.5V1326.1H2113.6V1331.4H2115.7V1337.1H2117.8V1343.3H2119.9V1349.3H2122V1354.6H2124.1V1359.7H2126.2V1363.1H2128.3V1366.5H2130.4V1369.5H2132.5V1372.2H2134.6V1374.4H2138.8V1375H2195.4" fill="none" stroke="#000" stroke-width="8.4" stroke-linejoin="round" stroke-linecap="round"/></g><path d="M2092.6 1375.5v11M2107.3 1375.5v11M2122 1375.5v11M2151.4 1375.5v11M2166 1375.5v11M2180.7 1375.5v11M2072.5 1354.5h-11M2072.5 1333.5h-11M2072.5 1312.4h-11" stroke="#000" stroke-width="3.3" fill="none"/><path d="M2077.9 1375.5v18M2136.7 1375.5v18M2195.4 1375.5v18M2072.5 1375.5h-18.7M2072.5 1291.4h-18.7" stroke="#ff0000" stroke-width="4.5" fill="none"/><rect x="2072.5" y="1291.4" width="128" height="84.1" fill="none" stroke="#ff0000" stroke-width="5.5"/></g>
<g text-anchor="middle">
<text x="1209" y="92.7">First dose 3 days after the infection of 10 cells</text>
<text x="1209" y="150.8">Time between doses (hours)</text>
<text x="342.5" y="216.4">24</text><text x="521.9" y="216.4">36</text><text x="701.3" y="216.4">48</text><text x="880.7" y="216.4">60</text><text x="1060.1" y="216.4">72</text><text x="1239.5" y="216.4">84</text><text x="1418.9" y="216.4">96</text><text x="1598.3" y="216.4">108</text><text x="1777.7" y="216.4">120</text><text x="1957.1" y="216.4">132</text><text x="2136.5" y="216.4">144</text>
<text transform="translate(2220.7 270.2) rotate(90)">0.01</text><text transform="translate(2220.7 388) rotate(90)">0.02</text><text transform="translate(2220.7 505.9) rotate(90)">0.03</text><text transform="translate(2220.7 623.8) rotate(90)">0.04</text><text transform="translate(2220.7 741.7) rotate(90)">0.05</text><text transform="translate(2220.7 859.5) rotate(90)">0.06</text><text transform="translate(2220.7 977.4) rotate(90)">0.07</text><text transform="translate(2220.7 1095.3) rotate(90)">0.08</text><text transform="translate(2220.7 1213.2) rotate(90)">0.09</text><text transform="translate(2220.7 1331.1) rotate(90)">0.1</text>
<text x="283.9" y="1449.9">0</text><text x="401.4" y="1449.9">28</text><text x="463.3" y="1449.9">0</text><text x="580.8" y="1449.9">28</text><text x="642.8" y="1449.9">0</text><text x="760.2" y="1449.9">28</text><text x="822.2" y="1449.9">0</text><text x="939.6" y="1449.9">28</text><text x="1001.6" y="1449.9">0</text><text x="1119" y="1449.9">28</text><text x="1181" y="1449.9">0</text><text x="1298.4" y="1449.9">28</text><text x="1360.4" y="1449.9">0</text><text x="1477.8" y="1449.9">28</text><text x="1539.8" y="1449.9">0</text><text x="1657.2" y="1449.9">28</text><text x="1719.2" y="1449.9">0</text><text x="1836.6" y="1449.9">28</text><text x="1898.6" y="1449.9">0</text><text x="2016" y="1449.9">28</text><text x="2077.9" y="1449.9">0</text><text x="2195.4" y="1449.9">28</text>
<text x="1209" y="1526.5">Simulation time (days)</text>
<text transform="translate(92.5 795) rotate(-90)">Number of uninfected cells</text>
<text transform="translate(2323.1 798.4) rotate(90)">IC50 multiplier</text>
</g>
<g text-anchor="end">
<text x="240.5" y="248.9">900</text><text x="240.5" y="332.6">0</text><text x="240.5" y="366.8">900</text><text x="240.5" y="450.5">0</text><text x="240.5" y="484.7">900</text><text x="240.5" y="568.4">0</text><text x="240.5" y="602.5">900</text><text x="240.5" y="686.2">0</text><text x="240.5" y="720.4">900</text><text x="240.5" y="804.1">0</text><text x="240.5" y="838.3">900</text><text x="240.5" y="922">0</text><text x="240.5" y="956.2">900</text><text x="240.5" y="1039.9">0</text><text x="240.5" y="1074.1">900</text><text x="240.5" y="1157.8">0</text><text x="240.5" y="1191.9">900</text><text x="240.5" y="1275.6">0</text><text x="240.5" y="1309.8">900</text><text x="240.5" y="1393.5">0</text>
</g>
</svg>
</body></html>
